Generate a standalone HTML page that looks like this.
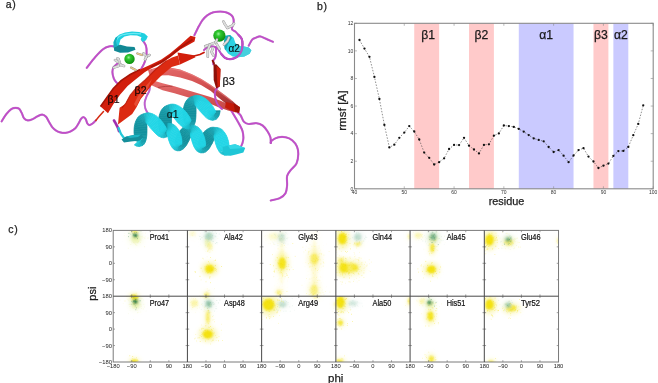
<!DOCTYPE html>
<html><head><meta charset="utf-8"><title>Figure</title>
<style>html,body{margin:0;padding:0;background:#fff;overflow:hidden}svg{display:block;filter:blur(0.45px)}</style></head>
<body><svg width="658" height="383" viewBox="0 0 658 383">
<rect width="658" height="383" fill="#fff"/>
<defs><linearGradient id="bru" x1="0" y1="0" x2="0.35" y2="1"><stop offset="0" stop-color="#e46a6a"/><stop offset="0.55" stop-color="#d45252"/><stop offset="1" stop-color="#a83434"/></linearGradient><linearGradient id="brl" x1="0" y1="0" x2="0.2" y2="1"><stop offset="0" stop-color="#e87070"/><stop offset="1" stop-color="#c84848"/></linearGradient></defs>
<polygon points="150.00,79.50 162.60,83.20 174.40,86.20 186.10,89.70 197.90,93.20 209.60,96.80 220.00,100.50 230.00,105.00 238.00,108.50 236.00,112.50 228.00,110.50 218.00,107.00 209.60,103.50 197.90,100.30 186.10,96.80 174.40,93.20 162.60,90.30 152.00,85.50" fill="url(#brl)" />
<path d="M158,87.5 C163,86.5 168,86 172.5,86.3" stroke="#9c3030" stroke-width="0.9" fill="none" opacity="0.7"/>
<polygon points="148.00,70.00 156.70,67.40 168.50,67.20 180.20,69.50 192.00,74.20 201.40,79.00 210.80,85.00 218.00,90.00 226.00,96.00 233.00,101.50 238.00,106.00 236.00,110.00 229.00,106.00 222.00,100.50 216.00,95.50 210.80,91.00 201.40,85.20 192.00,81.00 180.20,77.40 168.50,75.20 156.00,75.50 150.00,77.00" fill="url(#bru)" />
<path d="M152,70 C160,68 170,68 180,70.3 C190,73.5 200,78.5 210,85 L232,101" stroke="#ec8888" stroke-width="1.2" fill="none" opacity="0.6"/>
<path d="M1.60,121.40 C2.38,120.18 4.65,116.18 6.30,114.10 C7.95,112.02 9.93,109.95 11.50,108.90 C13.07,107.85 14.40,107.80 15.70,107.80 C17.00,107.80 18.25,107.93 19.30,108.90 C20.35,109.87 21.22,112.03 22.00,113.60 C22.78,115.17 23.05,117.17 24.00,118.30 C24.95,119.43 26.30,120.23 27.70,120.40 C29.10,120.57 30.75,120.00 32.40,119.30 C34.05,118.60 35.95,116.98 37.60,116.20 C39.25,115.42 40.90,114.52 42.30,114.60 C43.70,114.68 44.87,115.47 46.00,116.70 C47.13,117.93 48.05,120.25 49.10,122.00 C50.15,123.75 51.08,125.73 52.30,127.20 C53.52,128.67 55.08,129.93 56.40,130.80 C57.72,131.67 58.68,132.05 60.20,132.40 C61.72,132.75 63.75,133.07 65.50,132.90 C67.25,132.73 69.05,132.18 70.70,131.40 C72.35,130.62 74.10,129.52 75.40,128.20 C76.70,126.88 77.55,125.07 78.50,123.50 C79.45,121.93 80.23,119.85 81.10,118.80 C81.97,117.75 82.92,117.12 83.70,117.20 C84.48,117.28 85.18,118.25 85.80,119.30 C86.42,120.35 86.78,122.53 87.40,123.50 C88.02,124.47 88.63,125.10 89.50,125.10 C90.37,125.10 91.55,124.28 92.60,123.50 C93.65,122.72 95.27,120.92 95.80,120.40" fill="none" stroke="#8c2a9c" stroke-width="2.15" stroke-linecap="round" stroke-linejoin="round" opacity="0.45"/>
<path d="M1.60,121.40 C2.38,120.18 4.65,116.18 6.30,114.10 C7.95,112.02 9.93,109.95 11.50,108.90 C13.07,107.85 14.40,107.80 15.70,107.80 C17.00,107.80 18.25,107.93 19.30,108.90 C20.35,109.87 21.22,112.03 22.00,113.60 C22.78,115.17 23.05,117.17 24.00,118.30 C24.95,119.43 26.30,120.23 27.70,120.40 C29.10,120.57 30.75,120.00 32.40,119.30 C34.05,118.60 35.95,116.98 37.60,116.20 C39.25,115.42 40.90,114.52 42.30,114.60 C43.70,114.68 44.87,115.47 46.00,116.70 C47.13,117.93 48.05,120.25 49.10,122.00 C50.15,123.75 51.08,125.73 52.30,127.20 C53.52,128.67 55.08,129.93 56.40,130.80 C57.72,131.67 58.68,132.05 60.20,132.40 C61.72,132.75 63.75,133.07 65.50,132.90 C67.25,132.73 69.05,132.18 70.70,131.40 C72.35,130.62 74.10,129.52 75.40,128.20 C76.70,126.88 77.55,125.07 78.50,123.50 C79.45,121.93 80.23,119.85 81.10,118.80 C81.97,117.75 82.92,117.12 83.70,117.20 C84.48,117.28 85.18,118.25 85.80,119.30 C86.42,120.35 86.78,122.53 87.40,123.50 C88.02,124.47 88.63,125.10 89.50,125.10 C90.37,125.10 91.55,124.28 92.60,123.50 C93.65,122.72 95.27,120.92 95.80,120.40" fill="none" stroke="#c04ec8" stroke-width="1.75" stroke-linecap="round" stroke-linejoin="round"/>
<path d="M95.8,120.4 L99,116.6 L103.5,111.6" stroke="#d42a10" stroke-width="1.5" fill="none" stroke-linecap="round"/>
<path d="M86.70,67.90 C88.15,66.07 92.65,60.03 95.40,56.90 C98.15,53.77 100.85,50.87 103.20,49.10 C105.55,47.33 107.37,46.72 109.50,46.30 C111.63,45.88 114.92,46.55 116.00,46.60" fill="none" stroke="#8c2a9c" stroke-width="2.15" stroke-linecap="round" stroke-linejoin="round" opacity="0.45"/>
<path d="M86.70,67.90 C88.15,66.07 92.65,60.03 95.40,56.90 C98.15,53.77 100.85,50.87 103.20,49.10 C105.55,47.33 107.37,46.72 109.50,46.30 C111.63,45.88 114.92,46.55 116.00,46.60" fill="none" stroke="#c04ec8" stroke-width="1.75" stroke-linecap="round" stroke-linejoin="round"/>
<path d="M117.50,63.50 C116.83,64.17 114.35,66.08 113.50,67.50 C112.65,68.92 112.35,70.17 112.40,72.00 C112.45,73.83 113.12,76.75 113.80,78.50 C114.48,80.25 115.47,81.33 116.50,82.50 C117.53,83.67 119.42,85.00 120.00,85.50" fill="none" stroke="#8c2a9c" stroke-width="2.15" stroke-linecap="round" stroke-linejoin="round" opacity="0.45"/>
<path d="M117.50,63.50 C116.83,64.17 114.35,66.08 113.50,67.50 C112.65,68.92 112.35,70.17 112.40,72.00 C112.45,73.83 113.12,76.75 113.80,78.50 C114.48,80.25 115.47,81.33 116.50,82.50 C117.53,83.67 119.42,85.00 120.00,85.50" fill="none" stroke="#c04ec8" stroke-width="1.75" stroke-linecap="round" stroke-linejoin="round"/>
<path d="M142.00,39.40 C142.65,40.43 145.13,43.25 145.90,45.60 C146.67,47.95 146.75,50.88 146.60,53.50 C146.45,56.12 145.77,58.95 145.00,61.30 C144.23,63.65 143.03,65.77 142.00,67.60 C140.97,69.43 139.72,71.07 138.80,72.30 C137.88,73.53 136.88,74.55 136.50,75.00" fill="none" stroke="#8c2a9c" stroke-width="2.15" stroke-linecap="round" stroke-linejoin="round" opacity="0.45"/>
<path d="M142.00,39.40 C142.65,40.43 145.13,43.25 145.90,45.60 C146.67,47.95 146.75,50.88 146.60,53.50 C146.45,56.12 145.77,58.95 145.00,61.30 C144.23,63.65 143.03,65.77 142.00,67.60 C140.97,69.43 139.72,71.07 138.80,72.30 C137.88,73.53 136.88,74.55 136.50,75.00" fill="none" stroke="#c04ec8" stroke-width="1.75" stroke-linecap="round" stroke-linejoin="round"/>
<path d="M194.40,35.20 C194.78,34.42 195.92,32.07 196.70,30.50 C197.48,28.93 198.12,27.55 199.10,25.80 C200.08,24.05 201.23,21.75 202.60,20.00 C203.97,18.25 205.53,16.58 207.30,15.30 C209.07,14.02 211.05,12.93 213.20,12.30 C215.35,11.67 218.05,11.50 220.20,11.50 C222.35,11.50 224.33,11.77 226.10,12.30 C227.87,12.83 229.63,13.82 230.80,14.70 C231.97,15.58 232.62,16.33 233.10,17.60 C233.58,18.87 233.78,20.93 233.70,22.30 C233.62,23.67 232.88,24.62 232.60,25.80 C232.32,26.98 231.52,28.42 232.00,29.40 C232.48,30.38 234.40,30.77 235.50,31.70 C236.60,32.63 237.58,33.83 238.60,35.00 C239.62,36.17 240.95,37.18 241.60,38.70 C242.25,40.22 242.50,42.13 242.50,44.10 C242.50,46.07 242.20,48.67 241.60,50.50 C241.00,52.33 240.12,53.80 238.90,55.10 C237.68,56.40 235.83,57.62 234.30,58.30 C232.77,58.98 231.22,59.27 229.70,59.20 C228.18,59.13 226.57,58.73 225.20,57.90 C223.83,57.07 222.42,55.27 221.50,54.20 C220.58,53.13 220.30,52.42 219.70,51.50 C219.10,50.58 218.67,49.47 217.90,48.70 C217.13,47.93 216.17,47.28 215.10,46.90 C214.03,46.52 212.87,46.25 211.50,46.40 C210.13,46.55 208.15,47.20 206.90,47.80 C205.65,48.40 204.48,49.63 204.00,50.00" fill="none" stroke="#8c2a9c" stroke-width="2.15" stroke-linecap="round" stroke-linejoin="round" opacity="0.45"/>
<path d="M194.40,35.20 C194.78,34.42 195.92,32.07 196.70,30.50 C197.48,28.93 198.12,27.55 199.10,25.80 C200.08,24.05 201.23,21.75 202.60,20.00 C203.97,18.25 205.53,16.58 207.30,15.30 C209.07,14.02 211.05,12.93 213.20,12.30 C215.35,11.67 218.05,11.50 220.20,11.50 C222.35,11.50 224.33,11.77 226.10,12.30 C227.87,12.83 229.63,13.82 230.80,14.70 C231.97,15.58 232.62,16.33 233.10,17.60 C233.58,18.87 233.78,20.93 233.70,22.30 C233.62,23.67 232.88,24.62 232.60,25.80 C232.32,26.98 231.52,28.42 232.00,29.40 C232.48,30.38 234.40,30.77 235.50,31.70 C236.60,32.63 237.58,33.83 238.60,35.00 C239.62,36.17 240.95,37.18 241.60,38.70 C242.25,40.22 242.50,42.13 242.50,44.10 C242.50,46.07 242.20,48.67 241.60,50.50 C241.00,52.33 240.12,53.80 238.90,55.10 C237.68,56.40 235.83,57.62 234.30,58.30 C232.77,58.98 231.22,59.27 229.70,59.20 C228.18,59.13 226.57,58.73 225.20,57.90 C223.83,57.07 222.42,55.27 221.50,54.20 C220.58,53.13 220.30,52.42 219.70,51.50 C219.10,50.58 218.67,49.47 217.90,48.70 C217.13,47.93 216.17,47.28 215.10,46.90 C214.03,46.52 212.87,46.25 211.50,46.40 C210.13,46.55 208.15,47.20 206.90,47.80 C205.65,48.40 204.48,49.63 204.00,50.00" fill="none" stroke="#c04ec8" stroke-width="1.75" stroke-linecap="round" stroke-linejoin="round"/>
<path d="M216.00,47.80 C216.00,48.72 216.15,51.62 216.00,53.30 C215.85,54.98 215.55,56.68 215.10,57.90 C214.65,59.12 213.60,59.53 213.30,60.60 C213.00,61.67 213.30,63.68 213.30,64.30" fill="none" stroke="#8c2a9c" stroke-width="2.15" stroke-linecap="round" stroke-linejoin="round" opacity="0.45"/>
<path d="M216.00,47.80 C216.00,48.72 216.15,51.62 216.00,53.30 C215.85,54.98 215.55,56.68 215.10,57.90 C214.65,59.12 213.60,59.53 213.30,60.60 C213.00,61.67 213.30,63.68 213.30,64.30" fill="none" stroke="#c04ec8" stroke-width="1.75" stroke-linecap="round" stroke-linejoin="round"/>
<path d="M237.50,112.20 C238.02,112.72 239.55,113.73 240.60,115.30 C241.65,116.87 242.48,120.15 243.80,121.60 C245.12,123.05 246.42,123.73 248.50,124.00 C250.58,124.27 253.95,122.95 256.30,123.20 C258.65,123.45 260.77,124.20 262.60,125.50 C264.43,126.80 266.00,129.03 267.30,131.00 C268.60,132.97 269.83,135.30 270.40,137.30 C270.97,139.30 270.65,142.05 270.70,143.00" fill="none" stroke="#8c2a9c" stroke-width="2.15" stroke-linecap="round" stroke-linejoin="round" opacity="0.45"/>
<path d="M237.50,112.20 C238.02,112.72 239.55,113.73 240.60,115.30 C241.65,116.87 242.48,120.15 243.80,121.60 C245.12,123.05 246.42,123.73 248.50,124.00 C250.58,124.27 253.95,122.95 256.30,123.20 C258.65,123.45 260.77,124.20 262.60,125.50 C264.43,126.80 266.00,129.03 267.30,131.00 C268.60,132.97 269.83,135.30 270.40,137.30 C270.97,139.30 270.65,142.05 270.70,143.00" fill="none" stroke="#c04ec8" stroke-width="1.75" stroke-linecap="round" stroke-linejoin="round"/>
<path d="M270.70,143.00 C270.92,142.57 270.75,141.35 272.00,140.40 C273.25,139.45 275.87,137.82 278.20,137.30 C280.53,136.78 283.65,136.78 286.00,137.30 C288.35,137.82 290.47,138.85 292.30,140.40 C294.13,141.95 296.00,144.32 297.00,146.60 C298.00,148.88 298.38,151.28 298.30,154.10 C298.22,156.92 297.72,160.88 296.50,163.50 C295.28,166.12 292.57,167.72 291.00,169.80 C289.43,171.88 287.75,173.40 287.10,176.00 C286.45,178.60 287.37,182.52 287.10,185.40 C286.83,188.28 286.68,191.20 285.50,193.30 C284.32,195.40 282.47,196.80 280.00,198.00 C277.53,199.20 272.25,200.08 270.70,200.50" fill="none" stroke="#8c2a9c" stroke-width="2.15" stroke-linecap="round" stroke-linejoin="round" opacity="0.45"/>
<path d="M270.70,143.00 C270.92,142.57 270.75,141.35 272.00,140.40 C273.25,139.45 275.87,137.82 278.20,137.30 C280.53,136.78 283.65,136.78 286.00,137.30 C288.35,137.82 290.47,138.85 292.30,140.40 C294.13,141.95 296.00,144.32 297.00,146.60 C298.00,148.88 298.38,151.28 298.30,154.10 C298.22,156.92 297.72,160.88 296.50,163.50 C295.28,166.12 292.57,167.72 291.00,169.80 C289.43,171.88 287.75,173.40 287.10,176.00 C286.45,178.60 287.37,182.52 287.10,185.40 C286.83,188.28 286.68,191.20 285.50,193.30 C284.32,195.40 282.47,196.80 280.00,198.00 C277.53,199.20 272.25,200.08 270.70,200.50" fill="none" stroke="#c04ec8" stroke-width="1.75" stroke-linecap="round" stroke-linejoin="round"/>
<path d="M217.50,87.50 C217.08,88.25 215.33,90.08 215.00,92.00 C214.67,93.92 215.00,96.83 215.50,99.00 C216.00,101.17 216.92,103.33 218.00,105.00 C219.08,106.67 221.33,108.33 222.00,109.00" fill="none" stroke="#8c2a9c" stroke-width="2.15" stroke-linecap="round" stroke-linejoin="round" opacity="0.45"/>
<path d="M217.50,87.50 C217.08,88.25 215.33,90.08 215.00,92.00 C214.67,93.92 215.00,96.83 215.50,99.00 C216.00,101.17 216.92,103.33 218.00,105.00 C219.08,106.67 221.33,108.33 222.00,109.00" fill="none" stroke="#c04ec8" stroke-width="1.75" stroke-linecap="round" stroke-linejoin="round"/>
<path d="M231.30,110.60 C232.08,111.92 234.60,116.10 236.00,118.50 C237.40,120.90 238.62,122.92 239.70,125.00 C240.78,127.08 241.88,128.87 242.50,131.00 C243.12,133.13 243.40,135.80 243.40,137.80 C243.40,139.80 242.90,141.55 242.50,143.00 C242.10,144.45 241.25,145.92 241.00,146.50" fill="none" stroke="#8c2a9c" stroke-width="2.15" stroke-linecap="round" stroke-linejoin="round" opacity="0.45"/>
<path d="M231.30,110.60 C232.08,111.92 234.60,116.10 236.00,118.50 C237.40,120.90 238.62,122.92 239.70,125.00 C240.78,127.08 241.88,128.87 242.50,131.00 C243.12,133.13 243.40,135.80 243.40,137.80 C243.40,139.80 242.90,141.55 242.50,143.00 C242.10,144.45 241.25,145.92 241.00,146.50" fill="none" stroke="#c04ec8" stroke-width="1.75" stroke-linecap="round" stroke-linejoin="round"/>
<path d="M150.00,84.70 C149.90,85.68 149.98,88.63 149.40,90.60 C148.82,92.57 147.28,94.53 146.50,96.50 C145.72,98.47 144.90,100.45 144.70,102.40 C144.50,104.35 144.82,106.45 145.30,108.20 C145.78,109.95 147.22,112.12 147.60,112.90" fill="none" stroke="#8c2a9c" stroke-width="2.0" stroke-linecap="round" stroke-linejoin="round" opacity="0.45"/>
<path d="M150.00,84.70 C149.90,85.68 149.98,88.63 149.40,90.60 C148.82,92.57 147.28,94.53 146.50,96.50 C145.72,98.47 144.90,100.45 144.70,102.40 C144.50,104.35 144.82,106.45 145.30,108.20 C145.78,109.95 147.22,112.12 147.60,112.90" fill="none" stroke="#c060d0" stroke-width="1.6" stroke-linecap="round" stroke-linejoin="round"/>
<path d="M114.00,120.50 C114.33,121.08 115.33,122.75 116.00,124.00 C116.67,125.25 117.50,126.83 118.00,128.00 C118.50,129.17 118.83,130.50 119.00,131.00" fill="none" stroke="#8c2a9c" stroke-width="2.8" stroke-linecap="round" stroke-linejoin="round" opacity="0.45"/>
<path d="M114.00,120.50 C114.33,121.08 115.33,122.75 116.00,124.00 C116.67,125.25 117.50,126.83 118.00,128.00 C118.50,129.17 118.83,130.50 119.00,131.00" fill="none" stroke="#a02cb0" stroke-width="2.4" stroke-linecap="round" stroke-linejoin="round"/>
<polygon points="188.70,141.11 189.33,139.83 177.89,133.75 177.06,135.33" fill="#13909c" stroke="#13909c" stroke-width="0.7"/>
<polygon points="212.25,143.19 212.88,141.90 201.44,135.83 200.60,137.41" fill="#13909c" stroke="#13909c" stroke-width="0.7"/>
<polygon points="188.02,142.41 188.70,141.11 177.06,135.33 176.35,136.89" fill="#13909c" stroke="#13909c" stroke-width="0.7"/>
<polygon points="211.57,144.48 212.25,143.19 200.60,137.41 199.90,138.97" fill="#13909c" stroke="#13909c" stroke-width="0.7"/>
<polygon points="212.88,141.90 213.46,140.67 202.40,134.27 201.44,135.83" fill="#13919d" stroke="#13919d" stroke-width="0.7"/>
<polygon points="189.33,139.83 189.91,138.59 178.85,132.20 177.89,133.75" fill="#13919d" stroke="#13919d" stroke-width="0.7"/>
<polygon points="187.31,143.68 188.02,142.41 176.35,136.89 175.78,138.39" fill="#13919d" stroke="#13919d" stroke-width="0.7"/>
<polygon points="210.85,145.76 211.57,144.48 199.90,138.97 199.33,140.47" fill="#13919d" stroke="#13919d" stroke-width="0.7"/>
<polygon points="213.46,140.67 213.98,139.51 203.49,132.78 202.40,134.27" fill="#13929e" stroke="#13929e" stroke-width="0.7"/>
<polygon points="189.91,138.59 190.44,137.44 179.95,130.70 178.85,132.20" fill="#13929e" stroke="#13929e" stroke-width="0.7"/>
<polygon points="186.55,144.91 187.31,143.68 175.78,138.39 175.33,139.80" fill="#14929f" stroke="#14929f" stroke-width="0.7"/>
<polygon points="210.10,146.98 210.85,145.76 199.33,140.47 198.88,141.87" fill="#14929f" stroke="#14929f" stroke-width="0.7"/>
<polygon points="213.98,139.51 214.43,138.47 204.71,131.37 203.49,132.78" fill="#1494a0" stroke="#1494a0" stroke-width="0.7"/>
<polygon points="190.44,137.44 190.88,136.40 181.17,129.30 179.95,130.70" fill="#1494a0" stroke="#1494a0" stroke-width="0.7"/>
<polygon points="185.77,146.05 186.55,144.91 175.33,139.80 175.01,141.06" fill="#1494a1" stroke="#1494a1" stroke-width="0.7"/>
<polygon points="209.32,148.13 210.10,146.98 198.88,141.87 198.56,143.14" fill="#1494a1" stroke="#1494a1" stroke-width="0.7"/>
<polygon points="214.43,138.47 214.79,137.58 206.07,130.09 204.71,131.37" fill="#1596a2" stroke="#1596a2" stroke-width="0.7"/>
<polygon points="190.88,136.40 191.24,135.50 182.52,128.02 181.17,129.30" fill="#1596a2" stroke="#1596a2" stroke-width="0.7"/>
<polygon points="184.95,147.11 185.77,146.05 175.01,141.06 174.82,142.14" fill="#1597a3" stroke="#1597a3" stroke-width="0.7"/>
<polygon points="208.50,149.18 209.32,148.13 198.56,143.14 198.37,144.21" fill="#1597a3" stroke="#1597a3" stroke-width="0.7"/>
<polygon points="214.79,137.58 215.04,136.85 207.57,128.97 206.07,130.09" fill="#1599a5" stroke="#1599a5" stroke-width="0.7"/>
<polygon points="167.70,133.43 167.95,132.69 160.48,124.82 158.98,125.94" fill="#1599a5" stroke="#1599a5" stroke-width="0.7"/>
<polygon points="191.24,135.50 191.49,134.77 184.03,126.90 182.52,128.02" fill="#1599a5" stroke="#1599a5" stroke-width="0.7"/>
<polygon points="184.08,148.07 184.95,147.11 174.82,142.14 174.77,142.98" fill="#169aa6" stroke="#169aa6" stroke-width="0.7"/>
<polygon points="207.62,150.14 208.50,149.18 198.37,144.21 198.31,145.05" fill="#169aa6" stroke="#169aa6" stroke-width="0.7"/>
<polygon points="167.95,132.69 168.05,132.13 162.14,123.91 160.48,124.82" fill="#169ca9" stroke="#169ca9" stroke-width="0.7"/>
<polygon points="215.04,136.85 215.15,136.28 209.23,128.06 207.57,128.97" fill="#169ca9" stroke="#169ca9" stroke-width="0.7"/>
<polygon points="191.49,134.77 191.60,134.21 185.69,125.98 184.03,126.90" fill="#169ca9" stroke="#169ca9" stroke-width="0.7"/>
<polygon points="183.11,148.96 184.08,148.07 174.77,142.98 174.89,143.51" fill="#179daa" stroke="#179daa" stroke-width="0.7"/>
<polygon points="206.66,151.03 207.62,150.14 198.31,145.05 198.43,145.58" fill="#179daa" stroke="#179daa" stroke-width="0.7"/>
<polygon points="215.15,136.28 215.09,135.85 211.06,127.43 209.23,128.06" fill="#179fad" stroke="#179fad" stroke-width="0.7"/>
<polygon points="168.05,132.13 168.00,131.70 163.97,123.27 162.14,123.91" fill="#179fad" stroke="#179fad" stroke-width="0.7"/>
<polygon points="191.60,134.21 191.54,133.78 187.51,125.35 185.69,125.98" fill="#179fad" stroke="#179fad" stroke-width="0.7"/>
<polygon points="181.91,149.84 183.11,148.96 174.89,143.51 175.32,143.63" fill="#18a1ae" stroke="#18a1ae" stroke-width="0.7"/>
<polygon points="205.46,151.92 206.66,151.03 198.43,145.58 198.86,145.70" fill="#18a1ae" stroke="#18a1ae" stroke-width="0.7"/>
<polygon points="215.09,135.85 214.89,135.48 213.02,127.18 211.06,127.43" fill="#18a3b1" stroke="#18a3b1" stroke-width="0.7"/>
<polygon points="168.00,131.70 167.80,131.33 165.93,123.03 163.97,123.27" fill="#18a3b1" stroke="#18a3b1" stroke-width="0.7"/>
<polygon points="191.54,133.78 191.34,133.40 189.48,125.10 187.51,125.35" fill="#18a3b1" stroke="#18a3b1" stroke-width="0.7"/>
<polygon points="180.04,150.71 181.91,149.84 175.32,143.63 176.47,143.31" fill="#19a5b2" stroke="#19a5b2" stroke-width="0.7"/>
<polygon points="203.59,152.79 205.46,151.92 198.86,145.70 200.02,145.39" fill="#19a5b2" stroke="#19a5b2" stroke-width="0.7"/>
<polygon points="214.89,135.48 214.67,135.07 214.98,127.43 213.02,127.18" fill="#19a7b5" stroke="#19a7b5" stroke-width="0.7"/>
<polygon points="167.80,131.33 167.57,130.92 167.89,123.27 165.93,123.03" fill="#19a7b5" stroke="#19a7b5" stroke-width="0.7"/>
<polygon points="191.34,133.40 191.12,132.99 191.44,125.35 189.48,125.10" fill="#19a7b5" stroke="#19a7b5" stroke-width="0.7"/>
<polygon points="177.12,150.80 180.04,150.71 176.47,143.31 178.73,143.32" fill="#1aa9b7" stroke="#1aa9b7" stroke-width="0.7"/>
<polygon points="200.67,152.88 203.59,152.79 200.02,145.39 202.28,145.40" fill="#1aa9b7" stroke="#1aa9b7" stroke-width="0.7"/>
<polygon points="224.22,154.95 227.13,154.87 223.58,147.46 225.83,147.47" fill="#1aa9b7" stroke="#1aa9b7" stroke-width="0.7"/>
<polygon points="146.97,131.88 147.00,130.19 134.02,129.83 133.99,131.83" fill="#13909c" stroke="#13909c" stroke-width="0.7"/>
<polygon points="171.49,123.14 171.52,121.45 158.54,121.09 158.52,123.09" fill="#13909c" stroke="#13909c" stroke-width="0.7"/>
<polygon points="196.01,114.40 196.05,112.71 183.06,112.35 183.04,114.35" fill="#13909c" stroke="#13909c" stroke-width="0.7"/>
<polygon points="147.00,130.19 147.01,128.55 134.16,127.78 134.02,129.83" fill="#13909c" stroke="#13909c" stroke-width="0.7"/>
<polygon points="171.52,121.45 171.54,119.81 158.68,119.05 158.54,121.09" fill="#13909c" stroke="#13909c" stroke-width="0.7"/>
<polygon points="196.05,112.71 196.06,111.07 183.21,110.31 183.06,112.35" fill="#13909c" stroke="#13909c" stroke-width="0.7"/>
<polygon points="171.42,124.83 171.49,123.14 158.52,123.09 158.60,124.99" fill="#13909d" stroke="#13909d" stroke-width="0.7"/>
<polygon points="146.90,133.57 146.97,131.88 133.99,131.83 134.08,133.73" fill="#13909d" stroke="#13909d" stroke-width="0.7"/>
<polygon points="195.95,116.09 196.01,114.40 183.04,114.35 183.13,116.26" fill="#13909d" stroke="#13909d" stroke-width="0.7"/>
<polygon points="196.06,111.07 196.06,109.52 183.50,108.25 183.21,110.31" fill="#13919d" stroke="#13919d" stroke-width="0.7"/>
<polygon points="147.01,128.55 147.01,127.00 134.45,125.73 134.16,127.78" fill="#13919d" stroke="#13919d" stroke-width="0.7"/>
<polygon points="171.54,119.81 171.53,118.26 158.97,116.99 158.68,119.05" fill="#13919d" stroke="#13919d" stroke-width="0.7"/>
<polygon points="171.31,126.50 171.42,124.83 158.60,124.99 158.78,126.77" fill="#13929e" stroke="#13929e" stroke-width="0.7"/>
<polygon points="195.83,117.76 195.95,116.09 183.13,116.26 183.30,118.03" fill="#13929e" stroke="#13929e" stroke-width="0.7"/>
<polygon points="146.79,135.24 146.90,133.57 134.08,133.73 134.25,135.51" fill="#13929e" stroke="#13929e" stroke-width="0.7"/>
<polygon points="196.06,109.52 196.05,108.09 183.94,106.22 183.50,108.25" fill="#14939f" stroke="#14939f" stroke-width="0.7"/>
<polygon points="147.01,127.00 147.00,125.57 134.90,123.69 134.45,125.73" fill="#14939f" stroke="#14939f" stroke-width="0.7"/>
<polygon points="171.53,118.26 171.52,116.83 159.42,114.96 158.97,116.99" fill="#14939f" stroke="#14939f" stroke-width="0.7"/>
<polygon points="171.14,128.10 171.31,126.50 158.78,126.77 159.02,128.37" fill="#14939f" stroke="#14939f" stroke-width="0.7"/>
<polygon points="146.62,136.84 146.79,135.24 134.25,135.51 134.49,137.10" fill="#14939f" stroke="#14939f" stroke-width="0.7"/>
<polygon points="195.67,119.36 195.83,117.76 183.30,118.03 183.54,119.63" fill="#14939f" stroke="#14939f" stroke-width="0.7"/>
<polygon points="147.00,125.57 146.99,124.32 135.52,121.72 134.90,123.69" fill="#1495a1" stroke="#1495a1" stroke-width="0.7"/>
<polygon points="196.05,108.09 196.03,106.84 184.57,104.24 183.94,106.22" fill="#1495a1" stroke="#1495a1" stroke-width="0.7"/>
<polygon points="171.52,116.83 171.51,115.58 160.04,112.98 159.42,114.96" fill="#1495a1" stroke="#1495a1" stroke-width="0.7"/>
<polygon points="170.91,129.62 171.14,128.10 159.02,128.37 159.30,129.75" fill="#1495a2" stroke="#1495a2" stroke-width="0.7"/>
<polygon points="219.95,112.15 220.19,110.63 208.06,110.89 208.35,112.27" fill="#1495a2" stroke="#1495a2" stroke-width="0.7"/>
<polygon points="146.38,138.36 146.62,136.84 134.49,137.10 134.78,138.49" fill="#1495a2" stroke="#1495a2" stroke-width="0.7"/>
<polygon points="195.43,120.88 195.67,119.36 183.54,119.63 183.83,121.01" fill="#1495a2" stroke="#1495a2" stroke-width="0.7"/>
<polygon points="146.99,124.32 146.96,123.27 136.34,119.84 135.52,121.72" fill="#1597a4" stroke="#1597a4" stroke-width="0.7"/>
<polygon points="171.51,115.58 171.48,114.53 160.87,111.10 160.04,112.98" fill="#1597a4" stroke="#1597a4" stroke-width="0.7"/>
<polygon points="196.03,106.84 196.01,105.80 185.39,102.36 184.57,104.24" fill="#1597a4" stroke="#1597a4" stroke-width="0.7"/>
<polygon points="219.64,113.57 219.95,112.15 208.35,112.27 208.66,113.39" fill="#1598a5" stroke="#1598a5" stroke-width="0.7"/>
<polygon points="195.12,122.30 195.43,120.88 183.83,121.01 184.14,122.13" fill="#1598a5" stroke="#1598a5" stroke-width="0.7"/>
<polygon points="170.59,131.04 170.91,129.62 159.30,129.75 159.61,130.86" fill="#1598a5" stroke="#1598a5" stroke-width="0.7"/>
<polygon points="146.07,139.78 146.38,138.36 134.78,138.49 135.09,139.60" fill="#1598a5" stroke="#1598a5" stroke-width="0.7"/>
<polygon points="146.96,123.27 146.90,122.46 137.39,118.08 136.34,119.84" fill="#169aa7" stroke="#169aa7" stroke-width="0.7"/>
<polygon points="171.48,114.53 171.43,113.72 161.91,109.34 160.87,111.10" fill="#169aa7" stroke="#169aa7" stroke-width="0.7"/>
<polygon points="196.01,105.80 195.95,104.98 186.44,100.60 185.39,102.36" fill="#169aa7" stroke="#169aa7" stroke-width="0.7"/>
<polygon points="219.23,114.90 219.64,113.57 208.66,113.39 208.98,114.17" fill="#169ba8" stroke="#169ba8" stroke-width="0.7"/>
<polygon points="194.71,123.64 195.12,122.30 184.14,122.13 184.46,122.91" fill="#169ba8" stroke="#169ba8" stroke-width="0.7"/>
<polygon points="170.19,132.38 170.59,131.04 159.61,130.86 159.94,131.65" fill="#169ba8" stroke="#169ba8" stroke-width="0.7"/>
<polygon points="145.66,141.12 146.07,139.78 135.09,139.60 135.41,140.39" fill="#169ba8" stroke="#169ba8" stroke-width="0.7"/>
<polygon points="146.90,122.46 146.78,121.89 138.71,116.49 137.39,118.08" fill="#179eab" stroke="#179eab" stroke-width="0.7"/>
<polygon points="171.43,113.72 171.30,113.15 163.23,107.75 161.91,109.34" fill="#179eab" stroke="#179eab" stroke-width="0.7"/>
<polygon points="195.95,104.98 195.83,104.42 187.76,99.01 186.44,100.60" fill="#179eab" stroke="#179eab" stroke-width="0.7"/>
<polygon points="218.68,116.22 219.23,114.90 208.98,114.17 209.34,114.52" fill="#179fac" stroke="#179fac" stroke-width="0.7"/>
<polygon points="169.64,133.70 170.19,132.38 159.94,131.65 160.29,132.00" fill="#179fac" stroke="#179fac" stroke-width="0.7"/>
<polygon points="145.11,142.43 145.66,141.12 135.41,140.39 135.77,140.74" fill="#179fac" stroke="#179fac" stroke-width="0.7"/>
<polygon points="194.16,124.96 194.71,123.64 184.46,122.91 184.82,123.26" fill="#179fac" stroke="#179fac" stroke-width="0.7"/>
<polygon points="146.78,121.89 146.55,121.52 140.33,115.16 138.71,116.49" fill="#18a1af" stroke="#18a1af" stroke-width="0.7"/>
<polygon points="195.83,104.42 195.60,104.04 189.38,97.68 187.76,99.01" fill="#18a1af" stroke="#18a1af" stroke-width="0.7"/>
<polygon points="171.30,113.15 171.08,112.78 164.86,106.42 163.23,107.75" fill="#18a1af" stroke="#18a1af" stroke-width="0.7"/>
<polygon points="168.77,135.18 169.64,133.70 160.29,132.00 160.83,131.69" fill="#18a3b0" stroke="#18a3b0" stroke-width="0.7"/>
<polygon points="217.81,117.70 218.68,116.22 209.34,114.52 209.88,114.22" fill="#18a3b0" stroke="#18a3b0" stroke-width="0.7"/>
<polygon points="144.25,143.92 145.11,142.43 135.77,140.74 136.31,140.43" fill="#18a3b0" stroke="#18a3b0" stroke-width="0.7"/>
<polygon points="193.29,126.44 194.16,124.96 184.82,123.26 185.35,122.95" fill="#18a3b0" stroke="#18a3b0" stroke-width="0.7"/>
<polygon points="195.60,104.04 195.28,103.75 191.29,96.76 189.38,97.68" fill="#19a5b3" stroke="#19a5b3" stroke-width="0.7"/>
<polygon points="146.55,121.52 146.24,121.22 142.24,114.24 140.33,115.16" fill="#19a5b3" stroke="#19a5b3" stroke-width="0.7"/>
<polygon points="171.08,112.78 170.76,112.49 166.77,105.50 164.86,106.42" fill="#19a5b3" stroke="#19a5b3" stroke-width="0.7"/>
<polygon points="215.89,119.46 217.81,117.70 209.88,114.22 211.31,113.13" fill="#19a6b4" stroke="#19a6b4" stroke-width="0.7"/>
<polygon points="191.37,128.20 193.29,126.44 185.35,122.95 186.79,121.87" fill="#19a6b4" stroke="#19a6b4" stroke-width="0.7"/>
<polygon points="166.85,136.94 168.77,135.18 160.83,131.69 162.26,130.60" fill="#19a6b4" stroke="#19a6b4" stroke-width="0.7"/>
<polygon points="142.32,145.68 144.25,143.92 136.31,140.43 137.74,139.34" fill="#19a6b4" stroke="#19a6b4" stroke-width="0.7"/>
<polygon points="146.24,121.22 146.06,121.17 144.21,113.58 142.24,114.24" fill="#1aa9b7" stroke="#1aa9b7" stroke-width="0.7"/>
<polygon points="195.28,103.75 195.11,103.69 193.25,96.10 191.29,96.76" fill="#1aa9b7" stroke="#1aa9b7" stroke-width="0.7"/>
<polygon points="170.76,112.49 170.58,112.43 168.73,104.84 166.77,105.50" fill="#1aa9b7" stroke="#1aa9b7" stroke-width="0.7"/>
<polygon points="191.12,132.99 190.87,133.23 193.38,125.41 191.44,125.35" fill="#1bb6c4" stroke="#1bb6c4" stroke-width="0.7"/>
<polygon points="214.67,135.07 214.42,135.31 216.93,127.49 214.98,127.43" fill="#1bb6c4" stroke="#1bb6c4" stroke-width="0.7"/>
<polygon points="167.57,130.92 167.33,131.16 169.83,123.34 167.89,123.27" fill="#1bb6c4" stroke="#1bb6c4" stroke-width="0.7"/>
<polygon points="174.62,149.89 177.12,150.80 178.73,143.32 180.62,143.86" fill="#1bb9c7" stroke="#1bb9c7" stroke-width="0.7"/>
<polygon points="198.16,151.96 200.67,152.88 202.28,145.40 204.17,145.94" fill="#1bb9c7" stroke="#1bb9c7" stroke-width="0.7"/>
<polygon points="221.71,154.04 224.22,154.95 225.83,147.47 227.72,148.02" fill="#1bb9c7" stroke="#1bb9c7" stroke-width="0.7"/>
<polygon points="214.42,135.31 214.13,135.64 218.86,127.92 216.93,127.49" fill="#1cbdcc" stroke="#1cbdcc" stroke-width="0.7"/>
<polygon points="190.87,133.23 190.58,133.57 195.32,125.84 193.38,125.41" fill="#1cbdcc" stroke="#1cbdcc" stroke-width="0.7"/>
<polygon points="167.33,131.16 167.04,131.49 171.77,123.77 169.83,123.34" fill="#1cbdcc" stroke="#1cbdcc" stroke-width="0.7"/>
<polygon points="173.24,148.73 174.62,149.89 180.62,143.86 181.41,144.19" fill="#1dbfce" stroke="#1dbfce" stroke-width="0.7"/>
<polygon points="196.79,150.80 198.16,151.96 204.17,145.94 204.95,146.27" fill="#1dbfce" stroke="#1dbfce" stroke-width="0.7"/>
<polygon points="220.34,152.88 221.71,154.04 227.72,148.02 228.50,148.35" fill="#1dbfce" stroke="#1dbfce" stroke-width="0.7"/>
<polygon points="214.13,135.64 213.95,136.02 220.63,128.76 218.86,127.92" fill="#1ec4d3" stroke="#1ec4d3" stroke-width="0.7"/>
<polygon points="190.58,133.57 190.40,133.94 197.08,126.68 195.32,125.84" fill="#1ec4d3" stroke="#1ec4d3" stroke-width="0.7"/>
<polygon points="167.04,131.49 166.86,131.86 173.53,124.61 171.77,123.77" fill="#1ec4d3" stroke="#1ec4d3" stroke-width="0.7"/>
<polygon points="172.32,147.68 173.24,148.73 181.41,144.19 181.75,143.98" fill="#1ec6d5" stroke="#1ec6d5" stroke-width="0.7"/>
<polygon points="195.87,149.75 196.79,150.80 204.95,146.27 205.29,146.05" fill="#1ec6d5" stroke="#1ec6d5" stroke-width="0.7"/>
<polygon points="219.41,151.83 220.34,152.88 228.50,148.35 228.84,148.13" fill="#1ec6d5" stroke="#1ec6d5" stroke-width="0.7"/>
<polygon points="213.95,136.02 213.91,136.53 222.18,129.87 220.63,128.76" fill="#1fcad9" stroke="#1fcad9" stroke-width="0.7"/>
<polygon points="190.40,133.94 190.37,134.45 198.63,127.79 197.08,126.68" fill="#1fcad9" stroke="#1fcad9" stroke-width="0.7"/>
<polygon points="166.86,131.86 166.82,132.38 175.08,125.72 173.53,124.61" fill="#1fcad9" stroke="#1fcad9" stroke-width="0.7"/>
<polygon points="171.57,146.62 172.32,147.68 181.75,143.98 181.91,143.35" fill="#20ccdb" stroke="#20ccdb" stroke-width="0.7"/>
<polygon points="195.11,148.69 195.87,149.75 205.29,146.05 205.46,145.43" fill="#20ccdb" stroke="#20ccdb" stroke-width="0.7"/>
<polygon points="218.66,150.77 219.41,151.83 228.84,148.13 229.01,147.50" fill="#20ccdb" stroke="#20ccdb" stroke-width="0.7"/>
<polygon points="213.91,136.53 214.00,137.23 223.52,131.18 222.18,129.87" fill="#21d0df" stroke="#21d0df" stroke-width="0.7"/>
<polygon points="190.37,134.45 190.45,135.15 199.97,129.10 198.63,127.79" fill="#21d0df" stroke="#21d0df" stroke-width="0.7"/>
<polygon points="166.82,132.38 166.90,133.08 176.43,127.03 175.08,125.72" fill="#21d0df" stroke="#21d0df" stroke-width="0.7"/>
<polygon points="170.90,145.49 171.57,146.62 181.91,143.35 181.97,142.42" fill="#21d2e1" stroke="#21d2e1" stroke-width="0.7"/>
<polygon points="194.45,147.57 195.11,148.69 205.46,145.43 205.52,144.49" fill="#21d2e1" stroke="#21d2e1" stroke-width="0.7"/>
<polygon points="217.99,149.64 218.66,150.77 229.01,147.50 229.07,146.57" fill="#21d2e1" stroke="#21d2e1" stroke-width="0.7"/>
<polygon points="214.00,137.23 214.17,138.11 224.69,132.64 223.52,131.18" fill="#22d5e5" stroke="#22d5e5" stroke-width="0.7"/>
<polygon points="190.45,135.15 190.62,136.04 201.14,130.56 199.97,129.10" fill="#22d5e5" stroke="#22d5e5" stroke-width="0.7"/>
<polygon points="166.90,133.08 167.07,133.96 177.59,128.49 176.43,127.03" fill="#22d5e5" stroke="#22d5e5" stroke-width="0.7"/>
<polygon points="170.29,144.28 170.90,145.49 181.97,142.42 181.94,141.25" fill="#22d6e6" stroke="#22d6e6" stroke-width="0.7"/>
<polygon points="193.84,146.36 194.45,147.57 205.52,144.49 205.49,143.32" fill="#22d6e6" stroke="#22d6e6" stroke-width="0.7"/>
<polygon points="217.39,148.43 217.99,149.64 229.07,146.57 229.04,145.40" fill="#22d6e6" stroke="#22d6e6" stroke-width="0.7"/>
<polygon points="214.17,138.11 214.41,139.16 225.70,134.20 224.69,132.64" fill="#22d6e6" stroke="#22d6e6" stroke-width="0.7"/>
<polygon points="167.07,133.96 167.31,135.01 178.60,130.05 177.59,128.49" fill="#22d6e6" stroke="#22d6e6" stroke-width="0.7"/>
<polygon points="190.62,136.04 190.86,137.09 202.15,132.13 201.14,130.56" fill="#22d6e6" stroke="#22d6e6" stroke-width="0.7"/>
<polygon points="169.74,142.99 170.29,144.28 181.94,141.25 181.81,139.89" fill="#22d6e6" stroke="#22d6e6" stroke-width="0.7"/>
<polygon points="193.29,145.06 193.84,146.36 205.49,143.32 205.36,141.96" fill="#22d6e6" stroke="#22d6e6" stroke-width="0.7"/>
<polygon points="216.83,147.14 217.39,148.43 229.04,145.40 228.91,144.04" fill="#22d6e6" stroke="#22d6e6" stroke-width="0.7"/>
<polygon points="214.41,139.16 214.70,140.35 226.56,135.85 225.70,134.20" fill="#22d6e6" stroke="#22d6e6" stroke-width="0.7"/>
<polygon points="167.31,135.01 167.61,136.20 179.47,131.70 178.60,130.05" fill="#22d6e6" stroke="#22d6e6" stroke-width="0.7"/>
<polygon points="190.86,137.09 191.16,138.28 203.01,133.77 202.15,132.13" fill="#22d6e6" stroke="#22d6e6" stroke-width="0.7"/>
<polygon points="169.23,141.63 169.74,142.99 181.81,139.89 181.58,138.38" fill="#22d6e6" stroke="#22d6e6" stroke-width="0.7"/>
<polygon points="192.78,143.71 193.29,145.06 205.36,141.96 205.13,140.46" fill="#22d6e6" stroke="#22d6e6" stroke-width="0.7"/>
<polygon points="216.32,145.78 216.83,147.14 228.91,144.04 228.68,142.53" fill="#22d6e6" stroke="#22d6e6" stroke-width="0.7"/>
<polygon points="214.70,140.35 215.04,141.64 227.28,137.54 226.56,135.85" fill="#22d6e6" stroke="#22d6e6" stroke-width="0.7"/>
<polygon points="191.16,138.28 191.50,139.57 203.73,135.47 203.01,133.77" fill="#22d6e6" stroke="#22d6e6" stroke-width="0.7"/>
<polygon points="167.61,136.20 167.95,137.49 180.19,133.39 179.47,131.70" fill="#22d6e6" stroke="#22d6e6" stroke-width="0.7"/>
<polygon points="168.76,140.24 169.23,141.63 181.58,138.38 181.24,136.77" fill="#22d6e6" stroke="#22d6e6" stroke-width="0.7"/>
<polygon points="192.31,142.32 192.78,143.71 205.13,140.46 204.79,138.84" fill="#22d6e6" stroke="#22d6e6" stroke-width="0.7"/>
<polygon points="215.85,144.40 216.32,145.78 228.68,142.53 228.33,140.92" fill="#22d6e6" stroke="#22d6e6" stroke-width="0.7"/>
<polygon points="215.04,141.64 215.43,143.00 227.87,139.24 227.28,137.54" fill="#22d6e6" stroke="#22d6e6" stroke-width="0.7"/>
<polygon points="191.50,139.57 191.88,140.93 204.32,137.17 203.73,135.47" fill="#22d6e6" stroke="#22d6e6" stroke-width="0.7"/>
<polygon points="167.95,137.49 168.33,138.85 180.78,135.09 180.19,133.39" fill="#22d6e6" stroke="#22d6e6" stroke-width="0.7"/>
<polygon points="168.33,138.85 168.76,140.24 181.24,136.77 180.78,135.09" fill="#22d6e6" stroke="#22d6e6" stroke-width="0.7"/>
<polygon points="191.88,140.93 192.31,142.32 204.79,138.84 204.32,137.17" fill="#22d6e6" stroke="#22d6e6" stroke-width="0.7"/>
<polygon points="215.43,143.00 215.85,144.40 228.33,140.92 227.87,139.24" fill="#22d6e6" stroke="#22d6e6" stroke-width="0.7"/>
<polygon points="222.50,147.00 228.00,145.50 235.20,144.20 245.20,147.90 243.40,152.40 236.00,154.50 230.60,155.80 224.00,155.50" fill="#1fc6d6" />
<polygon points="228.00,145.50 235.20,144.20 245.20,147.90 238.00,148.50 230.00,149.00" fill="#34d8e6" />
<polygon points="212.77,120.37 215.89,119.46 211.31,113.13 213.76,112.38" fill="#1ab5c3" stroke="#1ab5c3" stroke-width="0.7"/>
<polygon points="188.25,129.10 191.37,128.20 186.79,121.87 189.24,121.12" fill="#1ab5c3" stroke="#1ab5c3" stroke-width="0.7"/>
<polygon points="163.72,137.84 166.85,136.94 162.26,130.60 164.72,129.86" fill="#1ab5c3" stroke="#1ab5c3" stroke-width="0.7"/>
<polygon points="139.20,146.58 142.32,145.68 137.74,139.34 140.20,138.60" fill="#1ab5c3" stroke="#1ab5c3" stroke-width="0.7"/>
<polygon points="146.06,121.17 146.01,121.61 146.23,112.94 144.21,113.58" fill="#1bbac8" stroke="#1bbac8" stroke-width="0.7"/>
<polygon points="170.58,112.43 170.53,112.87 170.75,104.20 168.73,104.84" fill="#1bbac8" stroke="#1bbac8" stroke-width="0.7"/>
<polygon points="195.11,103.69 195.05,104.13 195.27,95.46 193.25,96.10" fill="#1bbac8" stroke="#1bbac8" stroke-width="0.7"/>
<polygon points="210.50,119.98 212.77,120.37 213.76,112.38 215.18,112.42" fill="#1cbcca" stroke="#1cbcca" stroke-width="0.7"/>
<polygon points="161.45,137.46 163.72,137.84 164.72,129.86 166.14,129.90" fill="#1cbcca" stroke="#1cbcca" stroke-width="0.7"/>
<polygon points="136.93,146.20 139.20,146.58 140.20,138.60 141.61,138.64" fill="#1cbcca" stroke="#1cbcca" stroke-width="0.7"/>
<polygon points="185.97,128.72 188.25,129.10 189.24,121.12 190.66,121.16" fill="#1cbcca" stroke="#1cbcca" stroke-width="0.7"/>
<polygon points="170.53,112.87 170.54,113.29 172.86,104.08 170.75,104.20" fill="#1dc1cf" stroke="#1dc1cf" stroke-width="0.7"/>
<polygon points="195.05,104.13 195.07,104.55 197.38,95.34 195.27,95.46" fill="#1dc1cf" stroke="#1dc1cf" stroke-width="0.7"/>
<polygon points="146.01,121.61 146.02,122.03 148.33,112.82 146.23,112.94" fill="#1dc1cf" stroke="#1dc1cf" stroke-width="0.7"/>
<polygon points="209.03,119.36 210.50,119.98 215.18,112.42 215.60,112.21" fill="#1dc2d1" stroke="#1dc2d1" stroke-width="0.7"/>
<polygon points="159.98,136.84 161.45,137.46 166.14,129.90 166.55,129.69" fill="#1dc2d1" stroke="#1dc2d1" stroke-width="0.7"/>
<polygon points="135.46,145.58 136.93,146.20 141.61,138.64 142.03,138.43" fill="#1dc2d1" stroke="#1dc2d1" stroke-width="0.7"/>
<polygon points="184.50,128.10 185.97,128.72 190.66,121.16 191.08,120.95" fill="#1dc2d1" stroke="#1dc2d1" stroke-width="0.7"/>
<polygon points="170.54,113.29 170.75,113.78 174.91,104.38 172.86,104.08" fill="#1fc7d6" stroke="#1fc7d6" stroke-width="0.7"/>
<polygon points="195.07,104.55 195.27,105.04 199.43,95.64 197.38,95.34" fill="#1fc7d6" stroke="#1fc7d6" stroke-width="0.7"/>
<polygon points="146.02,122.03 146.23,122.52 150.38,113.12 148.33,112.82" fill="#1fc7d6" stroke="#1fc7d6" stroke-width="0.7"/>
<polygon points="207.81,118.66 209.03,119.36 215.60,112.21 215.56,111.62" fill="#1fc9d8" stroke="#1fc9d8" stroke-width="0.7"/>
<polygon points="183.28,127.40 184.50,128.10 191.08,120.95 191.04,120.36" fill="#1fc9d8" stroke="#1fc9d8" stroke-width="0.7"/>
<polygon points="158.76,136.14 159.98,136.84 166.55,129.69 166.51,129.10" fill="#1fc9d8" stroke="#1fc9d8" stroke-width="0.7"/>
<polygon points="134.24,144.88 135.46,145.58 142.03,138.43 141.99,137.84" fill="#1fc9d8" stroke="#1fc9d8" stroke-width="0.7"/>
<polygon points="170.75,113.78 171.17,114.40 176.86,105.01 174.91,104.38" fill="#20cddd" stroke="#20cddd" stroke-width="0.7"/>
<polygon points="195.27,105.04 195.69,105.66 201.38,96.27 199.43,95.64" fill="#20cddd" stroke="#20cddd" stroke-width="0.7"/>
<polygon points="146.23,122.52 146.64,123.14 152.34,113.75 150.38,113.12" fill="#20cddd" stroke="#20cddd" stroke-width="0.7"/>
<polygon points="206.66,117.86 207.81,118.66 215.56,111.62 215.25,110.74" fill="#20cfde" stroke="#20cfde" stroke-width="0.7"/>
<polygon points="182.13,126.59 183.28,127.40 191.04,120.36 190.73,119.48" fill="#20cfde" stroke="#20cfde" stroke-width="0.7"/>
<polygon points="157.61,135.33 158.76,136.14 166.51,129.10 166.21,128.22" fill="#20cfde" stroke="#20cfde" stroke-width="0.7"/>
<polygon points="146.64,123.14 147.24,123.92 154.19,114.63 152.34,113.75" fill="#21d2e2" stroke="#21d2e2" stroke-width="0.7"/>
<polygon points="171.17,114.40 171.76,115.19 178.71,105.89 176.86,105.01" fill="#21d2e2" stroke="#21d2e2" stroke-width="0.7"/>
<polygon points="195.69,105.66 196.29,106.45 203.23,97.15 201.38,96.27" fill="#21d2e2" stroke="#21d2e2" stroke-width="0.7"/>
<polygon points="205.52,116.92 206.66,117.86 215.25,110.74 214.73,109.62" fill="#21d4e4" stroke="#21d4e4" stroke-width="0.7"/>
<polygon points="156.47,134.39 157.61,135.33 166.21,128.22 165.69,127.10" fill="#21d4e4" stroke="#21d4e4" stroke-width="0.7"/>
<polygon points="180.99,125.66 182.13,126.59 190.73,119.48 190.21,118.36" fill="#21d4e4" stroke="#21d4e4" stroke-width="0.7"/>
<polygon points="171.76,115.19 172.51,116.13 180.47,106.97 178.71,105.89" fill="#22d6e6" stroke="#22d6e6" stroke-width="0.7"/>
<polygon points="147.24,123.92 147.99,124.87 155.95,115.71 154.19,114.63" fill="#22d6e6" stroke="#22d6e6" stroke-width="0.7"/>
<polygon points="196.29,106.45 197.03,107.39 204.99,98.23 203.23,97.15" fill="#22d6e6" stroke="#22d6e6" stroke-width="0.7"/>
<polygon points="204.37,115.86 205.52,116.92 214.73,109.62 214.03,108.33" fill="#22d6e6" stroke="#22d6e6" stroke-width="0.7"/>
<polygon points="155.33,133.34 156.47,134.39 165.69,127.10 164.99,125.81" fill="#22d6e6" stroke="#22d6e6" stroke-width="0.7"/>
<polygon points="179.85,124.60 180.99,125.66 190.21,118.36 189.51,117.07" fill="#22d6e6" stroke="#22d6e6" stroke-width="0.7"/>
<polygon points="172.51,116.13 173.38,117.20 182.13,108.23 180.47,106.97" fill="#22d6e6" stroke="#22d6e6" stroke-width="0.7"/>
<polygon points="197.03,107.39 197.90,108.47 206.65,99.49 204.99,98.23" fill="#22d6e6" stroke="#22d6e6" stroke-width="0.7"/>
<polygon points="147.99,124.87 148.85,125.94 157.60,116.96 155.95,115.71" fill="#22d6e6" stroke="#22d6e6" stroke-width="0.7"/>
<polygon points="203.23,114.70 204.37,115.86 214.03,108.33 213.16,106.91" fill="#22d6e6" stroke="#22d6e6" stroke-width="0.7"/>
<polygon points="178.70,123.43 179.85,124.60 189.51,117.07 188.64,115.65" fill="#22d6e6" stroke="#22d6e6" stroke-width="0.7"/>
<polygon points="154.18,132.17 155.33,133.34 164.99,125.81 164.12,124.39" fill="#22d6e6" stroke="#22d6e6" stroke-width="0.7"/>
<polygon points="173.38,117.20 174.34,118.39 183.68,109.61 182.13,108.23" fill="#22d6e6" stroke="#22d6e6" stroke-width="0.7"/>
<polygon points="197.90,108.47 198.86,109.65 208.20,100.87 206.65,99.49" fill="#22d6e6" stroke="#22d6e6" stroke-width="0.7"/>
<polygon points="148.85,125.94 149.81,127.12 159.16,118.35 157.60,116.96" fill="#22d6e6" stroke="#22d6e6" stroke-width="0.7"/>
<polygon points="202.09,113.46 203.23,114.70 213.16,106.91 212.14,105.41" fill="#22d6e6" stroke="#22d6e6" stroke-width="0.7"/>
<polygon points="153.04,130.94 154.18,132.17 164.12,124.39 163.09,122.89" fill="#22d6e6" stroke="#22d6e6" stroke-width="0.7"/>
<polygon points="177.57,122.20 178.70,123.43 188.64,115.65 187.61,114.15" fill="#22d6e6" stroke="#22d6e6" stroke-width="0.7"/>
<polygon points="149.81,127.12 150.84,128.38 160.60,119.82 159.16,118.35" fill="#22d6e6" stroke="#22d6e6" stroke-width="0.7"/>
<polygon points="174.34,118.39 175.37,119.64 185.12,111.08 183.68,109.61" fill="#22d6e6" stroke="#22d6e6" stroke-width="0.7"/>
<polygon points="198.86,109.65 199.89,110.90 209.64,102.35 208.20,100.87" fill="#22d6e6" stroke="#22d6e6" stroke-width="0.7"/>
<polygon points="151.93,129.66 153.04,130.94 163.09,122.89 161.91,121.35" fill="#22d6e6" stroke="#22d6e6" stroke-width="0.7"/>
<polygon points="176.45,120.92 177.57,122.20 187.61,114.15 186.44,112.61" fill="#22d6e6" stroke="#22d6e6" stroke-width="0.7"/>
<polygon points="200.97,112.18 202.09,113.46 212.14,105.41 210.96,103.87" fill="#22d6e6" stroke="#22d6e6" stroke-width="0.7"/>
<polygon points="150.84,128.38 151.93,129.66 161.91,121.35 160.60,119.82" fill="#22d6e6" stroke="#22d6e6" stroke-width="0.7"/>
<polygon points="199.89,110.90 200.97,112.18 210.96,103.87 209.64,102.35" fill="#22d6e6" stroke="#22d6e6" stroke-width="0.7"/>
<polygon points="175.37,119.64 176.45,120.92 186.44,112.61 185.12,111.08" fill="#22d6e6" stroke="#22d6e6" stroke-width="0.7"/>
<path d="M118.5,128 L121,134 L124,138" stroke="#22c8d8" stroke-width="2.2" fill="none" stroke-linecap="round"/>
<polygon points="121.50,139.50 126.00,136.50 134.00,135.00 141.00,134.50 143.50,137.00 140.00,140.50 131.00,141.50 124.00,142.50" fill="#158e9a" />
<polygon points="126.00,136.50 134.00,135.00 141.00,134.50 138.00,137.00 130.00,138.00" fill="#1cb4c2" />
<polygon points="226.00,102.00 235.00,104.00 240.00,107.50 239.00,113.00 231.00,110.80 225.00,107.50" fill="#c41a0a" />
<polygon points="233.50,103.60 240.00,107.00 239.20,112.80 235.00,111.50" fill="#a01206" />
<polygon points="125.00,104.20 130.20,95.00 136.80,87.20 145.00,80.00 156.00,69.00 166.50,60.50 172.00,57.50 178.00,55.50 180.00,64.50 171.60,66.90 160.70,76.30 151.30,85.70 145.00,93.70 140.70,99.00 136.80,106.80 132.20,114.00 118.00,124.50 119.60,107.80" fill="#dc2a12" />
<path d="M122,108 L126,103 L130.2,95 L136.8,87.2 L145,80 L156,69 L166.5,60.5" stroke="#b81808" stroke-width="1.1" fill="none" opacity="0.8"/>
<polygon points="134.00,104.00 138.00,96.00 144.00,88.00 152.00,79.00 148.00,88.00 141.00,97.00 136.00,107.00" fill="#f26a50" opacity="0.55"/>
<polygon points="177.50,52.50 194.00,55.20 195.50,57.20 180.00,64.50" fill="#d21e0c" />
<path d="M194,56 L200,54.5 L204,52.5" stroke="#c81a0a" stroke-width="1.8" fill="none" stroke-linecap="round"/>
<polygon points="100.50,106.50 106.70,97.60 113.30,88.50 121.10,80.70 130.20,74.50 140.00,69.50 151.00,64.50 161.30,59.50 170.00,53.50 180.20,45.00 190.50,35.80 195.50,37.00 194.50,41.50 180.20,49.50 170.00,57.50 161.30,63.60 151.00,68.50 145.00,72.00 135.50,79.40 127.60,85.90 119.80,95.00 113.30,104.20 108.00,113.30" fill="#d21e0c" />
<path d="M100.5,106.5 L106.7,97.6 L113.3,88.5 L121.1,80.7 L130.2,74.5 L140,69.5" stroke="#a81406" stroke-width="1.6" fill="none"/>
<path d="M151,67 L161.3,62 L170,56 L180.2,47.8 L192.5,39.5" stroke="#a01206" stroke-width="1.8" fill="none" opacity="0.8"/>
<polygon points="213.50,64.00 216.50,64.50 220.50,69.00 219.80,86.50 216.20,88.50 213.70,80.00" fill="#8e1008" />
<polygon points="216.50,66.00 220.50,69.00 219.80,86.50 217.50,87.00" fill="#d01e0c" />
<path d="M212.3,60 L214.3,64" stroke="#8e1008" stroke-width="1.8" fill="none"/>
<polygon points="113.60,45.50 120.30,44.80 127.00,46.50 134.50,47.00 135.50,49.80 128.00,52.60 120.00,52.80 114.20,50.80" fill="#118894" />
<polygon points="113.80,47.50 113.60,42.00 115.50,37.80 119.50,34.60 125.00,32.40 132.00,31.60 139.00,32.00 144.50,33.60 147.80,36.40 146.00,40.20 142.50,42.00 140.60,39.20 141.50,37.20 137.00,35.40 130.50,35.30 124.50,36.60 120.50,39.60 119.00,45.00" fill="#1fd0e0" />
<path d="M116,44 C115.5,39.5 118,36.5 122,35 C127,33.3 134,33 141,33.8" stroke="#7ff0f7" stroke-width="1.3" fill="none" opacity="0.8"/>
<polygon points="113.80,47.50 113.60,42.00 115.50,37.80 117.50,36.50 116.50,41.00 117.00,46.50" fill="#17aebd" />
<polygon points="224.80,36.00 230.10,35.10 233.60,37.80 235.40,43.10 239.80,46.60 244.30,46.60 248.70,47.50 251.40,50.20 249.60,53.70 244.30,56.40 238.10,57.30 232.70,56.40 228.30,53.70 224.80,49.30 223.90,43.10" fill="#2ed2e2" />
<polygon points="237.00,46.00 244.30,46.60 248.70,47.50 251.40,50.20 249.60,53.70 244.30,56.40 238.10,57.30 236.00,52.00" fill="#45cfdd" />
<polygon points="224.80,36.00 230.10,35.10 232.00,38.00 228.00,44.00 226.00,50.00 224.80,49.30 223.90,43.10" fill="#18a8b6" />
<path d="M238.60,35.00 C239.10,35.62 240.95,37.18 241.60,38.70 C242.25,40.22 242.50,42.13 242.50,44.10 C242.50,46.07 242.20,48.67 241.60,50.50 C241.00,52.33 240.12,53.80 238.90,55.10 C237.68,56.40 235.83,57.62 234.30,58.30 C232.77,58.98 231.22,59.27 229.70,59.20 C228.18,59.13 226.57,58.73 225.20,57.90 C223.83,57.07 222.12,54.82 221.50,54.20" fill="none" stroke="#8c2a9c" stroke-width="2.15" stroke-linecap="round" stroke-linejoin="round" opacity="0.45"/>
<path d="M238.60,35.00 C239.10,35.62 240.95,37.18 241.60,38.70 C242.25,40.22 242.50,42.13 242.50,44.10 C242.50,46.07 242.20,48.67 241.60,50.50 C241.00,52.33 240.12,53.80 238.90,55.10 C237.68,56.40 235.83,57.62 234.30,58.30 C232.77,58.98 231.22,59.27 229.70,59.20 C228.18,59.13 226.57,58.73 225.20,57.90 C223.83,57.07 222.12,54.82 221.50,54.20" fill="none" stroke="#c04ec8" stroke-width="1.75" stroke-linecap="round" stroke-linejoin="round"/>
<path d="M248.70,45.70 C249.30,44.67 251.12,40.82 252.30,39.50 C253.48,38.18 254.52,38.32 255.80,37.80 C257.08,37.28 258.37,36.27 260.00,36.40 C261.63,36.53 263.45,37.70 265.60,38.60 C267.75,39.50 271.68,41.27 272.90,41.80" fill="none" stroke="#8c2a9c" stroke-width="2.15" stroke-linecap="round" stroke-linejoin="round" opacity="0.45"/>
<path d="M248.70,45.70 C249.30,44.67 251.12,40.82 252.30,39.50 C253.48,38.18 254.52,38.32 255.80,37.80 C257.08,37.28 258.37,36.27 260.00,36.40 C261.63,36.53 263.45,37.70 265.60,38.60 C267.75,39.50 271.68,41.27 272.90,41.80" fill="none" stroke="#c04ec8" stroke-width="1.75" stroke-linecap="round" stroke-linejoin="round"/>
<defs><radialGradient id="zn" cx="0.42" cy="0.36" r="0.62"><stop offset="0" stop-color="#9af09a"/><stop offset="0.3" stop-color="#30c830"/><stop offset="1" stop-color="#0e900e"/></radialGradient></defs>
<circle cx="129.5" cy="58.9" r="5.2" fill="url(#zn)"/>
<circle cx="219.4" cy="35.6" r="6.1" fill="url(#zn)"/>
<path d="M113.8,67.6 L118.5,66 L120.4,64.8 L118.5,59 L117.3,58.5" stroke="#8c8c8c" stroke-width="2.5999999999999996" fill="none" stroke-linecap="round" stroke-linejoin="round"/>
<path d="M113.8,67.6 L118.5,66 L120.4,64.8 L118.5,59 L117.3,58.5" stroke="#dcdcdc" stroke-width="1.9" fill="none" stroke-linecap="round" stroke-linejoin="round"/>
<path d="M120.4,64.8 L124,66" stroke="#8c8c8c" stroke-width="2.5999999999999996" fill="none" stroke-linecap="round" stroke-linejoin="round"/>
<path d="M120.4,64.8 L124,66" stroke="#dcdcdc" stroke-width="1.9" fill="none" stroke-linecap="round" stroke-linejoin="round"/>
<path d="M143.5,53.5 L146.6,56.6 L149.5,55" stroke="#8c8c8c" stroke-width="2.5999999999999996" fill="none" stroke-linecap="round" stroke-linejoin="round"/>
<path d="M143.5,53.5 L146.6,56.6 L149.5,55" stroke="#dcdcdc" stroke-width="1.9" fill="none" stroke-linecap="round" stroke-linejoin="round"/>
<path d="M146.6,56.6 L145,59.5" stroke="#8c8c8c" stroke-width="2.5999999999999996" fill="none" stroke-linecap="round" stroke-linejoin="round"/>
<path d="M146.6,56.6 L145,59.5" stroke="#dcdcdc" stroke-width="1.9" fill="none" stroke-linecap="round" stroke-linejoin="round"/>
<path d="M137.3,53.5 L142,55" stroke="#8c8c8c" stroke-width="2.2" fill="none" stroke-linecap="round" stroke-linejoin="round"/>
<path d="M137.3,53.5 L142,55" stroke="#e8c888" stroke-width="1.5" fill="none" stroke-linecap="round" stroke-linejoin="round"/>
<path d="M131,67.6 L135.7,70" stroke="#8c8c8c" stroke-width="2.2" fill="none" stroke-linecap="round" stroke-linejoin="round"/>
<path d="M131,67.6 L135.7,70" stroke="#e8c888" stroke-width="1.5" fill="none" stroke-linecap="round" stroke-linejoin="round"/>
<path d="M223.5,21.5 L224.8,24.1 L227.4,28 L232.6,25.4 L234,23.5" stroke="#8c8c8c" stroke-width="2.5999999999999996" fill="none" stroke-linecap="round" stroke-linejoin="round"/>
<path d="M223.5,21.5 L224.8,24.1 L227.4,28 L232.6,25.4 L234,23.5" stroke="#dcdcdc" stroke-width="1.9" fill="none" stroke-linecap="round" stroke-linejoin="round"/>
<path d="M205.2,46.3 L210,44.5 L215.6,42.4 L219.6,48.9" stroke="#8c8c8c" stroke-width="2.5999999999999996" fill="none" stroke-linecap="round" stroke-linejoin="round"/>
<path d="M205.2,46.3 L210,44.5 L215.6,42.4 L219.6,48.9" stroke="#dcdcdc" stroke-width="1.9" fill="none" stroke-linecap="round" stroke-linejoin="round"/>
<path d="M210,44.5 L207.8,50 L207.8,56.7" stroke="#8c8c8c" stroke-width="2.5999999999999996" fill="none" stroke-linecap="round" stroke-linejoin="round"/>
<path d="M210,44.5 L207.8,50 L207.8,56.7" stroke="#dcdcdc" stroke-width="1.9" fill="none" stroke-linecap="round" stroke-linejoin="round"/>
<path d="M215.6,42.4 L217,39.5" stroke="#8c8c8c" stroke-width="2.5999999999999996" fill="none" stroke-linecap="round" stroke-linejoin="round"/>
<path d="M215.6,42.4 L217,39.5" stroke="#dcdcdc" stroke-width="1.9" fill="none" stroke-linecap="round" stroke-linejoin="round"/>
<path d="M213,48 L211.5,52 L213.5,55.5" stroke="#8c8c8c" stroke-width="2.5999999999999996" fill="none" stroke-linecap="round" stroke-linejoin="round"/>
<path d="M213,48 L211.5,52 L213.5,55.5" stroke="#dcdcdc" stroke-width="1.9" fill="none" stroke-linecap="round" stroke-linejoin="round"/>
<path d="M224,44.5 L227.5,41 L229,37.5" stroke="#8c8c8c" stroke-width="2.5999999999999996" fill="none" stroke-linecap="round" stroke-linejoin="round"/>
<path d="M224,44.5 L227.5,41 L229,37.5" stroke="#dcdcdc" stroke-width="1.9" fill="none" stroke-linecap="round" stroke-linejoin="round"/>
<path d="M115,60 L118,62" stroke="#8c8c8c" stroke-width="2.5999999999999996" fill="none" stroke-linecap="round" stroke-linejoin="round"/>
<path d="M115,60 L118,62" stroke="#dcdcdc" stroke-width="1.9" fill="none" stroke-linecap="round" stroke-linejoin="round"/>
<text x="107.6" y="103.3" font-family="Liberation Sans, sans-serif" font-size="10.5" fill="#1a0606" stroke="#1a0606" stroke-width="0.2">β1</text>
<text x="134.6" y="94.3" font-family="Liberation Sans, sans-serif" font-size="10.5" fill="#1a0606" stroke="#1a0606" stroke-width="0.2">β2</text>
<text x="222.4" y="84.8" font-family="Liberation Sans, sans-serif" font-size="11" fill="#111" stroke="#111" stroke-width="0.2">β3</text>
<text x="166.8" y="117.8" font-family="Liberation Sans, sans-serif" font-size="10.5" fill="#0a1a1a" stroke="#0a1a1a" stroke-width="0.2">α1</text>
<text x="228.4" y="52.4" font-family="Liberation Sans, sans-serif" font-size="10" fill="#0a1a1a" stroke="#0a1a1a" stroke-width="0.2">α2</text>
<text x="5.8" y="8.3" font-family="Liberation Sans, sans-serif" font-size="10.5" fill="#222" stroke="#222" stroke-width="0.25" letter-spacing="0.6">a)</text>
<text x="317" y="10.4" font-family="Liberation Sans, sans-serif" font-size="10.5" fill="#222" stroke="#222" stroke-width="0.25" letter-spacing="0.6">b)</text>
<text x="8.2" y="233.2" font-family="Liberation Sans, sans-serif" font-size="10.5" fill="#222" stroke="#222" stroke-width="0.25" letter-spacing="0.8">c)</text>
<rect x="414.24" y="23.30" width="24.89" height="165.50" fill="#ffcaca"/>
<rect x="469.00" y="23.30" width="24.89" height="165.50" fill="#ffcaca"/>
<rect x="518.79" y="23.30" width="54.76" height="165.50" fill="#cacaff"/>
<rect x="593.46" y="23.30" width="14.93" height="165.50" fill="#ffcaca"/>
<rect x="613.37" y="23.30" width="14.94" height="165.50" fill="#cacaff"/>
<text x="428.19" y="39.2" font-family="Liberation Sans, sans-serif" font-size="12.2" fill="#1a1a1a" stroke="#1a1a1a" stroke-width="0.25" text-anchor="middle">β1</text>
<text x="481.45" y="39.2" font-family="Liberation Sans, sans-serif" font-size="12.2" fill="#1a1a1a" stroke="#1a1a1a" stroke-width="0.25" text-anchor="middle">β2</text>
<text x="546.17" y="39.2" font-family="Liberation Sans, sans-serif" font-size="12.2" fill="#1a1a1a" stroke="#1a1a1a" stroke-width="0.25" text-anchor="middle">α1</text>
<text x="600.93" y="39.2" font-family="Liberation Sans, sans-serif" font-size="12.2" fill="#1a1a1a" stroke="#1a1a1a" stroke-width="0.25" text-anchor="middle">β3</text>
<text x="620.84" y="39.2" font-family="Liberation Sans, sans-serif" font-size="12.2" fill="#1a1a1a" stroke="#1a1a1a" stroke-width="0.25" text-anchor="middle">α2</text>
<path d="M359.48,40.00 L364.46,48.60 L369.44,56.80 L374.41,76.90 L379.39,99.00 L384.37,124.90 L389.35,147.40 L394.33,144.70 L399.31,137.80 L404.28,132.60 L409.26,126.10 L414.24,131.50 L419.22,139.50 L424.20,152.60 L429.18,157.80 L434.15,164.50 L439.13,162.20 L444.11,158.30 L449.09,149.00 L454.07,144.90 L459.05,145.10 L464.02,137.80 L469.00,145.70 L473.98,149.50 L478.96,153.40 L483.94,144.90 L488.92,144.30 L493.89,135.70 L498.87,133.40 L503.85,125.50 L508.83,126.10 L513.81,126.90 L518.79,128.90 L523.76,131.70 L528.74,135.10 L533.72,138.40 L538.70,139.90 L543.68,141.30 L548.65,147.00 L553.63,152.00 L558.61,150.10 L563.59,155.70 L568.57,162.20 L573.55,155.50 L578.53,150.10 L583.50,148.20 L588.48,156.60 L593.46,161.50 L598.44,168.00 L603.42,165.70 L608.39,163.60 L613.37,155.90 L618.35,151.10 L623.33,150.90 L628.31,146.90 L633.29,135.20 L638.27,123.90 L643.24,105.30" fill="none" stroke="#444" stroke-width="0.6" stroke-dasharray="1.5,1.5"/>
<circle cx="359.48" cy="40.00" r="1.15" fill="#111"/>
<circle cx="364.46" cy="48.60" r="1.15" fill="#111"/>
<circle cx="369.44" cy="56.80" r="1.15" fill="#111"/>
<circle cx="374.41" cy="76.90" r="1.15" fill="#111"/>
<circle cx="379.39" cy="99.00" r="1.15" fill="#111"/>
<circle cx="384.37" cy="124.90" r="1.15" fill="#111"/>
<circle cx="389.35" cy="147.40" r="1.15" fill="#111"/>
<circle cx="394.33" cy="144.70" r="1.15" fill="#111"/>
<circle cx="399.31" cy="137.80" r="1.15" fill="#111"/>
<circle cx="404.28" cy="132.60" r="1.15" fill="#111"/>
<circle cx="409.26" cy="126.10" r="1.15" fill="#111"/>
<circle cx="414.24" cy="131.50" r="1.15" fill="#111"/>
<circle cx="419.22" cy="139.50" r="1.15" fill="#111"/>
<circle cx="424.20" cy="152.60" r="1.15" fill="#111"/>
<circle cx="429.18" cy="157.80" r="1.15" fill="#111"/>
<circle cx="434.15" cy="164.50" r="1.15" fill="#111"/>
<circle cx="439.13" cy="162.20" r="1.15" fill="#111"/>
<circle cx="444.11" cy="158.30" r="1.15" fill="#111"/>
<circle cx="449.09" cy="149.00" r="1.15" fill="#111"/>
<circle cx="454.07" cy="144.90" r="1.15" fill="#111"/>
<circle cx="459.05" cy="145.10" r="1.15" fill="#111"/>
<circle cx="464.02" cy="137.80" r="1.15" fill="#111"/>
<circle cx="469.00" cy="145.70" r="1.15" fill="#111"/>
<circle cx="473.98" cy="149.50" r="1.15" fill="#111"/>
<circle cx="478.96" cy="153.40" r="1.15" fill="#111"/>
<circle cx="483.94" cy="144.90" r="1.15" fill="#111"/>
<circle cx="488.92" cy="144.30" r="1.15" fill="#111"/>
<circle cx="493.89" cy="135.70" r="1.15" fill="#111"/>
<circle cx="498.87" cy="133.40" r="1.15" fill="#111"/>
<circle cx="503.85" cy="125.50" r="1.15" fill="#111"/>
<circle cx="508.83" cy="126.10" r="1.15" fill="#111"/>
<circle cx="513.81" cy="126.90" r="1.15" fill="#111"/>
<circle cx="518.79" cy="128.90" r="1.15" fill="#111"/>
<circle cx="523.76" cy="131.70" r="1.15" fill="#111"/>
<circle cx="528.74" cy="135.10" r="1.15" fill="#111"/>
<circle cx="533.72" cy="138.40" r="1.15" fill="#111"/>
<circle cx="538.70" cy="139.90" r="1.15" fill="#111"/>
<circle cx="543.68" cy="141.30" r="1.15" fill="#111"/>
<circle cx="548.65" cy="147.00" r="1.15" fill="#111"/>
<circle cx="553.63" cy="152.00" r="1.15" fill="#111"/>
<circle cx="558.61" cy="150.10" r="1.15" fill="#111"/>
<circle cx="563.59" cy="155.70" r="1.15" fill="#111"/>
<circle cx="568.57" cy="162.20" r="1.15" fill="#111"/>
<circle cx="573.55" cy="155.50" r="1.15" fill="#111"/>
<circle cx="578.53" cy="150.10" r="1.15" fill="#111"/>
<circle cx="583.50" cy="148.20" r="1.15" fill="#111"/>
<circle cx="588.48" cy="156.60" r="1.15" fill="#111"/>
<circle cx="593.46" cy="161.50" r="1.15" fill="#111"/>
<circle cx="598.44" cy="168.00" r="1.15" fill="#111"/>
<circle cx="603.42" cy="165.70" r="1.15" fill="#111"/>
<circle cx="608.39" cy="163.60" r="1.15" fill="#111"/>
<circle cx="613.37" cy="155.90" r="1.15" fill="#111"/>
<circle cx="618.35" cy="151.10" r="1.15" fill="#111"/>
<circle cx="623.33" cy="150.90" r="1.15" fill="#111"/>
<circle cx="628.31" cy="146.90" r="1.15" fill="#111"/>
<circle cx="633.29" cy="135.20" r="1.15" fill="#111"/>
<circle cx="638.27" cy="123.90" r="1.15" fill="#111"/>
<circle cx="643.24" cy="105.30" r="1.15" fill="#111"/>
<rect x="354.50" y="23.30" width="298.70" height="165.50" fill="none" stroke="#8a8a8a" stroke-width="1.1"/>
<line x1="354.5" y1="188.80" x2="357.0" y2="188.80" stroke="#8a8a8a" stroke-width="0.6"/>
<line x1="653.2" y1="188.80" x2="650.7" y2="188.80" stroke="#8a8a8a" stroke-width="0.6"/>
<text x="353.20" y="190.60" font-family="Liberation Sans, sans-serif" font-size="5" fill="#333" text-anchor="end">0</text>
<line x1="354.5" y1="161.22" x2="357.0" y2="161.22" stroke="#8a8a8a" stroke-width="0.6"/>
<line x1="653.2" y1="161.22" x2="650.7" y2="161.22" stroke="#8a8a8a" stroke-width="0.6"/>
<text x="353.20" y="163.02" font-family="Liberation Sans, sans-serif" font-size="5" fill="#333" text-anchor="end">2</text>
<line x1="354.5" y1="133.63" x2="357.0" y2="133.63" stroke="#8a8a8a" stroke-width="0.6"/>
<line x1="653.2" y1="133.63" x2="650.7" y2="133.63" stroke="#8a8a8a" stroke-width="0.6"/>
<text x="353.20" y="135.43" font-family="Liberation Sans, sans-serif" font-size="5" fill="#333" text-anchor="end">4</text>
<line x1="354.5" y1="106.05" x2="357.0" y2="106.05" stroke="#8a8a8a" stroke-width="0.6"/>
<line x1="653.2" y1="106.05" x2="650.7" y2="106.05" stroke="#8a8a8a" stroke-width="0.6"/>
<text x="353.20" y="107.85" font-family="Liberation Sans, sans-serif" font-size="5" fill="#333" text-anchor="end">6</text>
<line x1="354.5" y1="78.47" x2="357.0" y2="78.47" stroke="#8a8a8a" stroke-width="0.6"/>
<line x1="653.2" y1="78.47" x2="650.7" y2="78.47" stroke="#8a8a8a" stroke-width="0.6"/>
<text x="353.20" y="80.27" font-family="Liberation Sans, sans-serif" font-size="5" fill="#333" text-anchor="end">8</text>
<line x1="354.5" y1="50.88" x2="357.0" y2="50.88" stroke="#8a8a8a" stroke-width="0.6"/>
<line x1="653.2" y1="50.88" x2="650.7" y2="50.88" stroke="#8a8a8a" stroke-width="0.6"/>
<text x="353.20" y="52.68" font-family="Liberation Sans, sans-serif" font-size="5" fill="#333" text-anchor="end">10</text>
<line x1="354.5" y1="23.30" x2="357.0" y2="23.30" stroke="#8a8a8a" stroke-width="0.6"/>
<line x1="653.2" y1="23.30" x2="650.7" y2="23.30" stroke="#8a8a8a" stroke-width="0.6"/>
<text x="353.20" y="25.10" font-family="Liberation Sans, sans-serif" font-size="5" fill="#333" text-anchor="end">12</text>
<line x1="354.50" y1="188.8" x2="354.50" y2="186.3" stroke="#8a8a8a" stroke-width="0.6"/>
<line x1="354.50" y1="23.3" x2="354.50" y2="25.8" stroke="#8a8a8a" stroke-width="0.6"/>
<text x="354.50" y="194.00" font-family="Liberation Sans, sans-serif" font-size="5" fill="#333" text-anchor="middle">40</text>
<line x1="404.28" y1="188.8" x2="404.28" y2="186.3" stroke="#8a8a8a" stroke-width="0.6"/>
<line x1="404.28" y1="23.3" x2="404.28" y2="25.8" stroke="#8a8a8a" stroke-width="0.6"/>
<text x="404.28" y="194.00" font-family="Liberation Sans, sans-serif" font-size="5" fill="#333" text-anchor="middle">50</text>
<line x1="454.07" y1="188.8" x2="454.07" y2="186.3" stroke="#8a8a8a" stroke-width="0.6"/>
<line x1="454.07" y1="23.3" x2="454.07" y2="25.8" stroke="#8a8a8a" stroke-width="0.6"/>
<text x="454.07" y="194.00" font-family="Liberation Sans, sans-serif" font-size="5" fill="#333" text-anchor="middle">60</text>
<line x1="503.85" y1="188.8" x2="503.85" y2="186.3" stroke="#8a8a8a" stroke-width="0.6"/>
<line x1="503.85" y1="23.3" x2="503.85" y2="25.8" stroke="#8a8a8a" stroke-width="0.6"/>
<text x="503.85" y="194.00" font-family="Liberation Sans, sans-serif" font-size="5" fill="#333" text-anchor="middle">70</text>
<line x1="553.63" y1="188.8" x2="553.63" y2="186.3" stroke="#8a8a8a" stroke-width="0.6"/>
<line x1="553.63" y1="23.3" x2="553.63" y2="25.8" stroke="#8a8a8a" stroke-width="0.6"/>
<text x="553.63" y="194.00" font-family="Liberation Sans, sans-serif" font-size="5" fill="#333" text-anchor="middle">80</text>
<line x1="603.42" y1="188.8" x2="603.42" y2="186.3" stroke="#8a8a8a" stroke-width="0.6"/>
<line x1="603.42" y1="23.3" x2="603.42" y2="25.8" stroke="#8a8a8a" stroke-width="0.6"/>
<text x="603.42" y="194.00" font-family="Liberation Sans, sans-serif" font-size="5" fill="#333" text-anchor="middle">90</text>
<line x1="653.20" y1="188.8" x2="653.20" y2="186.3" stroke="#8a8a8a" stroke-width="0.6"/>
<line x1="653.20" y1="23.3" x2="653.20" y2="25.8" stroke="#8a8a8a" stroke-width="0.6"/>
<text x="653.20" y="194.00" font-family="Liberation Sans, sans-serif" font-size="5" fill="#333" text-anchor="middle">100</text>
<text x="506.5" y="204.6" font-family="Liberation Sans, sans-serif" font-size="10.4" fill="#222" stroke="#222" stroke-width="0.25" text-anchor="middle" textLength="35.7" lengthAdjust="spacingAndGlyphs">residue</text>
<text transform="translate(345.6,110.7) rotate(-90)" font-family="Liberation Sans, sans-serif" font-size="10.4" fill="#222" stroke="#222" stroke-width="0.25" text-anchor="middle" textLength="40.2" lengthAdjust="spacingAndGlyphs">rmsf [A]</text>
<defs><filter id="bl" x="-50%" y="-50%" width="200%" height="200%"><feGaussianBlur stdDeviation="1.1"/></filter>
<filter id="bl2" x="-50%" y="-50%" width="200%" height="200%"><feGaussianBlur stdDeviation="2.2"/></filter>
<clipPath id="cp00"><rect x="113.20" y="230.40" width="74.22" height="65.80"/></clipPath>
<clipPath id="cp01"><rect x="187.42" y="230.40" width="74.22" height="65.80"/></clipPath>
<clipPath id="cp02"><rect x="261.64" y="230.40" width="74.22" height="65.80"/></clipPath>
<clipPath id="cp03"><rect x="335.86" y="230.40" width="74.22" height="65.80"/></clipPath>
<clipPath id="cp04"><rect x="410.08" y="230.40" width="74.22" height="65.80"/></clipPath>
<clipPath id="cp05"><rect x="484.30" y="230.40" width="74.22" height="65.80"/></clipPath>
<clipPath id="cp10"><rect x="113.20" y="296.20" width="74.22" height="65.80"/></clipPath>
<clipPath id="cp11"><rect x="187.42" y="296.20" width="74.22" height="65.80"/></clipPath>
<clipPath id="cp12"><rect x="261.64" y="296.20" width="74.22" height="65.80"/></clipPath>
<clipPath id="cp13"><rect x="335.86" y="296.20" width="74.22" height="65.80"/></clipPath>
<clipPath id="cp14"><rect x="410.08" y="296.20" width="74.22" height="65.80"/></clipPath>
<clipPath id="cp15"><rect x="484.30" y="296.20" width="74.22" height="65.80"/></clipPath>
</defs>
<g clip-path="url(#cp00)">
<g filter="url(#bl2)">
<ellipse cx="134.20" cy="296.90" rx="5.60" ry="4.00" fill="#f7ee70" opacity="0.45"/>
<ellipse cx="134.70" cy="230.90" rx="5.60" ry="2.88" fill="#f7ee70" opacity="0.27"/>
<ellipse cx="135.70" cy="238.90" rx="8.80" ry="8.00" fill="#f4f8c8" opacity="0.27"/>
<ellipse cx="135.40" cy="235.40" rx="4.48" ry="4.16" fill="#b4dca0" opacity="0.45"/>
</g><g filter="url(#bl)">
<ellipse cx="134.20" cy="296.90" rx="2.98" ry="2.12" fill="#f3e000" opacity="0.90"/>
<ellipse cx="134.70" cy="230.90" rx="2.98" ry="1.53" fill="#f3e000" opacity="0.54"/>
<ellipse cx="135.70" cy="238.90" rx="4.67" ry="4.25" fill="#e8f090" opacity="0.54"/>
<ellipse cx="135.40" cy="235.40" rx="2.38" ry="2.21" fill="#1f7a44" opacity="0.90"/>
</g>
<rect x="133.2" y="298.3" width="0.8" height="0.8" fill="#f3e000" opacity="0.46"/>
<rect x="138.5" y="298.4" width="0.8" height="0.8" fill="#f3e000" opacity="0.35"/>
<rect x="138.5" y="298.1" width="0.8" height="0.8" fill="#f3e000" opacity="0.21"/>
<rect x="132.9" y="297.3" width="0.8" height="0.8" fill="#f3e000" opacity="0.24"/>
<rect x="127.8" y="299.3" width="0.8" height="0.8" fill="#f3e000" opacity="0.25"/>
<rect x="135.1" y="300.7" width="0.8" height="0.8" fill="#f3e000" opacity="0.58"/>
<rect x="130.8" y="295.6" width="0.8" height="0.8" fill="#f3e000" opacity="0.59"/>
<rect x="141.5" y="298.5" width="0.8" height="0.8" fill="#f3e000" opacity="0.32"/>
<rect x="135.4" y="298.0" width="0.8" height="0.8" fill="#f3e000" opacity="0.32"/>
<rect x="135.2" y="295.3" width="0.8" height="0.8" fill="#f3e000" opacity="0.43"/>
<rect x="131.8" y="294.9" width="0.8" height="0.8" fill="#f3e000" opacity="0.42"/>
<rect x="135.4" y="297.3" width="0.8" height="0.8" fill="#f3e000" opacity="0.28"/>
<rect x="132.5" y="294.3" width="0.8" height="0.8" fill="#f3e000" opacity="0.33"/>
<rect x="130.6" y="295.4" width="0.8" height="0.8" fill="#f3e000" opacity="0.32"/>
<rect x="135.8" y="292.8" width="0.8" height="0.8" fill="#f3e000" opacity="0.30"/>
<rect x="130.0" y="295.4" width="0.8" height="0.8" fill="#f3e000" opacity="0.55"/>
<rect x="133.8" y="294.7" width="0.8" height="0.8" fill="#f3e000" opacity="0.59"/>
<rect x="137.7" y="232.3" width="0.8" height="0.8" fill="#f3e000" opacity="0.30"/>
<rect x="137.3" y="232.8" width="0.8" height="0.8" fill="#f3e000" opacity="0.13"/>
<rect x="131.5" y="228.0" width="0.8" height="0.8" fill="#f3e000" opacity="0.26"/>
<rect x="137.1" y="229.7" width="0.8" height="0.8" fill="#f3e000" opacity="0.29"/>
<rect x="130.5" y="229.4" width="0.8" height="0.8" fill="#f3e000" opacity="0.23"/>
<rect x="139.7" y="226.9" width="0.8" height="0.8" fill="#f3e000" opacity="0.23"/>
<rect x="134.0" y="230.3" width="0.8" height="0.8" fill="#f3e000" opacity="0.29"/>
<rect x="127.4" y="225.9" width="0.8" height="0.8" fill="#f3e000" opacity="0.32"/>
<rect x="133.9" y="232.8" width="0.8" height="0.8" fill="#f3e000" opacity="0.28"/>
<rect x="138.9" y="231.2" width="0.8" height="0.8" fill="#f3e000" opacity="0.16"/>
<rect x="135.7" y="231.4" width="0.8" height="0.8" fill="#f3e000" opacity="0.30"/>
<rect x="136.7" y="232.0" width="0.8" height="0.8" fill="#f3e000" opacity="0.21"/>
<rect x="137.4" y="237.3" width="0.8" height="0.8" fill="#e8f090" opacity="0.23"/>
<rect x="123.8" y="235.4" width="0.8" height="0.8" fill="#e8f090" opacity="0.32"/>
<rect x="138.9" y="235.5" width="0.8" height="0.8" fill="#e8f090" opacity="0.22"/>
<rect x="127.8" y="247.8" width="0.8" height="0.8" fill="#e8f090" opacity="0.35"/>
<rect x="137.9" y="241.7" width="0.8" height="0.8" fill="#e8f090" opacity="0.18"/>
<rect x="136.4" y="245.2" width="0.8" height="0.8" fill="#e8f090" opacity="0.26"/>
<rect x="135.7" y="239.4" width="0.8" height="0.8" fill="#e8f090" opacity="0.22"/>
<rect x="130.4" y="244.1" width="0.8" height="0.8" fill="#e8f090" opacity="0.35"/>
<rect x="133.0" y="232.7" width="0.8" height="0.8" fill="#e8f090" opacity="0.27"/>
<rect x="134.8" y="237.3" width="0.8" height="0.8" fill="#e8f090" opacity="0.34"/>
<rect x="138.0" y="227.9" width="0.8" height="0.8" fill="#e8f090" opacity="0.31"/>
<rect x="130.9" y="242.4" width="0.8" height="0.8" fill="#e8f090" opacity="0.14"/>
<rect x="134.3" y="237.4" width="0.8" height="0.8" fill="#e8f090" opacity="0.14"/>
<rect x="136.6" y="242.1" width="0.8" height="0.8" fill="#e8f090" opacity="0.20"/>
<rect x="135.8" y="238.9" width="0.8" height="0.8" fill="#e8f090" opacity="0.16"/>
<rect x="140.3" y="242.0" width="0.8" height="0.8" fill="#e8f090" opacity="0.13"/>
<rect x="141.6" y="233.5" width="0.8" height="0.8" fill="#e8f090" opacity="0.16"/>
<rect x="135.6" y="244.0" width="0.8" height="0.8" fill="#e8f090" opacity="0.21"/>
<rect x="144.1" y="246.4" width="0.8" height="0.8" fill="#e8f090" opacity="0.36"/>
<rect x="128.9" y="240.2" width="0.8" height="0.8" fill="#e8f090" opacity="0.14"/>
<rect x="140.1" y="241.9" width="0.8" height="0.8" fill="#e8f090" opacity="0.18"/>
<rect x="137.4" y="236.0" width="0.8" height="0.8" fill="#e8f090" opacity="0.13"/>
<rect x="142.8" y="236.9" width="0.8" height="0.8" fill="#e8f090" opacity="0.16"/>
<rect x="134.3" y="238.6" width="0.8" height="0.8" fill="#e8f090" opacity="0.25"/>
<rect x="147.7" y="237.4" width="0.8" height="0.8" fill="#e8f090" opacity="0.29"/>
<rect x="135.3" y="244.1" width="0.8" height="0.8" fill="#e8f090" opacity="0.16"/>
<rect x="136.7" y="232.2" width="0.8" height="0.8" fill="#e8f090" opacity="0.31"/>
<rect x="133.6" y="242.3" width="0.8" height="0.8" fill="#e8f090" opacity="0.31"/>
<rect x="147.5" y="237.9" width="0.8" height="0.8" fill="#e8f090" opacity="0.31"/>
<rect x="139.8" y="230.7" width="0.8" height="0.8" fill="#e8f090" opacity="0.17"/>
<rect x="130.1" y="238.3" width="0.8" height="0.8" fill="#e8f090" opacity="0.13"/>
<rect x="140.5" y="239.7" width="0.8" height="0.8" fill="#e8f090" opacity="0.18"/>
<rect x="130.3" y="226.0" width="0.8" height="0.8" fill="#e8f090" opacity="0.23"/>
<rect x="152.3" y="232.6" width="0.8" height="0.8" fill="#e8f090" opacity="0.35"/>
<rect x="132.9" y="241.8" width="0.8" height="0.8" fill="#e8f090" opacity="0.17"/>
<rect x="137.0" y="242.4" width="0.8" height="0.8" fill="#e8f090" opacity="0.27"/>
<rect x="145.1" y="232.7" width="0.8" height="0.8" fill="#e8f090" opacity="0.24"/>
<rect x="129.5" y="230.8" width="0.8" height="0.8" fill="#e8f090" opacity="0.14"/>
<rect x="128.6" y="228.7" width="0.8" height="0.8" fill="#e8f090" opacity="0.31"/>
<rect x="135.7" y="232.6" width="0.8" height="0.8" fill="#e8f090" opacity="0.16"/>
<rect x="137.0" y="234.1" width="0.8" height="0.8" fill="#e8f090" opacity="0.31"/>
<rect x="141.7" y="237.9" width="0.8" height="0.8" fill="#e8f090" opacity="0.22"/>
<rect x="144.9" y="236.0" width="0.8" height="0.8" fill="#e8f090" opacity="0.16"/>
<rect x="138.1" y="241.2" width="0.8" height="0.8" fill="#e8f090" opacity="0.34"/>
<rect x="136.9" y="236.0" width="0.8" height="0.8" fill="#e8f090" opacity="0.32"/>
<rect x="144.5" y="237.9" width="0.8" height="0.8" fill="#e8f090" opacity="0.20"/>
<rect x="132.6" y="238.0" width="0.8" height="0.8" fill="#e8f090" opacity="0.12"/>
<rect x="144.3" y="237.5" width="0.8" height="0.8" fill="#e8f090" opacity="0.25"/>
<rect x="141.6" y="236.5" width="0.8" height="0.8" fill="#e8f090" opacity="0.33"/>
<rect x="137.6" y="235.5" width="0.8" height="0.8" fill="#e8f090" opacity="0.18"/>
<rect x="134.5" y="242.8" width="0.8" height="0.8" fill="#e8f090" opacity="0.26"/>
<rect x="135.3" y="244.6" width="0.8" height="0.8" fill="#e8f090" opacity="0.15"/>
<rect x="140.5" y="236.1" width="0.8" height="0.8" fill="#e8f090" opacity="0.23"/>
<rect x="124.4" y="232.9" width="0.8" height="0.8" fill="#e8f090" opacity="0.22"/>
<rect x="141.9" y="235.7" width="0.8" height="0.8" fill="#e8f090" opacity="0.25"/>
<rect x="134.8" y="235.3" width="0.8" height="0.8" fill="#1f7a44" opacity="0.38"/>
<rect x="135.5" y="235.6" width="0.8" height="0.8" fill="#1f7a44" opacity="0.52"/>
<rect x="137.0" y="238.3" width="0.8" height="0.8" fill="#1f7a44" opacity="0.49"/>
<rect x="132.8" y="234.5" width="0.8" height="0.8" fill="#1f7a44" opacity="0.41"/>
<rect x="130.3" y="233.7" width="0.8" height="0.8" fill="#1f7a44" opacity="0.24"/>
<rect x="133.2" y="234.6" width="0.8" height="0.8" fill="#1f7a44" opacity="0.31"/>
<rect x="135.9" y="232.0" width="0.8" height="0.8" fill="#1f7a44" opacity="0.42"/>
<rect x="135.8" y="229.1" width="0.8" height="0.8" fill="#1f7a44" opacity="0.38"/>
<rect x="132.6" y="233.2" width="0.8" height="0.8" fill="#1f7a44" opacity="0.40"/>
<rect x="134.2" y="232.5" width="0.8" height="0.8" fill="#1f7a44" opacity="0.41"/>
<rect x="128.1" y="236.3" width="0.8" height="0.8" fill="#1f7a44" opacity="0.48"/>
<rect x="140.6" y="230.6" width="0.8" height="0.8" fill="#1f7a44" opacity="0.30"/>
<rect x="128.5" y="232.9" width="0.8" height="0.8" fill="#1f7a44" opacity="0.54"/>
<rect x="136.4" y="236.5" width="0.8" height="0.8" fill="#1f7a44" opacity="0.38"/>
</g>
<text x="149.80" y="240.30" font-family="Liberation Sans, sans-serif" font-size="8.6" fill="#111" stroke="#111" stroke-width="0.2" textLength="19.27" lengthAdjust="spacingAndGlyphs">Pro41</text>
<g clip-path="url(#cp01)">
<g filter="url(#bl2)">
<ellipse cx="192.42" cy="233.40" rx="6.40" ry="4.80" fill="#f7ee70" opacity="0.06"/>
<ellipse cx="207.42" cy="242.40" rx="4.80" ry="8.00" fill="#f4f8c8" opacity="0.23"/>
<ellipse cx="208.92" cy="236.40" rx="7.20" ry="7.20" fill="#d4eadc" opacity="0.36"/>
<ellipse cx="209.72" cy="246.40" rx="4.00" ry="6.40" fill="#f7ee70" opacity="0.14"/>
<ellipse cx="209.72" cy="268.90" rx="8.80" ry="7.68" fill="#f7ee70" opacity="0.45"/>
<ellipse cx="206.92" cy="294.90" rx="4.80" ry="4.80" fill="#f7ee70" opacity="0.20"/>
</g><g filter="url(#bl)">
<ellipse cx="192.42" cy="233.40" rx="3.40" ry="2.55" fill="#f3e000" opacity="0.13"/>
<ellipse cx="207.42" cy="242.40" rx="2.55" ry="4.25" fill="#e8f090" opacity="0.45"/>
<ellipse cx="208.92" cy="236.40" rx="3.82" ry="3.82" fill="#9ccab4" opacity="0.72"/>
<ellipse cx="209.72" cy="246.40" rx="2.12" ry="3.40" fill="#f3e000" opacity="0.27"/>
<ellipse cx="209.72" cy="268.90" rx="4.67" ry="4.08" fill="#f3e000" opacity="0.90"/>
<ellipse cx="206.92" cy="294.90" rx="2.55" ry="2.55" fill="#f3e000" opacity="0.41"/>
</g>
<rect x="195.4" y="234.5" width="0.8" height="0.8" fill="#f3e000" opacity="0.03"/>
<rect x="188.7" y="228.3" width="0.8" height="0.8" fill="#f3e000" opacity="0.08"/>
<rect x="196.4" y="237.7" width="0.8" height="0.8" fill="#f3e000" opacity="0.06"/>
<rect x="198.1" y="238.7" width="0.8" height="0.8" fill="#f3e000" opacity="0.08"/>
<rect x="194.5" y="241.4" width="0.8" height="0.8" fill="#f3e000" opacity="0.05"/>
<rect x="179.1" y="234.2" width="0.8" height="0.8" fill="#f3e000" opacity="0.07"/>
<rect x="194.9" y="236.4" width="0.8" height="0.8" fill="#f3e000" opacity="0.06"/>
<rect x="190.9" y="235.2" width="0.8" height="0.8" fill="#f3e000" opacity="0.05"/>
<rect x="192.3" y="232.8" width="0.8" height="0.8" fill="#f3e000" opacity="0.06"/>
<rect x="191.6" y="233.6" width="0.8" height="0.8" fill="#f3e000" opacity="0.05"/>
<rect x="188.7" y="230.6" width="0.8" height="0.8" fill="#f3e000" opacity="0.03"/>
<rect x="200.1" y="232.9" width="0.8" height="0.8" fill="#f3e000" opacity="0.08"/>
<rect x="195.2" y="235.0" width="0.8" height="0.8" fill="#f3e000" opacity="0.03"/>
<rect x="193.1" y="230.8" width="0.8" height="0.8" fill="#f3e000" opacity="0.04"/>
<rect x="183.9" y="236.8" width="0.8" height="0.8" fill="#f3e000" opacity="0.07"/>
<rect x="192.3" y="235.3" width="0.8" height="0.8" fill="#f3e000" opacity="0.08"/>
<rect x="186.2" y="231.2" width="0.8" height="0.8" fill="#f3e000" opacity="0.03"/>
<rect x="198.7" y="235.2" width="0.8" height="0.8" fill="#f3e000" opacity="0.05"/>
<rect x="201.8" y="236.8" width="0.8" height="0.8" fill="#f3e000" opacity="0.06"/>
<rect x="193.0" y="232.1" width="0.8" height="0.8" fill="#f3e000" opacity="0.08"/>
<rect x="200.4" y="236.1" width="0.8" height="0.8" fill="#f3e000" opacity="0.05"/>
<rect x="189.5" y="236.9" width="0.8" height="0.8" fill="#f3e000" opacity="0.08"/>
<rect x="192.2" y="235.1" width="0.8" height="0.8" fill="#f3e000" opacity="0.06"/>
<rect x="192.6" y="235.0" width="0.8" height="0.8" fill="#f3e000" opacity="0.04"/>
<rect x="209.5" y="243.5" width="0.8" height="0.8" fill="#e8f090" opacity="0.16"/>
<rect x="205.5" y="251.1" width="0.8" height="0.8" fill="#e8f090" opacity="0.16"/>
<rect x="205.4" y="242.4" width="0.8" height="0.8" fill="#e8f090" opacity="0.17"/>
<rect x="209.9" y="242.9" width="0.8" height="0.8" fill="#e8f090" opacity="0.10"/>
<rect x="207.0" y="235.5" width="0.8" height="0.8" fill="#e8f090" opacity="0.14"/>
<rect x="199.8" y="244.4" width="0.8" height="0.8" fill="#e8f090" opacity="0.12"/>
<rect x="208.9" y="237.1" width="0.8" height="0.8" fill="#e8f090" opacity="0.20"/>
<rect x="209.1" y="237.7" width="0.8" height="0.8" fill="#e8f090" opacity="0.20"/>
<rect x="203.8" y="227.9" width="0.8" height="0.8" fill="#e8f090" opacity="0.17"/>
<rect x="210.0" y="234.9" width="0.8" height="0.8" fill="#e8f090" opacity="0.23"/>
<rect x="204.9" y="245.3" width="0.8" height="0.8" fill="#e8f090" opacity="0.11"/>
<rect x="208.3" y="243.9" width="0.8" height="0.8" fill="#e8f090" opacity="0.25"/>
<rect x="207.4" y="245.7" width="0.8" height="0.8" fill="#e8f090" opacity="0.12"/>
<rect x="211.0" y="233.1" width="0.8" height="0.8" fill="#e8f090" opacity="0.23"/>
<rect x="206.9" y="246.4" width="0.8" height="0.8" fill="#e8f090" opacity="0.16"/>
<rect x="205.6" y="243.2" width="0.8" height="0.8" fill="#e8f090" opacity="0.19"/>
<rect x="206.7" y="256.4" width="0.8" height="0.8" fill="#e8f090" opacity="0.29"/>
<rect x="205.1" y="241.2" width="0.8" height="0.8" fill="#e8f090" opacity="0.29"/>
<rect x="206.3" y="247.2" width="0.8" height="0.8" fill="#e8f090" opacity="0.10"/>
<rect x="204.7" y="246.6" width="0.8" height="0.8" fill="#e8f090" opacity="0.20"/>
<rect x="208.6" y="248.6" width="0.8" height="0.8" fill="#e8f090" opacity="0.10"/>
<rect x="207.3" y="244.8" width="0.8" height="0.8" fill="#e8f090" opacity="0.18"/>
<rect x="208.1" y="242.7" width="0.8" height="0.8" fill="#e8f090" opacity="0.16"/>
<rect x="207.9" y="249.7" width="0.8" height="0.8" fill="#e8f090" opacity="0.21"/>
<rect x="207.4" y="234.3" width="0.8" height="0.8" fill="#e8f090" opacity="0.24"/>
<rect x="209.8" y="238.6" width="0.8" height="0.8" fill="#e8f090" opacity="0.17"/>
<rect x="209.3" y="242.1" width="0.8" height="0.8" fill="#e8f090" opacity="0.24"/>
<rect x="206.8" y="241.1" width="0.8" height="0.8" fill="#e8f090" opacity="0.27"/>
<rect x="211.0" y="237.5" width="0.8" height="0.8" fill="#e8f090" opacity="0.25"/>
<rect x="208.1" y="239.6" width="0.8" height="0.8" fill="#e8f090" opacity="0.20"/>
<rect x="199.5" y="236.1" width="0.8" height="0.8" fill="#9ccab4" opacity="0.42"/>
<rect x="211.9" y="230.6" width="0.8" height="0.8" fill="#9ccab4" opacity="0.45"/>
<rect x="205.8" y="229.5" width="0.8" height="0.8" fill="#9ccab4" opacity="0.23"/>
<rect x="211.5" y="236.9" width="0.8" height="0.8" fill="#9ccab4" opacity="0.28"/>
<rect x="216.4" y="242.2" width="0.8" height="0.8" fill="#9ccab4" opacity="0.34"/>
<rect x="204.1" y="231.4" width="0.8" height="0.8" fill="#9ccab4" opacity="0.38"/>
<rect x="208.5" y="236.4" width="0.8" height="0.8" fill="#9ccab4" opacity="0.42"/>
<rect x="208.9" y="230.5" width="0.8" height="0.8" fill="#9ccab4" opacity="0.33"/>
<rect x="207.9" y="234.9" width="0.8" height="0.8" fill="#9ccab4" opacity="0.40"/>
<rect x="208.9" y="238.3" width="0.8" height="0.8" fill="#9ccab4" opacity="0.24"/>
<rect x="208.5" y="233.1" width="0.8" height="0.8" fill="#9ccab4" opacity="0.40"/>
<rect x="214.6" y="235.5" width="0.8" height="0.8" fill="#9ccab4" opacity="0.28"/>
<rect x="201.5" y="237.4" width="0.8" height="0.8" fill="#9ccab4" opacity="0.41"/>
<rect x="203.7" y="231.6" width="0.8" height="0.8" fill="#9ccab4" opacity="0.18"/>
<rect x="211.2" y="239.4" width="0.8" height="0.8" fill="#9ccab4" opacity="0.40"/>
<rect x="206.8" y="242.4" width="0.8" height="0.8" fill="#9ccab4" opacity="0.16"/>
<rect x="212.6" y="237.9" width="0.8" height="0.8" fill="#9ccab4" opacity="0.38"/>
<rect x="206.3" y="229.5" width="0.8" height="0.8" fill="#9ccab4" opacity="0.25"/>
<rect x="203.4" y="235.8" width="0.8" height="0.8" fill="#9ccab4" opacity="0.31"/>
<rect x="216.6" y="243.5" width="0.8" height="0.8" fill="#9ccab4" opacity="0.22"/>
<rect x="220.4" y="234.8" width="0.8" height="0.8" fill="#9ccab4" opacity="0.17"/>
<rect x="200.1" y="238.7" width="0.8" height="0.8" fill="#9ccab4" opacity="0.47"/>
<rect x="205.2" y="237.6" width="0.8" height="0.8" fill="#9ccab4" opacity="0.23"/>
<rect x="212.1" y="235.3" width="0.8" height="0.8" fill="#9ccab4" opacity="0.35"/>
<rect x="212.7" y="241.1" width="0.8" height="0.8" fill="#9ccab4" opacity="0.46"/>
<rect x="215.1" y="243.2" width="0.8" height="0.8" fill="#9ccab4" opacity="0.32"/>
<rect x="214.8" y="231.4" width="0.8" height="0.8" fill="#9ccab4" opacity="0.23"/>
<rect x="213.5" y="233.0" width="0.8" height="0.8" fill="#9ccab4" opacity="0.17"/>
<rect x="214.7" y="236.5" width="0.8" height="0.8" fill="#9ccab4" opacity="0.30"/>
<rect x="208.0" y="239.0" width="0.8" height="0.8" fill="#9ccab4" opacity="0.27"/>
<rect x="205.1" y="245.1" width="0.8" height="0.8" fill="#9ccab4" opacity="0.16"/>
<rect x="209.0" y="226.9" width="0.8" height="0.8" fill="#9ccab4" opacity="0.20"/>
<rect x="215.9" y="232.9" width="0.8" height="0.8" fill="#9ccab4" opacity="0.45"/>
<rect x="207.7" y="241.0" width="0.8" height="0.8" fill="#9ccab4" opacity="0.29"/>
<rect x="215.5" y="236.3" width="0.8" height="0.8" fill="#9ccab4" opacity="0.28"/>
<rect x="205.3" y="238.1" width="0.8" height="0.8" fill="#9ccab4" opacity="0.18"/>
<rect x="216.5" y="242.0" width="0.8" height="0.8" fill="#9ccab4" opacity="0.25"/>
<rect x="212.4" y="234.9" width="0.8" height="0.8" fill="#9ccab4" opacity="0.25"/>
<rect x="205.7" y="236.2" width="0.8" height="0.8" fill="#9ccab4" opacity="0.28"/>
<rect x="218.8" y="233.6" width="0.8" height="0.8" fill="#9ccab4" opacity="0.42"/>
<rect x="205.6" y="239.3" width="0.8" height="0.8" fill="#f3e000" opacity="0.17"/>
<rect x="205.5" y="244.3" width="0.8" height="0.8" fill="#f3e000" opacity="0.07"/>
<rect x="209.4" y="241.6" width="0.8" height="0.8" fill="#f3e000" opacity="0.15"/>
<rect x="208.3" y="243.6" width="0.8" height="0.8" fill="#f3e000" opacity="0.07"/>
<rect x="211.0" y="245.4" width="0.8" height="0.8" fill="#f3e000" opacity="0.12"/>
<rect x="208.4" y="249.5" width="0.8" height="0.8" fill="#f3e000" opacity="0.15"/>
<rect x="211.8" y="245.9" width="0.8" height="0.8" fill="#f3e000" opacity="0.14"/>
<rect x="208.6" y="251.7" width="0.8" height="0.8" fill="#f3e000" opacity="0.11"/>
<rect x="210.5" y="248.7" width="0.8" height="0.8" fill="#f3e000" opacity="0.08"/>
<rect x="212.4" y="243.5" width="0.8" height="0.8" fill="#f3e000" opacity="0.09"/>
<rect x="217.4" y="238.2" width="0.8" height="0.8" fill="#f3e000" opacity="0.11"/>
<rect x="210.9" y="248.6" width="0.8" height="0.8" fill="#f3e000" opacity="0.07"/>
<rect x="209.1" y="248.0" width="0.8" height="0.8" fill="#f3e000" opacity="0.09"/>
<rect x="209.5" y="252.1" width="0.8" height="0.8" fill="#f3e000" opacity="0.17"/>
<rect x="209.7" y="241.9" width="0.8" height="0.8" fill="#f3e000" opacity="0.11"/>
<rect x="207.1" y="245.8" width="0.8" height="0.8" fill="#f3e000" opacity="0.10"/>
<rect x="211.8" y="247.7" width="0.8" height="0.8" fill="#f3e000" opacity="0.18"/>
<rect x="212.0" y="250.1" width="0.8" height="0.8" fill="#f3e000" opacity="0.14"/>
<rect x="211.0" y="244.1" width="0.8" height="0.8" fill="#f3e000" opacity="0.09"/>
<rect x="209.7" y="250.8" width="0.8" height="0.8" fill="#f3e000" opacity="0.11"/>
<rect x="221.0" y="266.0" width="0.8" height="0.8" fill="#f3e000" opacity="0.55"/>
<rect x="211.3" y="269.1" width="0.8" height="0.8" fill="#f3e000" opacity="0.48"/>
<rect x="215.2" y="265.3" width="0.8" height="0.8" fill="#f3e000" opacity="0.43"/>
<rect x="215.8" y="268.9" width="0.8" height="0.8" fill="#f3e000" opacity="0.57"/>
<rect x="215.2" y="259.7" width="0.8" height="0.8" fill="#f3e000" opacity="0.59"/>
<rect x="209.7" y="271.4" width="0.8" height="0.8" fill="#f3e000" opacity="0.26"/>
<rect x="200.7" y="267.8" width="0.8" height="0.8" fill="#f3e000" opacity="0.58"/>
<rect x="208.2" y="261.4" width="0.8" height="0.8" fill="#f3e000" opacity="0.51"/>
<rect x="202.3" y="270.7" width="0.8" height="0.8" fill="#f3e000" opacity="0.22"/>
<rect x="210.6" y="265.1" width="0.8" height="0.8" fill="#f3e000" opacity="0.57"/>
<rect x="206.6" y="265.3" width="0.8" height="0.8" fill="#f3e000" opacity="0.25"/>
<rect x="209.6" y="276.4" width="0.8" height="0.8" fill="#f3e000" opacity="0.48"/>
<rect x="211.5" y="270.2" width="0.8" height="0.8" fill="#f3e000" opacity="0.41"/>
<rect x="204.5" y="266.3" width="0.8" height="0.8" fill="#f3e000" opacity="0.29"/>
<rect x="209.0" y="268.4" width="0.8" height="0.8" fill="#f3e000" opacity="0.32"/>
<rect x="194.9" y="272.2" width="0.8" height="0.8" fill="#f3e000" opacity="0.46"/>
<rect x="214.8" y="264.9" width="0.8" height="0.8" fill="#f3e000" opacity="0.29"/>
<rect x="210.0" y="282.3" width="0.8" height="0.8" fill="#f3e000" opacity="0.48"/>
<rect x="209.3" y="269.9" width="0.8" height="0.8" fill="#f3e000" opacity="0.40"/>
<rect x="206.8" y="264.0" width="0.8" height="0.8" fill="#f3e000" opacity="0.30"/>
<rect x="202.9" y="258.5" width="0.8" height="0.8" fill="#f3e000" opacity="0.29"/>
<rect x="215.1" y="269.9" width="0.8" height="0.8" fill="#f3e000" opacity="0.37"/>
<rect x="208.1" y="265.7" width="0.8" height="0.8" fill="#f3e000" opacity="0.52"/>
<rect x="209.2" y="262.7" width="0.8" height="0.8" fill="#f3e000" opacity="0.28"/>
<rect x="214.9" y="268.0" width="0.8" height="0.8" fill="#f3e000" opacity="0.53"/>
<rect x="210.2" y="272.6" width="0.8" height="0.8" fill="#f3e000" opacity="0.50"/>
<rect x="205.6" y="281.4" width="0.8" height="0.8" fill="#f3e000" opacity="0.40"/>
<rect x="211.4" y="272.4" width="0.8" height="0.8" fill="#f3e000" opacity="0.37"/>
<rect x="202.2" y="257.8" width="0.8" height="0.8" fill="#f3e000" opacity="0.26"/>
<rect x="206.4" y="271.2" width="0.8" height="0.8" fill="#f3e000" opacity="0.59"/>
<rect x="211.0" y="270.2" width="0.8" height="0.8" fill="#f3e000" opacity="0.22"/>
<rect x="199.6" y="275.9" width="0.8" height="0.8" fill="#f3e000" opacity="0.55"/>
<rect x="207.4" y="250.7" width="0.8" height="0.8" fill="#f3e000" opacity="0.57"/>
<rect x="207.9" y="271.9" width="0.8" height="0.8" fill="#f3e000" opacity="0.57"/>
<rect x="209.7" y="267.6" width="0.8" height="0.8" fill="#f3e000" opacity="0.47"/>
<rect x="205.5" y="272.4" width="0.8" height="0.8" fill="#f3e000" opacity="0.33"/>
<rect x="209.9" y="269.2" width="0.8" height="0.8" fill="#f3e000" opacity="0.31"/>
<rect x="200.7" y="279.5" width="0.8" height="0.8" fill="#f3e000" opacity="0.25"/>
<rect x="213.7" y="268.1" width="0.8" height="0.8" fill="#f3e000" opacity="0.34"/>
<rect x="214.6" y="260.1" width="0.8" height="0.8" fill="#f3e000" opacity="0.37"/>
<rect x="216.2" y="270.7" width="0.8" height="0.8" fill="#f3e000" opacity="0.35"/>
<rect x="213.2" y="267.2" width="0.8" height="0.8" fill="#f3e000" opacity="0.35"/>
<rect x="210.9" y="268.1" width="0.8" height="0.8" fill="#f3e000" opacity="0.36"/>
<rect x="213.6" y="260.6" width="0.8" height="0.8" fill="#f3e000" opacity="0.22"/>
<rect x="211.8" y="269.3" width="0.8" height="0.8" fill="#f3e000" opacity="0.57"/>
<rect x="209.3" y="277.6" width="0.8" height="0.8" fill="#f3e000" opacity="0.56"/>
<rect x="207.2" y="272.5" width="0.8" height="0.8" fill="#f3e000" opacity="0.58"/>
<rect x="206.2" y="266.1" width="0.8" height="0.8" fill="#f3e000" opacity="0.49"/>
<rect x="207.7" y="272.8" width="0.8" height="0.8" fill="#f3e000" opacity="0.20"/>
<rect x="210.2" y="257.1" width="0.8" height="0.8" fill="#f3e000" opacity="0.45"/>
<rect x="211.0" y="268.5" width="0.8" height="0.8" fill="#f3e000" opacity="0.29"/>
<rect x="194.7" y="271.0" width="0.8" height="0.8" fill="#f3e000" opacity="0.58"/>
<rect x="205.0" y="296.5" width="0.8" height="0.8" fill="#f3e000" opacity="0.17"/>
<rect x="199.4" y="295.2" width="0.8" height="0.8" fill="#f3e000" opacity="0.12"/>
<rect x="208.7" y="289.8" width="0.8" height="0.8" fill="#f3e000" opacity="0.24"/>
<rect x="207.6" y="290.4" width="0.8" height="0.8" fill="#f3e000" opacity="0.15"/>
<rect x="205.6" y="297.7" width="0.8" height="0.8" fill="#f3e000" opacity="0.23"/>
<rect x="208.8" y="295.9" width="0.8" height="0.8" fill="#f3e000" opacity="0.23"/>
<rect x="206.9" y="296.1" width="0.8" height="0.8" fill="#f3e000" opacity="0.10"/>
<rect x="204.1" y="293.9" width="0.8" height="0.8" fill="#f3e000" opacity="0.27"/>
<rect x="214.2" y="288.3" width="0.8" height="0.8" fill="#f3e000" opacity="0.14"/>
<rect x="208.2" y="295.6" width="0.8" height="0.8" fill="#f3e000" opacity="0.18"/>
<rect x="206.0" y="291.4" width="0.8" height="0.8" fill="#f3e000" opacity="0.13"/>
<rect x="202.9" y="297.2" width="0.8" height="0.8" fill="#f3e000" opacity="0.21"/>
<rect x="206.8" y="288.5" width="0.8" height="0.8" fill="#f3e000" opacity="0.21"/>
<rect x="211.5" y="299.3" width="0.8" height="0.8" fill="#f3e000" opacity="0.14"/>
<rect x="204.0" y="293.6" width="0.8" height="0.8" fill="#f3e000" opacity="0.22"/>
<rect x="207.7" y="297.3" width="0.8" height="0.8" fill="#f3e000" opacity="0.13"/>
<rect x="210.8" y="300.5" width="0.8" height="0.8" fill="#f3e000" opacity="0.19"/>
<rect x="205.4" y="297.8" width="0.8" height="0.8" fill="#f3e000" opacity="0.27"/>
</g>
<text x="224.02" y="240.30" font-family="Liberation Sans, sans-serif" font-size="8.6" fill="#111" stroke="#111" stroke-width="0.2" textLength="18.93" lengthAdjust="spacingAndGlyphs">Ala42</text>
<g clip-path="url(#cp02)">
<g filter="url(#bl2)">
<ellipse cx="282.14" cy="263.20" rx="7.20" ry="11.20" fill="#f7ee70" opacity="0.41"/>
<ellipse cx="281.64" cy="260.40" rx="4.80" ry="44.80" fill="#f7ee70" opacity="0.05"/>
<ellipse cx="314.44" cy="258.90" rx="8.00" ry="10.40" fill="#f7ee70" opacity="0.23"/>
<ellipse cx="314.44" cy="265.40" rx="5.60" ry="48.00" fill="#f7ee70" opacity="0.06"/>
<ellipse cx="314.14" cy="290.20" rx="7.20" ry="10.40" fill="#f7ee70" opacity="0.19"/>
<ellipse cx="278.94" cy="292.40" rx="4.80" ry="4.80" fill="#f7ee70" opacity="0.18"/>
<ellipse cx="281.54" cy="237.40" rx="6.40" ry="8.00" fill="#d4eadc" opacity="0.20"/>
<ellipse cx="273.64" cy="236.40" rx="9.60" ry="6.40" fill="#f7ee70" opacity="0.07"/>
</g><g filter="url(#bl)">
<ellipse cx="282.14" cy="263.20" rx="3.82" ry="5.95" fill="#f3e000" opacity="0.81"/>
<ellipse cx="281.64" cy="260.40" rx="2.55" ry="23.80" fill="#f3e000" opacity="0.11"/>
<ellipse cx="314.44" cy="258.90" rx="4.25" ry="5.52" fill="#f3e000" opacity="0.45"/>
<ellipse cx="314.44" cy="265.40" rx="2.98" ry="25.50" fill="#f3e000" opacity="0.12"/>
<ellipse cx="314.14" cy="290.20" rx="3.82" ry="5.52" fill="#f3e000" opacity="0.38"/>
<ellipse cx="278.94" cy="292.40" rx="2.55" ry="2.55" fill="#f3e000" opacity="0.36"/>
<ellipse cx="281.54" cy="237.40" rx="3.40" ry="4.25" fill="#9ccab4" opacity="0.41"/>
<ellipse cx="273.64" cy="236.40" rx="5.10" ry="3.40" fill="#f3e000" opacity="0.14"/>
</g>
<rect x="278.6" y="262.9" width="0.8" height="0.8" fill="#f3e000" opacity="0.47"/>
<rect x="273.5" y="243.8" width="0.8" height="0.8" fill="#f3e000" opacity="0.22"/>
<rect x="273.1" y="265.4" width="0.8" height="0.8" fill="#f3e000" opacity="0.48"/>
<rect x="283.4" y="262.1" width="0.8" height="0.8" fill="#f3e000" opacity="0.29"/>
<rect x="284.5" y="266.6" width="0.8" height="0.8" fill="#f3e000" opacity="0.53"/>
<rect x="272.2" y="254.3" width="0.8" height="0.8" fill="#f3e000" opacity="0.31"/>
<rect x="285.7" y="256.9" width="0.8" height="0.8" fill="#f3e000" opacity="0.27"/>
<rect x="284.2" y="244.9" width="0.8" height="0.8" fill="#f3e000" opacity="0.22"/>
<rect x="276.5" y="257.1" width="0.8" height="0.8" fill="#f3e000" opacity="0.26"/>
<rect x="280.3" y="266.3" width="0.8" height="0.8" fill="#f3e000" opacity="0.25"/>
<rect x="281.9" y="273.6" width="0.8" height="0.8" fill="#f3e000" opacity="0.41"/>
<rect x="282.4" y="264.3" width="0.8" height="0.8" fill="#f3e000" opacity="0.30"/>
<rect x="280.8" y="258.8" width="0.8" height="0.8" fill="#f3e000" opacity="0.29"/>
<rect x="284.7" y="276.3" width="0.8" height="0.8" fill="#f3e000" opacity="0.38"/>
<rect x="284.3" y="264.6" width="0.8" height="0.8" fill="#f3e000" opacity="0.32"/>
<rect x="275.4" y="259.8" width="0.8" height="0.8" fill="#f3e000" opacity="0.21"/>
<rect x="286.1" y="273.4" width="0.8" height="0.8" fill="#f3e000" opacity="0.33"/>
<rect x="281.3" y="269.7" width="0.8" height="0.8" fill="#f3e000" opacity="0.52"/>
<rect x="279.7" y="272.4" width="0.8" height="0.8" fill="#f3e000" opacity="0.31"/>
<rect x="273.6" y="270.9" width="0.8" height="0.8" fill="#f3e000" opacity="0.54"/>
<rect x="280.0" y="267.1" width="0.8" height="0.8" fill="#f3e000" opacity="0.44"/>
<rect x="282.3" y="264.0" width="0.8" height="0.8" fill="#f3e000" opacity="0.50"/>
<rect x="274.0" y="269.8" width="0.8" height="0.8" fill="#f3e000" opacity="0.33"/>
<rect x="286.2" y="257.5" width="0.8" height="0.8" fill="#f3e000" opacity="0.24"/>
<rect x="288.4" y="264.1" width="0.8" height="0.8" fill="#f3e000" opacity="0.41"/>
<rect x="283.9" y="261.4" width="0.8" height="0.8" fill="#f3e000" opacity="0.40"/>
<rect x="278.1" y="269.8" width="0.8" height="0.8" fill="#f3e000" opacity="0.23"/>
<rect x="280.9" y="272.3" width="0.8" height="0.8" fill="#f3e000" opacity="0.51"/>
<rect x="286.6" y="268.8" width="0.8" height="0.8" fill="#f3e000" opacity="0.47"/>
<rect x="285.4" y="262.1" width="0.8" height="0.8" fill="#f3e000" opacity="0.23"/>
<rect x="294.8" y="255.9" width="0.8" height="0.8" fill="#f3e000" opacity="0.35"/>
<rect x="292.8" y="269.0" width="0.8" height="0.8" fill="#f3e000" opacity="0.32"/>
<rect x="287.8" y="257.1" width="0.8" height="0.8" fill="#f3e000" opacity="0.48"/>
<rect x="286.8" y="274.6" width="0.8" height="0.8" fill="#f3e000" opacity="0.26"/>
<rect x="274.2" y="271.6" width="0.8" height="0.8" fill="#f3e000" opacity="0.48"/>
<rect x="283.6" y="268.1" width="0.8" height="0.8" fill="#f3e000" opacity="0.32"/>
<rect x="277.3" y="262.4" width="0.8" height="0.8" fill="#f3e000" opacity="0.22"/>
<rect x="282.3" y="275.6" width="0.8" height="0.8" fill="#f3e000" opacity="0.50"/>
<rect x="288.3" y="265.7" width="0.8" height="0.8" fill="#f3e000" opacity="0.45"/>
<rect x="291.3" y="266.7" width="0.8" height="0.8" fill="#f3e000" opacity="0.22"/>
<rect x="277.1" y="257.5" width="0.8" height="0.8" fill="#f3e000" opacity="0.41"/>
<rect x="280.4" y="270.7" width="0.8" height="0.8" fill="#f3e000" opacity="0.39"/>
<rect x="275.7" y="268.3" width="0.8" height="0.8" fill="#f3e000" opacity="0.34"/>
<rect x="281.1" y="263.8" width="0.8" height="0.8" fill="#f3e000" opacity="0.40"/>
<rect x="278.5" y="263.6" width="0.8" height="0.8" fill="#f3e000" opacity="0.45"/>
<rect x="283.2" y="254.8" width="0.8" height="0.8" fill="#f3e000" opacity="0.24"/>
<rect x="279.8" y="263.8" width="0.8" height="0.8" fill="#f3e000" opacity="0.23"/>
<rect x="280.2" y="264.6" width="0.8" height="0.8" fill="#f3e000" opacity="0.34"/>
<rect x="280.7" y="263.1" width="0.8" height="0.8" fill="#f3e000" opacity="0.41"/>
<rect x="289.1" y="269.4" width="0.8" height="0.8" fill="#f3e000" opacity="0.46"/>
<rect x="280.5" y="263.0" width="0.8" height="0.8" fill="#f3e000" opacity="0.36"/>
<rect x="273.4" y="276.3" width="0.8" height="0.8" fill="#f3e000" opacity="0.23"/>
<rect x="292.4" y="243.1" width="0.8" height="0.8" fill="#f3e000" opacity="0.44"/>
<rect x="283.4" y="258.6" width="0.8" height="0.8" fill="#f3e000" opacity="0.53"/>
<rect x="269.8" y="264.2" width="0.8" height="0.8" fill="#f3e000" opacity="0.51"/>
<rect x="286.6" y="274.9" width="0.8" height="0.8" fill="#f3e000" opacity="0.52"/>
<rect x="286.4" y="266.1" width="0.8" height="0.8" fill="#f3e000" opacity="0.45"/>
<rect x="287.9" y="277.0" width="0.8" height="0.8" fill="#f3e000" opacity="0.28"/>
<rect x="283.2" y="259.3" width="0.8" height="0.8" fill="#f3e000" opacity="0.36"/>
<rect x="285.1" y="260.7" width="0.8" height="0.8" fill="#f3e000" opacity="0.27"/>
<rect x="277.8" y="262.9" width="0.8" height="0.8" fill="#f3e000" opacity="0.19"/>
<rect x="283.4" y="267.4" width="0.8" height="0.8" fill="#f3e000" opacity="0.52"/>
<rect x="277.6" y="248.4" width="0.8" height="0.8" fill="#f3e000" opacity="0.24"/>
<rect x="282.0" y="245.5" width="0.8" height="0.8" fill="#f3e000" opacity="0.05"/>
<rect x="279.6" y="238.4" width="0.8" height="0.8" fill="#f3e000" opacity="0.07"/>
<rect x="277.6" y="246.6" width="0.8" height="0.8" fill="#f3e000" opacity="0.07"/>
<rect x="289.9" y="319.6" width="0.8" height="0.8" fill="#f3e000" opacity="0.05"/>
<rect x="277.0" y="294.3" width="0.8" height="0.8" fill="#f3e000" opacity="0.04"/>
<rect x="286.0" y="258.0" width="0.8" height="0.8" fill="#f3e000" opacity="0.04"/>
<rect x="282.0" y="227.3" width="0.8" height="0.8" fill="#f3e000" opacity="0.03"/>
<rect x="281.6" y="250.7" width="0.8" height="0.8" fill="#f3e000" opacity="0.06"/>
<rect x="281.5" y="304.4" width="0.8" height="0.8" fill="#f3e000" opacity="0.07"/>
<rect x="277.5" y="237.0" width="0.8" height="0.8" fill="#f3e000" opacity="0.04"/>
<rect x="282.5" y="260.5" width="0.8" height="0.8" fill="#f3e000" opacity="0.03"/>
<rect x="279.0" y="238.6" width="0.8" height="0.8" fill="#f3e000" opacity="0.05"/>
<rect x="283.0" y="250.4" width="0.8" height="0.8" fill="#f3e000" opacity="0.03"/>
<rect x="281.2" y="255.0" width="0.8" height="0.8" fill="#f3e000" opacity="0.02"/>
<rect x="280.7" y="271.9" width="0.8" height="0.8" fill="#f3e000" opacity="0.04"/>
<rect x="282.3" y="300.6" width="0.8" height="0.8" fill="#f3e000" opacity="0.05"/>
<rect x="283.0" y="301.7" width="0.8" height="0.8" fill="#f3e000" opacity="0.05"/>
<rect x="286.8" y="314.6" width="0.8" height="0.8" fill="#f3e000" opacity="0.04"/>
<rect x="282.5" y="271.5" width="0.8" height="0.8" fill="#f3e000" opacity="0.05"/>
<rect x="285.6" y="221.5" width="0.8" height="0.8" fill="#f3e000" opacity="0.04"/>
<rect x="281.6" y="265.1" width="0.8" height="0.8" fill="#f3e000" opacity="0.05"/>
<rect x="278.8" y="249.5" width="0.8" height="0.8" fill="#f3e000" opacity="0.05"/>
<rect x="274.4" y="285.5" width="0.8" height="0.8" fill="#f3e000" opacity="0.06"/>
<rect x="281.7" y="327.0" width="0.8" height="0.8" fill="#f3e000" opacity="0.03"/>
<rect x="278.3" y="254.2" width="0.8" height="0.8" fill="#f3e000" opacity="0.04"/>
<rect x="287.0" y="279.6" width="0.8" height="0.8" fill="#f3e000" opacity="0.02"/>
<rect x="274.2" y="237.4" width="0.8" height="0.8" fill="#f3e000" opacity="0.03"/>
<rect x="283.0" y="300.5" width="0.8" height="0.8" fill="#f3e000" opacity="0.05"/>
<rect x="277.8" y="216.6" width="0.8" height="0.8" fill="#f3e000" opacity="0.03"/>
<rect x="280.6" y="284.6" width="0.8" height="0.8" fill="#f3e000" opacity="0.03"/>
<rect x="286.1" y="225.9" width="0.8" height="0.8" fill="#f3e000" opacity="0.06"/>
<rect x="288.0" y="262.8" width="0.8" height="0.8" fill="#f3e000" opacity="0.06"/>
<rect x="276.3" y="271.4" width="0.8" height="0.8" fill="#f3e000" opacity="0.05"/>
<rect x="281.9" y="274.8" width="0.8" height="0.8" fill="#f3e000" opacity="0.04"/>
<rect x="284.5" y="267.1" width="0.8" height="0.8" fill="#f3e000" opacity="0.06"/>
<rect x="279.5" y="204.4" width="0.8" height="0.8" fill="#f3e000" opacity="0.06"/>
<rect x="281.2" y="299.3" width="0.8" height="0.8" fill="#f3e000" opacity="0.04"/>
<rect x="282.6" y="224.0" width="0.8" height="0.8" fill="#f3e000" opacity="0.04"/>
<rect x="276.3" y="198.3" width="0.8" height="0.8" fill="#f3e000" opacity="0.03"/>
<rect x="282.1" y="256.7" width="0.8" height="0.8" fill="#f3e000" opacity="0.04"/>
<rect x="282.1" y="311.0" width="0.8" height="0.8" fill="#f3e000" opacity="0.07"/>
<rect x="281.6" y="233.0" width="0.8" height="0.8" fill="#f3e000" opacity="0.07"/>
<rect x="280.5" y="280.5" width="0.8" height="0.8" fill="#f3e000" opacity="0.07"/>
<rect x="278.2" y="225.8" width="0.8" height="0.8" fill="#f3e000" opacity="0.06"/>
<rect x="285.3" y="255.8" width="0.8" height="0.8" fill="#f3e000" opacity="0.06"/>
<rect x="279.5" y="202.9" width="0.8" height="0.8" fill="#f3e000" opacity="0.04"/>
<rect x="281.0" y="220.9" width="0.8" height="0.8" fill="#f3e000" opacity="0.04"/>
<rect x="282.7" y="302.2" width="0.8" height="0.8" fill="#f3e000" opacity="0.03"/>
<rect x="283.2" y="251.2" width="0.8" height="0.8" fill="#f3e000" opacity="0.03"/>
<rect x="287.6" y="304.4" width="0.8" height="0.8" fill="#f3e000" opacity="0.04"/>
<rect x="282.1" y="266.2" width="0.8" height="0.8" fill="#f3e000" opacity="0.03"/>
<rect x="280.0" y="219.5" width="0.8" height="0.8" fill="#f3e000" opacity="0.06"/>
<rect x="281.5" y="249.1" width="0.8" height="0.8" fill="#f3e000" opacity="0.05"/>
<rect x="277.7" y="303.4" width="0.8" height="0.8" fill="#f3e000" opacity="0.06"/>
<rect x="282.6" y="253.2" width="0.8" height="0.8" fill="#f3e000" opacity="0.07"/>
<rect x="288.5" y="222.5" width="0.8" height="0.8" fill="#f3e000" opacity="0.03"/>
<rect x="282.1" y="274.8" width="0.8" height="0.8" fill="#f3e000" opacity="0.03"/>
<rect x="285.1" y="214.4" width="0.8" height="0.8" fill="#f3e000" opacity="0.05"/>
<rect x="283.8" y="221.6" width="0.8" height="0.8" fill="#f3e000" opacity="0.04"/>
<rect x="282.9" y="268.6" width="0.8" height="0.8" fill="#f3e000" opacity="0.06"/>
<rect x="282.4" y="286.3" width="0.8" height="0.8" fill="#f3e000" opacity="0.04"/>
<rect x="284.2" y="263.5" width="0.8" height="0.8" fill="#f3e000" opacity="0.04"/>
<rect x="281.0" y="231.6" width="0.8" height="0.8" fill="#f3e000" opacity="0.04"/>
<rect x="285.4" y="252.2" width="0.8" height="0.8" fill="#f3e000" opacity="0.06"/>
<rect x="281.0" y="255.2" width="0.8" height="0.8" fill="#f3e000" opacity="0.04"/>
<rect x="276.4" y="281.0" width="0.8" height="0.8" fill="#f3e000" opacity="0.04"/>
<rect x="280.5" y="223.7" width="0.8" height="0.8" fill="#f3e000" opacity="0.03"/>
<rect x="282.6" y="250.2" width="0.8" height="0.8" fill="#f3e000" opacity="0.06"/>
<rect x="281.7" y="261.8" width="0.8" height="0.8" fill="#f3e000" opacity="0.03"/>
<rect x="282.3" y="175.6" width="0.8" height="0.8" fill="#f3e000" opacity="0.02"/>
<rect x="277.8" y="262.5" width="0.8" height="0.8" fill="#f3e000" opacity="0.06"/>
<rect x="283.2" y="293.4" width="0.8" height="0.8" fill="#f3e000" opacity="0.04"/>
<rect x="282.9" y="239.6" width="0.8" height="0.8" fill="#f3e000" opacity="0.07"/>
<rect x="281.2" y="281.3" width="0.8" height="0.8" fill="#f3e000" opacity="0.06"/>
<rect x="280.0" y="260.6" width="0.8" height="0.8" fill="#f3e000" opacity="0.05"/>
<rect x="286.7" y="286.8" width="0.8" height="0.8" fill="#f3e000" opacity="0.06"/>
<rect x="282.7" y="218.3" width="0.8" height="0.8" fill="#f3e000" opacity="0.04"/>
<rect x="278.9" y="278.3" width="0.8" height="0.8" fill="#f3e000" opacity="0.07"/>
<rect x="287.6" y="293.6" width="0.8" height="0.8" fill="#f3e000" opacity="0.03"/>
<rect x="282.3" y="283.6" width="0.8" height="0.8" fill="#f3e000" opacity="0.07"/>
<rect x="278.4" y="260.2" width="0.8" height="0.8" fill="#f3e000" opacity="0.07"/>
<rect x="282.0" y="294.5" width="0.8" height="0.8" fill="#f3e000" opacity="0.05"/>
<rect x="281.8" y="208.9" width="0.8" height="0.8" fill="#f3e000" opacity="0.06"/>
<rect x="279.9" y="282.7" width="0.8" height="0.8" fill="#f3e000" opacity="0.03"/>
<rect x="284.3" y="222.6" width="0.8" height="0.8" fill="#f3e000" opacity="0.06"/>
<rect x="283.4" y="289.4" width="0.8" height="0.8" fill="#f3e000" opacity="0.06"/>
<rect x="280.1" y="252.8" width="0.8" height="0.8" fill="#f3e000" opacity="0.05"/>
<rect x="283.5" y="245.4" width="0.8" height="0.8" fill="#f3e000" opacity="0.03"/>
<rect x="280.0" y="305.9" width="0.8" height="0.8" fill="#f3e000" opacity="0.06"/>
<rect x="282.7" y="275.2" width="0.8" height="0.8" fill="#f3e000" opacity="0.04"/>
<rect x="279.8" y="293.6" width="0.8" height="0.8" fill="#f3e000" opacity="0.03"/>
<rect x="280.6" y="278.0" width="0.8" height="0.8" fill="#f3e000" opacity="0.07"/>
<rect x="281.4" y="246.3" width="0.8" height="0.8" fill="#f3e000" opacity="0.07"/>
<rect x="284.2" y="278.5" width="0.8" height="0.8" fill="#f3e000" opacity="0.07"/>
<rect x="283.1" y="212.3" width="0.8" height="0.8" fill="#f3e000" opacity="0.04"/>
<rect x="283.2" y="301.8" width="0.8" height="0.8" fill="#f3e000" opacity="0.03"/>
<rect x="282.5" y="289.8" width="0.8" height="0.8" fill="#f3e000" opacity="0.03"/>
<rect x="276.9" y="292.7" width="0.8" height="0.8" fill="#f3e000" opacity="0.06"/>
<rect x="277.0" y="260.3" width="0.8" height="0.8" fill="#f3e000" opacity="0.05"/>
<rect x="284.5" y="293.0" width="0.8" height="0.8" fill="#f3e000" opacity="0.04"/>
<rect x="281.2" y="193.2" width="0.8" height="0.8" fill="#f3e000" opacity="0.04"/>
<rect x="276.7" y="237.4" width="0.8" height="0.8" fill="#f3e000" opacity="0.04"/>
<rect x="282.3" y="309.3" width="0.8" height="0.8" fill="#f3e000" opacity="0.07"/>
<rect x="282.4" y="213.1" width="0.8" height="0.8" fill="#f3e000" opacity="0.06"/>
<rect x="279.6" y="220.5" width="0.8" height="0.8" fill="#f3e000" opacity="0.05"/>
<rect x="279.8" y="300.4" width="0.8" height="0.8" fill="#f3e000" opacity="0.03"/>
<rect x="276.6" y="286.4" width="0.8" height="0.8" fill="#f3e000" opacity="0.06"/>
<rect x="279.9" y="243.4" width="0.8" height="0.8" fill="#f3e000" opacity="0.04"/>
<rect x="277.2" y="272.3" width="0.8" height="0.8" fill="#f3e000" opacity="0.04"/>
<rect x="278.2" y="197.0" width="0.8" height="0.8" fill="#f3e000" opacity="0.03"/>
<rect x="278.4" y="216.3" width="0.8" height="0.8" fill="#f3e000" opacity="0.04"/>
<rect x="272.7" y="265.7" width="0.8" height="0.8" fill="#f3e000" opacity="0.03"/>
<rect x="279.8" y="255.5" width="0.8" height="0.8" fill="#f3e000" opacity="0.06"/>
<rect x="285.4" y="246.8" width="0.8" height="0.8" fill="#f3e000" opacity="0.03"/>
<rect x="278.0" y="243.0" width="0.8" height="0.8" fill="#f3e000" opacity="0.06"/>
<rect x="276.9" y="257.0" width="0.8" height="0.8" fill="#f3e000" opacity="0.06"/>
<rect x="278.3" y="256.1" width="0.8" height="0.8" fill="#f3e000" opacity="0.07"/>
<rect x="282.9" y="305.7" width="0.8" height="0.8" fill="#f3e000" opacity="0.04"/>
<rect x="281.8" y="244.7" width="0.8" height="0.8" fill="#f3e000" opacity="0.07"/>
<rect x="280.9" y="268.7" width="0.8" height="0.8" fill="#f3e000" opacity="0.04"/>
<rect x="281.2" y="263.4" width="0.8" height="0.8" fill="#f3e000" opacity="0.04"/>
<rect x="277.2" y="283.2" width="0.8" height="0.8" fill="#f3e000" opacity="0.04"/>
<rect x="281.4" y="282.3" width="0.8" height="0.8" fill="#f3e000" opacity="0.06"/>
<rect x="285.4" y="246.5" width="0.8" height="0.8" fill="#f3e000" opacity="0.03"/>
<rect x="282.7" y="231.3" width="0.8" height="0.8" fill="#f3e000" opacity="0.03"/>
<rect x="285.6" y="299.1" width="0.8" height="0.8" fill="#f3e000" opacity="0.06"/>
<rect x="279.2" y="234.5" width="0.8" height="0.8" fill="#f3e000" opacity="0.05"/>
<rect x="282.9" y="338.9" width="0.8" height="0.8" fill="#f3e000" opacity="0.04"/>
<rect x="277.7" y="216.8" width="0.8" height="0.8" fill="#f3e000" opacity="0.06"/>
<rect x="278.9" y="265.5" width="0.8" height="0.8" fill="#f3e000" opacity="0.05"/>
<rect x="286.1" y="301.7" width="0.8" height="0.8" fill="#f3e000" opacity="0.04"/>
<rect x="283.2" y="240.8" width="0.8" height="0.8" fill="#f3e000" opacity="0.04"/>
<rect x="281.6" y="292.9" width="0.8" height="0.8" fill="#f3e000" opacity="0.03"/>
<rect x="286.9" y="261.2" width="0.8" height="0.8" fill="#f3e000" opacity="0.04"/>
<rect x="281.7" y="286.5" width="0.8" height="0.8" fill="#f3e000" opacity="0.05"/>
<rect x="277.4" y="279.5" width="0.8" height="0.8" fill="#f3e000" opacity="0.06"/>
<rect x="276.7" y="314.2" width="0.8" height="0.8" fill="#f3e000" opacity="0.07"/>
<rect x="287.4" y="280.7" width="0.8" height="0.8" fill="#f3e000" opacity="0.07"/>
<rect x="282.0" y="243.8" width="0.8" height="0.8" fill="#f3e000" opacity="0.06"/>
<rect x="281.3" y="256.4" width="0.8" height="0.8" fill="#f3e000" opacity="0.02"/>
<rect x="286.2" y="247.0" width="0.8" height="0.8" fill="#f3e000" opacity="0.04"/>
<rect x="283.1" y="270.6" width="0.8" height="0.8" fill="#f3e000" opacity="0.04"/>
<rect x="282.1" y="232.4" width="0.8" height="0.8" fill="#f3e000" opacity="0.03"/>
<rect x="286.5" y="229.5" width="0.8" height="0.8" fill="#f3e000" opacity="0.03"/>
<rect x="285.1" y="233.8" width="0.8" height="0.8" fill="#f3e000" opacity="0.06"/>
<rect x="278.2" y="203.5" width="0.8" height="0.8" fill="#f3e000" opacity="0.06"/>
<rect x="282.8" y="243.1" width="0.8" height="0.8" fill="#f3e000" opacity="0.06"/>
<rect x="276.3" y="250.7" width="0.8" height="0.8" fill="#f3e000" opacity="0.05"/>
<rect x="284.7" y="234.1" width="0.8" height="0.8" fill="#f3e000" opacity="0.04"/>
<rect x="281.8" y="277.2" width="0.8" height="0.8" fill="#f3e000" opacity="0.05"/>
<rect x="285.1" y="272.8" width="0.8" height="0.8" fill="#f3e000" opacity="0.03"/>
<rect x="277.8" y="262.4" width="0.8" height="0.8" fill="#f3e000" opacity="0.05"/>
<rect x="281.9" y="257.7" width="0.8" height="0.8" fill="#f3e000" opacity="0.06"/>
<rect x="277.5" y="268.3" width="0.8" height="0.8" fill="#f3e000" opacity="0.06"/>
<rect x="283.4" y="235.2" width="0.8" height="0.8" fill="#f3e000" opacity="0.04"/>
<rect x="282.9" y="257.4" width="0.8" height="0.8" fill="#f3e000" opacity="0.05"/>
<rect x="281.1" y="254.8" width="0.8" height="0.8" fill="#f3e000" opacity="0.05"/>
<rect x="278.5" y="195.4" width="0.8" height="0.8" fill="#f3e000" opacity="0.04"/>
<rect x="285.6" y="256.2" width="0.8" height="0.8" fill="#f3e000" opacity="0.05"/>
<rect x="282.3" y="255.5" width="0.8" height="0.8" fill="#f3e000" opacity="0.06"/>
<rect x="279.5" y="240.6" width="0.8" height="0.8" fill="#f3e000" opacity="0.07"/>
<rect x="279.1" y="286.4" width="0.8" height="0.8" fill="#f3e000" opacity="0.05"/>
<rect x="281.9" y="239.4" width="0.8" height="0.8" fill="#f3e000" opacity="0.04"/>
<rect x="277.9" y="278.7" width="0.8" height="0.8" fill="#f3e000" opacity="0.06"/>
<rect x="280.0" y="316.1" width="0.8" height="0.8" fill="#f3e000" opacity="0.04"/>
<rect x="279.0" y="259.8" width="0.8" height="0.8" fill="#f3e000" opacity="0.05"/>
<rect x="286.4" y="253.4" width="0.8" height="0.8" fill="#f3e000" opacity="0.06"/>
<rect x="280.2" y="283.9" width="0.8" height="0.8" fill="#f3e000" opacity="0.04"/>
<rect x="307.8" y="253.7" width="0.8" height="0.8" fill="#f3e000" opacity="0.26"/>
<rect x="323.0" y="261.8" width="0.8" height="0.8" fill="#f3e000" opacity="0.28"/>
<rect x="312.8" y="258.3" width="0.8" height="0.8" fill="#f3e000" opacity="0.16"/>
<rect x="318.0" y="259.1" width="0.8" height="0.8" fill="#f3e000" opacity="0.28"/>
<rect x="308.2" y="252.3" width="0.8" height="0.8" fill="#f3e000" opacity="0.26"/>
<rect x="320.8" y="253.6" width="0.8" height="0.8" fill="#f3e000" opacity="0.22"/>
<rect x="308.5" y="251.0" width="0.8" height="0.8" fill="#f3e000" opacity="0.22"/>
<rect x="312.8" y="254.4" width="0.8" height="0.8" fill="#f3e000" opacity="0.23"/>
<rect x="305.4" y="262.1" width="0.8" height="0.8" fill="#f3e000" opacity="0.12"/>
<rect x="315.1" y="260.7" width="0.8" height="0.8" fill="#f3e000" opacity="0.25"/>
<rect x="321.3" y="253.5" width="0.8" height="0.8" fill="#f3e000" opacity="0.17"/>
<rect x="318.7" y="247.6" width="0.8" height="0.8" fill="#f3e000" opacity="0.21"/>
<rect x="314.2" y="265.0" width="0.8" height="0.8" fill="#f3e000" opacity="0.18"/>
<rect x="312.0" y="265.8" width="0.8" height="0.8" fill="#f3e000" opacity="0.23"/>
<rect x="316.1" y="257.9" width="0.8" height="0.8" fill="#f3e000" opacity="0.21"/>
<rect x="317.1" y="259.8" width="0.8" height="0.8" fill="#f3e000" opacity="0.26"/>
<rect x="303.5" y="251.6" width="0.8" height="0.8" fill="#f3e000" opacity="0.19"/>
<rect x="319.9" y="259.5" width="0.8" height="0.8" fill="#f3e000" opacity="0.22"/>
<rect x="328.7" y="251.2" width="0.8" height="0.8" fill="#f3e000" opacity="0.20"/>
<rect x="312.3" y="260.6" width="0.8" height="0.8" fill="#f3e000" opacity="0.23"/>
<rect x="315.2" y="262.9" width="0.8" height="0.8" fill="#f3e000" opacity="0.10"/>
<rect x="322.8" y="259.2" width="0.8" height="0.8" fill="#f3e000" opacity="0.12"/>
<rect x="316.8" y="258.3" width="0.8" height="0.8" fill="#f3e000" opacity="0.27"/>
<rect x="315.2" y="259.9" width="0.8" height="0.8" fill="#f3e000" opacity="0.24"/>
<rect x="314.9" y="270.5" width="0.8" height="0.8" fill="#f3e000" opacity="0.14"/>
<rect x="323.5" y="262.7" width="0.8" height="0.8" fill="#f3e000" opacity="0.24"/>
<rect x="319.9" y="249.8" width="0.8" height="0.8" fill="#f3e000" opacity="0.12"/>
<rect x="308.5" y="250.8" width="0.8" height="0.8" fill="#f3e000" opacity="0.19"/>
<rect x="318.3" y="256.6" width="0.8" height="0.8" fill="#f3e000" opacity="0.29"/>
<rect x="314.3" y="257.8" width="0.8" height="0.8" fill="#f3e000" opacity="0.10"/>
<rect x="308.5" y="248.2" width="0.8" height="0.8" fill="#f3e000" opacity="0.12"/>
<rect x="311.1" y="269.6" width="0.8" height="0.8" fill="#f3e000" opacity="0.13"/>
<rect x="318.5" y="252.6" width="0.8" height="0.8" fill="#f3e000" opacity="0.11"/>
<rect x="309.6" y="265.8" width="0.8" height="0.8" fill="#f3e000" opacity="0.19"/>
<rect x="313.1" y="255.3" width="0.8" height="0.8" fill="#f3e000" opacity="0.26"/>
<rect x="309.3" y="266.7" width="0.8" height="0.8" fill="#f3e000" opacity="0.23"/>
<rect x="309.7" y="262.4" width="0.8" height="0.8" fill="#f3e000" opacity="0.26"/>
<rect x="323.5" y="254.7" width="0.8" height="0.8" fill="#f3e000" opacity="0.21"/>
<rect x="313.9" y="261.3" width="0.8" height="0.8" fill="#f3e000" opacity="0.29"/>
<rect x="311.5" y="246.1" width="0.8" height="0.8" fill="#f3e000" opacity="0.17"/>
<rect x="302.5" y="246.8" width="0.8" height="0.8" fill="#f3e000" opacity="0.27"/>
<rect x="310.6" y="255.3" width="0.8" height="0.8" fill="#f3e000" opacity="0.19"/>
<rect x="318.5" y="254.4" width="0.8" height="0.8" fill="#f3e000" opacity="0.24"/>
<rect x="305.0" y="249.8" width="0.8" height="0.8" fill="#f3e000" opacity="0.26"/>
<rect x="314.4" y="259.3" width="0.8" height="0.8" fill="#f3e000" opacity="0.15"/>
<rect x="308.0" y="263.3" width="0.8" height="0.8" fill="#f3e000" opacity="0.26"/>
<rect x="315.7" y="257.5" width="0.8" height="0.8" fill="#f3e000" opacity="0.27"/>
<rect x="318.6" y="245.6" width="0.8" height="0.8" fill="#f3e000" opacity="0.21"/>
<rect x="312.8" y="272.7" width="0.8" height="0.8" fill="#f3e000" opacity="0.26"/>
<rect x="309.6" y="244.4" width="0.8" height="0.8" fill="#f3e000" opacity="0.17"/>
<rect x="320.5" y="263.5" width="0.8" height="0.8" fill="#f3e000" opacity="0.26"/>
<rect x="317.2" y="270.2" width="0.8" height="0.8" fill="#f3e000" opacity="0.29"/>
<rect x="315.2" y="268.6" width="0.8" height="0.8" fill="#f3e000" opacity="0.24"/>
<rect x="310.8" y="260.0" width="0.8" height="0.8" fill="#f3e000" opacity="0.15"/>
<rect x="314.5" y="246.2" width="0.8" height="0.8" fill="#f3e000" opacity="0.19"/>
<rect x="322.9" y="265.7" width="0.8" height="0.8" fill="#f3e000" opacity="0.25"/>
<rect x="315.2" y="268.3" width="0.8" height="0.8" fill="#f3e000" opacity="0.28"/>
<rect x="319.5" y="253.2" width="0.8" height="0.8" fill="#f3e000" opacity="0.20"/>
<rect x="311.4" y="256.4" width="0.8" height="0.8" fill="#f3e000" opacity="0.14"/>
<rect x="318.0" y="269.0" width="0.8" height="0.8" fill="#f3e000" opacity="0.17"/>
<rect x="309.3" y="256.0" width="0.8" height="0.8" fill="#f3e000" opacity="0.20"/>
<rect x="315.4" y="260.6" width="0.8" height="0.8" fill="#f3e000" opacity="0.30"/>
<rect x="312.6" y="261.3" width="0.8" height="0.8" fill="#f3e000" opacity="0.23"/>
<rect x="315.2" y="254.8" width="0.8" height="0.8" fill="#f3e000" opacity="0.22"/>
<rect x="310.7" y="266.1" width="0.8" height="0.8" fill="#f3e000" opacity="0.10"/>
<rect x="325.9" y="286.5" width="0.8" height="0.8" fill="#f3e000" opacity="0.07"/>
<rect x="309.5" y="269.1" width="0.8" height="0.8" fill="#f3e000" opacity="0.04"/>
<rect x="315.2" y="231.2" width="0.8" height="0.8" fill="#f3e000" opacity="0.08"/>
<rect x="315.2" y="204.8" width="0.8" height="0.8" fill="#f3e000" opacity="0.08"/>
<rect x="314.4" y="274.6" width="0.8" height="0.8" fill="#f3e000" opacity="0.04"/>
<rect x="315.1" y="277.9" width="0.8" height="0.8" fill="#f3e000" opacity="0.03"/>
<rect x="307.2" y="241.9" width="0.8" height="0.8" fill="#f3e000" opacity="0.05"/>
<rect x="322.4" y="241.8" width="0.8" height="0.8" fill="#f3e000" opacity="0.03"/>
<rect x="311.3" y="246.2" width="0.8" height="0.8" fill="#f3e000" opacity="0.03"/>
<rect x="317.3" y="259.0" width="0.8" height="0.8" fill="#f3e000" opacity="0.06"/>
<rect x="308.3" y="201.5" width="0.8" height="0.8" fill="#f3e000" opacity="0.06"/>
<rect x="311.2" y="287.8" width="0.8" height="0.8" fill="#f3e000" opacity="0.03"/>
<rect x="326.1" y="243.6" width="0.8" height="0.8" fill="#f3e000" opacity="0.04"/>
<rect x="317.3" y="271.5" width="0.8" height="0.8" fill="#f3e000" opacity="0.04"/>
<rect x="321.3" y="224.4" width="0.8" height="0.8" fill="#f3e000" opacity="0.07"/>
<rect x="320.9" y="282.3" width="0.8" height="0.8" fill="#f3e000" opacity="0.06"/>
<rect x="307.7" y="189.0" width="0.8" height="0.8" fill="#f3e000" opacity="0.03"/>
<rect x="318.4" y="309.1" width="0.8" height="0.8" fill="#f3e000" opacity="0.07"/>
<rect x="313.0" y="240.5" width="0.8" height="0.8" fill="#f3e000" opacity="0.06"/>
<rect x="314.5" y="249.8" width="0.8" height="0.8" fill="#f3e000" opacity="0.04"/>
<rect x="314.4" y="282.4" width="0.8" height="0.8" fill="#f3e000" opacity="0.05"/>
<rect x="315.8" y="286.6" width="0.8" height="0.8" fill="#f3e000" opacity="0.03"/>
<rect x="314.2" y="260.7" width="0.8" height="0.8" fill="#f3e000" opacity="0.06"/>
<rect x="314.8" y="273.8" width="0.8" height="0.8" fill="#f3e000" opacity="0.07"/>
<rect x="316.1" y="341.0" width="0.8" height="0.8" fill="#f3e000" opacity="0.07"/>
<rect x="316.1" y="253.7" width="0.8" height="0.8" fill="#f3e000" opacity="0.05"/>
<rect x="321.7" y="308.8" width="0.8" height="0.8" fill="#f3e000" opacity="0.07"/>
<rect x="311.5" y="239.3" width="0.8" height="0.8" fill="#f3e000" opacity="0.04"/>
<rect x="316.4" y="231.7" width="0.8" height="0.8" fill="#f3e000" opacity="0.06"/>
<rect x="316.1" y="283.7" width="0.8" height="0.8" fill="#f3e000" opacity="0.03"/>
<rect x="313.3" y="224.6" width="0.8" height="0.8" fill="#f3e000" opacity="0.03"/>
<rect x="316.5" y="246.5" width="0.8" height="0.8" fill="#f3e000" opacity="0.05"/>
<rect x="316.2" y="287.2" width="0.8" height="0.8" fill="#f3e000" opacity="0.07"/>
<rect x="313.3" y="282.6" width="0.8" height="0.8" fill="#f3e000" opacity="0.05"/>
<rect x="311.0" y="330.3" width="0.8" height="0.8" fill="#f3e000" opacity="0.03"/>
<rect x="315.7" y="263.9" width="0.8" height="0.8" fill="#f3e000" opacity="0.07"/>
<rect x="313.1" y="245.6" width="0.8" height="0.8" fill="#f3e000" opacity="0.05"/>
<rect x="313.8" y="290.2" width="0.8" height="0.8" fill="#f3e000" opacity="0.04"/>
<rect x="306.7" y="341.7" width="0.8" height="0.8" fill="#f3e000" opacity="0.08"/>
<rect x="316.0" y="258.6" width="0.8" height="0.8" fill="#f3e000" opacity="0.04"/>
<rect x="315.5" y="258.5" width="0.8" height="0.8" fill="#f3e000" opacity="0.06"/>
<rect x="311.6" y="353.5" width="0.8" height="0.8" fill="#f3e000" opacity="0.03"/>
<rect x="315.7" y="237.2" width="0.8" height="0.8" fill="#f3e000" opacity="0.03"/>
<rect x="321.7" y="266.2" width="0.8" height="0.8" fill="#f3e000" opacity="0.05"/>
<rect x="316.1" y="297.8" width="0.8" height="0.8" fill="#f3e000" opacity="0.07"/>
<rect x="315.4" y="307.5" width="0.8" height="0.8" fill="#f3e000" opacity="0.03"/>
<rect x="317.2" y="316.6" width="0.8" height="0.8" fill="#f3e000" opacity="0.06"/>
<rect x="315.0" y="278.1" width="0.8" height="0.8" fill="#f3e000" opacity="0.03"/>
<rect x="310.9" y="241.1" width="0.8" height="0.8" fill="#f3e000" opacity="0.04"/>
<rect x="315.9" y="309.1" width="0.8" height="0.8" fill="#f3e000" opacity="0.06"/>
<rect x="316.4" y="225.0" width="0.8" height="0.8" fill="#f3e000" opacity="0.04"/>
<rect x="320.2" y="286.9" width="0.8" height="0.8" fill="#f3e000" opacity="0.05"/>
<rect x="314.2" y="254.4" width="0.8" height="0.8" fill="#f3e000" opacity="0.07"/>
<rect x="310.7" y="319.9" width="0.8" height="0.8" fill="#f3e000" opacity="0.07"/>
<rect x="313.8" y="265.7" width="0.8" height="0.8" fill="#f3e000" opacity="0.07"/>
<rect x="306.7" y="275.2" width="0.8" height="0.8" fill="#f3e000" opacity="0.04"/>
<rect x="317.3" y="322.7" width="0.8" height="0.8" fill="#f3e000" opacity="0.05"/>
<rect x="316.4" y="292.6" width="0.8" height="0.8" fill="#f3e000" opacity="0.06"/>
<rect x="319.1" y="266.6" width="0.8" height="0.8" fill="#f3e000" opacity="0.05"/>
<rect x="312.5" y="263.8" width="0.8" height="0.8" fill="#f3e000" opacity="0.06"/>
<rect x="317.6" y="205.0" width="0.8" height="0.8" fill="#f3e000" opacity="0.04"/>
<rect x="313.5" y="234.0" width="0.8" height="0.8" fill="#f3e000" opacity="0.07"/>
<rect x="321.7" y="290.5" width="0.8" height="0.8" fill="#f3e000" opacity="0.08"/>
<rect x="309.8" y="266.7" width="0.8" height="0.8" fill="#f3e000" opacity="0.05"/>
<rect x="313.7" y="263.8" width="0.8" height="0.8" fill="#f3e000" opacity="0.08"/>
<rect x="314.8" y="286.1" width="0.8" height="0.8" fill="#f3e000" opacity="0.03"/>
<rect x="314.4" y="326.2" width="0.8" height="0.8" fill="#f3e000" opacity="0.03"/>
<rect x="319.3" y="294.5" width="0.8" height="0.8" fill="#f3e000" opacity="0.04"/>
<rect x="319.6" y="270.4" width="0.8" height="0.8" fill="#f3e000" opacity="0.06"/>
<rect x="308.5" y="258.0" width="0.8" height="0.8" fill="#f3e000" opacity="0.03"/>
<rect x="318.6" y="227.1" width="0.8" height="0.8" fill="#f3e000" opacity="0.03"/>
<rect x="317.7" y="292.3" width="0.8" height="0.8" fill="#f3e000" opacity="0.05"/>
<rect x="314.1" y="281.9" width="0.8" height="0.8" fill="#f3e000" opacity="0.05"/>
<rect x="317.8" y="298.9" width="0.8" height="0.8" fill="#f3e000" opacity="0.07"/>
<rect x="317.5" y="299.8" width="0.8" height="0.8" fill="#f3e000" opacity="0.06"/>
<rect x="318.1" y="318.4" width="0.8" height="0.8" fill="#f3e000" opacity="0.07"/>
<rect x="311.4" y="287.6" width="0.8" height="0.8" fill="#f3e000" opacity="0.07"/>
<rect x="310.6" y="260.1" width="0.8" height="0.8" fill="#f3e000" opacity="0.07"/>
<rect x="315.0" y="235.8" width="0.8" height="0.8" fill="#f3e000" opacity="0.04"/>
<rect x="312.3" y="295.8" width="0.8" height="0.8" fill="#f3e000" opacity="0.08"/>
<rect x="317.3" y="196.7" width="0.8" height="0.8" fill="#f3e000" opacity="0.07"/>
<rect x="315.2" y="256.4" width="0.8" height="0.8" fill="#f3e000" opacity="0.05"/>
<rect x="323.1" y="245.2" width="0.8" height="0.8" fill="#f3e000" opacity="0.04"/>
<rect x="309.6" y="287.3" width="0.8" height="0.8" fill="#f3e000" opacity="0.04"/>
<rect x="313.0" y="263.0" width="0.8" height="0.8" fill="#f3e000" opacity="0.05"/>
<rect x="313.7" y="265.2" width="0.8" height="0.8" fill="#f3e000" opacity="0.03"/>
<rect x="321.0" y="254.6" width="0.8" height="0.8" fill="#f3e000" opacity="0.07"/>
<rect x="309.7" y="220.8" width="0.8" height="0.8" fill="#f3e000" opacity="0.07"/>
<rect x="315.2" y="259.6" width="0.8" height="0.8" fill="#f3e000" opacity="0.06"/>
<rect x="313.9" y="314.9" width="0.8" height="0.8" fill="#f3e000" opacity="0.04"/>
<rect x="306.0" y="245.7" width="0.8" height="0.8" fill="#f3e000" opacity="0.06"/>
<rect x="314.4" y="305.4" width="0.8" height="0.8" fill="#f3e000" opacity="0.05"/>
<rect x="317.5" y="257.1" width="0.8" height="0.8" fill="#f3e000" opacity="0.04"/>
<rect x="313.3" y="252.0" width="0.8" height="0.8" fill="#f3e000" opacity="0.06"/>
<rect x="318.9" y="254.6" width="0.8" height="0.8" fill="#f3e000" opacity="0.04"/>
<rect x="309.8" y="273.9" width="0.8" height="0.8" fill="#f3e000" opacity="0.03"/>
<rect x="315.9" y="277.7" width="0.8" height="0.8" fill="#f3e000" opacity="0.04"/>
<rect x="311.8" y="280.5" width="0.8" height="0.8" fill="#f3e000" opacity="0.04"/>
<rect x="318.6" y="287.2" width="0.8" height="0.8" fill="#f3e000" opacity="0.07"/>
<rect x="310.6" y="238.1" width="0.8" height="0.8" fill="#f3e000" opacity="0.06"/>
<rect x="316.3" y="314.9" width="0.8" height="0.8" fill="#f3e000" opacity="0.05"/>
<rect x="309.4" y="251.9" width="0.8" height="0.8" fill="#f3e000" opacity="0.05"/>
<rect x="313.4" y="288.2" width="0.8" height="0.8" fill="#f3e000" opacity="0.04"/>
<rect x="310.7" y="262.9" width="0.8" height="0.8" fill="#f3e000" opacity="0.06"/>
<rect x="318.0" y="267.7" width="0.8" height="0.8" fill="#f3e000" opacity="0.07"/>
<rect x="314.8" y="307.4" width="0.8" height="0.8" fill="#f3e000" opacity="0.05"/>
<rect x="312.0" y="360.8" width="0.8" height="0.8" fill="#f3e000" opacity="0.04"/>
<rect x="314.8" y="246.2" width="0.8" height="0.8" fill="#f3e000" opacity="0.03"/>
<rect x="317.3" y="239.7" width="0.8" height="0.8" fill="#f3e000" opacity="0.03"/>
<rect x="311.3" y="288.4" width="0.8" height="0.8" fill="#f3e000" opacity="0.06"/>
<rect x="316.6" y="280.3" width="0.8" height="0.8" fill="#f3e000" opacity="0.08"/>
<rect x="314.3" y="246.3" width="0.8" height="0.8" fill="#f3e000" opacity="0.04"/>
<rect x="311.0" y="305.0" width="0.8" height="0.8" fill="#f3e000" opacity="0.06"/>
<rect x="318.6" y="215.9" width="0.8" height="0.8" fill="#f3e000" opacity="0.05"/>
<rect x="314.0" y="211.1" width="0.8" height="0.8" fill="#f3e000" opacity="0.07"/>
<rect x="307.8" y="274.4" width="0.8" height="0.8" fill="#f3e000" opacity="0.06"/>
<rect x="316.2" y="256.6" width="0.8" height="0.8" fill="#f3e000" opacity="0.07"/>
<rect x="321.0" y="266.9" width="0.8" height="0.8" fill="#f3e000" opacity="0.06"/>
<rect x="304.6" y="266.5" width="0.8" height="0.8" fill="#f3e000" opacity="0.06"/>
<rect x="308.6" y="293.9" width="0.8" height="0.8" fill="#f3e000" opacity="0.07"/>
<rect x="311.5" y="245.3" width="0.8" height="0.8" fill="#f3e000" opacity="0.05"/>
<rect x="308.5" y="279.2" width="0.8" height="0.8" fill="#f3e000" opacity="0.04"/>
<rect x="310.6" y="292.0" width="0.8" height="0.8" fill="#f3e000" opacity="0.05"/>
<rect x="311.5" y="317.6" width="0.8" height="0.8" fill="#f3e000" opacity="0.07"/>
<rect x="310.3" y="265.5" width="0.8" height="0.8" fill="#f3e000" opacity="0.04"/>
<rect x="313.7" y="282.8" width="0.8" height="0.8" fill="#f3e000" opacity="0.06"/>
<rect x="313.0" y="258.5" width="0.8" height="0.8" fill="#f3e000" opacity="0.07"/>
<rect x="311.1" y="322.2" width="0.8" height="0.8" fill="#f3e000" opacity="0.07"/>
<rect x="317.0" y="259.7" width="0.8" height="0.8" fill="#f3e000" opacity="0.05"/>
<rect x="314.9" y="262.8" width="0.8" height="0.8" fill="#f3e000" opacity="0.03"/>
<rect x="310.3" y="250.0" width="0.8" height="0.8" fill="#f3e000" opacity="0.07"/>
<rect x="315.1" y="224.8" width="0.8" height="0.8" fill="#f3e000" opacity="0.08"/>
<rect x="309.8" y="261.0" width="0.8" height="0.8" fill="#f3e000" opacity="0.06"/>
<rect x="311.7" y="285.3" width="0.8" height="0.8" fill="#f3e000" opacity="0.06"/>
<rect x="308.9" y="330.0" width="0.8" height="0.8" fill="#f3e000" opacity="0.06"/>
<rect x="312.7" y="263.0" width="0.8" height="0.8" fill="#f3e000" opacity="0.05"/>
<rect x="310.4" y="290.1" width="0.8" height="0.8" fill="#f3e000" opacity="0.06"/>
<rect x="321.7" y="207.0" width="0.8" height="0.8" fill="#f3e000" opacity="0.05"/>
<rect x="309.4" y="282.4" width="0.8" height="0.8" fill="#f3e000" opacity="0.08"/>
<rect x="311.8" y="299.2" width="0.8" height="0.8" fill="#f3e000" opacity="0.07"/>
<rect x="316.0" y="290.8" width="0.8" height="0.8" fill="#f3e000" opacity="0.08"/>
<rect x="316.6" y="230.3" width="0.8" height="0.8" fill="#f3e000" opacity="0.03"/>
<rect x="319.1" y="234.3" width="0.8" height="0.8" fill="#f3e000" opacity="0.07"/>
<rect x="322.5" y="261.2" width="0.8" height="0.8" fill="#f3e000" opacity="0.05"/>
<rect x="316.2" y="288.1" width="0.8" height="0.8" fill="#f3e000" opacity="0.05"/>
<rect x="312.0" y="264.7" width="0.8" height="0.8" fill="#f3e000" opacity="0.04"/>
<rect x="310.9" y="232.7" width="0.8" height="0.8" fill="#f3e000" opacity="0.04"/>
<rect x="319.9" y="263.6" width="0.8" height="0.8" fill="#f3e000" opacity="0.03"/>
<rect x="308.7" y="296.1" width="0.8" height="0.8" fill="#f3e000" opacity="0.04"/>
<rect x="314.3" y="262.7" width="0.8" height="0.8" fill="#f3e000" opacity="0.04"/>
<rect x="317.2" y="228.7" width="0.8" height="0.8" fill="#f3e000" opacity="0.06"/>
<rect x="315.9" y="302.0" width="0.8" height="0.8" fill="#f3e000" opacity="0.05"/>
<rect x="313.9" y="312.8" width="0.8" height="0.8" fill="#f3e000" opacity="0.05"/>
<rect x="319.5" y="264.6" width="0.8" height="0.8" fill="#f3e000" opacity="0.05"/>
<rect x="316.1" y="278.7" width="0.8" height="0.8" fill="#f3e000" opacity="0.07"/>
<rect x="315.8" y="274.8" width="0.8" height="0.8" fill="#f3e000" opacity="0.03"/>
<rect x="307.3" y="256.7" width="0.8" height="0.8" fill="#f3e000" opacity="0.06"/>
<rect x="314.9" y="254.3" width="0.8" height="0.8" fill="#f3e000" opacity="0.03"/>
<rect x="314.9" y="236.5" width="0.8" height="0.8" fill="#f3e000" opacity="0.06"/>
<rect x="313.0" y="281.4" width="0.8" height="0.8" fill="#f3e000" opacity="0.04"/>
<rect x="321.2" y="307.2" width="0.8" height="0.8" fill="#f3e000" opacity="0.06"/>
<rect x="312.0" y="294.7" width="0.8" height="0.8" fill="#f3e000" opacity="0.05"/>
<rect x="322.1" y="288.8" width="0.8" height="0.8" fill="#f3e000" opacity="0.06"/>
<rect x="318.5" y="256.5" width="0.8" height="0.8" fill="#f3e000" opacity="0.06"/>
<rect x="314.4" y="275.3" width="0.8" height="0.8" fill="#f3e000" opacity="0.07"/>
<rect x="316.5" y="242.7" width="0.8" height="0.8" fill="#f3e000" opacity="0.07"/>
<rect x="315.8" y="239.7" width="0.8" height="0.8" fill="#f3e000" opacity="0.06"/>
<rect x="318.8" y="255.8" width="0.8" height="0.8" fill="#f3e000" opacity="0.08"/>
<rect x="314.6" y="298.2" width="0.8" height="0.8" fill="#f3e000" opacity="0.06"/>
<rect x="315.0" y="293.3" width="0.8" height="0.8" fill="#f3e000" opacity="0.07"/>
<rect x="307.6" y="271.1" width="0.8" height="0.8" fill="#f3e000" opacity="0.04"/>
<rect x="316.1" y="293.0" width="0.8" height="0.8" fill="#f3e000" opacity="0.04"/>
<rect x="317.6" y="260.5" width="0.8" height="0.8" fill="#f3e000" opacity="0.06"/>
<rect x="318.0" y="292.3" width="0.8" height="0.8" fill="#f3e000" opacity="0.05"/>
<rect x="313.3" y="272.3" width="0.8" height="0.8" fill="#f3e000" opacity="0.03"/>
<rect x="316.1" y="238.1" width="0.8" height="0.8" fill="#f3e000" opacity="0.04"/>
<rect x="315.6" y="290.5" width="0.8" height="0.8" fill="#f3e000" opacity="0.04"/>
<rect x="320.0" y="276.0" width="0.8" height="0.8" fill="#f3e000" opacity="0.04"/>
<rect x="317.8" y="308.3" width="0.8" height="0.8" fill="#f3e000" opacity="0.03"/>
<rect x="313.5" y="327.6" width="0.8" height="0.8" fill="#f3e000" opacity="0.03"/>
<rect x="307.6" y="287.3" width="0.8" height="0.8" fill="#f3e000" opacity="0.07"/>
<rect x="316.4" y="291.3" width="0.8" height="0.8" fill="#f3e000" opacity="0.06"/>
<rect x="307.5" y="323.5" width="0.8" height="0.8" fill="#f3e000" opacity="0.04"/>
<rect x="318.8" y="253.5" width="0.8" height="0.8" fill="#f3e000" opacity="0.04"/>
<rect x="312.5" y="270.5" width="0.8" height="0.8" fill="#f3e000" opacity="0.06"/>
<rect x="313.9" y="336.0" width="0.8" height="0.8" fill="#f3e000" opacity="0.06"/>
<rect x="312.5" y="283.7" width="0.8" height="0.8" fill="#f3e000" opacity="0.06"/>
<rect x="316.3" y="330.5" width="0.8" height="0.8" fill="#f3e000" opacity="0.03"/>
<rect x="309.6" y="262.0" width="0.8" height="0.8" fill="#f3e000" opacity="0.04"/>
<rect x="315.0" y="233.2" width="0.8" height="0.8" fill="#f3e000" opacity="0.06"/>
<rect x="311.4" y="253.7" width="0.8" height="0.8" fill="#f3e000" opacity="0.05"/>
<rect x="316.5" y="276.0" width="0.8" height="0.8" fill="#f3e000" opacity="0.07"/>
<rect x="312.0" y="309.3" width="0.8" height="0.8" fill="#f3e000" opacity="0.03"/>
<rect x="311.1" y="253.5" width="0.8" height="0.8" fill="#f3e000" opacity="0.05"/>
<rect x="314.0" y="277.1" width="0.8" height="0.8" fill="#f3e000" opacity="0.04"/>
<rect x="314.7" y="282.3" width="0.8" height="0.8" fill="#f3e000" opacity="0.06"/>
<rect x="313.6" y="298.2" width="0.8" height="0.8" fill="#f3e000" opacity="0.07"/>
<rect x="315.7" y="197.9" width="0.8" height="0.8" fill="#f3e000" opacity="0.07"/>
<rect x="316.5" y="285.0" width="0.8" height="0.8" fill="#f3e000" opacity="0.03"/>
<rect x="312.0" y="221.4" width="0.8" height="0.8" fill="#f3e000" opacity="0.04"/>
<rect x="309.6" y="290.7" width="0.8" height="0.8" fill="#f3e000" opacity="0.06"/>
<rect x="314.5" y="329.3" width="0.8" height="0.8" fill="#f3e000" opacity="0.04"/>
<rect x="312.8" y="250.3" width="0.8" height="0.8" fill="#f3e000" opacity="0.03"/>
<rect x="319.8" y="237.4" width="0.8" height="0.8" fill="#f3e000" opacity="0.06"/>
<rect x="315.5" y="267.8" width="0.8" height="0.8" fill="#f3e000" opacity="0.03"/>
<rect x="315.5" y="292.0" width="0.8" height="0.8" fill="#f3e000" opacity="0.05"/>
<rect x="317.7" y="272.3" width="0.8" height="0.8" fill="#f3e000" opacity="0.06"/>
<rect x="317.6" y="322.5" width="0.8" height="0.8" fill="#f3e000" opacity="0.06"/>
<rect x="313.8" y="240.7" width="0.8" height="0.8" fill="#f3e000" opacity="0.05"/>
<rect x="313.0" y="237.4" width="0.8" height="0.8" fill="#f3e000" opacity="0.03"/>
<rect x="318.5" y="279.5" width="0.8" height="0.8" fill="#f3e000" opacity="0.13"/>
<rect x="323.5" y="293.9" width="0.8" height="0.8" fill="#f3e000" opacity="0.19"/>
<rect x="317.7" y="291.8" width="0.8" height="0.8" fill="#f3e000" opacity="0.10"/>
<rect x="315.0" y="285.5" width="0.8" height="0.8" fill="#f3e000" opacity="0.24"/>
<rect x="314.1" y="287.2" width="0.8" height="0.8" fill="#f3e000" opacity="0.20"/>
<rect x="307.7" y="297.6" width="0.8" height="0.8" fill="#f3e000" opacity="0.22"/>
<rect x="313.7" y="293.2" width="0.8" height="0.8" fill="#f3e000" opacity="0.24"/>
<rect x="304.0" y="297.8" width="0.8" height="0.8" fill="#f3e000" opacity="0.20"/>
<rect x="313.5" y="276.8" width="0.8" height="0.8" fill="#f3e000" opacity="0.19"/>
<rect x="312.6" y="290.9" width="0.8" height="0.8" fill="#f3e000" opacity="0.20"/>
<rect x="308.8" y="293.9" width="0.8" height="0.8" fill="#f3e000" opacity="0.24"/>
<rect x="320.0" y="298.9" width="0.8" height="0.8" fill="#f3e000" opacity="0.09"/>
<rect x="311.5" y="277.8" width="0.8" height="0.8" fill="#f3e000" opacity="0.13"/>
<rect x="301.6" y="284.8" width="0.8" height="0.8" fill="#f3e000" opacity="0.19"/>
<rect x="310.5" y="288.7" width="0.8" height="0.8" fill="#f3e000" opacity="0.09"/>
<rect x="310.9" y="295.9" width="0.8" height="0.8" fill="#f3e000" opacity="0.12"/>
<rect x="313.1" y="293.8" width="0.8" height="0.8" fill="#f3e000" opacity="0.20"/>
<rect x="312.4" y="285.6" width="0.8" height="0.8" fill="#f3e000" opacity="0.12"/>
<rect x="308.8" y="289.5" width="0.8" height="0.8" fill="#f3e000" opacity="0.24"/>
<rect x="311.7" y="295.0" width="0.8" height="0.8" fill="#f3e000" opacity="0.23"/>
<rect x="318.1" y="297.4" width="0.8" height="0.8" fill="#f3e000" opacity="0.14"/>
<rect x="316.6" y="281.9" width="0.8" height="0.8" fill="#f3e000" opacity="0.21"/>
<rect x="317.7" y="299.5" width="0.8" height="0.8" fill="#f3e000" opacity="0.18"/>
<rect x="306.0" y="293.1" width="0.8" height="0.8" fill="#f3e000" opacity="0.22"/>
<rect x="317.2" y="294.1" width="0.8" height="0.8" fill="#f3e000" opacity="0.14"/>
<rect x="314.6" y="292.6" width="0.8" height="0.8" fill="#f3e000" opacity="0.13"/>
<rect x="316.7" y="300.7" width="0.8" height="0.8" fill="#f3e000" opacity="0.16"/>
<rect x="317.5" y="294.3" width="0.8" height="0.8" fill="#f3e000" opacity="0.16"/>
<rect x="312.2" y="293.5" width="0.8" height="0.8" fill="#f3e000" opacity="0.10"/>
<rect x="329.5" y="291.7" width="0.8" height="0.8" fill="#f3e000" opacity="0.21"/>
<rect x="320.9" y="295.9" width="0.8" height="0.8" fill="#f3e000" opacity="0.25"/>
<rect x="312.0" y="288.9" width="0.8" height="0.8" fill="#f3e000" opacity="0.17"/>
<rect x="311.2" y="292.1" width="0.8" height="0.8" fill="#f3e000" opacity="0.18"/>
<rect x="325.2" y="291.0" width="0.8" height="0.8" fill="#f3e000" opacity="0.19"/>
<rect x="306.1" y="278.2" width="0.8" height="0.8" fill="#f3e000" opacity="0.19"/>
<rect x="314.1" y="295.6" width="0.8" height="0.8" fill="#f3e000" opacity="0.11"/>
<rect x="322.6" y="292.3" width="0.8" height="0.8" fill="#f3e000" opacity="0.23"/>
<rect x="313.2" y="294.6" width="0.8" height="0.8" fill="#f3e000" opacity="0.19"/>
<rect x="320.5" y="276.7" width="0.8" height="0.8" fill="#f3e000" opacity="0.11"/>
<rect x="316.2" y="277.0" width="0.8" height="0.8" fill="#f3e000" opacity="0.21"/>
<rect x="312.7" y="294.2" width="0.8" height="0.8" fill="#f3e000" opacity="0.22"/>
<rect x="312.1" y="296.4" width="0.8" height="0.8" fill="#f3e000" opacity="0.18"/>
<rect x="307.8" y="300.1" width="0.8" height="0.8" fill="#f3e000" opacity="0.12"/>
<rect x="320.3" y="292.6" width="0.8" height="0.8" fill="#f3e000" opacity="0.19"/>
<rect x="317.4" y="280.1" width="0.8" height="0.8" fill="#f3e000" opacity="0.24"/>
<rect x="319.6" y="287.4" width="0.8" height="0.8" fill="#f3e000" opacity="0.17"/>
<rect x="316.4" y="295.2" width="0.8" height="0.8" fill="#f3e000" opacity="0.18"/>
<rect x="320.8" y="295.5" width="0.8" height="0.8" fill="#f3e000" opacity="0.11"/>
<rect x="301.9" y="296.8" width="0.8" height="0.8" fill="#f3e000" opacity="0.10"/>
<rect x="319.3" y="292.1" width="0.8" height="0.8" fill="#f3e000" opacity="0.12"/>
<rect x="314.1" y="289.7" width="0.8" height="0.8" fill="#f3e000" opacity="0.23"/>
<rect x="319.5" y="280.3" width="0.8" height="0.8" fill="#f3e000" opacity="0.16"/>
<rect x="312.6" y="300.5" width="0.8" height="0.8" fill="#f3e000" opacity="0.17"/>
<rect x="310.2" y="293.3" width="0.8" height="0.8" fill="#f3e000" opacity="0.16"/>
<rect x="309.5" y="278.6" width="0.8" height="0.8" fill="#f3e000" opacity="0.24"/>
<rect x="316.3" y="295.3" width="0.8" height="0.8" fill="#f3e000" opacity="0.16"/>
<rect x="309.9" y="287.6" width="0.8" height="0.8" fill="#f3e000" opacity="0.12"/>
<rect x="317.9" y="293.4" width="0.8" height="0.8" fill="#f3e000" opacity="0.16"/>
<rect x="286.0" y="291.1" width="0.8" height="0.8" fill="#f3e000" opacity="0.22"/>
<rect x="287.3" y="291.0" width="0.8" height="0.8" fill="#f3e000" opacity="0.18"/>
<rect x="279.4" y="291.3" width="0.8" height="0.8" fill="#f3e000" opacity="0.19"/>
<rect x="276.8" y="290.6" width="0.8" height="0.8" fill="#f3e000" opacity="0.17"/>
<rect x="282.6" y="291.3" width="0.8" height="0.8" fill="#f3e000" opacity="0.18"/>
<rect x="278.0" y="295.3" width="0.8" height="0.8" fill="#f3e000" opacity="0.22"/>
<rect x="281.0" y="292.8" width="0.8" height="0.8" fill="#f3e000" opacity="0.19"/>
<rect x="277.6" y="292.9" width="0.8" height="0.8" fill="#f3e000" opacity="0.19"/>
<rect x="275.9" y="295.5" width="0.8" height="0.8" fill="#f3e000" opacity="0.15"/>
<rect x="274.8" y="291.6" width="0.8" height="0.8" fill="#f3e000" opacity="0.14"/>
<rect x="280.5" y="293.8" width="0.8" height="0.8" fill="#f3e000" opacity="0.22"/>
<rect x="277.4" y="291.9" width="0.8" height="0.8" fill="#f3e000" opacity="0.22"/>
<rect x="278.9" y="293.9" width="0.8" height="0.8" fill="#f3e000" opacity="0.16"/>
<rect x="278.9" y="296.2" width="0.8" height="0.8" fill="#f3e000" opacity="0.17"/>
<rect x="279.6" y="296.7" width="0.8" height="0.8" fill="#f3e000" opacity="0.10"/>
<rect x="274.6" y="292.0" width="0.8" height="0.8" fill="#f3e000" opacity="0.09"/>
<rect x="277.9" y="293.1" width="0.8" height="0.8" fill="#f3e000" opacity="0.15"/>
<rect x="281.7" y="289.2" width="0.8" height="0.8" fill="#f3e000" opacity="0.19"/>
<rect x="281.6" y="234.7" width="0.8" height="0.8" fill="#9ccab4" opacity="0.27"/>
<rect x="281.2" y="234.9" width="0.8" height="0.8" fill="#9ccab4" opacity="0.24"/>
<rect x="279.4" y="239.5" width="0.8" height="0.8" fill="#9ccab4" opacity="0.26"/>
<rect x="274.5" y="233.7" width="0.8" height="0.8" fill="#9ccab4" opacity="0.11"/>
<rect x="281.8" y="235.5" width="0.8" height="0.8" fill="#9ccab4" opacity="0.13"/>
<rect x="281.0" y="238.1" width="0.8" height="0.8" fill="#9ccab4" opacity="0.20"/>
<rect x="282.4" y="241.9" width="0.8" height="0.8" fill="#9ccab4" opacity="0.22"/>
<rect x="273.3" y="242.6" width="0.8" height="0.8" fill="#9ccab4" opacity="0.20"/>
<rect x="285.5" y="232.3" width="0.8" height="0.8" fill="#9ccab4" opacity="0.26"/>
<rect x="283.4" y="235.0" width="0.8" height="0.8" fill="#9ccab4" opacity="0.22"/>
<rect x="277.5" y="245.2" width="0.8" height="0.8" fill="#9ccab4" opacity="0.21"/>
<rect x="282.6" y="234.9" width="0.8" height="0.8" fill="#9ccab4" opacity="0.16"/>
<rect x="280.7" y="224.1" width="0.8" height="0.8" fill="#9ccab4" opacity="0.22"/>
<rect x="287.3" y="239.4" width="0.8" height="0.8" fill="#9ccab4" opacity="0.11"/>
<rect x="274.0" y="234.4" width="0.8" height="0.8" fill="#9ccab4" opacity="0.11"/>
<rect x="287.4" y="233.7" width="0.8" height="0.8" fill="#9ccab4" opacity="0.14"/>
<rect x="283.2" y="243.0" width="0.8" height="0.8" fill="#9ccab4" opacity="0.24"/>
<rect x="279.7" y="236.1" width="0.8" height="0.8" fill="#9ccab4" opacity="0.09"/>
<rect x="287.6" y="243.7" width="0.8" height="0.8" fill="#9ccab4" opacity="0.12"/>
<rect x="278.1" y="235.9" width="0.8" height="0.8" fill="#9ccab4" opacity="0.21"/>
<rect x="279.7" y="239.5" width="0.8" height="0.8" fill="#9ccab4" opacity="0.25"/>
<rect x="275.0" y="235.4" width="0.8" height="0.8" fill="#9ccab4" opacity="0.24"/>
<rect x="282.2" y="237.1" width="0.8" height="0.8" fill="#9ccab4" opacity="0.15"/>
<rect x="284.6" y="242.7" width="0.8" height="0.8" fill="#9ccab4" opacity="0.25"/>
<rect x="281.9" y="236.0" width="0.8" height="0.8" fill="#9ccab4" opacity="0.12"/>
<rect x="284.3" y="229.9" width="0.8" height="0.8" fill="#9ccab4" opacity="0.16"/>
<rect x="279.0" y="237.9" width="0.8" height="0.8" fill="#9ccab4" opacity="0.24"/>
<rect x="274.5" y="244.3" width="0.8" height="0.8" fill="#9ccab4" opacity="0.20"/>
<rect x="285.0" y="239.7" width="0.8" height="0.8" fill="#9ccab4" opacity="0.13"/>
<rect x="286.2" y="232.9" width="0.8" height="0.8" fill="#9ccab4" opacity="0.10"/>
<rect x="283.6" y="242.0" width="0.8" height="0.8" fill="#9ccab4" opacity="0.17"/>
<rect x="277.7" y="234.9" width="0.8" height="0.8" fill="#9ccab4" opacity="0.15"/>
<rect x="287.3" y="237.7" width="0.8" height="0.8" fill="#9ccab4" opacity="0.15"/>
<rect x="286.4" y="238.2" width="0.8" height="0.8" fill="#9ccab4" opacity="0.27"/>
<rect x="283.9" y="238.3" width="0.8" height="0.8" fill="#9ccab4" opacity="0.21"/>
<rect x="281.0" y="241.8" width="0.8" height="0.8" fill="#9ccab4" opacity="0.18"/>
<rect x="281.1" y="244.5" width="0.8" height="0.8" fill="#9ccab4" opacity="0.19"/>
<rect x="294.7" y="232.8" width="0.8" height="0.8" fill="#9ccab4" opacity="0.10"/>
<rect x="274.5" y="233.9" width="0.8" height="0.8" fill="#9ccab4" opacity="0.25"/>
<rect x="282.5" y="229.7" width="0.8" height="0.8" fill="#9ccab4" opacity="0.20"/>
<rect x="270.1" y="239.1" width="0.8" height="0.8" fill="#f3e000" opacity="0.08"/>
<rect x="284.5" y="228.9" width="0.8" height="0.8" fill="#f3e000" opacity="0.07"/>
<rect x="269.9" y="243.4" width="0.8" height="0.8" fill="#f3e000" opacity="0.07"/>
<rect x="264.3" y="236.1" width="0.8" height="0.8" fill="#f3e000" opacity="0.05"/>
<rect x="267.2" y="235.0" width="0.8" height="0.8" fill="#f3e000" opacity="0.03"/>
<rect x="270.6" y="239.7" width="0.8" height="0.8" fill="#f3e000" opacity="0.09"/>
<rect x="267.4" y="236.9" width="0.8" height="0.8" fill="#f3e000" opacity="0.04"/>
<rect x="274.2" y="240.5" width="0.8" height="0.8" fill="#f3e000" opacity="0.04"/>
<rect x="287.0" y="236.8" width="0.8" height="0.8" fill="#f3e000" opacity="0.06"/>
<rect x="265.6" y="238.3" width="0.8" height="0.8" fill="#f3e000" opacity="0.05"/>
<rect x="274.8" y="237.8" width="0.8" height="0.8" fill="#f3e000" opacity="0.05"/>
<rect x="269.8" y="243.0" width="0.8" height="0.8" fill="#f3e000" opacity="0.06"/>
<rect x="279.2" y="234.9" width="0.8" height="0.8" fill="#f3e000" opacity="0.09"/>
<rect x="271.3" y="235.5" width="0.8" height="0.8" fill="#f3e000" opacity="0.04"/>
<rect x="256.6" y="230.1" width="0.8" height="0.8" fill="#f3e000" opacity="0.05"/>
<rect x="274.7" y="231.8" width="0.8" height="0.8" fill="#f3e000" opacity="0.08"/>
<rect x="280.6" y="238.5" width="0.8" height="0.8" fill="#f3e000" opacity="0.08"/>
<rect x="272.8" y="239.8" width="0.8" height="0.8" fill="#f3e000" opacity="0.03"/>
<rect x="276.3" y="239.4" width="0.8" height="0.8" fill="#f3e000" opacity="0.07"/>
<rect x="275.0" y="240.8" width="0.8" height="0.8" fill="#f3e000" opacity="0.04"/>
<rect x="263.1" y="231.1" width="0.8" height="0.8" fill="#f3e000" opacity="0.07"/>
<rect x="277.2" y="243.2" width="0.8" height="0.8" fill="#f3e000" opacity="0.09"/>
<rect x="271.5" y="235.3" width="0.8" height="0.8" fill="#f3e000" opacity="0.08"/>
<rect x="277.9" y="233.6" width="0.8" height="0.8" fill="#f3e000" opacity="0.04"/>
<rect x="276.7" y="241.5" width="0.8" height="0.8" fill="#f3e000" opacity="0.08"/>
<rect x="264.1" y="228.7" width="0.8" height="0.8" fill="#f3e000" opacity="0.04"/>
<rect x="268.5" y="242.9" width="0.8" height="0.8" fill="#f3e000" opacity="0.07"/>
<rect x="265.4" y="240.1" width="0.8" height="0.8" fill="#f3e000" opacity="0.05"/>
<rect x="280.0" y="238.0" width="0.8" height="0.8" fill="#f3e000" opacity="0.03"/>
<rect x="269.5" y="233.6" width="0.8" height="0.8" fill="#f3e000" opacity="0.06"/>
<rect x="269.5" y="234.4" width="0.8" height="0.8" fill="#f3e000" opacity="0.06"/>
<rect x="288.6" y="237.3" width="0.8" height="0.8" fill="#f3e000" opacity="0.06"/>
<rect x="275.9" y="236.3" width="0.8" height="0.8" fill="#f3e000" opacity="0.07"/>
<rect x="272.7" y="232.5" width="0.8" height="0.8" fill="#f3e000" opacity="0.04"/>
<rect x="275.7" y="238.4" width="0.8" height="0.8" fill="#f3e000" opacity="0.08"/>
<rect x="283.9" y="240.7" width="0.8" height="0.8" fill="#f3e000" opacity="0.06"/>
<rect x="265.1" y="235.0" width="0.8" height="0.8" fill="#f3e000" opacity="0.06"/>
<rect x="268.7" y="231.4" width="0.8" height="0.8" fill="#f3e000" opacity="0.05"/>
<rect x="273.4" y="233.0" width="0.8" height="0.8" fill="#f3e000" opacity="0.07"/>
<rect x="274.6" y="228.8" width="0.8" height="0.8" fill="#f3e000" opacity="0.05"/>
<rect x="276.2" y="224.4" width="0.8" height="0.8" fill="#f3e000" opacity="0.06"/>
<rect x="272.2" y="241.7" width="0.8" height="0.8" fill="#f3e000" opacity="0.09"/>
<rect x="274.2" y="236.8" width="0.8" height="0.8" fill="#f3e000" opacity="0.06"/>
<rect x="267.3" y="230.1" width="0.8" height="0.8" fill="#f3e000" opacity="0.05"/>
<rect x="278.4" y="236.2" width="0.8" height="0.8" fill="#f3e000" opacity="0.08"/>
<rect x="275.0" y="237.0" width="0.8" height="0.8" fill="#f3e000" opacity="0.04"/>
<rect x="280.9" y="238.3" width="0.8" height="0.8" fill="#f3e000" opacity="0.06"/>
<rect x="280.1" y="245.9" width="0.8" height="0.8" fill="#f3e000" opacity="0.05"/>
</g>
<text x="298.24" y="240.30" font-family="Liberation Sans, sans-serif" font-size="8.6" fill="#111" stroke="#111" stroke-width="0.2" textLength="19.40" lengthAdjust="spacingAndGlyphs">Gly43</text>
<g clip-path="url(#cp03)">
<g filter="url(#bl2)">
<ellipse cx="342.36" cy="238.60" rx="8.00" ry="11.20" fill="#f7ee70" opacity="0.45"/>
<ellipse cx="357.86" cy="237.00" rx="6.72" ry="6.72" fill="#d4eadc" opacity="0.27"/>
<ellipse cx="357.86" cy="243.90" rx="5.60" ry="3.52" fill="#f7ee70" opacity="0.23"/>
<ellipse cx="343.36" cy="267.90" rx="8.00" ry="9.60" fill="#f7ee70" opacity="0.38"/>
<ellipse cx="349.86" cy="267.80" rx="16.00" ry="9.60" fill="#f7ee70" opacity="0.23"/>
<ellipse cx="354.86" cy="267.40" rx="6.40" ry="6.40" fill="#f7ee70" opacity="0.20"/>
<ellipse cx="340.86" cy="260.40" rx="4.80" ry="4.80" fill="#f7ee70" opacity="0.18"/>
<ellipse cx="409.36" cy="236.40" rx="2.40" ry="4.80" fill="#f7ee70" opacity="0.16"/>
</g><g filter="url(#bl)">
<ellipse cx="342.36" cy="238.60" rx="4.25" ry="5.95" fill="#f3e000" opacity="0.90"/>
<ellipse cx="357.86" cy="237.00" rx="3.57" ry="3.57" fill="#9ccab4" opacity="0.54"/>
<ellipse cx="357.86" cy="243.90" rx="2.98" ry="1.87" fill="#f3e000" opacity="0.45"/>
<ellipse cx="343.36" cy="267.90" rx="4.25" ry="5.10" fill="#f3e000" opacity="0.77"/>
<ellipse cx="349.86" cy="267.80" rx="8.50" ry="5.10" fill="#f3e000" opacity="0.45"/>
<ellipse cx="354.86" cy="267.40" rx="3.40" ry="3.40" fill="#f3e000" opacity="0.41"/>
<ellipse cx="340.86" cy="260.40" rx="2.55" ry="2.55" fill="#f3e000" opacity="0.36"/>
<ellipse cx="409.36" cy="236.40" rx="1.27" ry="2.55" fill="#f3e000" opacity="0.32"/>
</g>
<rect x="344.4" y="242.5" width="0.8" height="0.8" fill="#f3e000" opacity="0.50"/>
<rect x="345.2" y="236.4" width="0.8" height="0.8" fill="#f3e000" opacity="0.21"/>
<rect x="343.1" y="232.9" width="0.8" height="0.8" fill="#f3e000" opacity="0.59"/>
<rect x="334.5" y="238.7" width="0.8" height="0.8" fill="#f3e000" opacity="0.34"/>
<rect x="344.3" y="230.5" width="0.8" height="0.8" fill="#f3e000" opacity="0.33"/>
<rect x="344.5" y="236.5" width="0.8" height="0.8" fill="#f3e000" opacity="0.49"/>
<rect x="349.6" y="243.0" width="0.8" height="0.8" fill="#f3e000" opacity="0.36"/>
<rect x="343.6" y="236.6" width="0.8" height="0.8" fill="#f3e000" opacity="0.43"/>
<rect x="331.9" y="247.9" width="0.8" height="0.8" fill="#f3e000" opacity="0.58"/>
<rect x="339.6" y="234.7" width="0.8" height="0.8" fill="#f3e000" opacity="0.30"/>
<rect x="341.9" y="246.8" width="0.8" height="0.8" fill="#f3e000" opacity="0.29"/>
<rect x="345.0" y="251.0" width="0.8" height="0.8" fill="#f3e000" opacity="0.46"/>
<rect x="337.1" y="262.2" width="0.8" height="0.8" fill="#f3e000" opacity="0.29"/>
<rect x="339.5" y="236.7" width="0.8" height="0.8" fill="#f3e000" opacity="0.55"/>
<rect x="345.3" y="234.2" width="0.8" height="0.8" fill="#f3e000" opacity="0.50"/>
<rect x="344.3" y="233.0" width="0.8" height="0.8" fill="#f3e000" opacity="0.33"/>
<rect x="330.8" y="240.1" width="0.8" height="0.8" fill="#f3e000" opacity="0.26"/>
<rect x="339.3" y="229.1" width="0.8" height="0.8" fill="#f3e000" opacity="0.38"/>
<rect x="332.4" y="231.0" width="0.8" height="0.8" fill="#f3e000" opacity="0.28"/>
<rect x="346.2" y="233.7" width="0.8" height="0.8" fill="#f3e000" opacity="0.51"/>
<rect x="344.6" y="234.9" width="0.8" height="0.8" fill="#f3e000" opacity="0.55"/>
<rect x="347.0" y="238.4" width="0.8" height="0.8" fill="#f3e000" opacity="0.21"/>
<rect x="353.7" y="252.0" width="0.8" height="0.8" fill="#f3e000" opacity="0.20"/>
<rect x="345.0" y="236.3" width="0.8" height="0.8" fill="#f3e000" opacity="0.49"/>
<rect x="345.1" y="241.3" width="0.8" height="0.8" fill="#f3e000" opacity="0.47"/>
<rect x="346.6" y="242.4" width="0.8" height="0.8" fill="#f3e000" opacity="0.57"/>
<rect x="340.0" y="223.0" width="0.8" height="0.8" fill="#f3e000" opacity="0.59"/>
<rect x="346.3" y="239.8" width="0.8" height="0.8" fill="#f3e000" opacity="0.52"/>
<rect x="341.8" y="236.6" width="0.8" height="0.8" fill="#f3e000" opacity="0.40"/>
<rect x="343.0" y="246.7" width="0.8" height="0.8" fill="#f3e000" opacity="0.24"/>
<rect x="359.1" y="241.5" width="0.8" height="0.8" fill="#f3e000" opacity="0.33"/>
<rect x="344.4" y="235.9" width="0.8" height="0.8" fill="#f3e000" opacity="0.39"/>
<rect x="346.2" y="244.7" width="0.8" height="0.8" fill="#f3e000" opacity="0.27"/>
<rect x="341.1" y="234.6" width="0.8" height="0.8" fill="#f3e000" opacity="0.50"/>
<rect x="339.7" y="238.6" width="0.8" height="0.8" fill="#f3e000" opacity="0.34"/>
<rect x="330.0" y="239.0" width="0.8" height="0.8" fill="#f3e000" opacity="0.34"/>
<rect x="345.5" y="258.3" width="0.8" height="0.8" fill="#f3e000" opacity="0.55"/>
<rect x="341.8" y="232.5" width="0.8" height="0.8" fill="#f3e000" opacity="0.27"/>
<rect x="342.2" y="241.5" width="0.8" height="0.8" fill="#f3e000" opacity="0.22"/>
<rect x="336.7" y="238.2" width="0.8" height="0.8" fill="#f3e000" opacity="0.42"/>
<rect x="341.8" y="239.5" width="0.8" height="0.8" fill="#f3e000" opacity="0.48"/>
<rect x="338.4" y="230.7" width="0.8" height="0.8" fill="#f3e000" opacity="0.42"/>
<rect x="336.6" y="218.2" width="0.8" height="0.8" fill="#f3e000" opacity="0.55"/>
<rect x="341.2" y="231.0" width="0.8" height="0.8" fill="#f3e000" opacity="0.33"/>
<rect x="329.4" y="248.7" width="0.8" height="0.8" fill="#f3e000" opacity="0.35"/>
<rect x="338.1" y="243.8" width="0.8" height="0.8" fill="#f3e000" opacity="0.26"/>
<rect x="342.9" y="238.6" width="0.8" height="0.8" fill="#f3e000" opacity="0.44"/>
<rect x="346.1" y="236.0" width="0.8" height="0.8" fill="#f3e000" opacity="0.44"/>
<rect x="339.4" y="242.6" width="0.8" height="0.8" fill="#f3e000" opacity="0.28"/>
<rect x="350.2" y="248.5" width="0.8" height="0.8" fill="#f3e000" opacity="0.51"/>
<rect x="343.8" y="237.3" width="0.8" height="0.8" fill="#f3e000" opacity="0.48"/>
<rect x="338.8" y="248.5" width="0.8" height="0.8" fill="#f3e000" opacity="0.42"/>
<rect x="336.5" y="257.4" width="0.8" height="0.8" fill="#f3e000" opacity="0.20"/>
<rect x="342.1" y="223.5" width="0.8" height="0.8" fill="#f3e000" opacity="0.40"/>
<rect x="327.5" y="224.9" width="0.8" height="0.8" fill="#f3e000" opacity="0.29"/>
<rect x="336.1" y="229.4" width="0.8" height="0.8" fill="#f3e000" opacity="0.35"/>
<rect x="341.1" y="231.1" width="0.8" height="0.8" fill="#f3e000" opacity="0.41"/>
<rect x="336.1" y="231.1" width="0.8" height="0.8" fill="#f3e000" opacity="0.33"/>
<rect x="337.6" y="231.6" width="0.8" height="0.8" fill="#f3e000" opacity="0.29"/>
<rect x="339.1" y="234.7" width="0.8" height="0.8" fill="#f3e000" opacity="0.56"/>
<rect x="333.7" y="240.7" width="0.8" height="0.8" fill="#f3e000" opacity="0.41"/>
<rect x="338.5" y="239.4" width="0.8" height="0.8" fill="#f3e000" opacity="0.26"/>
<rect x="348.4" y="234.4" width="0.8" height="0.8" fill="#f3e000" opacity="0.41"/>
<rect x="332.4" y="236.2" width="0.8" height="0.8" fill="#f3e000" opacity="0.30"/>
<rect x="347.1" y="251.2" width="0.8" height="0.8" fill="#f3e000" opacity="0.38"/>
<rect x="335.8" y="227.4" width="0.8" height="0.8" fill="#f3e000" opacity="0.56"/>
<rect x="343.5" y="236.9" width="0.8" height="0.8" fill="#f3e000" opacity="0.35"/>
<rect x="347.4" y="226.2" width="0.8" height="0.8" fill="#f3e000" opacity="0.25"/>
<rect x="344.7" y="243.4" width="0.8" height="0.8" fill="#f3e000" opacity="0.24"/>
<rect x="336.2" y="249.5" width="0.8" height="0.8" fill="#f3e000" opacity="0.41"/>
<rect x="356.0" y="237.6" width="0.8" height="0.8" fill="#9ccab4" opacity="0.21"/>
<rect x="365.0" y="236.9" width="0.8" height="0.8" fill="#9ccab4" opacity="0.23"/>
<rect x="349.7" y="238.1" width="0.8" height="0.8" fill="#9ccab4" opacity="0.30"/>
<rect x="362.0" y="242.6" width="0.8" height="0.8" fill="#9ccab4" opacity="0.21"/>
<rect x="354.5" y="236.6" width="0.8" height="0.8" fill="#9ccab4" opacity="0.21"/>
<rect x="355.4" y="240.8" width="0.8" height="0.8" fill="#9ccab4" opacity="0.12"/>
<rect x="359.7" y="242.7" width="0.8" height="0.8" fill="#9ccab4" opacity="0.13"/>
<rect x="361.1" y="243.6" width="0.8" height="0.8" fill="#9ccab4" opacity="0.19"/>
<rect x="356.3" y="240.1" width="0.8" height="0.8" fill="#9ccab4" opacity="0.32"/>
<rect x="363.4" y="240.6" width="0.8" height="0.8" fill="#9ccab4" opacity="0.33"/>
<rect x="359.3" y="241.6" width="0.8" height="0.8" fill="#9ccab4" opacity="0.31"/>
<rect x="354.6" y="234.0" width="0.8" height="0.8" fill="#9ccab4" opacity="0.13"/>
<rect x="353.7" y="238.6" width="0.8" height="0.8" fill="#9ccab4" opacity="0.29"/>
<rect x="356.5" y="241.5" width="0.8" height="0.8" fill="#9ccab4" opacity="0.28"/>
<rect x="359.5" y="233.0" width="0.8" height="0.8" fill="#9ccab4" opacity="0.21"/>
<rect x="348.6" y="232.0" width="0.8" height="0.8" fill="#9ccab4" opacity="0.17"/>
<rect x="365.0" y="235.7" width="0.8" height="0.8" fill="#9ccab4" opacity="0.21"/>
<rect x="355.8" y="233.4" width="0.8" height="0.8" fill="#9ccab4" opacity="0.14"/>
<rect x="358.0" y="232.5" width="0.8" height="0.8" fill="#9ccab4" opacity="0.25"/>
<rect x="347.9" y="237.2" width="0.8" height="0.8" fill="#9ccab4" opacity="0.30"/>
<rect x="364.0" y="238.0" width="0.8" height="0.8" fill="#9ccab4" opacity="0.23"/>
<rect x="349.3" y="239.1" width="0.8" height="0.8" fill="#9ccab4" opacity="0.22"/>
<rect x="348.3" y="238.6" width="0.8" height="0.8" fill="#9ccab4" opacity="0.23"/>
<rect x="352.3" y="237.3" width="0.8" height="0.8" fill="#9ccab4" opacity="0.32"/>
<rect x="354.2" y="230.3" width="0.8" height="0.8" fill="#9ccab4" opacity="0.22"/>
<rect x="364.6" y="238.8" width="0.8" height="0.8" fill="#9ccab4" opacity="0.25"/>
<rect x="358.8" y="229.1" width="0.8" height="0.8" fill="#9ccab4" opacity="0.15"/>
<rect x="358.2" y="238.8" width="0.8" height="0.8" fill="#9ccab4" opacity="0.32"/>
<rect x="359.5" y="238.2" width="0.8" height="0.8" fill="#9ccab4" opacity="0.30"/>
<rect x="356.4" y="236.4" width="0.8" height="0.8" fill="#9ccab4" opacity="0.28"/>
<rect x="356.6" y="231.9" width="0.8" height="0.8" fill="#9ccab4" opacity="0.13"/>
<rect x="356.1" y="232.5" width="0.8" height="0.8" fill="#9ccab4" opacity="0.26"/>
<rect x="366.4" y="236.9" width="0.8" height="0.8" fill="#9ccab4" opacity="0.33"/>
<rect x="360.4" y="240.3" width="0.8" height="0.8" fill="#9ccab4" opacity="0.24"/>
<rect x="371.7" y="237.5" width="0.8" height="0.8" fill="#9ccab4" opacity="0.19"/>
<rect x="357.6" y="246.0" width="0.8" height="0.8" fill="#f3e000" opacity="0.15"/>
<rect x="361.0" y="241.5" width="0.8" height="0.8" fill="#f3e000" opacity="0.20"/>
<rect x="356.8" y="244.3" width="0.8" height="0.8" fill="#f3e000" opacity="0.16"/>
<rect x="362.5" y="240.7" width="0.8" height="0.8" fill="#f3e000" opacity="0.27"/>
<rect x="357.7" y="245.5" width="0.8" height="0.8" fill="#f3e000" opacity="0.11"/>
<rect x="354.2" y="243.4" width="0.8" height="0.8" fill="#f3e000" opacity="0.19"/>
<rect x="352.8" y="244.1" width="0.8" height="0.8" fill="#f3e000" opacity="0.17"/>
<rect x="358.7" y="242.4" width="0.8" height="0.8" fill="#f3e000" opacity="0.28"/>
<rect x="356.7" y="243.6" width="0.8" height="0.8" fill="#f3e000" opacity="0.16"/>
<rect x="354.0" y="243.4" width="0.8" height="0.8" fill="#f3e000" opacity="0.21"/>
<rect x="356.5" y="245.6" width="0.8" height="0.8" fill="#f3e000" opacity="0.26"/>
<rect x="356.3" y="247.6" width="0.8" height="0.8" fill="#f3e000" opacity="0.26"/>
<rect x="354.3" y="242.4" width="0.8" height="0.8" fill="#f3e000" opacity="0.29"/>
<rect x="350.4" y="245.6" width="0.8" height="0.8" fill="#f3e000" opacity="0.11"/>
<rect x="352.8" y="245.3" width="0.8" height="0.8" fill="#f3e000" opacity="0.11"/>
<rect x="344.7" y="266.0" width="0.8" height="0.8" fill="#f3e000" opacity="0.37"/>
<rect x="348.6" y="281.4" width="0.8" height="0.8" fill="#f3e000" opacity="0.36"/>
<rect x="345.4" y="260.5" width="0.8" height="0.8" fill="#f3e000" opacity="0.40"/>
<rect x="341.3" y="263.0" width="0.8" height="0.8" fill="#f3e000" opacity="0.24"/>
<rect x="345.0" y="264.8" width="0.8" height="0.8" fill="#f3e000" opacity="0.48"/>
<rect x="344.0" y="270.8" width="0.8" height="0.8" fill="#f3e000" opacity="0.20"/>
<rect x="346.2" y="252.1" width="0.8" height="0.8" fill="#f3e000" opacity="0.31"/>
<rect x="341.1" y="263.6" width="0.8" height="0.8" fill="#f3e000" opacity="0.48"/>
<rect x="342.1" y="264.4" width="0.8" height="0.8" fill="#f3e000" opacity="0.19"/>
<rect x="342.8" y="266.1" width="0.8" height="0.8" fill="#f3e000" opacity="0.45"/>
<rect x="342.3" y="272.5" width="0.8" height="0.8" fill="#f3e000" opacity="0.37"/>
<rect x="340.4" y="275.6" width="0.8" height="0.8" fill="#f3e000" opacity="0.22"/>
<rect x="347.5" y="264.8" width="0.8" height="0.8" fill="#f3e000" opacity="0.46"/>
<rect x="349.1" y="277.6" width="0.8" height="0.8" fill="#f3e000" opacity="0.50"/>
<rect x="342.3" y="269.0" width="0.8" height="0.8" fill="#f3e000" opacity="0.30"/>
<rect x="340.9" y="264.3" width="0.8" height="0.8" fill="#f3e000" opacity="0.36"/>
<rect x="348.5" y="272.0" width="0.8" height="0.8" fill="#f3e000" opacity="0.42"/>
<rect x="335.9" y="272.1" width="0.8" height="0.8" fill="#f3e000" opacity="0.21"/>
<rect x="344.7" y="264.9" width="0.8" height="0.8" fill="#f3e000" opacity="0.48"/>
<rect x="356.4" y="267.5" width="0.8" height="0.8" fill="#f3e000" opacity="0.35"/>
<rect x="342.1" y="273.8" width="0.8" height="0.8" fill="#f3e000" opacity="0.43"/>
<rect x="330.7" y="268.2" width="0.8" height="0.8" fill="#f3e000" opacity="0.20"/>
<rect x="332.4" y="269.2" width="0.8" height="0.8" fill="#f3e000" opacity="0.37"/>
<rect x="341.1" y="267.2" width="0.8" height="0.8" fill="#f3e000" opacity="0.22"/>
<rect x="341.8" y="281.7" width="0.8" height="0.8" fill="#f3e000" opacity="0.46"/>
<rect x="345.1" y="282.8" width="0.8" height="0.8" fill="#f3e000" opacity="0.18"/>
<rect x="331.7" y="257.9" width="0.8" height="0.8" fill="#f3e000" opacity="0.29"/>
<rect x="350.9" y="264.6" width="0.8" height="0.8" fill="#f3e000" opacity="0.19"/>
<rect x="340.4" y="274.2" width="0.8" height="0.8" fill="#f3e000" opacity="0.25"/>
<rect x="343.2" y="263.8" width="0.8" height="0.8" fill="#f3e000" opacity="0.44"/>
<rect x="342.7" y="270.3" width="0.8" height="0.8" fill="#f3e000" opacity="0.36"/>
<rect x="349.1" y="272.6" width="0.8" height="0.8" fill="#f3e000" opacity="0.44"/>
<rect x="338.3" y="263.8" width="0.8" height="0.8" fill="#f3e000" opacity="0.18"/>
<rect x="340.9" y="267.6" width="0.8" height="0.8" fill="#f3e000" opacity="0.39"/>
<rect x="348.2" y="274.3" width="0.8" height="0.8" fill="#f3e000" opacity="0.29"/>
<rect x="337.6" y="274.8" width="0.8" height="0.8" fill="#f3e000" opacity="0.23"/>
<rect x="349.7" y="281.7" width="0.8" height="0.8" fill="#f3e000" opacity="0.28"/>
<rect x="349.5" y="256.7" width="0.8" height="0.8" fill="#f3e000" opacity="0.33"/>
<rect x="344.8" y="270.3" width="0.8" height="0.8" fill="#f3e000" opacity="0.47"/>
<rect x="348.1" y="273.1" width="0.8" height="0.8" fill="#f3e000" opacity="0.35"/>
<rect x="347.9" y="272.9" width="0.8" height="0.8" fill="#f3e000" opacity="0.23"/>
<rect x="337.0" y="266.2" width="0.8" height="0.8" fill="#f3e000" opacity="0.29"/>
<rect x="345.2" y="274.3" width="0.8" height="0.8" fill="#f3e000" opacity="0.24"/>
<rect x="346.2" y="271.4" width="0.8" height="0.8" fill="#f3e000" opacity="0.47"/>
<rect x="331.8" y="267.7" width="0.8" height="0.8" fill="#f3e000" opacity="0.18"/>
<rect x="349.3" y="265.2" width="0.8" height="0.8" fill="#f3e000" opacity="0.44"/>
<rect x="335.8" y="263.6" width="0.8" height="0.8" fill="#f3e000" opacity="0.25"/>
<rect x="343.4" y="264.1" width="0.8" height="0.8" fill="#f3e000" opacity="0.26"/>
<rect x="348.8" y="269.2" width="0.8" height="0.8" fill="#f3e000" opacity="0.35"/>
<rect x="340.3" y="281.3" width="0.8" height="0.8" fill="#f3e000" opacity="0.20"/>
<rect x="339.8" y="265.6" width="0.8" height="0.8" fill="#f3e000" opacity="0.37"/>
<rect x="345.2" y="257.7" width="0.8" height="0.8" fill="#f3e000" opacity="0.19"/>
<rect x="343.6" y="276.8" width="0.8" height="0.8" fill="#f3e000" opacity="0.50"/>
<rect x="350.7" y="270.2" width="0.8" height="0.8" fill="#f3e000" opacity="0.41"/>
<rect x="345.3" y="262.4" width="0.8" height="0.8" fill="#f3e000" opacity="0.45"/>
<rect x="331.3" y="271.4" width="0.8" height="0.8" fill="#f3e000" opacity="0.17"/>
<rect x="348.6" y="265.4" width="0.8" height="0.8" fill="#f3e000" opacity="0.31"/>
<rect x="346.9" y="270.5" width="0.8" height="0.8" fill="#f3e000" opacity="0.42"/>
<rect x="342.0" y="264.5" width="0.8" height="0.8" fill="#f3e000" opacity="0.29"/>
<rect x="345.7" y="271.3" width="0.8" height="0.8" fill="#f3e000" opacity="0.24"/>
<rect x="335.2" y="283.5" width="0.8" height="0.8" fill="#f3e000" opacity="0.30"/>
<rect x="353.1" y="260.5" width="0.8" height="0.8" fill="#f3e000" opacity="0.20"/>
<rect x="354.3" y="253.6" width="0.8" height="0.8" fill="#f3e000" opacity="0.25"/>
<rect x="345.1" y="264.5" width="0.8" height="0.8" fill="#f3e000" opacity="0.23"/>
<rect x="360.8" y="258.2" width="0.8" height="0.8" fill="#f3e000" opacity="0.12"/>
<rect x="347.8" y="261.8" width="0.8" height="0.8" fill="#f3e000" opacity="0.13"/>
<rect x="365.9" y="265.7" width="0.8" height="0.8" fill="#f3e000" opacity="0.25"/>
<rect x="363.5" y="277.1" width="0.8" height="0.8" fill="#f3e000" opacity="0.29"/>
<rect x="364.9" y="261.7" width="0.8" height="0.8" fill="#f3e000" opacity="0.27"/>
<rect x="354.6" y="259.5" width="0.8" height="0.8" fill="#f3e000" opacity="0.19"/>
<rect x="358.6" y="257.5" width="0.8" height="0.8" fill="#f3e000" opacity="0.27"/>
<rect x="341.4" y="283.8" width="0.8" height="0.8" fill="#f3e000" opacity="0.21"/>
<rect x="355.0" y="266.7" width="0.8" height="0.8" fill="#f3e000" opacity="0.29"/>
<rect x="351.8" y="262.9" width="0.8" height="0.8" fill="#f3e000" opacity="0.27"/>
<rect x="350.7" y="272.2" width="0.8" height="0.8" fill="#f3e000" opacity="0.19"/>
<rect x="350.9" y="275.5" width="0.8" height="0.8" fill="#f3e000" opacity="0.28"/>
<rect x="343.0" y="258.3" width="0.8" height="0.8" fill="#f3e000" opacity="0.18"/>
<rect x="354.0" y="256.3" width="0.8" height="0.8" fill="#f3e000" opacity="0.24"/>
<rect x="369.1" y="263.4" width="0.8" height="0.8" fill="#f3e000" opacity="0.18"/>
<rect x="363.5" y="272.8" width="0.8" height="0.8" fill="#f3e000" opacity="0.27"/>
<rect x="342.0" y="275.3" width="0.8" height="0.8" fill="#f3e000" opacity="0.27"/>
<rect x="350.1" y="267.2" width="0.8" height="0.8" fill="#f3e000" opacity="0.20"/>
<rect x="355.2" y="268.1" width="0.8" height="0.8" fill="#f3e000" opacity="0.26"/>
<rect x="336.8" y="272.2" width="0.8" height="0.8" fill="#f3e000" opacity="0.19"/>
<rect x="346.0" y="271.7" width="0.8" height="0.8" fill="#f3e000" opacity="0.17"/>
<rect x="358.4" y="260.2" width="0.8" height="0.8" fill="#f3e000" opacity="0.16"/>
<rect x="357.3" y="270.6" width="0.8" height="0.8" fill="#f3e000" opacity="0.24"/>
<rect x="334.7" y="271.3" width="0.8" height="0.8" fill="#f3e000" opacity="0.26"/>
<rect x="362.0" y="274.7" width="0.8" height="0.8" fill="#f3e000" opacity="0.11"/>
<rect x="353.0" y="264.0" width="0.8" height="0.8" fill="#f3e000" opacity="0.15"/>
<rect x="359.9" y="266.2" width="0.8" height="0.8" fill="#f3e000" opacity="0.14"/>
<rect x="361.5" y="262.0" width="0.8" height="0.8" fill="#f3e000" opacity="0.28"/>
<rect x="339.7" y="272.6" width="0.8" height="0.8" fill="#f3e000" opacity="0.29"/>
<rect x="317.0" y="267.0" width="0.8" height="0.8" fill="#f3e000" opacity="0.14"/>
<rect x="353.0" y="264.4" width="0.8" height="0.8" fill="#f3e000" opacity="0.21"/>
<rect x="356.7" y="267.8" width="0.8" height="0.8" fill="#f3e000" opacity="0.29"/>
<rect x="330.6" y="271.2" width="0.8" height="0.8" fill="#f3e000" opacity="0.15"/>
<rect x="346.8" y="270.2" width="0.8" height="0.8" fill="#f3e000" opacity="0.21"/>
<rect x="358.4" y="261.8" width="0.8" height="0.8" fill="#f3e000" opacity="0.18"/>
<rect x="370.9" y="261.7" width="0.8" height="0.8" fill="#f3e000" opacity="0.23"/>
<rect x="363.5" y="272.0" width="0.8" height="0.8" fill="#f3e000" opacity="0.19"/>
<rect x="359.9" y="266.2" width="0.8" height="0.8" fill="#f3e000" opacity="0.23"/>
<rect x="342.6" y="263.1" width="0.8" height="0.8" fill="#f3e000" opacity="0.20"/>
<rect x="339.2" y="254.9" width="0.8" height="0.8" fill="#f3e000" opacity="0.20"/>
<rect x="330.2" y="281.4" width="0.8" height="0.8" fill="#f3e000" opacity="0.11"/>
<rect x="358.3" y="259.2" width="0.8" height="0.8" fill="#f3e000" opacity="0.21"/>
<rect x="332.5" y="271.3" width="0.8" height="0.8" fill="#f3e000" opacity="0.28"/>
<rect x="347.4" y="256.9" width="0.8" height="0.8" fill="#f3e000" opacity="0.11"/>
<rect x="347.1" y="271.0" width="0.8" height="0.8" fill="#f3e000" opacity="0.29"/>
<rect x="354.6" y="265.5" width="0.8" height="0.8" fill="#f3e000" opacity="0.22"/>
<rect x="346.8" y="266.9" width="0.8" height="0.8" fill="#f3e000" opacity="0.18"/>
<rect x="349.6" y="258.3" width="0.8" height="0.8" fill="#f3e000" opacity="0.16"/>
<rect x="350.6" y="262.3" width="0.8" height="0.8" fill="#f3e000" opacity="0.21"/>
<rect x="323.1" y="276.5" width="0.8" height="0.8" fill="#f3e000" opacity="0.23"/>
<rect x="355.4" y="258.5" width="0.8" height="0.8" fill="#f3e000" opacity="0.18"/>
<rect x="366.7" y="265.4" width="0.8" height="0.8" fill="#f3e000" opacity="0.24"/>
<rect x="348.7" y="271.7" width="0.8" height="0.8" fill="#f3e000" opacity="0.22"/>
<rect x="358.8" y="257.4" width="0.8" height="0.8" fill="#f3e000" opacity="0.17"/>
<rect x="358.3" y="273.9" width="0.8" height="0.8" fill="#f3e000" opacity="0.28"/>
<rect x="359.3" y="277.0" width="0.8" height="0.8" fill="#f3e000" opacity="0.13"/>
<rect x="348.5" y="269.8" width="0.8" height="0.8" fill="#f3e000" opacity="0.16"/>
<rect x="328.6" y="279.4" width="0.8" height="0.8" fill="#f3e000" opacity="0.29"/>
<rect x="353.5" y="273.0" width="0.8" height="0.8" fill="#f3e000" opacity="0.29"/>
<rect x="353.0" y="273.3" width="0.8" height="0.8" fill="#f3e000" opacity="0.19"/>
<rect x="356.5" y="271.0" width="0.8" height="0.8" fill="#f3e000" opacity="0.18"/>
<rect x="328.6" y="279.0" width="0.8" height="0.8" fill="#f3e000" opacity="0.15"/>
<rect x="356.7" y="281.6" width="0.8" height="0.8" fill="#f3e000" opacity="0.19"/>
<rect x="358.0" y="259.8" width="0.8" height="0.8" fill="#f3e000" opacity="0.26"/>
<rect x="347.4" y="271.3" width="0.8" height="0.8" fill="#f3e000" opacity="0.25"/>
<rect x="336.0" y="269.4" width="0.8" height="0.8" fill="#f3e000" opacity="0.23"/>
<rect x="350.0" y="262.5" width="0.8" height="0.8" fill="#f3e000" opacity="0.17"/>
<rect x="361.6" y="263.8" width="0.8" height="0.8" fill="#f3e000" opacity="0.16"/>
<rect x="344.0" y="264.1" width="0.8" height="0.8" fill="#f3e000" opacity="0.25"/>
<rect x="369.8" y="271.0" width="0.8" height="0.8" fill="#f3e000" opacity="0.21"/>
<rect x="334.0" y="280.2" width="0.8" height="0.8" fill="#f3e000" opacity="0.15"/>
<rect x="350.0" y="270.3" width="0.8" height="0.8" fill="#f3e000" opacity="0.21"/>
<rect x="350.2" y="257.9" width="0.8" height="0.8" fill="#f3e000" opacity="0.18"/>
<rect x="351.8" y="264.8" width="0.8" height="0.8" fill="#f3e000" opacity="0.16"/>
<rect x="332.2" y="254.2" width="0.8" height="0.8" fill="#f3e000" opacity="0.23"/>
<rect x="343.1" y="257.2" width="0.8" height="0.8" fill="#f3e000" opacity="0.18"/>
<rect x="366.7" y="263.8" width="0.8" height="0.8" fill="#f3e000" opacity="0.17"/>
<rect x="334.3" y="275.3" width="0.8" height="0.8" fill="#f3e000" opacity="0.17"/>
<rect x="358.6" y="280.1" width="0.8" height="0.8" fill="#f3e000" opacity="0.21"/>
<rect x="333.6" y="266.5" width="0.8" height="0.8" fill="#f3e000" opacity="0.28"/>
<rect x="356.5" y="272.3" width="0.8" height="0.8" fill="#f3e000" opacity="0.11"/>
<rect x="338.8" y="271.8" width="0.8" height="0.8" fill="#f3e000" opacity="0.27"/>
<rect x="342.7" y="260.3" width="0.8" height="0.8" fill="#f3e000" opacity="0.18"/>
<rect x="342.0" y="265.4" width="0.8" height="0.8" fill="#f3e000" opacity="0.27"/>
<rect x="354.9" y="255.6" width="0.8" height="0.8" fill="#f3e000" opacity="0.13"/>
<rect x="341.1" y="258.1" width="0.8" height="0.8" fill="#f3e000" opacity="0.20"/>
<rect x="368.8" y="259.4" width="0.8" height="0.8" fill="#f3e000" opacity="0.25"/>
<rect x="356.7" y="259.2" width="0.8" height="0.8" fill="#f3e000" opacity="0.28"/>
<rect x="361.5" y="275.4" width="0.8" height="0.8" fill="#f3e000" opacity="0.24"/>
<rect x="343.1" y="264.4" width="0.8" height="0.8" fill="#f3e000" opacity="0.11"/>
<rect x="333.5" y="260.4" width="0.8" height="0.8" fill="#f3e000" opacity="0.15"/>
<rect x="351.7" y="272.4" width="0.8" height="0.8" fill="#f3e000" opacity="0.12"/>
<rect x="336.5" y="251.8" width="0.8" height="0.8" fill="#f3e000" opacity="0.26"/>
<rect x="339.0" y="275.7" width="0.8" height="0.8" fill="#f3e000" opacity="0.11"/>
<rect x="355.0" y="262.8" width="0.8" height="0.8" fill="#f3e000" opacity="0.10"/>
<rect x="345.7" y="265.2" width="0.8" height="0.8" fill="#f3e000" opacity="0.16"/>
<rect x="361.0" y="270.4" width="0.8" height="0.8" fill="#f3e000" opacity="0.21"/>
<rect x="351.0" y="266.0" width="0.8" height="0.8" fill="#f3e000" opacity="0.27"/>
<rect x="355.9" y="270.8" width="0.8" height="0.8" fill="#f3e000" opacity="0.23"/>
<rect x="344.6" y="272.8" width="0.8" height="0.8" fill="#f3e000" opacity="0.21"/>
<rect x="353.8" y="279.3" width="0.8" height="0.8" fill="#f3e000" opacity="0.14"/>
<rect x="360.5" y="257.6" width="0.8" height="0.8" fill="#f3e000" opacity="0.21"/>
<rect x="368.6" y="270.0" width="0.8" height="0.8" fill="#f3e000" opacity="0.11"/>
<rect x="338.3" y="267.6" width="0.8" height="0.8" fill="#f3e000" opacity="0.11"/>
<rect x="337.8" y="260.1" width="0.8" height="0.8" fill="#f3e000" opacity="0.22"/>
<rect x="339.2" y="272.4" width="0.8" height="0.8" fill="#f3e000" opacity="0.22"/>
<rect x="353.1" y="280.9" width="0.8" height="0.8" fill="#f3e000" opacity="0.30"/>
<rect x="359.2" y="251.9" width="0.8" height="0.8" fill="#f3e000" opacity="0.17"/>
<rect x="354.1" y="267.6" width="0.8" height="0.8" fill="#f3e000" opacity="0.20"/>
<rect x="357.9" y="273.2" width="0.8" height="0.8" fill="#f3e000" opacity="0.24"/>
<rect x="346.7" y="260.8" width="0.8" height="0.8" fill="#f3e000" opacity="0.17"/>
<rect x="354.0" y="274.0" width="0.8" height="0.8" fill="#f3e000" opacity="0.16"/>
<rect x="356.0" y="277.9" width="0.8" height="0.8" fill="#f3e000" opacity="0.20"/>
<rect x="343.1" y="269.4" width="0.8" height="0.8" fill="#f3e000" opacity="0.24"/>
<rect x="352.7" y="272.7" width="0.8" height="0.8" fill="#f3e000" opacity="0.21"/>
<rect x="340.9" y="250.9" width="0.8" height="0.8" fill="#f3e000" opacity="0.25"/>
<rect x="364.2" y="264.2" width="0.8" height="0.8" fill="#f3e000" opacity="0.22"/>
<rect x="354.6" y="265.8" width="0.8" height="0.8" fill="#f3e000" opacity="0.13"/>
<rect x="363.6" y="268.1" width="0.8" height="0.8" fill="#f3e000" opacity="0.22"/>
<rect x="352.5" y="264.9" width="0.8" height="0.8" fill="#f3e000" opacity="0.15"/>
<rect x="358.1" y="272.7" width="0.8" height="0.8" fill="#f3e000" opacity="0.27"/>
<rect x="354.4" y="268.6" width="0.8" height="0.8" fill="#f3e000" opacity="0.12"/>
<rect x="349.1" y="274.8" width="0.8" height="0.8" fill="#f3e000" opacity="0.23"/>
<rect x="352.9" y="268.0" width="0.8" height="0.8" fill="#f3e000" opacity="0.11"/>
<rect x="359.2" y="273.7" width="0.8" height="0.8" fill="#f3e000" opacity="0.17"/>
<rect x="364.5" y="266.8" width="0.8" height="0.8" fill="#f3e000" opacity="0.23"/>
<rect x="346.8" y="268.6" width="0.8" height="0.8" fill="#f3e000" opacity="0.11"/>
<rect x="359.3" y="271.0" width="0.8" height="0.8" fill="#f3e000" opacity="0.18"/>
<rect x="355.7" y="270.6" width="0.8" height="0.8" fill="#f3e000" opacity="0.09"/>
<rect x="360.7" y="263.6" width="0.8" height="0.8" fill="#f3e000" opacity="0.26"/>
<rect x="359.5" y="266.8" width="0.8" height="0.8" fill="#f3e000" opacity="0.22"/>
<rect x="348.9" y="272.8" width="0.8" height="0.8" fill="#f3e000" opacity="0.24"/>
<rect x="355.3" y="267.9" width="0.8" height="0.8" fill="#f3e000" opacity="0.13"/>
<rect x="351.2" y="265.2" width="0.8" height="0.8" fill="#f3e000" opacity="0.09"/>
<rect x="358.6" y="260.6" width="0.8" height="0.8" fill="#f3e000" opacity="0.17"/>
<rect x="363.7" y="269.9" width="0.8" height="0.8" fill="#f3e000" opacity="0.19"/>
<rect x="358.4" y="269.1" width="0.8" height="0.8" fill="#f3e000" opacity="0.20"/>
<rect x="358.7" y="264.1" width="0.8" height="0.8" fill="#f3e000" opacity="0.21"/>
<rect x="355.8" y="270.6" width="0.8" height="0.8" fill="#f3e000" opacity="0.25"/>
<rect x="353.3" y="268.8" width="0.8" height="0.8" fill="#f3e000" opacity="0.20"/>
<rect x="356.9" y="269.5" width="0.8" height="0.8" fill="#f3e000" opacity="0.17"/>
<rect x="349.5" y="264.2" width="0.8" height="0.8" fill="#f3e000" opacity="0.22"/>
<rect x="353.3" y="268.0" width="0.8" height="0.8" fill="#f3e000" opacity="0.22"/>
<rect x="359.5" y="269.0" width="0.8" height="0.8" fill="#f3e000" opacity="0.16"/>
<rect x="351.6" y="261.2" width="0.8" height="0.8" fill="#f3e000" opacity="0.13"/>
<rect x="350.9" y="261.9" width="0.8" height="0.8" fill="#f3e000" opacity="0.17"/>
<rect x="360.9" y="274.9" width="0.8" height="0.8" fill="#f3e000" opacity="0.20"/>
<rect x="357.9" y="268.6" width="0.8" height="0.8" fill="#f3e000" opacity="0.27"/>
<rect x="341.3" y="263.7" width="0.8" height="0.8" fill="#f3e000" opacity="0.21"/>
<rect x="343.0" y="256.2" width="0.8" height="0.8" fill="#f3e000" opacity="0.20"/>
<rect x="342.3" y="260.7" width="0.8" height="0.8" fill="#f3e000" opacity="0.24"/>
<rect x="341.2" y="259.5" width="0.8" height="0.8" fill="#f3e000" opacity="0.09"/>
<rect x="341.3" y="268.0" width="0.8" height="0.8" fill="#f3e000" opacity="0.12"/>
<rect x="337.3" y="253.7" width="0.8" height="0.8" fill="#f3e000" opacity="0.18"/>
<rect x="343.1" y="259.1" width="0.8" height="0.8" fill="#f3e000" opacity="0.10"/>
<rect x="346.4" y="261.0" width="0.8" height="0.8" fill="#f3e000" opacity="0.10"/>
<rect x="346.0" y="259.5" width="0.8" height="0.8" fill="#f3e000" opacity="0.11"/>
<rect x="341.6" y="258.6" width="0.8" height="0.8" fill="#f3e000" opacity="0.16"/>
<rect x="345.4" y="264.0" width="0.8" height="0.8" fill="#f3e000" opacity="0.22"/>
<rect x="341.1" y="260.3" width="0.8" height="0.8" fill="#f3e000" opacity="0.22"/>
<rect x="335.1" y="258.3" width="0.8" height="0.8" fill="#f3e000" opacity="0.16"/>
<rect x="337.6" y="257.4" width="0.8" height="0.8" fill="#f3e000" opacity="0.21"/>
<rect x="341.8" y="260.9" width="0.8" height="0.8" fill="#f3e000" opacity="0.17"/>
<rect x="340.0" y="263.6" width="0.8" height="0.8" fill="#f3e000" opacity="0.08"/>
<rect x="340.8" y="259.7" width="0.8" height="0.8" fill="#f3e000" opacity="0.21"/>
<rect x="342.2" y="257.0" width="0.8" height="0.8" fill="#f3e000" opacity="0.10"/>
<rect x="408.7" y="234.6" width="0.8" height="0.8" fill="#f3e000" opacity="0.13"/>
<rect x="412.8" y="242.2" width="0.8" height="0.8" fill="#f3e000" opacity="0.15"/>
<rect x="408.9" y="237.6" width="0.8" height="0.8" fill="#f3e000" opacity="0.17"/>
<rect x="411.2" y="231.2" width="0.8" height="0.8" fill="#f3e000" opacity="0.08"/>
<rect x="408.4" y="238.5" width="0.8" height="0.8" fill="#f3e000" opacity="0.18"/>
<rect x="410.7" y="240.0" width="0.8" height="0.8" fill="#f3e000" opacity="0.21"/>
<rect x="409.4" y="236.0" width="0.8" height="0.8" fill="#f3e000" opacity="0.08"/>
<rect x="411.3" y="239.7" width="0.8" height="0.8" fill="#f3e000" opacity="0.15"/>
<rect x="407.6" y="235.9" width="0.8" height="0.8" fill="#f3e000" opacity="0.13"/>
</g>
<text x="372.46" y="240.30" font-family="Liberation Sans, sans-serif" font-size="8.6" fill="#111" stroke="#111" stroke-width="0.2" textLength="19.68" lengthAdjust="spacingAndGlyphs">Gln44</text>
<g clip-path="url(#cp04)">
<g filter="url(#bl2)">
<ellipse cx="418.08" cy="235.40" rx="6.40" ry="4.80" fill="#f7ee70" opacity="0.11"/>
<ellipse cx="432.28" cy="247.90" rx="4.00" ry="8.00" fill="#f7ee70" opacity="0.34"/>
<ellipse cx="431.38" cy="269.40" rx="8.32" ry="7.36" fill="#f7ee70" opacity="0.45"/>
<ellipse cx="433.08" cy="238.40" rx="8.00" ry="8.00" fill="#f4f8c8" opacity="0.25"/>
<ellipse cx="433.18" cy="236.90" rx="5.12" ry="5.60" fill="#b4dca0" opacity="0.34"/>
<ellipse cx="433.18" cy="236.90" rx="7.20" ry="7.20" fill="#d4eadc" opacity="0.23"/>
</g><g filter="url(#bl)">
<ellipse cx="418.08" cy="235.40" rx="3.40" ry="2.55" fill="#f3e000" opacity="0.23"/>
<ellipse cx="432.28" cy="247.90" rx="2.12" ry="4.25" fill="#f3e000" opacity="0.68"/>
<ellipse cx="431.38" cy="269.40" rx="4.42" ry="3.91" fill="#f3e000" opacity="0.90"/>
<ellipse cx="433.08" cy="238.40" rx="4.25" ry="4.25" fill="#e8f090" opacity="0.50"/>
<ellipse cx="433.18" cy="236.90" rx="2.72" ry="2.98" fill="#1f7a44" opacity="0.68"/>
<ellipse cx="433.18" cy="236.90" rx="3.82" ry="3.82" fill="#9ccab4" opacity="0.45"/>
</g>
<rect x="413.2" y="232.3" width="0.8" height="0.8" fill="#f3e000" opacity="0.14"/>
<rect x="417.2" y="229.5" width="0.8" height="0.8" fill="#f3e000" opacity="0.14"/>
<rect x="421.7" y="230.9" width="0.8" height="0.8" fill="#f3e000" opacity="0.05"/>
<rect x="414.5" y="229.6" width="0.8" height="0.8" fill="#f3e000" opacity="0.09"/>
<rect x="420.1" y="234.0" width="0.8" height="0.8" fill="#f3e000" opacity="0.14"/>
<rect x="411.6" y="237.2" width="0.8" height="0.8" fill="#f3e000" opacity="0.08"/>
<rect x="416.8" y="238.3" width="0.8" height="0.8" fill="#f3e000" opacity="0.08"/>
<rect x="422.0" y="237.4" width="0.8" height="0.8" fill="#f3e000" opacity="0.15"/>
<rect x="412.3" y="229.1" width="0.8" height="0.8" fill="#f3e000" opacity="0.13"/>
<rect x="425.4" y="226.3" width="0.8" height="0.8" fill="#f3e000" opacity="0.13"/>
<rect x="417.6" y="237.9" width="0.8" height="0.8" fill="#f3e000" opacity="0.09"/>
<rect x="421.2" y="235.7" width="0.8" height="0.8" fill="#f3e000" opacity="0.14"/>
<rect x="421.5" y="234.0" width="0.8" height="0.8" fill="#f3e000" opacity="0.13"/>
<rect x="419.5" y="228.6" width="0.8" height="0.8" fill="#f3e000" opacity="0.13"/>
<rect x="416.1" y="235.1" width="0.8" height="0.8" fill="#f3e000" opacity="0.13"/>
<rect x="415.7" y="239.7" width="0.8" height="0.8" fill="#f3e000" opacity="0.09"/>
<rect x="407.0" y="233.4" width="0.8" height="0.8" fill="#f3e000" opacity="0.07"/>
<rect x="411.8" y="234.5" width="0.8" height="0.8" fill="#f3e000" opacity="0.10"/>
<rect x="422.2" y="234.1" width="0.8" height="0.8" fill="#f3e000" opacity="0.14"/>
<rect x="413.8" y="227.4" width="0.8" height="0.8" fill="#f3e000" opacity="0.06"/>
<rect x="418.9" y="238.0" width="0.8" height="0.8" fill="#f3e000" opacity="0.14"/>
<rect x="421.5" y="235.6" width="0.8" height="0.8" fill="#f3e000" opacity="0.12"/>
<rect x="420.8" y="235.3" width="0.8" height="0.8" fill="#f3e000" opacity="0.09"/>
<rect x="415.5" y="230.7" width="0.8" height="0.8" fill="#f3e000" opacity="0.12"/>
<rect x="432.3" y="243.7" width="0.8" height="0.8" fill="#f3e000" opacity="0.23"/>
<rect x="436.4" y="249.4" width="0.8" height="0.8" fill="#f3e000" opacity="0.21"/>
<rect x="431.9" y="262.1" width="0.8" height="0.8" fill="#f3e000" opacity="0.34"/>
<rect x="428.9" y="243.5" width="0.8" height="0.8" fill="#f3e000" opacity="0.33"/>
<rect x="431.5" y="243.5" width="0.8" height="0.8" fill="#f3e000" opacity="0.17"/>
<rect x="432.7" y="248.3" width="0.8" height="0.8" fill="#f3e000" opacity="0.26"/>
<rect x="433.1" y="250.0" width="0.8" height="0.8" fill="#f3e000" opacity="0.30"/>
<rect x="436.4" y="246.3" width="0.8" height="0.8" fill="#f3e000" opacity="0.23"/>
<rect x="432.5" y="244.5" width="0.8" height="0.8" fill="#f3e000" opacity="0.18"/>
<rect x="431.4" y="253.2" width="0.8" height="0.8" fill="#f3e000" opacity="0.36"/>
<rect x="428.1" y="250.9" width="0.8" height="0.8" fill="#f3e000" opacity="0.18"/>
<rect x="434.6" y="245.8" width="0.8" height="0.8" fill="#f3e000" opacity="0.40"/>
<rect x="437.4" y="249.9" width="0.8" height="0.8" fill="#f3e000" opacity="0.22"/>
<rect x="435.3" y="240.1" width="0.8" height="0.8" fill="#f3e000" opacity="0.35"/>
<rect x="432.2" y="248.7" width="0.8" height="0.8" fill="#f3e000" opacity="0.21"/>
<rect x="433.6" y="246.1" width="0.8" height="0.8" fill="#f3e000" opacity="0.35"/>
<rect x="428.8" y="243.7" width="0.8" height="0.8" fill="#f3e000" opacity="0.20"/>
<rect x="433.1" y="249.9" width="0.8" height="0.8" fill="#f3e000" opacity="0.44"/>
<rect x="429.3" y="253.3" width="0.8" height="0.8" fill="#f3e000" opacity="0.32"/>
<rect x="432.4" y="249.9" width="0.8" height="0.8" fill="#f3e000" opacity="0.15"/>
<rect x="433.2" y="245.6" width="0.8" height="0.8" fill="#f3e000" opacity="0.44"/>
<rect x="429.4" y="254.6" width="0.8" height="0.8" fill="#f3e000" opacity="0.19"/>
<rect x="432.8" y="243.8" width="0.8" height="0.8" fill="#f3e000" opacity="0.26"/>
<rect x="431.0" y="247.5" width="0.8" height="0.8" fill="#f3e000" opacity="0.22"/>
<rect x="432.9" y="243.6" width="0.8" height="0.8" fill="#f3e000" opacity="0.26"/>
<rect x="431.8" y="265.8" width="0.8" height="0.8" fill="#f3e000" opacity="0.28"/>
<rect x="432.5" y="274.3" width="0.8" height="0.8" fill="#f3e000" opacity="0.35"/>
<rect x="427.3" y="265.0" width="0.8" height="0.8" fill="#f3e000" opacity="0.55"/>
<rect x="439.4" y="271.7" width="0.8" height="0.8" fill="#f3e000" opacity="0.53"/>
<rect x="431.5" y="270.6" width="0.8" height="0.8" fill="#f3e000" opacity="0.38"/>
<rect x="436.1" y="273.1" width="0.8" height="0.8" fill="#f3e000" opacity="0.48"/>
<rect x="433.8" y="270.8" width="0.8" height="0.8" fill="#f3e000" opacity="0.39"/>
<rect x="433.3" y="272.7" width="0.8" height="0.8" fill="#f3e000" opacity="0.38"/>
<rect x="433.0" y="270.7" width="0.8" height="0.8" fill="#f3e000" opacity="0.34"/>
<rect x="418.2" y="271.7" width="0.8" height="0.8" fill="#f3e000" opacity="0.42"/>
<rect x="435.0" y="271.0" width="0.8" height="0.8" fill="#f3e000" opacity="0.50"/>
<rect x="420.7" y="265.5" width="0.8" height="0.8" fill="#f3e000" opacity="0.58"/>
<rect x="433.1" y="267.5" width="0.8" height="0.8" fill="#f3e000" opacity="0.58"/>
<rect x="427.2" y="268.8" width="0.8" height="0.8" fill="#f3e000" opacity="0.27"/>
<rect x="434.0" y="266.8" width="0.8" height="0.8" fill="#f3e000" opacity="0.23"/>
<rect x="430.1" y="280.8" width="0.8" height="0.8" fill="#f3e000" opacity="0.38"/>
<rect x="431.1" y="267.4" width="0.8" height="0.8" fill="#f3e000" opacity="0.38"/>
<rect x="429.8" y="272.5" width="0.8" height="0.8" fill="#f3e000" opacity="0.47"/>
<rect x="429.5" y="271.4" width="0.8" height="0.8" fill="#f3e000" opacity="0.59"/>
<rect x="427.8" y="269.8" width="0.8" height="0.8" fill="#f3e000" opacity="0.20"/>
<rect x="427.4" y="264.4" width="0.8" height="0.8" fill="#f3e000" opacity="0.21"/>
<rect x="422.1" y="270.9" width="0.8" height="0.8" fill="#f3e000" opacity="0.41"/>
<rect x="432.1" y="275.3" width="0.8" height="0.8" fill="#f3e000" opacity="0.44"/>
<rect x="429.5" y="267.1" width="0.8" height="0.8" fill="#f3e000" opacity="0.52"/>
<rect x="440.2" y="266.6" width="0.8" height="0.8" fill="#f3e000" opacity="0.54"/>
<rect x="423.1" y="277.5" width="0.8" height="0.8" fill="#f3e000" opacity="0.27"/>
<rect x="432.5" y="276.2" width="0.8" height="0.8" fill="#f3e000" opacity="0.56"/>
<rect x="434.9" y="271.1" width="0.8" height="0.8" fill="#f3e000" opacity="0.21"/>
<rect x="428.5" y="270.4" width="0.8" height="0.8" fill="#f3e000" opacity="0.28"/>
<rect x="431.3" y="262.7" width="0.8" height="0.8" fill="#f3e000" opacity="0.58"/>
<rect x="424.3" y="273.8" width="0.8" height="0.8" fill="#f3e000" opacity="0.21"/>
<rect x="435.3" y="268.2" width="0.8" height="0.8" fill="#f3e000" opacity="0.39"/>
<rect x="417.5" y="268.5" width="0.8" height="0.8" fill="#f3e000" opacity="0.40"/>
<rect x="439.3" y="269.0" width="0.8" height="0.8" fill="#f3e000" opacity="0.29"/>
<rect x="433.3" y="266.5" width="0.8" height="0.8" fill="#f3e000" opacity="0.60"/>
<rect x="427.4" y="270.4" width="0.8" height="0.8" fill="#f3e000" opacity="0.58"/>
<rect x="428.8" y="274.1" width="0.8" height="0.8" fill="#f3e000" opacity="0.34"/>
<rect x="430.8" y="268.4" width="0.8" height="0.8" fill="#f3e000" opacity="0.35"/>
<rect x="437.0" y="277.5" width="0.8" height="0.8" fill="#f3e000" opacity="0.20"/>
<rect x="427.9" y="267.0" width="0.8" height="0.8" fill="#f3e000" opacity="0.38"/>
<rect x="423.0" y="266.4" width="0.8" height="0.8" fill="#f3e000" opacity="0.26"/>
<rect x="431.6" y="272.0" width="0.8" height="0.8" fill="#f3e000" opacity="0.58"/>
<rect x="433.2" y="271.6" width="0.8" height="0.8" fill="#f3e000" opacity="0.41"/>
<rect x="421.0" y="264.2" width="0.8" height="0.8" fill="#f3e000" opacity="0.22"/>
<rect x="431.7" y="272.4" width="0.8" height="0.8" fill="#f3e000" opacity="0.43"/>
<rect x="425.8" y="270.9" width="0.8" height="0.8" fill="#f3e000" opacity="0.56"/>
<rect x="425.4" y="260.9" width="0.8" height="0.8" fill="#f3e000" opacity="0.58"/>
<rect x="431.5" y="251.4" width="0.8" height="0.8" fill="#e8f090" opacity="0.20"/>
<rect x="444.7" y="242.3" width="0.8" height="0.8" fill="#e8f090" opacity="0.13"/>
<rect x="437.6" y="238.9" width="0.8" height="0.8" fill="#e8f090" opacity="0.17"/>
<rect x="444.0" y="236.1" width="0.8" height="0.8" fill="#e8f090" opacity="0.20"/>
<rect x="422.6" y="236.4" width="0.8" height="0.8" fill="#e8f090" opacity="0.29"/>
<rect x="429.3" y="233.0" width="0.8" height="0.8" fill="#e8f090" opacity="0.14"/>
<rect x="433.4" y="246.5" width="0.8" height="0.8" fill="#e8f090" opacity="0.24"/>
<rect x="436.8" y="227.2" width="0.8" height="0.8" fill="#e8f090" opacity="0.32"/>
<rect x="433.9" y="240.4" width="0.8" height="0.8" fill="#e8f090" opacity="0.31"/>
<rect x="429.9" y="236.9" width="0.8" height="0.8" fill="#e8f090" opacity="0.26"/>
<rect x="432.9" y="242.4" width="0.8" height="0.8" fill="#e8f090" opacity="0.19"/>
<rect x="424.9" y="237.2" width="0.8" height="0.8" fill="#e8f090" opacity="0.13"/>
<rect x="432.7" y="230.7" width="0.8" height="0.8" fill="#e8f090" opacity="0.21"/>
<rect x="428.4" y="229.7" width="0.8" height="0.8" fill="#e8f090" opacity="0.11"/>
<rect x="424.9" y="239.7" width="0.8" height="0.8" fill="#e8f090" opacity="0.27"/>
<rect x="431.0" y="235.6" width="0.8" height="0.8" fill="#e8f090" opacity="0.32"/>
<rect x="434.0" y="234.5" width="0.8" height="0.8" fill="#e8f090" opacity="0.20"/>
<rect x="436.7" y="237.4" width="0.8" height="0.8" fill="#e8f090" opacity="0.20"/>
<rect x="444.5" y="235.6" width="0.8" height="0.8" fill="#e8f090" opacity="0.16"/>
<rect x="432.6" y="233.2" width="0.8" height="0.8" fill="#e8f090" opacity="0.26"/>
<rect x="433.4" y="235.5" width="0.8" height="0.8" fill="#e8f090" opacity="0.16"/>
<rect x="434.0" y="242.6" width="0.8" height="0.8" fill="#e8f090" opacity="0.12"/>
<rect x="436.8" y="242.6" width="0.8" height="0.8" fill="#e8f090" opacity="0.20"/>
<rect x="439.5" y="241.8" width="0.8" height="0.8" fill="#e8f090" opacity="0.32"/>
<rect x="428.5" y="236.0" width="0.8" height="0.8" fill="#e8f090" opacity="0.26"/>
<rect x="429.9" y="239.7" width="0.8" height="0.8" fill="#e8f090" opacity="0.22"/>
<rect x="441.3" y="239.3" width="0.8" height="0.8" fill="#e8f090" opacity="0.15"/>
<rect x="423.5" y="248.7" width="0.8" height="0.8" fill="#e8f090" opacity="0.28"/>
<rect x="437.1" y="231.6" width="0.8" height="0.8" fill="#e8f090" opacity="0.25"/>
<rect x="429.1" y="224.6" width="0.8" height="0.8" fill="#e8f090" opacity="0.15"/>
<rect x="433.6" y="233.8" width="0.8" height="0.8" fill="#e8f090" opacity="0.17"/>
<rect x="436.3" y="231.7" width="0.8" height="0.8" fill="#e8f090" opacity="0.30"/>
<rect x="438.3" y="233.2" width="0.8" height="0.8" fill="#e8f090" opacity="0.15"/>
<rect x="439.9" y="239.0" width="0.8" height="0.8" fill="#e8f090" opacity="0.27"/>
<rect x="432.8" y="240.5" width="0.8" height="0.8" fill="#e8f090" opacity="0.11"/>
<rect x="437.0" y="245.9" width="0.8" height="0.8" fill="#e8f090" opacity="0.11"/>
<rect x="433.6" y="242.7" width="0.8" height="0.8" fill="#e8f090" opacity="0.27"/>
<rect x="434.2" y="238.3" width="0.8" height="0.8" fill="#e8f090" opacity="0.14"/>
<rect x="446.4" y="232.6" width="0.8" height="0.8" fill="#e8f090" opacity="0.14"/>
<rect x="429.7" y="244.1" width="0.8" height="0.8" fill="#e8f090" opacity="0.18"/>
<rect x="427.6" y="241.5" width="0.8" height="0.8" fill="#e8f090" opacity="0.17"/>
<rect x="435.2" y="239.2" width="0.8" height="0.8" fill="#e8f090" opacity="0.15"/>
<rect x="439.5" y="242.6" width="0.8" height="0.8" fill="#e8f090" opacity="0.26"/>
<rect x="432.3" y="248.1" width="0.8" height="0.8" fill="#e8f090" opacity="0.27"/>
<rect x="429.6" y="243.8" width="0.8" height="0.8" fill="#e8f090" opacity="0.15"/>
<rect x="439.4" y="235.4" width="0.8" height="0.8" fill="#e8f090" opacity="0.12"/>
<rect x="437.9" y="245.4" width="0.8" height="0.8" fill="#e8f090" opacity="0.19"/>
<rect x="432.3" y="234.5" width="0.8" height="0.8" fill="#e8f090" opacity="0.29"/>
<rect x="433.9" y="236.1" width="0.8" height="0.8" fill="#e8f090" opacity="0.24"/>
<rect x="436.2" y="246.4" width="0.8" height="0.8" fill="#e8f090" opacity="0.29"/>
<rect x="433.8" y="234.2" width="0.8" height="0.8" fill="#1f7a44" opacity="0.18"/>
<rect x="430.8" y="232.6" width="0.8" height="0.8" fill="#1f7a44" opacity="0.19"/>
<rect x="434.8" y="241.7" width="0.8" height="0.8" fill="#1f7a44" opacity="0.18"/>
<rect x="431.4" y="234.8" width="0.8" height="0.8" fill="#1f7a44" opacity="0.23"/>
<rect x="429.3" y="239.1" width="0.8" height="0.8" fill="#1f7a44" opacity="0.37"/>
<rect x="438.7" y="238.1" width="0.8" height="0.8" fill="#1f7a44" opacity="0.22"/>
<rect x="431.9" y="242.2" width="0.8" height="0.8" fill="#1f7a44" opacity="0.36"/>
<rect x="427.5" y="231.4" width="0.8" height="0.8" fill="#1f7a44" opacity="0.21"/>
<rect x="431.2" y="242.2" width="0.8" height="0.8" fill="#1f7a44" opacity="0.23"/>
<rect x="434.6" y="239.2" width="0.8" height="0.8" fill="#1f7a44" opacity="0.38"/>
<rect x="435.8" y="231.5" width="0.8" height="0.8" fill="#1f7a44" opacity="0.44"/>
<rect x="434.0" y="233.7" width="0.8" height="0.8" fill="#1f7a44" opacity="0.24"/>
<rect x="433.0" y="235.6" width="0.8" height="0.8" fill="#1f7a44" opacity="0.33"/>
<rect x="434.1" y="237.5" width="0.8" height="0.8" fill="#1f7a44" opacity="0.30"/>
<rect x="437.9" y="244.2" width="0.8" height="0.8" fill="#1f7a44" opacity="0.41"/>
<rect x="430.9" y="237.5" width="0.8" height="0.8" fill="#1f7a44" opacity="0.19"/>
<rect x="428.9" y="236.7" width="0.8" height="0.8" fill="#1f7a44" opacity="0.26"/>
<rect x="432.3" y="232.3" width="0.8" height="0.8" fill="#1f7a44" opacity="0.38"/>
<rect x="434.2" y="237.8" width="0.8" height="0.8" fill="#1f7a44" opacity="0.27"/>
<rect x="430.5" y="237.2" width="0.8" height="0.8" fill="#1f7a44" opacity="0.35"/>
<rect x="433.7" y="240.2" width="0.8" height="0.8" fill="#1f7a44" opacity="0.29"/>
<rect x="431.8" y="230.5" width="0.8" height="0.8" fill="#1f7a44" opacity="0.26"/>
<rect x="422.5" y="240.6" width="0.8" height="0.8" fill="#9ccab4" opacity="0.29"/>
<rect x="431.5" y="235.3" width="0.8" height="0.8" fill="#9ccab4" opacity="0.19"/>
<rect x="430.6" y="233.9" width="0.8" height="0.8" fill="#9ccab4" opacity="0.11"/>
<rect x="444.0" y="235.6" width="0.8" height="0.8" fill="#9ccab4" opacity="0.13"/>
<rect x="426.5" y="238.4" width="0.8" height="0.8" fill="#9ccab4" opacity="0.16"/>
<rect x="440.7" y="240.3" width="0.8" height="0.8" fill="#9ccab4" opacity="0.25"/>
<rect x="431.2" y="237.7" width="0.8" height="0.8" fill="#9ccab4" opacity="0.18"/>
<rect x="443.8" y="244.0" width="0.8" height="0.8" fill="#9ccab4" opacity="0.11"/>
<rect x="431.2" y="245.1" width="0.8" height="0.8" fill="#9ccab4" opacity="0.13"/>
<rect x="434.7" y="238.1" width="0.8" height="0.8" fill="#9ccab4" opacity="0.13"/>
<rect x="424.0" y="235.0" width="0.8" height="0.8" fill="#9ccab4" opacity="0.13"/>
<rect x="437.1" y="244.4" width="0.8" height="0.8" fill="#9ccab4" opacity="0.19"/>
<rect x="431.8" y="239.1" width="0.8" height="0.8" fill="#9ccab4" opacity="0.15"/>
<rect x="435.6" y="236.5" width="0.8" height="0.8" fill="#9ccab4" opacity="0.15"/>
<rect x="432.6" y="226.5" width="0.8" height="0.8" fill="#9ccab4" opacity="0.28"/>
<rect x="421.0" y="239.0" width="0.8" height="0.8" fill="#9ccab4" opacity="0.22"/>
<rect x="431.8" y="242.3" width="0.8" height="0.8" fill="#9ccab4" opacity="0.24"/>
<rect x="432.9" y="234.3" width="0.8" height="0.8" fill="#9ccab4" opacity="0.14"/>
<rect x="435.5" y="236.3" width="0.8" height="0.8" fill="#9ccab4" opacity="0.26"/>
<rect x="431.2" y="240.1" width="0.8" height="0.8" fill="#9ccab4" opacity="0.15"/>
<rect x="418.3" y="239.8" width="0.8" height="0.8" fill="#9ccab4" opacity="0.13"/>
<rect x="435.8" y="233.4" width="0.8" height="0.8" fill="#9ccab4" opacity="0.13"/>
<rect x="433.0" y="232.4" width="0.8" height="0.8" fill="#9ccab4" opacity="0.14"/>
<rect x="425.2" y="241.4" width="0.8" height="0.8" fill="#9ccab4" opacity="0.27"/>
<rect x="432.5" y="236.6" width="0.8" height="0.8" fill="#9ccab4" opacity="0.25"/>
<rect x="424.9" y="230.3" width="0.8" height="0.8" fill="#9ccab4" opacity="0.29"/>
<rect x="428.7" y="245.4" width="0.8" height="0.8" fill="#9ccab4" opacity="0.26"/>
<rect x="432.7" y="241.6" width="0.8" height="0.8" fill="#9ccab4" opacity="0.17"/>
<rect x="430.3" y="240.8" width="0.8" height="0.8" fill="#9ccab4" opacity="0.12"/>
<rect x="434.7" y="247.6" width="0.8" height="0.8" fill="#9ccab4" opacity="0.18"/>
<rect x="426.4" y="229.1" width="0.8" height="0.8" fill="#9ccab4" opacity="0.25"/>
<rect x="433.6" y="248.0" width="0.8" height="0.8" fill="#9ccab4" opacity="0.26"/>
<rect x="441.2" y="236.4" width="0.8" height="0.8" fill="#9ccab4" opacity="0.25"/>
<rect x="434.6" y="233.4" width="0.8" height="0.8" fill="#9ccab4" opacity="0.23"/>
<rect x="426.2" y="243.4" width="0.8" height="0.8" fill="#9ccab4" opacity="0.13"/>
<rect x="428.8" y="235.8" width="0.8" height="0.8" fill="#9ccab4" opacity="0.26"/>
<rect x="427.8" y="244.8" width="0.8" height="0.8" fill="#9ccab4" opacity="0.27"/>
<rect x="435.1" y="235.0" width="0.8" height="0.8" fill="#9ccab4" opacity="0.29"/>
<rect x="432.9" y="229.5" width="0.8" height="0.8" fill="#9ccab4" opacity="0.23"/>
<rect x="442.7" y="239.9" width="0.8" height="0.8" fill="#9ccab4" opacity="0.21"/>
</g>
<text x="446.68" y="240.30" font-family="Liberation Sans, sans-serif" font-size="8.6" fill="#111" stroke="#111" stroke-width="0.2" textLength="18.93" lengthAdjust="spacingAndGlyphs">Ala45</text>
<g clip-path="url(#cp05)">
<g filter="url(#bl2)">
<ellipse cx="489.60" cy="239.90" rx="8.00" ry="10.40" fill="#f7ee70" opacity="0.45"/>
<ellipse cx="558.30" cy="240.40" rx="2.40" ry="4.80" fill="#f7ee70" opacity="0.16"/>
<ellipse cx="508.80" cy="241.90" rx="8.00" ry="6.08" fill="#f7ee70" opacity="0.25"/>
<ellipse cx="508.10" cy="239.60" rx="3.68" ry="3.68" fill="#b4dca0" opacity="0.43"/>
<ellipse cx="508.10" cy="239.60" rx="6.40" ry="6.40" fill="#d4eadc" opacity="0.18"/>
</g><g filter="url(#bl)">
<ellipse cx="489.60" cy="239.90" rx="4.25" ry="5.52" fill="#f3e000" opacity="0.90"/>
<ellipse cx="558.30" cy="240.40" rx="1.27" ry="2.55" fill="#f3e000" opacity="0.32"/>
<ellipse cx="508.80" cy="241.90" rx="4.25" ry="3.23" fill="#f3e000" opacity="0.50"/>
<ellipse cx="508.10" cy="239.60" rx="1.95" ry="1.95" fill="#1f7a44" opacity="0.85"/>
<ellipse cx="508.10" cy="239.60" rx="3.40" ry="3.40" fill="#9ccab4" opacity="0.36"/>
</g>
<rect x="484.8" y="241.7" width="0.8" height="0.8" fill="#f3e000" opacity="0.51"/>
<rect x="491.8" y="225.8" width="0.8" height="0.8" fill="#f3e000" opacity="0.29"/>
<rect x="487.4" y="244.5" width="0.8" height="0.8" fill="#f3e000" opacity="0.24"/>
<rect x="489.0" y="241.4" width="0.8" height="0.8" fill="#f3e000" opacity="0.52"/>
<rect x="489.9" y="242.6" width="0.8" height="0.8" fill="#f3e000" opacity="0.23"/>
<rect x="489.4" y="235.2" width="0.8" height="0.8" fill="#f3e000" opacity="0.38"/>
<rect x="481.5" y="247.3" width="0.8" height="0.8" fill="#f3e000" opacity="0.58"/>
<rect x="486.7" y="249.3" width="0.8" height="0.8" fill="#f3e000" opacity="0.56"/>
<rect x="478.0" y="242.7" width="0.8" height="0.8" fill="#f3e000" opacity="0.49"/>
<rect x="485.4" y="253.4" width="0.8" height="0.8" fill="#f3e000" opacity="0.43"/>
<rect x="495.4" y="245.8" width="0.8" height="0.8" fill="#f3e000" opacity="0.53"/>
<rect x="483.3" y="238.9" width="0.8" height="0.8" fill="#f3e000" opacity="0.37"/>
<rect x="495.6" y="232.7" width="0.8" height="0.8" fill="#f3e000" opacity="0.28"/>
<rect x="486.2" y="245.1" width="0.8" height="0.8" fill="#f3e000" opacity="0.58"/>
<rect x="488.7" y="236.4" width="0.8" height="0.8" fill="#f3e000" opacity="0.57"/>
<rect x="496.8" y="242.0" width="0.8" height="0.8" fill="#f3e000" opacity="0.37"/>
<rect x="488.4" y="232.5" width="0.8" height="0.8" fill="#f3e000" opacity="0.24"/>
<rect x="479.5" y="237.9" width="0.8" height="0.8" fill="#f3e000" opacity="0.52"/>
<rect x="487.2" y="243.9" width="0.8" height="0.8" fill="#f3e000" opacity="0.50"/>
<rect x="490.8" y="235.1" width="0.8" height="0.8" fill="#f3e000" opacity="0.55"/>
<rect x="495.5" y="239.5" width="0.8" height="0.8" fill="#f3e000" opacity="0.35"/>
<rect x="486.4" y="223.9" width="0.8" height="0.8" fill="#f3e000" opacity="0.28"/>
<rect x="488.0" y="246.0" width="0.8" height="0.8" fill="#f3e000" opacity="0.49"/>
<rect x="492.3" y="248.2" width="0.8" height="0.8" fill="#f3e000" opacity="0.40"/>
<rect x="488.1" y="236.4" width="0.8" height="0.8" fill="#f3e000" opacity="0.58"/>
<rect x="496.7" y="239.9" width="0.8" height="0.8" fill="#f3e000" opacity="0.52"/>
<rect x="494.5" y="254.2" width="0.8" height="0.8" fill="#f3e000" opacity="0.42"/>
<rect x="490.3" y="225.5" width="0.8" height="0.8" fill="#f3e000" opacity="0.34"/>
<rect x="492.9" y="237.7" width="0.8" height="0.8" fill="#f3e000" opacity="0.21"/>
<rect x="477.8" y="239.7" width="0.8" height="0.8" fill="#f3e000" opacity="0.56"/>
<rect x="495.9" y="237.5" width="0.8" height="0.8" fill="#f3e000" opacity="0.57"/>
<rect x="486.8" y="238.4" width="0.8" height="0.8" fill="#f3e000" opacity="0.45"/>
<rect x="491.5" y="232.8" width="0.8" height="0.8" fill="#f3e000" opacity="0.44"/>
<rect x="489.3" y="245.6" width="0.8" height="0.8" fill="#f3e000" opacity="0.37"/>
<rect x="483.4" y="239.2" width="0.8" height="0.8" fill="#f3e000" opacity="0.24"/>
<rect x="494.6" y="240.1" width="0.8" height="0.8" fill="#f3e000" opacity="0.49"/>
<rect x="489.6" y="234.6" width="0.8" height="0.8" fill="#f3e000" opacity="0.30"/>
<rect x="486.2" y="239.4" width="0.8" height="0.8" fill="#f3e000" opacity="0.44"/>
<rect x="492.6" y="237.2" width="0.8" height="0.8" fill="#f3e000" opacity="0.43"/>
<rect x="487.9" y="228.2" width="0.8" height="0.8" fill="#f3e000" opacity="0.48"/>
<rect x="488.5" y="234.4" width="0.8" height="0.8" fill="#f3e000" opacity="0.54"/>
<rect x="491.2" y="238.8" width="0.8" height="0.8" fill="#f3e000" opacity="0.58"/>
<rect x="487.4" y="241.0" width="0.8" height="0.8" fill="#f3e000" opacity="0.23"/>
<rect x="492.0" y="229.6" width="0.8" height="0.8" fill="#f3e000" opacity="0.26"/>
<rect x="482.0" y="242.4" width="0.8" height="0.8" fill="#f3e000" opacity="0.60"/>
<rect x="484.8" y="250.4" width="0.8" height="0.8" fill="#f3e000" opacity="0.30"/>
<rect x="490.6" y="243.9" width="0.8" height="0.8" fill="#f3e000" opacity="0.36"/>
<rect x="486.2" y="235.8" width="0.8" height="0.8" fill="#f3e000" opacity="0.26"/>
<rect x="490.1" y="242.9" width="0.8" height="0.8" fill="#f3e000" opacity="0.28"/>
<rect x="487.0" y="247.7" width="0.8" height="0.8" fill="#f3e000" opacity="0.27"/>
<rect x="483.7" y="240.9" width="0.8" height="0.8" fill="#f3e000" opacity="0.59"/>
<rect x="476.4" y="241.4" width="0.8" height="0.8" fill="#f3e000" opacity="0.39"/>
<rect x="492.0" y="249.0" width="0.8" height="0.8" fill="#f3e000" opacity="0.26"/>
<rect x="490.6" y="242.3" width="0.8" height="0.8" fill="#f3e000" opacity="0.48"/>
<rect x="495.1" y="238.4" width="0.8" height="0.8" fill="#f3e000" opacity="0.34"/>
<rect x="485.0" y="242.9" width="0.8" height="0.8" fill="#f3e000" opacity="0.48"/>
<rect x="487.1" y="242.5" width="0.8" height="0.8" fill="#f3e000" opacity="0.55"/>
<rect x="489.0" y="239.5" width="0.8" height="0.8" fill="#f3e000" opacity="0.54"/>
<rect x="488.9" y="233.3" width="0.8" height="0.8" fill="#f3e000" opacity="0.45"/>
<rect x="494.5" y="236.4" width="0.8" height="0.8" fill="#f3e000" opacity="0.37"/>
<rect x="487.5" y="248.6" width="0.8" height="0.8" fill="#f3e000" opacity="0.47"/>
<rect x="488.3" y="222.5" width="0.8" height="0.8" fill="#f3e000" opacity="0.26"/>
<rect x="482.5" y="250.3" width="0.8" height="0.8" fill="#f3e000" opacity="0.52"/>
<rect x="482.6" y="234.1" width="0.8" height="0.8" fill="#f3e000" opacity="0.34"/>
<rect x="496.1" y="236.8" width="0.8" height="0.8" fill="#f3e000" opacity="0.36"/>
<rect x="558.6" y="241.9" width="0.8" height="0.8" fill="#f3e000" opacity="0.20"/>
<rect x="558.4" y="239.7" width="0.8" height="0.8" fill="#f3e000" opacity="0.12"/>
<rect x="556.4" y="240.9" width="0.8" height="0.8" fill="#f3e000" opacity="0.12"/>
<rect x="559.5" y="238.5" width="0.8" height="0.8" fill="#f3e000" opacity="0.14"/>
<rect x="560.4" y="238.4" width="0.8" height="0.8" fill="#f3e000" opacity="0.14"/>
<rect x="557.5" y="243.2" width="0.8" height="0.8" fill="#f3e000" opacity="0.16"/>
<rect x="558.6" y="237.9" width="0.8" height="0.8" fill="#f3e000" opacity="0.12"/>
<rect x="557.1" y="242.4" width="0.8" height="0.8" fill="#f3e000" opacity="0.20"/>
<rect x="557.0" y="239.8" width="0.8" height="0.8" fill="#f3e000" opacity="0.12"/>
<rect x="510.2" y="239.7" width="0.8" height="0.8" fill="#f3e000" opacity="0.26"/>
<rect x="512.4" y="242.3" width="0.8" height="0.8" fill="#f3e000" opacity="0.12"/>
<rect x="509.9" y="239.7" width="0.8" height="0.8" fill="#f3e000" opacity="0.16"/>
<rect x="512.8" y="243.1" width="0.8" height="0.8" fill="#f3e000" opacity="0.27"/>
<rect x="506.5" y="232.9" width="0.8" height="0.8" fill="#f3e000" opacity="0.32"/>
<rect x="497.0" y="238.9" width="0.8" height="0.8" fill="#f3e000" opacity="0.13"/>
<rect x="514.0" y="239.9" width="0.8" height="0.8" fill="#f3e000" opacity="0.15"/>
<rect x="508.7" y="233.6" width="0.8" height="0.8" fill="#f3e000" opacity="0.19"/>
<rect x="518.1" y="246.6" width="0.8" height="0.8" fill="#f3e000" opacity="0.28"/>
<rect x="496.4" y="235.3" width="0.8" height="0.8" fill="#f3e000" opacity="0.12"/>
<rect x="511.5" y="242.6" width="0.8" height="0.8" fill="#f3e000" opacity="0.11"/>
<rect x="506.8" y="236.2" width="0.8" height="0.8" fill="#f3e000" opacity="0.13"/>
<rect x="510.6" y="244.1" width="0.8" height="0.8" fill="#f3e000" opacity="0.24"/>
<rect x="502.0" y="232.1" width="0.8" height="0.8" fill="#f3e000" opacity="0.19"/>
<rect x="514.6" y="241.3" width="0.8" height="0.8" fill="#f3e000" opacity="0.20"/>
<rect x="508.7" y="244.9" width="0.8" height="0.8" fill="#f3e000" opacity="0.32"/>
<rect x="517.4" y="241.7" width="0.8" height="0.8" fill="#f3e000" opacity="0.15"/>
<rect x="510.1" y="244.1" width="0.8" height="0.8" fill="#f3e000" opacity="0.19"/>
<rect x="508.6" y="240.4" width="0.8" height="0.8" fill="#f3e000" opacity="0.23"/>
<rect x="508.2" y="240.9" width="0.8" height="0.8" fill="#f3e000" opacity="0.21"/>
<rect x="510.6" y="236.6" width="0.8" height="0.8" fill="#f3e000" opacity="0.21"/>
<rect x="514.3" y="238.1" width="0.8" height="0.8" fill="#f3e000" opacity="0.18"/>
<rect x="498.3" y="248.0" width="0.8" height="0.8" fill="#f3e000" opacity="0.30"/>
<rect x="514.9" y="239.2" width="0.8" height="0.8" fill="#f3e000" opacity="0.14"/>
<rect x="511.3" y="245.6" width="0.8" height="0.8" fill="#f3e000" opacity="0.26"/>
<rect x="518.7" y="242.1" width="0.8" height="0.8" fill="#f3e000" opacity="0.28"/>
<rect x="508.2" y="241.9" width="0.8" height="0.8" fill="#f3e000" opacity="0.29"/>
<rect x="501.8" y="245.1" width="0.8" height="0.8" fill="#f3e000" opacity="0.24"/>
<rect x="508.0" y="237.7" width="0.8" height="0.8" fill="#f3e000" opacity="0.32"/>
<rect x="521.0" y="239.2" width="0.8" height="0.8" fill="#f3e000" opacity="0.25"/>
<rect x="506.6" y="245.6" width="0.8" height="0.8" fill="#f3e000" opacity="0.17"/>
<rect x="516.8" y="237.7" width="0.8" height="0.8" fill="#f3e000" opacity="0.28"/>
<rect x="516.1" y="230.4" width="0.8" height="0.8" fill="#f3e000" opacity="0.26"/>
<rect x="504.9" y="248.3" width="0.8" height="0.8" fill="#f3e000" opacity="0.17"/>
<rect x="506.3" y="240.3" width="0.8" height="0.8" fill="#f3e000" opacity="0.30"/>
<rect x="504.4" y="242.1" width="0.8" height="0.8" fill="#f3e000" opacity="0.31"/>
<rect x="519.8" y="246.7" width="0.8" height="0.8" fill="#f3e000" opacity="0.28"/>
<rect x="514.3" y="247.6" width="0.8" height="0.8" fill="#f3e000" opacity="0.24"/>
<rect x="510.9" y="237.7" width="0.8" height="0.8" fill="#1f7a44" opacity="0.35"/>
<rect x="509.1" y="239.2" width="0.8" height="0.8" fill="#1f7a44" opacity="0.49"/>
<rect x="509.7" y="240.8" width="0.8" height="0.8" fill="#1f7a44" opacity="0.23"/>
<rect x="510.0" y="237.6" width="0.8" height="0.8" fill="#1f7a44" opacity="0.47"/>
<rect x="507.9" y="243.7" width="0.8" height="0.8" fill="#1f7a44" opacity="0.44"/>
<rect x="510.5" y="241.3" width="0.8" height="0.8" fill="#1f7a44" opacity="0.46"/>
<rect x="508.9" y="243.2" width="0.8" height="0.8" fill="#1f7a44" opacity="0.30"/>
<rect x="504.2" y="243.7" width="0.8" height="0.8" fill="#1f7a44" opacity="0.55"/>
<rect x="510.8" y="239.6" width="0.8" height="0.8" fill="#1f7a44" opacity="0.41"/>
<rect x="509.6" y="235.6" width="0.8" height="0.8" fill="#1f7a44" opacity="0.36"/>
<rect x="511.0" y="236.2" width="0.8" height="0.8" fill="#9ccab4" opacity="0.23"/>
<rect x="505.9" y="240.0" width="0.8" height="0.8" fill="#9ccab4" opacity="0.20"/>
<rect x="512.2" y="244.8" width="0.8" height="0.8" fill="#9ccab4" opacity="0.09"/>
<rect x="513.6" y="239.2" width="0.8" height="0.8" fill="#9ccab4" opacity="0.20"/>
<rect x="512.4" y="244.2" width="0.8" height="0.8" fill="#9ccab4" opacity="0.14"/>
<rect x="508.1" y="247.7" width="0.8" height="0.8" fill="#9ccab4" opacity="0.09"/>
<rect x="506.2" y="239.9" width="0.8" height="0.8" fill="#9ccab4" opacity="0.22"/>
<rect x="509.0" y="238.9" width="0.8" height="0.8" fill="#9ccab4" opacity="0.15"/>
<rect x="501.2" y="241.0" width="0.8" height="0.8" fill="#9ccab4" opacity="0.20"/>
<rect x="502.4" y="248.1" width="0.8" height="0.8" fill="#9ccab4" opacity="0.11"/>
<rect x="513.4" y="245.7" width="0.8" height="0.8" fill="#9ccab4" opacity="0.10"/>
<rect x="510.1" y="244.4" width="0.8" height="0.8" fill="#9ccab4" opacity="0.13"/>
<rect x="513.3" y="248.3" width="0.8" height="0.8" fill="#9ccab4" opacity="0.16"/>
<rect x="508.8" y="236.3" width="0.8" height="0.8" fill="#9ccab4" opacity="0.23"/>
<rect x="509.8" y="249.0" width="0.8" height="0.8" fill="#9ccab4" opacity="0.18"/>
<rect x="515.5" y="238.2" width="0.8" height="0.8" fill="#9ccab4" opacity="0.18"/>
<rect x="499.6" y="237.8" width="0.8" height="0.8" fill="#9ccab4" opacity="0.15"/>
<rect x="516.0" y="245.2" width="0.8" height="0.8" fill="#9ccab4" opacity="0.21"/>
<rect x="505.1" y="233.0" width="0.8" height="0.8" fill="#9ccab4" opacity="0.12"/>
<rect x="500.1" y="241.5" width="0.8" height="0.8" fill="#9ccab4" opacity="0.23"/>
<rect x="510.4" y="238.4" width="0.8" height="0.8" fill="#9ccab4" opacity="0.19"/>
<rect x="503.9" y="238.1" width="0.8" height="0.8" fill="#9ccab4" opacity="0.11"/>
<rect x="511.3" y="243.4" width="0.8" height="0.8" fill="#9ccab4" opacity="0.16"/>
<rect x="507.6" y="243.8" width="0.8" height="0.8" fill="#9ccab4" opacity="0.17"/>
<rect x="508.5" y="233.7" width="0.8" height="0.8" fill="#9ccab4" opacity="0.11"/>
<rect x="511.3" y="236.8" width="0.8" height="0.8" fill="#9ccab4" opacity="0.23"/>
<rect x="510.5" y="239.3" width="0.8" height="0.8" fill="#9ccab4" opacity="0.17"/>
<rect x="512.3" y="238.7" width="0.8" height="0.8" fill="#9ccab4" opacity="0.17"/>
<rect x="507.7" y="240.6" width="0.8" height="0.8" fill="#9ccab4" opacity="0.11"/>
<rect x="510.7" y="242.1" width="0.8" height="0.8" fill="#9ccab4" opacity="0.18"/>
<rect x="498.2" y="235.5" width="0.8" height="0.8" fill="#9ccab4" opacity="0.19"/>
<rect x="501.1" y="247.8" width="0.8" height="0.8" fill="#9ccab4" opacity="0.18"/>
</g>
<text x="520.90" y="240.30" font-family="Liberation Sans, sans-serif" font-size="8.6" fill="#111" stroke="#111" stroke-width="0.2" textLength="19.68" lengthAdjust="spacingAndGlyphs">Glu46</text>
<g clip-path="url(#cp10)">
<g filter="url(#bl2)">
<ellipse cx="134.50" cy="297.40" rx="6.08" ry="4.00" fill="#f7ee70" opacity="0.45"/>
<ellipse cx="135.70" cy="304.20" rx="8.00" ry="8.00" fill="#f4f8c8" opacity="0.25"/>
<ellipse cx="135.40" cy="301.40" rx="4.48" ry="5.12" fill="#b4dca0" opacity="0.45"/>
<ellipse cx="134.20" cy="361.70" rx="5.60" ry="4.00" fill="#f7ee70" opacity="0.45"/>
</g><g filter="url(#bl)">
<ellipse cx="134.50" cy="297.40" rx="3.23" ry="2.12" fill="#f3e000" opacity="0.90"/>
<ellipse cx="135.70" cy="304.20" rx="4.25" ry="4.25" fill="#e8f090" opacity="0.50"/>
<ellipse cx="135.40" cy="301.40" rx="2.38" ry="2.72" fill="#1f7a44" opacity="0.90"/>
<ellipse cx="134.20" cy="361.70" rx="2.98" ry="2.12" fill="#f3e000" opacity="0.90"/>
</g>
<rect x="126.5" y="295.9" width="0.8" height="0.8" fill="#f3e000" opacity="0.47"/>
<rect x="130.9" y="300.3" width="0.8" height="0.8" fill="#f3e000" opacity="0.32"/>
<rect x="137.6" y="297.0" width="0.8" height="0.8" fill="#f3e000" opacity="0.59"/>
<rect x="135.0" y="297.6" width="0.8" height="0.8" fill="#f3e000" opacity="0.42"/>
<rect x="135.9" y="300.5" width="0.8" height="0.8" fill="#f3e000" opacity="0.25"/>
<rect x="137.7" y="293.9" width="0.8" height="0.8" fill="#f3e000" opacity="0.47"/>
<rect x="146.2" y="293.6" width="0.8" height="0.8" fill="#f3e000" opacity="0.47"/>
<rect x="134.4" y="297.2" width="0.8" height="0.8" fill="#f3e000" opacity="0.22"/>
<rect x="124.6" y="300.6" width="0.8" height="0.8" fill="#f3e000" opacity="0.33"/>
<rect x="134.0" y="297.2" width="0.8" height="0.8" fill="#f3e000" opacity="0.37"/>
<rect x="139.1" y="295.3" width="0.8" height="0.8" fill="#f3e000" opacity="0.53"/>
<rect x="137.3" y="297.6" width="0.8" height="0.8" fill="#f3e000" opacity="0.27"/>
<rect x="135.5" y="296.3" width="0.8" height="0.8" fill="#f3e000" opacity="0.57"/>
<rect x="133.6" y="303.0" width="0.8" height="0.8" fill="#f3e000" opacity="0.41"/>
<rect x="129.6" y="303.8" width="0.8" height="0.8" fill="#f3e000" opacity="0.36"/>
<rect x="134.0" y="296.4" width="0.8" height="0.8" fill="#f3e000" opacity="0.53"/>
<rect x="136.5" y="297.2" width="0.8" height="0.8" fill="#f3e000" opacity="0.50"/>
<rect x="134.2" y="298.9" width="0.8" height="0.8" fill="#f3e000" opacity="0.35"/>
<rect x="129.1" y="291.6" width="0.8" height="0.8" fill="#f3e000" opacity="0.60"/>
<rect x="143.4" y="303.9" width="0.8" height="0.8" fill="#e8f090" opacity="0.25"/>
<rect x="140.4" y="311.7" width="0.8" height="0.8" fill="#e8f090" opacity="0.23"/>
<rect x="128.2" y="313.3" width="0.8" height="0.8" fill="#e8f090" opacity="0.17"/>
<rect x="137.7" y="306.7" width="0.8" height="0.8" fill="#e8f090" opacity="0.14"/>
<rect x="127.3" y="299.0" width="0.8" height="0.8" fill="#e8f090" opacity="0.15"/>
<rect x="128.5" y="304.1" width="0.8" height="0.8" fill="#e8f090" opacity="0.23"/>
<rect x="129.8" y="307.8" width="0.8" height="0.8" fill="#e8f090" opacity="0.11"/>
<rect x="141.1" y="306.3" width="0.8" height="0.8" fill="#e8f090" opacity="0.16"/>
<rect x="135.9" y="300.1" width="0.8" height="0.8" fill="#e8f090" opacity="0.29"/>
<rect x="135.8" y="306.6" width="0.8" height="0.8" fill="#e8f090" opacity="0.22"/>
<rect x="131.9" y="307.4" width="0.8" height="0.8" fill="#e8f090" opacity="0.28"/>
<rect x="137.1" y="312.3" width="0.8" height="0.8" fill="#e8f090" opacity="0.29"/>
<rect x="129.5" y="306.1" width="0.8" height="0.8" fill="#e8f090" opacity="0.31"/>
<rect x="132.9" y="302.1" width="0.8" height="0.8" fill="#e8f090" opacity="0.13"/>
<rect x="140.0" y="306.6" width="0.8" height="0.8" fill="#e8f090" opacity="0.13"/>
<rect x="132.3" y="299.6" width="0.8" height="0.8" fill="#e8f090" opacity="0.18"/>
<rect x="122.8" y="303.2" width="0.8" height="0.8" fill="#e8f090" opacity="0.16"/>
<rect x="138.3" y="308.1" width="0.8" height="0.8" fill="#e8f090" opacity="0.18"/>
<rect x="143.0" y="299.6" width="0.8" height="0.8" fill="#e8f090" opacity="0.20"/>
<rect x="136.5" y="305.6" width="0.8" height="0.8" fill="#e8f090" opacity="0.14"/>
<rect x="140.3" y="297.7" width="0.8" height="0.8" fill="#e8f090" opacity="0.14"/>
<rect x="134.4" y="302.8" width="0.8" height="0.8" fill="#e8f090" opacity="0.22"/>
<rect x="134.4" y="306.4" width="0.8" height="0.8" fill="#e8f090" opacity="0.27"/>
<rect x="134.3" y="297.8" width="0.8" height="0.8" fill="#e8f090" opacity="0.15"/>
<rect x="132.9" y="299.1" width="0.8" height="0.8" fill="#e8f090" opacity="0.26"/>
<rect x="145.7" y="310.7" width="0.8" height="0.8" fill="#e8f090" opacity="0.11"/>
<rect x="136.6" y="309.7" width="0.8" height="0.8" fill="#e8f090" opacity="0.15"/>
<rect x="142.8" y="308.6" width="0.8" height="0.8" fill="#e8f090" opacity="0.33"/>
<rect x="133.5" y="307.9" width="0.8" height="0.8" fill="#e8f090" opacity="0.26"/>
<rect x="136.7" y="309.7" width="0.8" height="0.8" fill="#e8f090" opacity="0.26"/>
<rect x="132.8" y="305.5" width="0.8" height="0.8" fill="#e8f090" opacity="0.13"/>
<rect x="119.5" y="299.7" width="0.8" height="0.8" fill="#e8f090" opacity="0.31"/>
<rect x="141.0" y="308.0" width="0.8" height="0.8" fill="#e8f090" opacity="0.22"/>
<rect x="138.5" y="311.9" width="0.8" height="0.8" fill="#e8f090" opacity="0.22"/>
<rect x="137.3" y="299.9" width="0.8" height="0.8" fill="#e8f090" opacity="0.32"/>
<rect x="138.2" y="298.5" width="0.8" height="0.8" fill="#e8f090" opacity="0.14"/>
<rect x="132.8" y="304.5" width="0.8" height="0.8" fill="#e8f090" opacity="0.26"/>
<rect x="133.4" y="297.4" width="0.8" height="0.8" fill="#e8f090" opacity="0.32"/>
<rect x="144.1" y="306.6" width="0.8" height="0.8" fill="#e8f090" opacity="0.29"/>
<rect x="139.4" y="307.4" width="0.8" height="0.8" fill="#e8f090" opacity="0.12"/>
<rect x="128.1" y="299.8" width="0.8" height="0.8" fill="#e8f090" opacity="0.19"/>
<rect x="133.9" y="299.2" width="0.8" height="0.8" fill="#e8f090" opacity="0.27"/>
<rect x="133.1" y="319.2" width="0.8" height="0.8" fill="#e8f090" opacity="0.21"/>
<rect x="138.1" y="304.3" width="0.8" height="0.8" fill="#e8f090" opacity="0.27"/>
<rect x="140.9" y="298.3" width="0.8" height="0.8" fill="#e8f090" opacity="0.14"/>
<rect x="141.8" y="297.9" width="0.8" height="0.8" fill="#e8f090" opacity="0.14"/>
<rect x="129.7" y="309.8" width="0.8" height="0.8" fill="#e8f090" opacity="0.11"/>
<rect x="140.7" y="305.6" width="0.8" height="0.8" fill="#e8f090" opacity="0.30"/>
<rect x="140.5" y="304.1" width="0.8" height="0.8" fill="#e8f090" opacity="0.31"/>
<rect x="138.2" y="293.5" width="0.8" height="0.8" fill="#e8f090" opacity="0.24"/>
<rect x="139.7" y="300.4" width="0.8" height="0.8" fill="#1f7a44" opacity="0.58"/>
<rect x="133.5" y="300.5" width="0.8" height="0.8" fill="#1f7a44" opacity="0.41"/>
<rect x="132.6" y="301.7" width="0.8" height="0.8" fill="#1f7a44" opacity="0.35"/>
<rect x="131.3" y="301.1" width="0.8" height="0.8" fill="#1f7a44" opacity="0.29"/>
<rect x="134.8" y="305.5" width="0.8" height="0.8" fill="#1f7a44" opacity="0.40"/>
<rect x="131.4" y="303.9" width="0.8" height="0.8" fill="#1f7a44" opacity="0.27"/>
<rect x="133.0" y="300.8" width="0.8" height="0.8" fill="#1f7a44" opacity="0.51"/>
<rect x="133.9" y="295.5" width="0.8" height="0.8" fill="#1f7a44" opacity="0.41"/>
<rect x="135.4" y="309.4" width="0.8" height="0.8" fill="#1f7a44" opacity="0.40"/>
<rect x="133.6" y="303.5" width="0.8" height="0.8" fill="#1f7a44" opacity="0.36"/>
<rect x="133.9" y="295.1" width="0.8" height="0.8" fill="#1f7a44" opacity="0.39"/>
<rect x="135.1" y="299.0" width="0.8" height="0.8" fill="#1f7a44" opacity="0.38"/>
<rect x="133.7" y="303.7" width="0.8" height="0.8" fill="#1f7a44" opacity="0.34"/>
<rect x="135.5" y="295.7" width="0.8" height="0.8" fill="#1f7a44" opacity="0.28"/>
<rect x="135.9" y="307.5" width="0.8" height="0.8" fill="#1f7a44" opacity="0.46"/>
<rect x="133.4" y="296.9" width="0.8" height="0.8" fill="#1f7a44" opacity="0.48"/>
<rect x="135.2" y="302.6" width="0.8" height="0.8" fill="#1f7a44" opacity="0.34"/>
<rect x="143.8" y="363.1" width="0.8" height="0.8" fill="#f3e000" opacity="0.41"/>
<rect x="129.4" y="355.4" width="0.8" height="0.8" fill="#f3e000" opacity="0.52"/>
<rect x="134.7" y="364.2" width="0.8" height="0.8" fill="#f3e000" opacity="0.24"/>
<rect x="136.0" y="357.4" width="0.8" height="0.8" fill="#f3e000" opacity="0.40"/>
<rect x="132.1" y="363.3" width="0.8" height="0.8" fill="#f3e000" opacity="0.39"/>
<rect x="132.3" y="356.0" width="0.8" height="0.8" fill="#f3e000" opacity="0.54"/>
<rect x="137.0" y="359.5" width="0.8" height="0.8" fill="#f3e000" opacity="0.37"/>
<rect x="130.1" y="368.5" width="0.8" height="0.8" fill="#f3e000" opacity="0.27"/>
<rect x="135.9" y="363.6" width="0.8" height="0.8" fill="#f3e000" opacity="0.57"/>
<rect x="136.3" y="359.7" width="0.8" height="0.8" fill="#f3e000" opacity="0.54"/>
<rect x="137.3" y="359.9" width="0.8" height="0.8" fill="#f3e000" opacity="0.28"/>
<rect x="134.7" y="359.1" width="0.8" height="0.8" fill="#f3e000" opacity="0.25"/>
<rect x="137.6" y="360.0" width="0.8" height="0.8" fill="#f3e000" opacity="0.36"/>
<rect x="131.8" y="360.5" width="0.8" height="0.8" fill="#f3e000" opacity="0.21"/>
<rect x="131.3" y="363.4" width="0.8" height="0.8" fill="#f3e000" opacity="0.20"/>
<rect x="129.7" y="365.1" width="0.8" height="0.8" fill="#f3e000" opacity="0.33"/>
<rect x="131.9" y="358.2" width="0.8" height="0.8" fill="#f3e000" opacity="0.28"/>
</g>
<text x="149.80" y="306.10" font-family="Liberation Sans, sans-serif" font-size="8.6" fill="#111" stroke="#111" stroke-width="0.2" textLength="19.27" lengthAdjust="spacingAndGlyphs">Pro47</text>
<g clip-path="url(#cp11)">
<g filter="url(#bl2)">
<ellipse cx="194.42" cy="303.20" rx="6.40" ry="6.40" fill="#f7ee70" opacity="0.14"/>
<ellipse cx="206.42" cy="296.70" rx="4.80" ry="2.40" fill="#f7ee70" opacity="0.23"/>
<ellipse cx="207.82" cy="317.20" rx="4.00" ry="12.80" fill="#f7ee70" opacity="0.23"/>
<ellipse cx="207.82" cy="334.20" rx="9.60" ry="8.00" fill="#f7ee70" opacity="0.45"/>
<ellipse cx="208.72" cy="303.70" rx="6.40" ry="7.20" fill="#d4eadc" opacity="0.36"/>
<ellipse cx="208.72" cy="303.70" rx="3.20" ry="3.20" fill="#b4dca0" opacity="0.16"/>
</g><g filter="url(#bl)">
<ellipse cx="194.42" cy="303.20" rx="3.40" ry="3.40" fill="#f3e000" opacity="0.27"/>
<ellipse cx="206.42" cy="296.70" rx="2.55" ry="1.27" fill="#f3e000" opacity="0.45"/>
<ellipse cx="207.82" cy="317.20" rx="2.12" ry="6.80" fill="#f3e000" opacity="0.45"/>
<ellipse cx="207.82" cy="334.20" rx="5.10" ry="4.25" fill="#f3e000" opacity="0.90"/>
<ellipse cx="208.72" cy="303.70" rx="3.40" ry="3.82" fill="#9ccab4" opacity="0.72"/>
<ellipse cx="208.72" cy="303.70" rx="1.70" ry="1.70" fill="#1f7a44" opacity="0.32"/>
</g>
<rect x="201.0" y="304.0" width="0.8" height="0.8" fill="#f3e000" opacity="0.13"/>
<rect x="193.6" y="306.0" width="0.8" height="0.8" fill="#f3e000" opacity="0.16"/>
<rect x="197.1" y="301.5" width="0.8" height="0.8" fill="#f3e000" opacity="0.13"/>
<rect x="191.0" y="301.4" width="0.8" height="0.8" fill="#f3e000" opacity="0.06"/>
<rect x="191.5" y="308.8" width="0.8" height="0.8" fill="#f3e000" opacity="0.13"/>
<rect x="192.2" y="303.1" width="0.8" height="0.8" fill="#f3e000" opacity="0.09"/>
<rect x="192.7" y="307.4" width="0.8" height="0.8" fill="#f3e000" opacity="0.10"/>
<rect x="196.2" y="301.9" width="0.8" height="0.8" fill="#f3e000" opacity="0.18"/>
<rect x="194.9" y="311.9" width="0.8" height="0.8" fill="#f3e000" opacity="0.09"/>
<rect x="190.8" y="301.0" width="0.8" height="0.8" fill="#f3e000" opacity="0.06"/>
<rect x="196.7" y="295.5" width="0.8" height="0.8" fill="#f3e000" opacity="0.09"/>
<rect x="195.2" y="298.2" width="0.8" height="0.8" fill="#f3e000" opacity="0.18"/>
<rect x="198.5" y="304.6" width="0.8" height="0.8" fill="#f3e000" opacity="0.09"/>
<rect x="189.0" y="297.8" width="0.8" height="0.8" fill="#f3e000" opacity="0.16"/>
<rect x="190.3" y="301.9" width="0.8" height="0.8" fill="#f3e000" opacity="0.16"/>
<rect x="197.1" y="305.3" width="0.8" height="0.8" fill="#f3e000" opacity="0.15"/>
<rect x="181.5" y="308.3" width="0.8" height="0.8" fill="#f3e000" opacity="0.07"/>
<rect x="191.5" y="303.9" width="0.8" height="0.8" fill="#f3e000" opacity="0.06"/>
<rect x="196.0" y="304.3" width="0.8" height="0.8" fill="#f3e000" opacity="0.10"/>
<rect x="189.6" y="305.4" width="0.8" height="0.8" fill="#f3e000" opacity="0.09"/>
<rect x="192.8" y="298.1" width="0.8" height="0.8" fill="#f3e000" opacity="0.18"/>
<rect x="197.0" y="307.8" width="0.8" height="0.8" fill="#f3e000" opacity="0.12"/>
<rect x="188.4" y="309.5" width="0.8" height="0.8" fill="#f3e000" opacity="0.09"/>
<rect x="197.4" y="300.3" width="0.8" height="0.8" fill="#f3e000" opacity="0.10"/>
<rect x="190.2" y="299.5" width="0.8" height="0.8" fill="#f3e000" opacity="0.09"/>
<rect x="203.9" y="308.8" width="0.8" height="0.8" fill="#f3e000" opacity="0.10"/>
<rect x="199.3" y="307.4" width="0.8" height="0.8" fill="#f3e000" opacity="0.12"/>
<rect x="192.6" y="306.7" width="0.8" height="0.8" fill="#f3e000" opacity="0.16"/>
<rect x="192.0" y="307.1" width="0.8" height="0.8" fill="#f3e000" opacity="0.17"/>
<rect x="191.6" y="306.6" width="0.8" height="0.8" fill="#f3e000" opacity="0.08"/>
<rect x="191.0" y="297.7" width="0.8" height="0.8" fill="#f3e000" opacity="0.11"/>
<rect x="191.8" y="305.0" width="0.8" height="0.8" fill="#f3e000" opacity="0.15"/>
<rect x="200.4" y="297.5" width="0.8" height="0.8" fill="#f3e000" opacity="0.17"/>
<rect x="206.3" y="296.3" width="0.8" height="0.8" fill="#f3e000" opacity="0.14"/>
<rect x="211.3" y="296.1" width="0.8" height="0.8" fill="#f3e000" opacity="0.24"/>
<rect x="202.7" y="296.7" width="0.8" height="0.8" fill="#f3e000" opacity="0.14"/>
<rect x="208.6" y="298.8" width="0.8" height="0.8" fill="#f3e000" opacity="0.24"/>
<rect x="206.2" y="299.1" width="0.8" height="0.8" fill="#f3e000" opacity="0.13"/>
<rect x="204.9" y="296.0" width="0.8" height="0.8" fill="#f3e000" opacity="0.20"/>
<rect x="204.8" y="298.6" width="0.8" height="0.8" fill="#f3e000" opacity="0.13"/>
<rect x="201.9" y="296.9" width="0.8" height="0.8" fill="#f3e000" opacity="0.13"/>
<rect x="206.3" y="329.6" width="0.8" height="0.8" fill="#f3e000" opacity="0.21"/>
<rect x="204.3" y="307.0" width="0.8" height="0.8" fill="#f3e000" opacity="0.21"/>
<rect x="208.3" y="326.6" width="0.8" height="0.8" fill="#f3e000" opacity="0.27"/>
<rect x="203.6" y="311.2" width="0.8" height="0.8" fill="#f3e000" opacity="0.17"/>
<rect x="200.9" y="324.6" width="0.8" height="0.8" fill="#f3e000" opacity="0.26"/>
<rect x="207.1" y="313.8" width="0.8" height="0.8" fill="#f3e000" opacity="0.22"/>
<rect x="214.1" y="321.4" width="0.8" height="0.8" fill="#f3e000" opacity="0.29"/>
<rect x="207.5" y="310.3" width="0.8" height="0.8" fill="#f3e000" opacity="0.27"/>
<rect x="210.1" y="332.0" width="0.8" height="0.8" fill="#f3e000" opacity="0.20"/>
<rect x="213.6" y="319.0" width="0.8" height="0.8" fill="#f3e000" opacity="0.19"/>
<rect x="209.8" y="305.4" width="0.8" height="0.8" fill="#f3e000" opacity="0.21"/>
<rect x="209.0" y="312.7" width="0.8" height="0.8" fill="#f3e000" opacity="0.28"/>
<rect x="207.5" y="318.9" width="0.8" height="0.8" fill="#f3e000" opacity="0.17"/>
<rect x="208.8" y="318.6" width="0.8" height="0.8" fill="#f3e000" opacity="0.22"/>
<rect x="209.0" y="320.8" width="0.8" height="0.8" fill="#f3e000" opacity="0.16"/>
<rect x="206.7" y="336.7" width="0.8" height="0.8" fill="#f3e000" opacity="0.28"/>
<rect x="213.5" y="297.8" width="0.8" height="0.8" fill="#f3e000" opacity="0.19"/>
<rect x="208.5" y="310.3" width="0.8" height="0.8" fill="#f3e000" opacity="0.29"/>
<rect x="209.5" y="303.9" width="0.8" height="0.8" fill="#f3e000" opacity="0.15"/>
<rect x="213.1" y="328.1" width="0.8" height="0.8" fill="#f3e000" opacity="0.21"/>
<rect x="203.7" y="305.8" width="0.8" height="0.8" fill="#f3e000" opacity="0.13"/>
<rect x="206.9" y="307.9" width="0.8" height="0.8" fill="#f3e000" opacity="0.26"/>
<rect x="206.1" y="318.8" width="0.8" height="0.8" fill="#f3e000" opacity="0.29"/>
<rect x="206.9" y="331.5" width="0.8" height="0.8" fill="#f3e000" opacity="0.27"/>
<rect x="207.9" y="330.8" width="0.8" height="0.8" fill="#f3e000" opacity="0.18"/>
<rect x="208.1" y="323.3" width="0.8" height="0.8" fill="#f3e000" opacity="0.29"/>
<rect x="205.6" y="324.9" width="0.8" height="0.8" fill="#f3e000" opacity="0.20"/>
<rect x="212.4" y="319.6" width="0.8" height="0.8" fill="#f3e000" opacity="0.25"/>
<rect x="209.7" y="311.4" width="0.8" height="0.8" fill="#f3e000" opacity="0.14"/>
<rect x="205.3" y="328.9" width="0.8" height="0.8" fill="#f3e000" opacity="0.23"/>
<rect x="205.0" y="323.2" width="0.8" height="0.8" fill="#f3e000" opacity="0.13"/>
<rect x="210.5" y="312.3" width="0.8" height="0.8" fill="#f3e000" opacity="0.20"/>
<rect x="208.2" y="311.5" width="0.8" height="0.8" fill="#f3e000" opacity="0.24"/>
<rect x="204.8" y="330.0" width="0.8" height="0.8" fill="#f3e000" opacity="0.12"/>
<rect x="207.2" y="329.5" width="0.8" height="0.8" fill="#f3e000" opacity="0.20"/>
<rect x="205.2" y="325.3" width="0.8" height="0.8" fill="#f3e000" opacity="0.14"/>
<rect x="207.7" y="317.4" width="0.8" height="0.8" fill="#f3e000" opacity="0.26"/>
<rect x="207.7" y="333.8" width="0.8" height="0.8" fill="#f3e000" opacity="0.21"/>
<rect x="204.7" y="309.9" width="0.8" height="0.8" fill="#f3e000" opacity="0.13"/>
<rect x="208.2" y="310.0" width="0.8" height="0.8" fill="#f3e000" opacity="0.27"/>
<rect x="210.1" y="326.1" width="0.8" height="0.8" fill="#f3e000" opacity="0.53"/>
<rect x="198.7" y="337.4" width="0.8" height="0.8" fill="#f3e000" opacity="0.58"/>
<rect x="209.0" y="336.6" width="0.8" height="0.8" fill="#f3e000" opacity="0.36"/>
<rect x="204.1" y="334.0" width="0.8" height="0.8" fill="#f3e000" opacity="0.29"/>
<rect x="212.2" y="330.1" width="0.8" height="0.8" fill="#f3e000" opacity="0.26"/>
<rect x="211.4" y="340.8" width="0.8" height="0.8" fill="#f3e000" opacity="0.28"/>
<rect x="199.7" y="335.3" width="0.8" height="0.8" fill="#f3e000" opacity="0.38"/>
<rect x="195.3" y="334.0" width="0.8" height="0.8" fill="#f3e000" opacity="0.21"/>
<rect x="211.8" y="332.6" width="0.8" height="0.8" fill="#f3e000" opacity="0.22"/>
<rect x="208.8" y="327.1" width="0.8" height="0.8" fill="#f3e000" opacity="0.42"/>
<rect x="210.1" y="343.6" width="0.8" height="0.8" fill="#f3e000" opacity="0.32"/>
<rect x="207.1" y="330.3" width="0.8" height="0.8" fill="#f3e000" opacity="0.43"/>
<rect x="204.0" y="329.9" width="0.8" height="0.8" fill="#f3e000" opacity="0.39"/>
<rect x="216.5" y="337.3" width="0.8" height="0.8" fill="#f3e000" opacity="0.48"/>
<rect x="212.6" y="339.9" width="0.8" height="0.8" fill="#f3e000" opacity="0.49"/>
<rect x="218.0" y="340.4" width="0.8" height="0.8" fill="#f3e000" opacity="0.55"/>
<rect x="212.6" y="335.5" width="0.8" height="0.8" fill="#f3e000" opacity="0.23"/>
<rect x="207.8" y="336.5" width="0.8" height="0.8" fill="#f3e000" opacity="0.40"/>
<rect x="207.8" y="338.8" width="0.8" height="0.8" fill="#f3e000" opacity="0.38"/>
<rect x="199.8" y="341.2" width="0.8" height="0.8" fill="#f3e000" opacity="0.49"/>
<rect x="211.4" y="336.8" width="0.8" height="0.8" fill="#f3e000" opacity="0.20"/>
<rect x="206.3" y="336.5" width="0.8" height="0.8" fill="#f3e000" opacity="0.48"/>
<rect x="212.0" y="316.3" width="0.8" height="0.8" fill="#f3e000" opacity="0.28"/>
<rect x="218.6" y="336.3" width="0.8" height="0.8" fill="#f3e000" opacity="0.36"/>
<rect x="213.8" y="331.9" width="0.8" height="0.8" fill="#f3e000" opacity="0.32"/>
<rect x="222.2" y="340.1" width="0.8" height="0.8" fill="#f3e000" opacity="0.40"/>
<rect x="201.2" y="336.3" width="0.8" height="0.8" fill="#f3e000" opacity="0.51"/>
<rect x="211.5" y="328.7" width="0.8" height="0.8" fill="#f3e000" opacity="0.27"/>
<rect x="196.3" y="340.6" width="0.8" height="0.8" fill="#f3e000" opacity="0.36"/>
<rect x="203.3" y="328.2" width="0.8" height="0.8" fill="#f3e000" opacity="0.38"/>
<rect x="203.4" y="332.3" width="0.8" height="0.8" fill="#f3e000" opacity="0.42"/>
<rect x="209.6" y="332.5" width="0.8" height="0.8" fill="#f3e000" opacity="0.35"/>
<rect x="221.2" y="323.8" width="0.8" height="0.8" fill="#f3e000" opacity="0.21"/>
<rect x="201.3" y="328.6" width="0.8" height="0.8" fill="#f3e000" opacity="0.54"/>
<rect x="204.4" y="334.7" width="0.8" height="0.8" fill="#f3e000" opacity="0.32"/>
<rect x="205.3" y="325.6" width="0.8" height="0.8" fill="#f3e000" opacity="0.28"/>
<rect x="201.8" y="327.9" width="0.8" height="0.8" fill="#f3e000" opacity="0.46"/>
<rect x="214.9" y="335.0" width="0.8" height="0.8" fill="#f3e000" opacity="0.33"/>
<rect x="202.9" y="331.3" width="0.8" height="0.8" fill="#f3e000" opacity="0.25"/>
<rect x="205.2" y="330.2" width="0.8" height="0.8" fill="#f3e000" opacity="0.52"/>
<rect x="205.0" y="340.7" width="0.8" height="0.8" fill="#f3e000" opacity="0.52"/>
<rect x="215.8" y="340.1" width="0.8" height="0.8" fill="#f3e000" opacity="0.23"/>
<rect x="209.2" y="333.7" width="0.8" height="0.8" fill="#f3e000" opacity="0.49"/>
<rect x="205.0" y="336.7" width="0.8" height="0.8" fill="#f3e000" opacity="0.36"/>
<rect x="201.0" y="334.2" width="0.8" height="0.8" fill="#f3e000" opacity="0.25"/>
<rect x="202.3" y="333.5" width="0.8" height="0.8" fill="#f3e000" opacity="0.59"/>
<rect x="202.6" y="338.1" width="0.8" height="0.8" fill="#f3e000" opacity="0.29"/>
<rect x="213.5" y="333.3" width="0.8" height="0.8" fill="#f3e000" opacity="0.46"/>
<rect x="211.1" y="329.4" width="0.8" height="0.8" fill="#f3e000" opacity="0.50"/>
<rect x="207.2" y="336.8" width="0.8" height="0.8" fill="#f3e000" opacity="0.22"/>
<rect x="195.1" y="337.7" width="0.8" height="0.8" fill="#f3e000" opacity="0.28"/>
<rect x="197.4" y="337.6" width="0.8" height="0.8" fill="#f3e000" opacity="0.31"/>
<rect x="212.4" y="339.6" width="0.8" height="0.8" fill="#f3e000" opacity="0.37"/>
<rect x="220.9" y="329.8" width="0.8" height="0.8" fill="#f3e000" opacity="0.30"/>
<rect x="201.5" y="332.1" width="0.8" height="0.8" fill="#f3e000" opacity="0.21"/>
<rect x="194.0" y="338.4" width="0.8" height="0.8" fill="#f3e000" opacity="0.32"/>
<rect x="198.9" y="329.7" width="0.8" height="0.8" fill="#f3e000" opacity="0.23"/>
<rect x="210.6" y="333.0" width="0.8" height="0.8" fill="#f3e000" opacity="0.32"/>
<rect x="207.5" y="333.1" width="0.8" height="0.8" fill="#f3e000" opacity="0.35"/>
<rect x="213.1" y="338.6" width="0.8" height="0.8" fill="#f3e000" opacity="0.21"/>
<rect x="210.5" y="306.6" width="0.8" height="0.8" fill="#9ccab4" opacity="0.19"/>
<rect x="211.2" y="305.5" width="0.8" height="0.8" fill="#9ccab4" opacity="0.33"/>
<rect x="214.0" y="310.7" width="0.8" height="0.8" fill="#9ccab4" opacity="0.29"/>
<rect x="208.7" y="307.4" width="0.8" height="0.8" fill="#9ccab4" opacity="0.43"/>
<rect x="215.7" y="306.1" width="0.8" height="0.8" fill="#9ccab4" opacity="0.19"/>
<rect x="213.0" y="302.0" width="0.8" height="0.8" fill="#9ccab4" opacity="0.35"/>
<rect x="210.0" y="302.0" width="0.8" height="0.8" fill="#9ccab4" opacity="0.18"/>
<rect x="206.7" y="297.5" width="0.8" height="0.8" fill="#9ccab4" opacity="0.39"/>
<rect x="207.8" y="309.4" width="0.8" height="0.8" fill="#9ccab4" opacity="0.22"/>
<rect x="205.4" y="305.3" width="0.8" height="0.8" fill="#9ccab4" opacity="0.35"/>
<rect x="207.6" y="307.5" width="0.8" height="0.8" fill="#9ccab4" opacity="0.37"/>
<rect x="215.5" y="308.3" width="0.8" height="0.8" fill="#9ccab4" opacity="0.32"/>
<rect x="209.0" y="306.1" width="0.8" height="0.8" fill="#9ccab4" opacity="0.32"/>
<rect x="201.7" y="303.5" width="0.8" height="0.8" fill="#9ccab4" opacity="0.28"/>
<rect x="200.8" y="309.2" width="0.8" height="0.8" fill="#9ccab4" opacity="0.25"/>
<rect x="217.9" y="302.5" width="0.8" height="0.8" fill="#9ccab4" opacity="0.48"/>
<rect x="211.9" y="302.4" width="0.8" height="0.8" fill="#9ccab4" opacity="0.42"/>
<rect x="206.5" y="301.5" width="0.8" height="0.8" fill="#9ccab4" opacity="0.48"/>
<rect x="203.9" y="296.5" width="0.8" height="0.8" fill="#9ccab4" opacity="0.34"/>
<rect x="216.4" y="308.4" width="0.8" height="0.8" fill="#9ccab4" opacity="0.22"/>
<rect x="208.4" y="310.5" width="0.8" height="0.8" fill="#9ccab4" opacity="0.22"/>
<rect x="202.0" y="305.5" width="0.8" height="0.8" fill="#9ccab4" opacity="0.19"/>
<rect x="207.6" y="301.7" width="0.8" height="0.8" fill="#9ccab4" opacity="0.31"/>
<rect x="204.8" y="297.6" width="0.8" height="0.8" fill="#9ccab4" opacity="0.17"/>
<rect x="212.8" y="315.4" width="0.8" height="0.8" fill="#9ccab4" opacity="0.29"/>
<rect x="204.9" y="305.9" width="0.8" height="0.8" fill="#9ccab4" opacity="0.38"/>
<rect x="208.3" y="296.5" width="0.8" height="0.8" fill="#9ccab4" opacity="0.29"/>
<rect x="203.9" y="301.2" width="0.8" height="0.8" fill="#9ccab4" opacity="0.22"/>
<rect x="219.5" y="299.7" width="0.8" height="0.8" fill="#9ccab4" opacity="0.41"/>
<rect x="213.6" y="303.4" width="0.8" height="0.8" fill="#9ccab4" opacity="0.43"/>
<rect x="209.1" y="311.8" width="0.8" height="0.8" fill="#9ccab4" opacity="0.39"/>
<rect x="216.4" y="300.2" width="0.8" height="0.8" fill="#9ccab4" opacity="0.44"/>
<rect x="207.9" y="312.4" width="0.8" height="0.8" fill="#9ccab4" opacity="0.31"/>
<rect x="207.1" y="308.1" width="0.8" height="0.8" fill="#9ccab4" opacity="0.42"/>
<rect x="213.4" y="295.7" width="0.8" height="0.8" fill="#9ccab4" opacity="0.37"/>
<rect x="209.9" y="306.2" width="0.8" height="0.8" fill="#9ccab4" opacity="0.34"/>
<rect x="209.2" y="305.6" width="0.8" height="0.8" fill="#1f7a44" opacity="0.08"/>
<rect x="210.7" y="306.6" width="0.8" height="0.8" fill="#1f7a44" opacity="0.10"/>
<rect x="209.9" y="302.1" width="0.8" height="0.8" fill="#1f7a44" opacity="0.19"/>
<rect x="208.2" y="305.3" width="0.8" height="0.8" fill="#1f7a44" opacity="0.13"/>
<rect x="211.1" y="303.9" width="0.8" height="0.8" fill="#1f7a44" opacity="0.12"/>
<rect x="213.1" y="304.0" width="0.8" height="0.8" fill="#1f7a44" opacity="0.12"/>
<rect x="214.3" y="303.7" width="0.8" height="0.8" fill="#1f7a44" opacity="0.10"/>
<rect x="208.7" y="304.2" width="0.8" height="0.8" fill="#1f7a44" opacity="0.08"/>
</g>
<text x="224.02" y="306.10" font-family="Liberation Sans, sans-serif" font-size="8.6" fill="#111" stroke="#111" stroke-width="0.2" textLength="20.69" lengthAdjust="spacingAndGlyphs">Asp48</text>
<g clip-path="url(#cp12)">
<g filter="url(#bl2)">
<ellipse cx="268.64" cy="304.70" rx="11.20" ry="11.20" fill="#f7ee70" opacity="0.45"/>
<ellipse cx="282.64" cy="304.20" rx="7.20" ry="5.60" fill="#d4eadc" opacity="0.25"/>
<ellipse cx="315.64" cy="296.70" rx="4.80" ry="2.40" fill="#f7ee70" opacity="0.18"/>
<ellipse cx="335.64" cy="304.20" rx="2.40" ry="4.80" fill="#f7ee70" opacity="0.18"/>
</g><g filter="url(#bl)">
<ellipse cx="268.64" cy="304.70" rx="5.95" ry="5.95" fill="#f3e000" opacity="0.90"/>
<ellipse cx="282.64" cy="304.20" rx="3.82" ry="2.98" fill="#9ccab4" opacity="0.50"/>
<ellipse cx="315.64" cy="296.70" rx="2.55" ry="1.27" fill="#f3e000" opacity="0.36"/>
<ellipse cx="335.64" cy="304.20" rx="1.27" ry="2.55" fill="#f3e000" opacity="0.36"/>
</g>
<rect x="266.1" y="294.9" width="0.8" height="0.8" fill="#f3e000" opacity="0.40"/>
<rect x="268.8" y="311.0" width="0.8" height="0.8" fill="#f3e000" opacity="0.59"/>
<rect x="252.5" y="321.4" width="0.8" height="0.8" fill="#f3e000" opacity="0.55"/>
<rect x="279.2" y="315.2" width="0.8" height="0.8" fill="#f3e000" opacity="0.21"/>
<rect x="265.2" y="291.1" width="0.8" height="0.8" fill="#f3e000" opacity="0.48"/>
<rect x="255.2" y="300.4" width="0.8" height="0.8" fill="#f3e000" opacity="0.26"/>
<rect x="262.8" y="303.2" width="0.8" height="0.8" fill="#f3e000" opacity="0.36"/>
<rect x="273.0" y="316.0" width="0.8" height="0.8" fill="#f3e000" opacity="0.43"/>
<rect x="270.6" y="294.1" width="0.8" height="0.8" fill="#f3e000" opacity="0.44"/>
<rect x="281.1" y="298.1" width="0.8" height="0.8" fill="#f3e000" opacity="0.43"/>
<rect x="260.5" y="320.4" width="0.8" height="0.8" fill="#f3e000" opacity="0.35"/>
<rect x="274.2" y="308.8" width="0.8" height="0.8" fill="#f3e000" opacity="0.48"/>
<rect x="278.7" y="300.1" width="0.8" height="0.8" fill="#f3e000" opacity="0.47"/>
<rect x="281.0" y="299.6" width="0.8" height="0.8" fill="#f3e000" opacity="0.38"/>
<rect x="256.0" y="307.8" width="0.8" height="0.8" fill="#f3e000" opacity="0.33"/>
<rect x="276.9" y="311.5" width="0.8" height="0.8" fill="#f3e000" opacity="0.52"/>
<rect x="268.8" y="316.4" width="0.8" height="0.8" fill="#f3e000" opacity="0.56"/>
<rect x="271.5" y="307.7" width="0.8" height="0.8" fill="#f3e000" opacity="0.40"/>
<rect x="259.1" y="320.9" width="0.8" height="0.8" fill="#f3e000" opacity="0.60"/>
<rect x="255.8" y="309.3" width="0.8" height="0.8" fill="#f3e000" opacity="0.45"/>
<rect x="278.2" y="322.9" width="0.8" height="0.8" fill="#f3e000" opacity="0.27"/>
<rect x="276.1" y="308.6" width="0.8" height="0.8" fill="#f3e000" opacity="0.21"/>
<rect x="260.8" y="305.7" width="0.8" height="0.8" fill="#f3e000" opacity="0.58"/>
<rect x="255.8" y="312.4" width="0.8" height="0.8" fill="#f3e000" opacity="0.51"/>
<rect x="263.8" y="301.8" width="0.8" height="0.8" fill="#f3e000" opacity="0.32"/>
<rect x="260.9" y="305.1" width="0.8" height="0.8" fill="#f3e000" opacity="0.46"/>
<rect x="261.8" y="304.5" width="0.8" height="0.8" fill="#f3e000" opacity="0.44"/>
<rect x="273.8" y="304.6" width="0.8" height="0.8" fill="#f3e000" opacity="0.33"/>
<rect x="272.0" y="305.0" width="0.8" height="0.8" fill="#f3e000" opacity="0.22"/>
<rect x="255.7" y="311.5" width="0.8" height="0.8" fill="#f3e000" opacity="0.48"/>
<rect x="283.0" y="301.6" width="0.8" height="0.8" fill="#f3e000" opacity="0.43"/>
<rect x="267.6" y="304.1" width="0.8" height="0.8" fill="#f3e000" opacity="0.35"/>
<rect x="267.9" y="315.4" width="0.8" height="0.8" fill="#f3e000" opacity="0.23"/>
<rect x="261.4" y="302.7" width="0.8" height="0.8" fill="#f3e000" opacity="0.40"/>
<rect x="265.7" y="306.7" width="0.8" height="0.8" fill="#f3e000" opacity="0.49"/>
<rect x="271.9" y="294.8" width="0.8" height="0.8" fill="#f3e000" opacity="0.25"/>
<rect x="256.0" y="295.6" width="0.8" height="0.8" fill="#f3e000" opacity="0.59"/>
<rect x="268.8" y="302.3" width="0.8" height="0.8" fill="#f3e000" opacity="0.55"/>
<rect x="265.5" y="299.4" width="0.8" height="0.8" fill="#f3e000" opacity="0.57"/>
<rect x="276.2" y="290.2" width="0.8" height="0.8" fill="#f3e000" opacity="0.30"/>
<rect x="262.0" y="301.2" width="0.8" height="0.8" fill="#f3e000" opacity="0.32"/>
<rect x="269.4" y="294.1" width="0.8" height="0.8" fill="#f3e000" opacity="0.33"/>
<rect x="251.6" y="300.0" width="0.8" height="0.8" fill="#f3e000" opacity="0.43"/>
<rect x="277.2" y="299.6" width="0.8" height="0.8" fill="#f3e000" opacity="0.60"/>
<rect x="277.0" y="306.3" width="0.8" height="0.8" fill="#f3e000" opacity="0.42"/>
<rect x="265.7" y="284.6" width="0.8" height="0.8" fill="#f3e000" opacity="0.45"/>
<rect x="257.8" y="306.2" width="0.8" height="0.8" fill="#f3e000" opacity="0.41"/>
<rect x="263.4" y="286.8" width="0.8" height="0.8" fill="#f3e000" opacity="0.21"/>
<rect x="261.9" y="318.9" width="0.8" height="0.8" fill="#f3e000" opacity="0.22"/>
<rect x="269.1" y="302.8" width="0.8" height="0.8" fill="#f3e000" opacity="0.46"/>
<rect x="270.4" y="299.3" width="0.8" height="0.8" fill="#f3e000" opacity="0.35"/>
<rect x="270.4" y="316.6" width="0.8" height="0.8" fill="#f3e000" opacity="0.41"/>
<rect x="263.3" y="300.5" width="0.8" height="0.8" fill="#f3e000" opacity="0.43"/>
<rect x="281.5" y="300.9" width="0.8" height="0.8" fill="#f3e000" opacity="0.58"/>
<rect x="268.8" y="314.0" width="0.8" height="0.8" fill="#f3e000" opacity="0.35"/>
<rect x="260.8" y="316.1" width="0.8" height="0.8" fill="#f3e000" opacity="0.27"/>
<rect x="256.2" y="299.9" width="0.8" height="0.8" fill="#f3e000" opacity="0.57"/>
<rect x="274.7" y="305.4" width="0.8" height="0.8" fill="#f3e000" opacity="0.40"/>
<rect x="272.9" y="302.9" width="0.8" height="0.8" fill="#f3e000" opacity="0.54"/>
<rect x="260.9" y="310.5" width="0.8" height="0.8" fill="#f3e000" opacity="0.57"/>
<rect x="275.0" y="307.4" width="0.8" height="0.8" fill="#f3e000" opacity="0.26"/>
<rect x="273.0" y="309.6" width="0.8" height="0.8" fill="#f3e000" opacity="0.48"/>
<rect x="265.2" y="302.8" width="0.8" height="0.8" fill="#f3e000" opacity="0.52"/>
<rect x="264.4" y="304.5" width="0.8" height="0.8" fill="#f3e000" opacity="0.53"/>
<rect x="271.0" y="299.8" width="0.8" height="0.8" fill="#f3e000" opacity="0.58"/>
<rect x="270.7" y="299.5" width="0.8" height="0.8" fill="#f3e000" opacity="0.20"/>
<rect x="278.3" y="294.0" width="0.8" height="0.8" fill="#f3e000" opacity="0.24"/>
<rect x="270.0" y="291.5" width="0.8" height="0.8" fill="#f3e000" opacity="0.45"/>
<rect x="279.7" y="285.3" width="0.8" height="0.8" fill="#f3e000" opacity="0.33"/>
<rect x="277.4" y="289.7" width="0.8" height="0.8" fill="#f3e000" opacity="0.33"/>
<rect x="263.9" y="294.0" width="0.8" height="0.8" fill="#f3e000" opacity="0.54"/>
<rect x="263.0" y="302.2" width="0.8" height="0.8" fill="#f3e000" opacity="0.30"/>
<rect x="264.6" y="303.6" width="0.8" height="0.8" fill="#f3e000" opacity="0.54"/>
<rect x="273.0" y="301.0" width="0.8" height="0.8" fill="#f3e000" opacity="0.48"/>
<rect x="266.8" y="301.2" width="0.8" height="0.8" fill="#f3e000" opacity="0.51"/>
<rect x="269.3" y="298.1" width="0.8" height="0.8" fill="#f3e000" opacity="0.24"/>
<rect x="266.0" y="317.7" width="0.8" height="0.8" fill="#f3e000" opacity="0.39"/>
<rect x="270.5" y="300.5" width="0.8" height="0.8" fill="#f3e000" opacity="0.24"/>
<rect x="259.4" y="317.6" width="0.8" height="0.8" fill="#f3e000" opacity="0.26"/>
<rect x="280.2" y="310.4" width="0.8" height="0.8" fill="#f3e000" opacity="0.24"/>
<rect x="267.1" y="301.9" width="0.8" height="0.8" fill="#f3e000" opacity="0.30"/>
<rect x="260.5" y="291.3" width="0.8" height="0.8" fill="#f3e000" opacity="0.36"/>
<rect x="266.8" y="305.3" width="0.8" height="0.8" fill="#f3e000" opacity="0.34"/>
<rect x="269.3" y="318.3" width="0.8" height="0.8" fill="#f3e000" opacity="0.49"/>
<rect x="270.7" y="295.4" width="0.8" height="0.8" fill="#f3e000" opacity="0.48"/>
<rect x="273.9" y="310.1" width="0.8" height="0.8" fill="#f3e000" opacity="0.32"/>
<rect x="266.1" y="317.1" width="0.8" height="0.8" fill="#f3e000" opacity="0.29"/>
<rect x="265.8" y="310.3" width="0.8" height="0.8" fill="#f3e000" opacity="0.55"/>
<rect x="263.0" y="298.0" width="0.8" height="0.8" fill="#f3e000" opacity="0.35"/>
<rect x="284.7" y="296.1" width="0.8" height="0.8" fill="#f3e000" opacity="0.38"/>
<rect x="254.6" y="298.4" width="0.8" height="0.8" fill="#f3e000" opacity="0.30"/>
<rect x="268.4" y="308.3" width="0.8" height="0.8" fill="#f3e000" opacity="0.40"/>
<rect x="269.2" y="300.2" width="0.8" height="0.8" fill="#f3e000" opacity="0.37"/>
<rect x="277.4" y="304.2" width="0.8" height="0.8" fill="#f3e000" opacity="0.35"/>
<rect x="277.3" y="290.9" width="0.8" height="0.8" fill="#f3e000" opacity="0.35"/>
<rect x="276.5" y="312.4" width="0.8" height="0.8" fill="#f3e000" opacity="0.50"/>
<rect x="278.7" y="299.5" width="0.8" height="0.8" fill="#f3e000" opacity="0.32"/>
<rect x="262.3" y="304.1" width="0.8" height="0.8" fill="#f3e000" opacity="0.38"/>
<rect x="271.9" y="305.9" width="0.8" height="0.8" fill="#9ccab4" opacity="0.31"/>
<rect x="287.7" y="302.2" width="0.8" height="0.8" fill="#9ccab4" opacity="0.32"/>
<rect x="289.8" y="310.8" width="0.8" height="0.8" fill="#9ccab4" opacity="0.25"/>
<rect x="286.2" y="301.3" width="0.8" height="0.8" fill="#9ccab4" opacity="0.33"/>
<rect x="292.1" y="305.4" width="0.8" height="0.8" fill="#9ccab4" opacity="0.29"/>
<rect x="276.1" y="309.3" width="0.8" height="0.8" fill="#9ccab4" opacity="0.16"/>
<rect x="282.7" y="299.9" width="0.8" height="0.8" fill="#9ccab4" opacity="0.20"/>
<rect x="285.6" y="310.7" width="0.8" height="0.8" fill="#9ccab4" opacity="0.27"/>
<rect x="294.2" y="309.8" width="0.8" height="0.8" fill="#9ccab4" opacity="0.16"/>
<rect x="279.0" y="307.0" width="0.8" height="0.8" fill="#9ccab4" opacity="0.24"/>
<rect x="291.8" y="298.3" width="0.8" height="0.8" fill="#9ccab4" opacity="0.25"/>
<rect x="281.1" y="305.6" width="0.8" height="0.8" fill="#9ccab4" opacity="0.13"/>
<rect x="276.1" y="303.6" width="0.8" height="0.8" fill="#9ccab4" opacity="0.21"/>
<rect x="287.7" y="303.8" width="0.8" height="0.8" fill="#9ccab4" opacity="0.19"/>
<rect x="280.0" y="305.4" width="0.8" height="0.8" fill="#9ccab4" opacity="0.32"/>
<rect x="277.4" y="301.6" width="0.8" height="0.8" fill="#9ccab4" opacity="0.20"/>
<rect x="282.6" y="307.6" width="0.8" height="0.8" fill="#9ccab4" opacity="0.22"/>
<rect x="269.6" y="307.8" width="0.8" height="0.8" fill="#9ccab4" opacity="0.23"/>
<rect x="283.1" y="305.4" width="0.8" height="0.8" fill="#9ccab4" opacity="0.15"/>
<rect x="277.7" y="309.7" width="0.8" height="0.8" fill="#9ccab4" opacity="0.31"/>
<rect x="283.4" y="310.9" width="0.8" height="0.8" fill="#9ccab4" opacity="0.21"/>
<rect x="276.7" y="303.1" width="0.8" height="0.8" fill="#9ccab4" opacity="0.12"/>
<rect x="289.4" y="306.5" width="0.8" height="0.8" fill="#9ccab4" opacity="0.26"/>
<rect x="274.5" y="310.1" width="0.8" height="0.8" fill="#9ccab4" opacity="0.29"/>
<rect x="282.0" y="305.6" width="0.8" height="0.8" fill="#9ccab4" opacity="0.23"/>
<rect x="280.6" y="301.9" width="0.8" height="0.8" fill="#9ccab4" opacity="0.12"/>
<rect x="281.3" y="304.3" width="0.8" height="0.8" fill="#9ccab4" opacity="0.27"/>
<rect x="279.8" y="302.0" width="0.8" height="0.8" fill="#9ccab4" opacity="0.21"/>
<rect x="283.0" y="306.7" width="0.8" height="0.8" fill="#9ccab4" opacity="0.15"/>
<rect x="284.8" y="300.3" width="0.8" height="0.8" fill="#9ccab4" opacity="0.27"/>
<rect x="277.5" y="309.9" width="0.8" height="0.8" fill="#9ccab4" opacity="0.24"/>
<rect x="313.8" y="295.3" width="0.8" height="0.8" fill="#f3e000" opacity="0.17"/>
<rect x="318.9" y="300.8" width="0.8" height="0.8" fill="#f3e000" opacity="0.19"/>
<rect x="311.0" y="296.2" width="0.8" height="0.8" fill="#f3e000" opacity="0.10"/>
<rect x="314.4" y="297.7" width="0.8" height="0.8" fill="#f3e000" opacity="0.21"/>
<rect x="319.2" y="296.8" width="0.8" height="0.8" fill="#f3e000" opacity="0.22"/>
<rect x="316.7" y="294.1" width="0.8" height="0.8" fill="#f3e000" opacity="0.13"/>
<rect x="316.2" y="299.3" width="0.8" height="0.8" fill="#f3e000" opacity="0.13"/>
<rect x="315.1" y="295.2" width="0.8" height="0.8" fill="#f3e000" opacity="0.20"/>
<rect x="310.2" y="295.4" width="0.8" height="0.8" fill="#f3e000" opacity="0.24"/>
<rect x="332.1" y="310.9" width="0.8" height="0.8" fill="#f3e000" opacity="0.08"/>
<rect x="335.9" y="303.6" width="0.8" height="0.8" fill="#f3e000" opacity="0.17"/>
<rect x="333.5" y="307.9" width="0.8" height="0.8" fill="#f3e000" opacity="0.13"/>
<rect x="336.4" y="309.8" width="0.8" height="0.8" fill="#f3e000" opacity="0.17"/>
<rect x="335.7" y="300.4" width="0.8" height="0.8" fill="#f3e000" opacity="0.09"/>
<rect x="335.8" y="301.9" width="0.8" height="0.8" fill="#f3e000" opacity="0.16"/>
<rect x="336.9" y="304.2" width="0.8" height="0.8" fill="#f3e000" opacity="0.19"/>
<rect x="335.8" y="299.5" width="0.8" height="0.8" fill="#f3e000" opacity="0.15"/>
<rect x="335.4" y="299.3" width="0.8" height="0.8" fill="#f3e000" opacity="0.11"/>
</g>
<text x="298.24" y="306.10" font-family="Liberation Sans, sans-serif" font-size="8.6" fill="#111" stroke="#111" stroke-width="0.2" textLength="19.96" lengthAdjust="spacingAndGlyphs">Arg49</text>
<g clip-path="url(#cp13)">
<g filter="url(#bl2)">
<ellipse cx="340.36" cy="302.20" rx="8.00" ry="11.20" fill="#f7ee70" opacity="0.45"/>
<ellipse cx="340.36" cy="322.70" rx="4.80" ry="4.80" fill="#f7ee70" opacity="0.36"/>
<ellipse cx="352.86" cy="303.20" rx="8.00" ry="4.80" fill="#d4eadc" opacity="0.18"/>
<ellipse cx="339.86" cy="361.20" rx="6.40" ry="3.20" fill="#f7ee70" opacity="0.36"/>
<ellipse cx="409.86" cy="301.20" rx="3.20" ry="6.40" fill="#f7ee70" opacity="0.27"/>
</g><g filter="url(#bl)">
<ellipse cx="340.36" cy="302.20" rx="4.25" ry="5.95" fill="#f3e000" opacity="0.90"/>
<ellipse cx="340.36" cy="322.70" rx="2.55" ry="2.55" fill="#f3e000" opacity="0.72"/>
<ellipse cx="352.86" cy="303.20" rx="4.25" ry="2.55" fill="#9ccab4" opacity="0.36"/>
<ellipse cx="339.86" cy="361.20" rx="3.40" ry="1.70" fill="#f3e000" opacity="0.72"/>
<ellipse cx="409.86" cy="301.20" rx="1.70" ry="3.40" fill="#f3e000" opacity="0.54"/>
</g>
<rect x="333.1" y="299.9" width="0.8" height="0.8" fill="#f3e000" opacity="0.49"/>
<rect x="341.9" y="308.5" width="0.8" height="0.8" fill="#f3e000" opacity="0.34"/>
<rect x="344.6" y="306.2" width="0.8" height="0.8" fill="#f3e000" opacity="0.49"/>
<rect x="337.4" y="300.0" width="0.8" height="0.8" fill="#f3e000" opacity="0.49"/>
<rect x="347.2" y="310.8" width="0.8" height="0.8" fill="#f3e000" opacity="0.26"/>
<rect x="343.8" y="305.5" width="0.8" height="0.8" fill="#f3e000" opacity="0.41"/>
<rect x="338.9" y="318.1" width="0.8" height="0.8" fill="#f3e000" opacity="0.58"/>
<rect x="338.5" y="314.7" width="0.8" height="0.8" fill="#f3e000" opacity="0.48"/>
<rect x="336.4" y="300.0" width="0.8" height="0.8" fill="#f3e000" opacity="0.58"/>
<rect x="341.2" y="301.9" width="0.8" height="0.8" fill="#f3e000" opacity="0.33"/>
<rect x="338.8" y="306.8" width="0.8" height="0.8" fill="#f3e000" opacity="0.37"/>
<rect x="341.3" y="301.2" width="0.8" height="0.8" fill="#f3e000" opacity="0.53"/>
<rect x="340.0" y="303.4" width="0.8" height="0.8" fill="#f3e000" opacity="0.56"/>
<rect x="339.8" y="307.5" width="0.8" height="0.8" fill="#f3e000" opacity="0.25"/>
<rect x="338.5" y="305.1" width="0.8" height="0.8" fill="#f3e000" opacity="0.27"/>
<rect x="340.4" y="312.3" width="0.8" height="0.8" fill="#f3e000" opacity="0.38"/>
<rect x="338.1" y="311.1" width="0.8" height="0.8" fill="#f3e000" opacity="0.51"/>
<rect x="339.5" y="295.2" width="0.8" height="0.8" fill="#f3e000" opacity="0.57"/>
<rect x="342.2" y="292.6" width="0.8" height="0.8" fill="#f3e000" opacity="0.39"/>
<rect x="338.9" y="305.8" width="0.8" height="0.8" fill="#f3e000" opacity="0.55"/>
<rect x="338.4" y="300.0" width="0.8" height="0.8" fill="#f3e000" opacity="0.57"/>
<rect x="341.5" y="300.9" width="0.8" height="0.8" fill="#f3e000" opacity="0.48"/>
<rect x="340.9" y="311.7" width="0.8" height="0.8" fill="#f3e000" opacity="0.53"/>
<rect x="336.5" y="309.5" width="0.8" height="0.8" fill="#f3e000" opacity="0.47"/>
<rect x="343.1" y="312.3" width="0.8" height="0.8" fill="#f3e000" opacity="0.37"/>
<rect x="343.9" y="301.7" width="0.8" height="0.8" fill="#f3e000" opacity="0.48"/>
<rect x="344.6" y="303.8" width="0.8" height="0.8" fill="#f3e000" opacity="0.25"/>
<rect x="344.4" y="309.8" width="0.8" height="0.8" fill="#f3e000" opacity="0.27"/>
<rect x="341.0" y="298.9" width="0.8" height="0.8" fill="#f3e000" opacity="0.45"/>
<rect x="342.2" y="299.1" width="0.8" height="0.8" fill="#f3e000" opacity="0.29"/>
<rect x="340.9" y="293.6" width="0.8" height="0.8" fill="#f3e000" opacity="0.57"/>
<rect x="337.5" y="308.8" width="0.8" height="0.8" fill="#f3e000" opacity="0.58"/>
<rect x="332.4" y="318.9" width="0.8" height="0.8" fill="#f3e000" opacity="0.56"/>
<rect x="342.5" y="311.4" width="0.8" height="0.8" fill="#f3e000" opacity="0.58"/>
<rect x="348.3" y="312.3" width="0.8" height="0.8" fill="#f3e000" opacity="0.51"/>
<rect x="340.3" y="291.8" width="0.8" height="0.8" fill="#f3e000" opacity="0.24"/>
<rect x="342.8" y="301.3" width="0.8" height="0.8" fill="#f3e000" opacity="0.51"/>
<rect x="339.6" y="295.6" width="0.8" height="0.8" fill="#f3e000" opacity="0.47"/>
<rect x="332.6" y="309.0" width="0.8" height="0.8" fill="#f3e000" opacity="0.22"/>
<rect x="345.3" y="299.1" width="0.8" height="0.8" fill="#f3e000" opacity="0.52"/>
<rect x="330.5" y="304.7" width="0.8" height="0.8" fill="#f3e000" opacity="0.32"/>
<rect x="339.2" y="301.7" width="0.8" height="0.8" fill="#f3e000" opacity="0.40"/>
<rect x="349.9" y="309.5" width="0.8" height="0.8" fill="#f3e000" opacity="0.47"/>
<rect x="327.1" y="311.7" width="0.8" height="0.8" fill="#f3e000" opacity="0.58"/>
<rect x="342.6" y="301.3" width="0.8" height="0.8" fill="#f3e000" opacity="0.48"/>
<rect x="339.3" y="291.8" width="0.8" height="0.8" fill="#f3e000" opacity="0.21"/>
<rect x="345.6" y="298.4" width="0.8" height="0.8" fill="#f3e000" opacity="0.44"/>
<rect x="342.1" y="296.5" width="0.8" height="0.8" fill="#f3e000" opacity="0.21"/>
<rect x="344.2" y="299.4" width="0.8" height="0.8" fill="#f3e000" opacity="0.22"/>
<rect x="352.0" y="321.1" width="0.8" height="0.8" fill="#f3e000" opacity="0.50"/>
<rect x="341.1" y="306.4" width="0.8" height="0.8" fill="#f3e000" opacity="0.56"/>
<rect x="336.6" y="293.4" width="0.8" height="0.8" fill="#f3e000" opacity="0.25"/>
<rect x="329.0" y="311.9" width="0.8" height="0.8" fill="#f3e000" opacity="0.20"/>
<rect x="338.7" y="303.5" width="0.8" height="0.8" fill="#f3e000" opacity="0.60"/>
<rect x="351.2" y="313.8" width="0.8" height="0.8" fill="#f3e000" opacity="0.54"/>
<rect x="340.2" y="300.0" width="0.8" height="0.8" fill="#f3e000" opacity="0.48"/>
<rect x="334.0" y="302.6" width="0.8" height="0.8" fill="#f3e000" opacity="0.26"/>
<rect x="330.5" y="301.1" width="0.8" height="0.8" fill="#f3e000" opacity="0.25"/>
<rect x="344.4" y="296.6" width="0.8" height="0.8" fill="#f3e000" opacity="0.31"/>
<rect x="340.8" y="310.7" width="0.8" height="0.8" fill="#f3e000" opacity="0.46"/>
<rect x="329.9" y="295.3" width="0.8" height="0.8" fill="#f3e000" opacity="0.40"/>
<rect x="323.9" y="300.4" width="0.8" height="0.8" fill="#f3e000" opacity="0.29"/>
<rect x="345.2" y="302.9" width="0.8" height="0.8" fill="#f3e000" opacity="0.33"/>
<rect x="344.4" y="307.8" width="0.8" height="0.8" fill="#f3e000" opacity="0.21"/>
<rect x="345.9" y="298.0" width="0.8" height="0.8" fill="#f3e000" opacity="0.55"/>
<rect x="337.5" y="290.4" width="0.8" height="0.8" fill="#f3e000" opacity="0.50"/>
<rect x="337.5" y="314.0" width="0.8" height="0.8" fill="#f3e000" opacity="0.28"/>
<rect x="333.4" y="298.7" width="0.8" height="0.8" fill="#f3e000" opacity="0.51"/>
<rect x="342.9" y="308.3" width="0.8" height="0.8" fill="#f3e000" opacity="0.53"/>
<rect x="345.5" y="282.2" width="0.8" height="0.8" fill="#f3e000" opacity="0.25"/>
<rect x="340.7" y="324.2" width="0.8" height="0.8" fill="#f3e000" opacity="0.39"/>
<rect x="340.2" y="317.9" width="0.8" height="0.8" fill="#f3e000" opacity="0.41"/>
<rect x="336.1" y="322.3" width="0.8" height="0.8" fill="#f3e000" opacity="0.45"/>
<rect x="337.5" y="318.8" width="0.8" height="0.8" fill="#f3e000" opacity="0.35"/>
<rect x="334.8" y="322.9" width="0.8" height="0.8" fill="#f3e000" opacity="0.34"/>
<rect x="342.8" y="325.2" width="0.8" height="0.8" fill="#f3e000" opacity="0.29"/>
<rect x="336.5" y="324.4" width="0.8" height="0.8" fill="#f3e000" opacity="0.28"/>
<rect x="337.7" y="324.9" width="0.8" height="0.8" fill="#f3e000" opacity="0.28"/>
<rect x="341.8" y="322.4" width="0.8" height="0.8" fill="#f3e000" opacity="0.17"/>
<rect x="339.8" y="319.4" width="0.8" height="0.8" fill="#f3e000" opacity="0.30"/>
<rect x="337.7" y="321.0" width="0.8" height="0.8" fill="#f3e000" opacity="0.24"/>
<rect x="347.0" y="323.3" width="0.8" height="0.8" fill="#f3e000" opacity="0.46"/>
<rect x="339.5" y="326.3" width="0.8" height="0.8" fill="#f3e000" opacity="0.26"/>
<rect x="346.9" y="325.2" width="0.8" height="0.8" fill="#f3e000" opacity="0.43"/>
<rect x="340.5" y="325.2" width="0.8" height="0.8" fill="#f3e000" opacity="0.38"/>
<rect x="341.4" y="319.1" width="0.8" height="0.8" fill="#f3e000" opacity="0.28"/>
<rect x="341.0" y="328.6" width="0.8" height="0.8" fill="#f3e000" opacity="0.44"/>
<rect x="341.4" y="321.4" width="0.8" height="0.8" fill="#f3e000" opacity="0.35"/>
<rect x="361.5" y="302.7" width="0.8" height="0.8" fill="#9ccab4" opacity="0.15"/>
<rect x="354.0" y="304.1" width="0.8" height="0.8" fill="#9ccab4" opacity="0.20"/>
<rect x="362.0" y="305.7" width="0.8" height="0.8" fill="#9ccab4" opacity="0.19"/>
<rect x="341.4" y="304.4" width="0.8" height="0.8" fill="#9ccab4" opacity="0.23"/>
<rect x="351.0" y="302.2" width="0.8" height="0.8" fill="#9ccab4" opacity="0.17"/>
<rect x="349.2" y="304.4" width="0.8" height="0.8" fill="#9ccab4" opacity="0.23"/>
<rect x="352.5" y="301.5" width="0.8" height="0.8" fill="#9ccab4" opacity="0.12"/>
<rect x="348.9" y="306.8" width="0.8" height="0.8" fill="#9ccab4" opacity="0.13"/>
<rect x="343.5" y="305.4" width="0.8" height="0.8" fill="#9ccab4" opacity="0.11"/>
<rect x="351.9" y="300.3" width="0.8" height="0.8" fill="#9ccab4" opacity="0.23"/>
<rect x="357.5" y="302.3" width="0.8" height="0.8" fill="#9ccab4" opacity="0.18"/>
<rect x="357.2" y="305.4" width="0.8" height="0.8" fill="#9ccab4" opacity="0.18"/>
<rect x="349.6" y="300.9" width="0.8" height="0.8" fill="#9ccab4" opacity="0.09"/>
<rect x="357.9" y="306.2" width="0.8" height="0.8" fill="#9ccab4" opacity="0.11"/>
<rect x="350.2" y="307.5" width="0.8" height="0.8" fill="#9ccab4" opacity="0.22"/>
<rect x="348.7" y="303.0" width="0.8" height="0.8" fill="#9ccab4" opacity="0.17"/>
<rect x="351.3" y="308.9" width="0.8" height="0.8" fill="#9ccab4" opacity="0.10"/>
<rect x="352.4" y="306.7" width="0.8" height="0.8" fill="#9ccab4" opacity="0.23"/>
<rect x="354.7" y="305.1" width="0.8" height="0.8" fill="#9ccab4" opacity="0.10"/>
<rect x="354.0" y="306.1" width="0.8" height="0.8" fill="#9ccab4" opacity="0.14"/>
<rect x="353.2" y="299.8" width="0.8" height="0.8" fill="#9ccab4" opacity="0.16"/>
<rect x="345.3" y="306.6" width="0.8" height="0.8" fill="#9ccab4" opacity="0.22"/>
<rect x="341.8" y="306.6" width="0.8" height="0.8" fill="#9ccab4" opacity="0.12"/>
<rect x="359.5" y="302.6" width="0.8" height="0.8" fill="#9ccab4" opacity="0.19"/>
<rect x="349.6" y="305.0" width="0.8" height="0.8" fill="#9ccab4" opacity="0.10"/>
<rect x="356.8" y="301.1" width="0.8" height="0.8" fill="#9ccab4" opacity="0.19"/>
<rect x="346.3" y="304.2" width="0.8" height="0.8" fill="#9ccab4" opacity="0.11"/>
<rect x="355.1" y="305.9" width="0.8" height="0.8" fill="#9ccab4" opacity="0.19"/>
<rect x="352.5" y="303.1" width="0.8" height="0.8" fill="#9ccab4" opacity="0.19"/>
<rect x="351.0" y="303.7" width="0.8" height="0.8" fill="#9ccab4" opacity="0.12"/>
<rect x="341.8" y="365.2" width="0.8" height="0.8" fill="#f3e000" opacity="0.34"/>
<rect x="338.3" y="362.7" width="0.8" height="0.8" fill="#f3e000" opacity="0.25"/>
<rect x="339.1" y="363.2" width="0.8" height="0.8" fill="#f3e000" opacity="0.41"/>
<rect x="341.5" y="357.9" width="0.8" height="0.8" fill="#f3e000" opacity="0.44"/>
<rect x="338.6" y="360.3" width="0.8" height="0.8" fill="#f3e000" opacity="0.17"/>
<rect x="341.6" y="362.7" width="0.8" height="0.8" fill="#f3e000" opacity="0.33"/>
<rect x="342.4" y="358.6" width="0.8" height="0.8" fill="#f3e000" opacity="0.30"/>
<rect x="340.5" y="367.4" width="0.8" height="0.8" fill="#f3e000" opacity="0.40"/>
<rect x="339.1" y="361.8" width="0.8" height="0.8" fill="#f3e000" opacity="0.47"/>
<rect x="339.5" y="365.5" width="0.8" height="0.8" fill="#f3e000" opacity="0.20"/>
<rect x="337.5" y="359.5" width="0.8" height="0.8" fill="#f3e000" opacity="0.44"/>
<rect x="339.3" y="362.2" width="0.8" height="0.8" fill="#f3e000" opacity="0.22"/>
<rect x="344.0" y="355.5" width="0.8" height="0.8" fill="#f3e000" opacity="0.37"/>
<rect x="338.4" y="359.6" width="0.8" height="0.8" fill="#f3e000" opacity="0.25"/>
<rect x="350.7" y="364.5" width="0.8" height="0.8" fill="#f3e000" opacity="0.17"/>
<rect x="336.8" y="359.9" width="0.8" height="0.8" fill="#f3e000" opacity="0.22"/>
<rect x="405.2" y="305.2" width="0.8" height="0.8" fill="#f3e000" opacity="0.18"/>
<rect x="411.4" y="306.5" width="0.8" height="0.8" fill="#f3e000" opacity="0.28"/>
<rect x="408.5" y="301.0" width="0.8" height="0.8" fill="#f3e000" opacity="0.33"/>
<rect x="410.9" y="302.9" width="0.8" height="0.8" fill="#f3e000" opacity="0.18"/>
<rect x="407.4" y="300.8" width="0.8" height="0.8" fill="#f3e000" opacity="0.25"/>
<rect x="409.2" y="292.0" width="0.8" height="0.8" fill="#f3e000" opacity="0.23"/>
<rect x="413.9" y="303.4" width="0.8" height="0.8" fill="#f3e000" opacity="0.12"/>
<rect x="409.4" y="303.4" width="0.8" height="0.8" fill="#f3e000" opacity="0.26"/>
<rect x="410.1" y="298.9" width="0.8" height="0.8" fill="#f3e000" opacity="0.19"/>
<rect x="411.9" y="295.8" width="0.8" height="0.8" fill="#f3e000" opacity="0.15"/>
<rect x="408.3" y="294.0" width="0.8" height="0.8" fill="#f3e000" opacity="0.22"/>
<rect x="411.7" y="306.5" width="0.8" height="0.8" fill="#f3e000" opacity="0.20"/>
<rect x="410.7" y="303.2" width="0.8" height="0.8" fill="#f3e000" opacity="0.22"/>
<rect x="411.4" y="304.3" width="0.8" height="0.8" fill="#f3e000" opacity="0.25"/>
<rect x="407.7" y="299.8" width="0.8" height="0.8" fill="#f3e000" opacity="0.31"/>
<rect x="411.5" y="303.3" width="0.8" height="0.8" fill="#f3e000" opacity="0.34"/>
</g>
<text x="372.46" y="306.10" font-family="Liberation Sans, sans-serif" font-size="8.6" fill="#111" stroke="#111" stroke-width="0.2" textLength="18.93" lengthAdjust="spacingAndGlyphs">Ala50</text>
<g clip-path="url(#cp14)">
<g filter="url(#bl2)">
<ellipse cx="422.08" cy="301.20" rx="4.80" ry="4.80" fill="#f7ee70" opacity="0.14"/>
<ellipse cx="430.48" cy="316.20" rx="5.60" ry="8.80" fill="#f7ee70" opacity="0.41"/>
<ellipse cx="431.38" cy="359.20" rx="4.80" ry="6.40" fill="#f7ee70" opacity="0.32"/>
<ellipse cx="430.08" cy="304.20" rx="7.20" ry="7.20" fill="#f4f8c8" opacity="0.25"/>
<ellipse cx="429.58" cy="302.70" rx="4.16" ry="4.16" fill="#b4dca0" opacity="0.41"/>
</g><g filter="url(#bl)">
<ellipse cx="422.08" cy="301.20" rx="2.55" ry="2.55" fill="#f3e000" opacity="0.27"/>
<ellipse cx="430.48" cy="316.20" rx="2.98" ry="4.67" fill="#f3e000" opacity="0.81"/>
<ellipse cx="431.38" cy="359.20" rx="2.55" ry="3.40" fill="#f3e000" opacity="0.63"/>
<ellipse cx="430.08" cy="304.20" rx="3.82" ry="3.82" fill="#e8f090" opacity="0.50"/>
<ellipse cx="429.58" cy="302.70" rx="2.21" ry="2.21" fill="#1f7a44" opacity="0.81"/>
</g>
<rect x="427.0" y="295.6" width="0.8" height="0.8" fill="#f3e000" opacity="0.15"/>
<rect x="416.4" y="299.9" width="0.8" height="0.8" fill="#f3e000" opacity="0.13"/>
<rect x="424.0" y="302.9" width="0.8" height="0.8" fill="#f3e000" opacity="0.07"/>
<rect x="424.1" y="299.1" width="0.8" height="0.8" fill="#f3e000" opacity="0.11"/>
<rect x="420.6" y="300.8" width="0.8" height="0.8" fill="#f3e000" opacity="0.14"/>
<rect x="423.7" y="295.6" width="0.8" height="0.8" fill="#f3e000" opacity="0.17"/>
<rect x="421.3" y="302.9" width="0.8" height="0.8" fill="#f3e000" opacity="0.15"/>
<rect x="421.0" y="298.2" width="0.8" height="0.8" fill="#f3e000" opacity="0.10"/>
<rect x="425.6" y="306.3" width="0.8" height="0.8" fill="#f3e000" opacity="0.12"/>
<rect x="423.2" y="298.4" width="0.8" height="0.8" fill="#f3e000" opacity="0.10"/>
<rect x="416.6" y="300.7" width="0.8" height="0.8" fill="#f3e000" opacity="0.17"/>
<rect x="419.0" y="305.2" width="0.8" height="0.8" fill="#f3e000" opacity="0.11"/>
<rect x="425.7" y="296.9" width="0.8" height="0.8" fill="#f3e000" opacity="0.13"/>
<rect x="420.4" y="303.2" width="0.8" height="0.8" fill="#f3e000" opacity="0.17"/>
<rect x="423.0" y="298.5" width="0.8" height="0.8" fill="#f3e000" opacity="0.07"/>
<rect x="425.0" y="309.2" width="0.8" height="0.8" fill="#f3e000" opacity="0.06"/>
<rect x="423.6" y="297.4" width="0.8" height="0.8" fill="#f3e000" opacity="0.13"/>
<rect x="418.8" y="300.4" width="0.8" height="0.8" fill="#f3e000" opacity="0.13"/>
<rect x="437.8" y="323.5" width="0.8" height="0.8" fill="#f3e000" opacity="0.22"/>
<rect x="434.2" y="323.1" width="0.8" height="0.8" fill="#f3e000" opacity="0.41"/>
<rect x="432.5" y="307.5" width="0.8" height="0.8" fill="#f3e000" opacity="0.52"/>
<rect x="431.0" y="316.5" width="0.8" height="0.8" fill="#f3e000" opacity="0.27"/>
<rect x="430.9" y="312.8" width="0.8" height="0.8" fill="#f3e000" opacity="0.37"/>
<rect x="430.8" y="312.7" width="0.8" height="0.8" fill="#f3e000" opacity="0.37"/>
<rect x="435.7" y="310.3" width="0.8" height="0.8" fill="#f3e000" opacity="0.32"/>
<rect x="427.4" y="316.8" width="0.8" height="0.8" fill="#f3e000" opacity="0.53"/>
<rect x="431.7" y="307.3" width="0.8" height="0.8" fill="#f3e000" opacity="0.29"/>
<rect x="430.0" y="309.3" width="0.8" height="0.8" fill="#f3e000" opacity="0.47"/>
<rect x="425.3" y="325.6" width="0.8" height="0.8" fill="#f3e000" opacity="0.43"/>
<rect x="425.8" y="318.6" width="0.8" height="0.8" fill="#f3e000" opacity="0.47"/>
<rect x="420.9" y="313.4" width="0.8" height="0.8" fill="#f3e000" opacity="0.18"/>
<rect x="435.3" y="310.4" width="0.8" height="0.8" fill="#f3e000" opacity="0.36"/>
<rect x="431.8" y="313.4" width="0.8" height="0.8" fill="#f3e000" opacity="0.30"/>
<rect x="428.9" y="305.2" width="0.8" height="0.8" fill="#f3e000" opacity="0.31"/>
<rect x="436.0" y="315.9" width="0.8" height="0.8" fill="#f3e000" opacity="0.20"/>
<rect x="431.6" y="317.9" width="0.8" height="0.8" fill="#f3e000" opacity="0.39"/>
<rect x="429.2" y="320.4" width="0.8" height="0.8" fill="#f3e000" opacity="0.34"/>
<rect x="437.9" y="322.4" width="0.8" height="0.8" fill="#f3e000" opacity="0.48"/>
<rect x="426.6" y="313.8" width="0.8" height="0.8" fill="#f3e000" opacity="0.29"/>
<rect x="427.6" y="312.8" width="0.8" height="0.8" fill="#f3e000" opacity="0.53"/>
<rect x="436.4" y="313.5" width="0.8" height="0.8" fill="#f3e000" opacity="0.48"/>
<rect x="432.2" y="317.6" width="0.8" height="0.8" fill="#f3e000" opacity="0.30"/>
<rect x="433.3" y="320.7" width="0.8" height="0.8" fill="#f3e000" opacity="0.53"/>
<rect x="435.4" y="303.0" width="0.8" height="0.8" fill="#f3e000" opacity="0.26"/>
<rect x="430.6" y="317.5" width="0.8" height="0.8" fill="#f3e000" opacity="0.28"/>
<rect x="434.9" y="318.8" width="0.8" height="0.8" fill="#f3e000" opacity="0.29"/>
<rect x="428.2" y="309.3" width="0.8" height="0.8" fill="#f3e000" opacity="0.40"/>
<rect x="428.5" y="325.6" width="0.8" height="0.8" fill="#f3e000" opacity="0.43"/>
<rect x="429.5" y="309.5" width="0.8" height="0.8" fill="#f3e000" opacity="0.35"/>
<rect x="430.2" y="317.9" width="0.8" height="0.8" fill="#f3e000" opacity="0.35"/>
<rect x="428.6" y="313.6" width="0.8" height="0.8" fill="#f3e000" opacity="0.49"/>
<rect x="435.9" y="308.0" width="0.8" height="0.8" fill="#f3e000" opacity="0.47"/>
<rect x="428.1" y="316.5" width="0.8" height="0.8" fill="#f3e000" opacity="0.28"/>
<rect x="429.6" y="298.8" width="0.8" height="0.8" fill="#f3e000" opacity="0.22"/>
<rect x="434.1" y="316.4" width="0.8" height="0.8" fill="#f3e000" opacity="0.31"/>
<rect x="428.9" y="314.5" width="0.8" height="0.8" fill="#f3e000" opacity="0.48"/>
<rect x="427.6" y="367.4" width="0.8" height="0.8" fill="#f3e000" opacity="0.23"/>
<rect x="430.7" y="361.8" width="0.8" height="0.8" fill="#f3e000" opacity="0.41"/>
<rect x="426.2" y="354.8" width="0.8" height="0.8" fill="#f3e000" opacity="0.16"/>
<rect x="426.2" y="357.3" width="0.8" height="0.8" fill="#f3e000" opacity="0.42"/>
<rect x="432.8" y="358.4" width="0.8" height="0.8" fill="#f3e000" opacity="0.24"/>
<rect x="435.5" y="359.2" width="0.8" height="0.8" fill="#f3e000" opacity="0.41"/>
<rect x="431.4" y="360.2" width="0.8" height="0.8" fill="#f3e000" opacity="0.40"/>
<rect x="431.0" y="364.8" width="0.8" height="0.8" fill="#f3e000" opacity="0.24"/>
<rect x="424.6" y="354.4" width="0.8" height="0.8" fill="#f3e000" opacity="0.41"/>
<rect x="433.2" y="356.8" width="0.8" height="0.8" fill="#f3e000" opacity="0.37"/>
<rect x="434.8" y="359.7" width="0.8" height="0.8" fill="#f3e000" opacity="0.40"/>
<rect x="431.3" y="363.4" width="0.8" height="0.8" fill="#f3e000" opacity="0.30"/>
<rect x="431.8" y="366.1" width="0.8" height="0.8" fill="#f3e000" opacity="0.32"/>
<rect x="437.5" y="364.8" width="0.8" height="0.8" fill="#f3e000" opacity="0.16"/>
<rect x="430.4" y="355.4" width="0.8" height="0.8" fill="#f3e000" opacity="0.18"/>
<rect x="441.5" y="366.4" width="0.8" height="0.8" fill="#f3e000" opacity="0.36"/>
<rect x="425.7" y="361.2" width="0.8" height="0.8" fill="#f3e000" opacity="0.41"/>
<rect x="435.0" y="356.8" width="0.8" height="0.8" fill="#f3e000" opacity="0.22"/>
<rect x="422.1" y="357.8" width="0.8" height="0.8" fill="#f3e000" opacity="0.34"/>
<rect x="428.3" y="351.8" width="0.8" height="0.8" fill="#f3e000" opacity="0.25"/>
<rect x="425.4" y="356.1" width="0.8" height="0.8" fill="#f3e000" opacity="0.20"/>
<rect x="431.8" y="358.4" width="0.8" height="0.8" fill="#f3e000" opacity="0.29"/>
<rect x="429.7" y="358.1" width="0.8" height="0.8" fill="#f3e000" opacity="0.40"/>
<rect x="429.4" y="360.2" width="0.8" height="0.8" fill="#f3e000" opacity="0.26"/>
<rect x="425.7" y="301.4" width="0.8" height="0.8" fill="#e8f090" opacity="0.11"/>
<rect x="436.6" y="308.5" width="0.8" height="0.8" fill="#e8f090" opacity="0.14"/>
<rect x="429.8" y="313.2" width="0.8" height="0.8" fill="#e8f090" opacity="0.30"/>
<rect x="432.3" y="302.1" width="0.8" height="0.8" fill="#e8f090" opacity="0.11"/>
<rect x="430.3" y="297.5" width="0.8" height="0.8" fill="#e8f090" opacity="0.19"/>
<rect x="435.3" y="304.8" width="0.8" height="0.8" fill="#e8f090" opacity="0.16"/>
<rect x="418.2" y="296.9" width="0.8" height="0.8" fill="#e8f090" opacity="0.16"/>
<rect x="436.9" y="307.7" width="0.8" height="0.8" fill="#e8f090" opacity="0.13"/>
<rect x="431.0" y="309.4" width="0.8" height="0.8" fill="#e8f090" opacity="0.33"/>
<rect x="428.1" y="308.1" width="0.8" height="0.8" fill="#e8f090" opacity="0.21"/>
<rect x="432.7" y="308.5" width="0.8" height="0.8" fill="#e8f090" opacity="0.26"/>
<rect x="426.1" y="312.1" width="0.8" height="0.8" fill="#e8f090" opacity="0.15"/>
<rect x="435.7" y="308.3" width="0.8" height="0.8" fill="#e8f090" opacity="0.21"/>
<rect x="432.1" y="303.1" width="0.8" height="0.8" fill="#e8f090" opacity="0.27"/>
<rect x="427.8" y="300.0" width="0.8" height="0.8" fill="#e8f090" opacity="0.14"/>
<rect x="423.7" y="298.8" width="0.8" height="0.8" fill="#e8f090" opacity="0.21"/>
<rect x="422.7" y="305.5" width="0.8" height="0.8" fill="#e8f090" opacity="0.24"/>
<rect x="427.3" y="305.7" width="0.8" height="0.8" fill="#e8f090" opacity="0.21"/>
<rect x="420.0" y="301.0" width="0.8" height="0.8" fill="#e8f090" opacity="0.33"/>
<rect x="425.9" y="302.7" width="0.8" height="0.8" fill="#e8f090" opacity="0.16"/>
<rect x="424.5" y="298.3" width="0.8" height="0.8" fill="#e8f090" opacity="0.16"/>
<rect x="423.2" y="286.8" width="0.8" height="0.8" fill="#e8f090" opacity="0.20"/>
<rect x="435.0" y="302.2" width="0.8" height="0.8" fill="#e8f090" opacity="0.25"/>
<rect x="432.3" y="301.7" width="0.8" height="0.8" fill="#e8f090" opacity="0.19"/>
<rect x="431.9" y="304.0" width="0.8" height="0.8" fill="#e8f090" opacity="0.18"/>
<rect x="422.0" y="305.4" width="0.8" height="0.8" fill="#e8f090" opacity="0.25"/>
<rect x="436.7" y="301.1" width="0.8" height="0.8" fill="#e8f090" opacity="0.11"/>
<rect x="431.3" y="304.8" width="0.8" height="0.8" fill="#e8f090" opacity="0.20"/>
<rect x="436.0" y="305.2" width="0.8" height="0.8" fill="#e8f090" opacity="0.25"/>
<rect x="433.0" y="313.5" width="0.8" height="0.8" fill="#e8f090" opacity="0.20"/>
<rect x="434.6" y="303.0" width="0.8" height="0.8" fill="#e8f090" opacity="0.25"/>
<rect x="426.3" y="303.2" width="0.8" height="0.8" fill="#e8f090" opacity="0.28"/>
<rect x="433.8" y="304.3" width="0.8" height="0.8" fill="#e8f090" opacity="0.18"/>
<rect x="434.4" y="300.3" width="0.8" height="0.8" fill="#e8f090" opacity="0.12"/>
<rect x="428.0" y="310.7" width="0.8" height="0.8" fill="#e8f090" opacity="0.29"/>
<rect x="436.7" y="309.6" width="0.8" height="0.8" fill="#e8f090" opacity="0.20"/>
<rect x="425.0" y="303.4" width="0.8" height="0.8" fill="#e8f090" opacity="0.21"/>
<rect x="441.2" y="303.5" width="0.8" height="0.8" fill="#e8f090" opacity="0.31"/>
<rect x="429.4" y="296.5" width="0.8" height="0.8" fill="#e8f090" opacity="0.14"/>
<rect x="439.2" y="306.3" width="0.8" height="0.8" fill="#e8f090" opacity="0.26"/>
<rect x="427.9" y="300.9" width="0.8" height="0.8" fill="#1f7a44" opacity="0.28"/>
<rect x="432.7" y="301.0" width="0.8" height="0.8" fill="#1f7a44" opacity="0.19"/>
<rect x="428.2" y="304.9" width="0.8" height="0.8" fill="#1f7a44" opacity="0.20"/>
<rect x="435.7" y="301.9" width="0.8" height="0.8" fill="#1f7a44" opacity="0.47"/>
<rect x="432.6" y="302.8" width="0.8" height="0.8" fill="#1f7a44" opacity="0.22"/>
<rect x="428.8" y="297.6" width="0.8" height="0.8" fill="#1f7a44" opacity="0.46"/>
<rect x="430.0" y="301.3" width="0.8" height="0.8" fill="#1f7a44" opacity="0.18"/>
<rect x="434.2" y="305.7" width="0.8" height="0.8" fill="#1f7a44" opacity="0.48"/>
<rect x="427.5" y="302.5" width="0.8" height="0.8" fill="#1f7a44" opacity="0.49"/>
<rect x="431.4" y="304.4" width="0.8" height="0.8" fill="#1f7a44" opacity="0.18"/>
<rect x="432.5" y="302.4" width="0.8" height="0.8" fill="#1f7a44" opacity="0.46"/>
<rect x="430.8" y="299.1" width="0.8" height="0.8" fill="#1f7a44" opacity="0.54"/>
<rect x="430.6" y="296.2" width="0.8" height="0.8" fill="#1f7a44" opacity="0.53"/>
</g>
<text x="446.68" y="306.10" font-family="Liberation Sans, sans-serif" font-size="8.6" fill="#111" stroke="#111" stroke-width="0.2" textLength="18.77" lengthAdjust="spacingAndGlyphs">His51</text>
<g clip-path="url(#cp15)">
<g filter="url(#bl2)">
<ellipse cx="489.60" cy="304.70" rx="8.00" ry="9.60" fill="#f7ee70" opacity="0.45"/>
<ellipse cx="511.30" cy="308.20" rx="9.60" ry="6.40" fill="#f7ee70" opacity="0.34"/>
<ellipse cx="508.30" cy="305.20" rx="5.60" ry="5.60" fill="#d4eadc" opacity="0.32"/>
<ellipse cx="508.30" cy="305.20" rx="2.40" ry="2.40" fill="#b4dca0" opacity="0.14"/>
<ellipse cx="491.30" cy="362.20" rx="4.80" ry="3.20" fill="#f7ee70" opacity="0.32"/>
</g><g filter="url(#bl)">
<ellipse cx="489.60" cy="304.70" rx="4.25" ry="5.10" fill="#f3e000" opacity="0.90"/>
<ellipse cx="511.30" cy="308.20" rx="5.10" ry="3.40" fill="#f3e000" opacity="0.68"/>
<ellipse cx="508.30" cy="305.20" rx="2.98" ry="2.98" fill="#9ccab4" opacity="0.63"/>
<ellipse cx="508.30" cy="305.20" rx="1.27" ry="1.27" fill="#1f7a44" opacity="0.27"/>
<ellipse cx="491.30" cy="362.20" rx="2.55" ry="1.70" fill="#f3e000" opacity="0.63"/>
</g>
<rect x="497.6" y="310.1" width="0.8" height="0.8" fill="#f3e000" opacity="0.29"/>
<rect x="487.3" y="310.1" width="0.8" height="0.8" fill="#f3e000" opacity="0.60"/>
<rect x="495.1" y="307.3" width="0.8" height="0.8" fill="#f3e000" opacity="0.25"/>
<rect x="496.0" y="304.6" width="0.8" height="0.8" fill="#f3e000" opacity="0.48"/>
<rect x="480.3" y="303.3" width="0.8" height="0.8" fill="#f3e000" opacity="0.33"/>
<rect x="481.8" y="310.3" width="0.8" height="0.8" fill="#f3e000" opacity="0.48"/>
<rect x="493.2" y="301.0" width="0.8" height="0.8" fill="#f3e000" opacity="0.54"/>
<rect x="489.0" y="296.1" width="0.8" height="0.8" fill="#f3e000" opacity="0.36"/>
<rect x="487.6" y="303.6" width="0.8" height="0.8" fill="#f3e000" opacity="0.24"/>
<rect x="488.5" y="307.8" width="0.8" height="0.8" fill="#f3e000" opacity="0.22"/>
<rect x="487.8" y="294.2" width="0.8" height="0.8" fill="#f3e000" opacity="0.45"/>
<rect x="492.0" y="314.9" width="0.8" height="0.8" fill="#f3e000" opacity="0.53"/>
<rect x="486.7" y="301.5" width="0.8" height="0.8" fill="#f3e000" opacity="0.43"/>
<rect x="486.2" y="307.9" width="0.8" height="0.8" fill="#f3e000" opacity="0.26"/>
<rect x="494.7" y="297.7" width="0.8" height="0.8" fill="#f3e000" opacity="0.57"/>
<rect x="491.6" y="309.3" width="0.8" height="0.8" fill="#f3e000" opacity="0.40"/>
<rect x="493.9" y="306.7" width="0.8" height="0.8" fill="#f3e000" opacity="0.42"/>
<rect x="477.6" y="306.4" width="0.8" height="0.8" fill="#f3e000" opacity="0.43"/>
<rect x="484.9" y="298.0" width="0.8" height="0.8" fill="#f3e000" opacity="0.51"/>
<rect x="489.5" y="304.9" width="0.8" height="0.8" fill="#f3e000" opacity="0.59"/>
<rect x="490.4" y="301.4" width="0.8" height="0.8" fill="#f3e000" opacity="0.24"/>
<rect x="491.0" y="314.2" width="0.8" height="0.8" fill="#f3e000" opacity="0.25"/>
<rect x="496.0" y="305.7" width="0.8" height="0.8" fill="#f3e000" opacity="0.20"/>
<rect x="489.3" y="311.2" width="0.8" height="0.8" fill="#f3e000" opacity="0.28"/>
<rect x="493.9" y="304.8" width="0.8" height="0.8" fill="#f3e000" opacity="0.30"/>
<rect x="487.0" y="310.8" width="0.8" height="0.8" fill="#f3e000" opacity="0.34"/>
<rect x="489.1" y="305.9" width="0.8" height="0.8" fill="#f3e000" opacity="0.53"/>
<rect x="489.1" y="297.0" width="0.8" height="0.8" fill="#f3e000" opacity="0.20"/>
<rect x="490.8" y="318.8" width="0.8" height="0.8" fill="#f3e000" opacity="0.38"/>
<rect x="492.4" y="316.4" width="0.8" height="0.8" fill="#f3e000" opacity="0.56"/>
<rect x="494.3" y="310.1" width="0.8" height="0.8" fill="#f3e000" opacity="0.42"/>
<rect x="493.2" y="308.6" width="0.8" height="0.8" fill="#f3e000" opacity="0.45"/>
<rect x="486.0" y="296.5" width="0.8" height="0.8" fill="#f3e000" opacity="0.45"/>
<rect x="488.1" y="306.4" width="0.8" height="0.8" fill="#f3e000" opacity="0.21"/>
<rect x="495.4" y="293.4" width="0.8" height="0.8" fill="#f3e000" opacity="0.56"/>
<rect x="498.0" y="309.9" width="0.8" height="0.8" fill="#f3e000" opacity="0.27"/>
<rect x="487.5" y="308.3" width="0.8" height="0.8" fill="#f3e000" opacity="0.54"/>
<rect x="494.0" y="293.4" width="0.8" height="0.8" fill="#f3e000" opacity="0.35"/>
<rect x="493.5" y="302.7" width="0.8" height="0.8" fill="#f3e000" opacity="0.43"/>
<rect x="487.7" y="300.4" width="0.8" height="0.8" fill="#f3e000" opacity="0.35"/>
<rect x="497.5" y="311.6" width="0.8" height="0.8" fill="#f3e000" opacity="0.27"/>
<rect x="492.5" y="308.7" width="0.8" height="0.8" fill="#f3e000" opacity="0.46"/>
<rect x="485.2" y="298.6" width="0.8" height="0.8" fill="#f3e000" opacity="0.54"/>
<rect x="489.7" y="300.2" width="0.8" height="0.8" fill="#f3e000" opacity="0.41"/>
<rect x="491.6" y="309.0" width="0.8" height="0.8" fill="#f3e000" opacity="0.26"/>
<rect x="494.1" y="307.6" width="0.8" height="0.8" fill="#f3e000" opacity="0.55"/>
<rect x="488.3" y="302.3" width="0.8" height="0.8" fill="#f3e000" opacity="0.29"/>
<rect x="483.9" y="300.3" width="0.8" height="0.8" fill="#f3e000" opacity="0.21"/>
<rect x="495.5" y="309.4" width="0.8" height="0.8" fill="#f3e000" opacity="0.44"/>
<rect x="497.9" y="310.2" width="0.8" height="0.8" fill="#f3e000" opacity="0.30"/>
<rect x="483.9" y="300.4" width="0.8" height="0.8" fill="#f3e000" opacity="0.34"/>
<rect x="494.8" y="302.5" width="0.8" height="0.8" fill="#f3e000" opacity="0.37"/>
<rect x="479.4" y="301.5" width="0.8" height="0.8" fill="#f3e000" opacity="0.60"/>
<rect x="490.4" y="296.6" width="0.8" height="0.8" fill="#f3e000" opacity="0.49"/>
<rect x="480.6" y="292.0" width="0.8" height="0.8" fill="#f3e000" opacity="0.59"/>
<rect x="489.8" y="300.1" width="0.8" height="0.8" fill="#f3e000" opacity="0.43"/>
<rect x="485.9" y="306.5" width="0.8" height="0.8" fill="#f3e000" opacity="0.51"/>
<rect x="491.2" y="314.9" width="0.8" height="0.8" fill="#f3e000" opacity="0.40"/>
<rect x="481.9" y="309.3" width="0.8" height="0.8" fill="#f3e000" opacity="0.49"/>
<rect x="509.9" y="303.1" width="0.8" height="0.8" fill="#f3e000" opacity="0.52"/>
<rect x="510.4" y="314.7" width="0.8" height="0.8" fill="#f3e000" opacity="0.30"/>
<rect x="518.0" y="306.4" width="0.8" height="0.8" fill="#f3e000" opacity="0.26"/>
<rect x="518.6" y="309.0" width="0.8" height="0.8" fill="#f3e000" opacity="0.31"/>
<rect x="510.2" y="310.1" width="0.8" height="0.8" fill="#f3e000" opacity="0.30"/>
<rect x="515.0" y="309.4" width="0.8" height="0.8" fill="#f3e000" opacity="0.28"/>
<rect x="506.8" y="312.4" width="0.8" height="0.8" fill="#f3e000" opacity="0.31"/>
<rect x="508.6" y="309.7" width="0.8" height="0.8" fill="#f3e000" opacity="0.16"/>
<rect x="495.0" y="303.9" width="0.8" height="0.8" fill="#f3e000" opacity="0.23"/>
<rect x="507.8" y="311.3" width="0.8" height="0.8" fill="#f3e000" opacity="0.37"/>
<rect x="499.5" y="308.5" width="0.8" height="0.8" fill="#f3e000" opacity="0.15"/>
<rect x="514.3" y="310.4" width="0.8" height="0.8" fill="#f3e000" opacity="0.26"/>
<rect x="506.0" y="310.8" width="0.8" height="0.8" fill="#f3e000" opacity="0.44"/>
<rect x="503.3" y="310.3" width="0.8" height="0.8" fill="#f3e000" opacity="0.44"/>
<rect x="505.7" y="303.6" width="0.8" height="0.8" fill="#f3e000" opacity="0.40"/>
<rect x="510.4" y="309.2" width="0.8" height="0.8" fill="#f3e000" opacity="0.44"/>
<rect x="502.8" y="307.0" width="0.8" height="0.8" fill="#f3e000" opacity="0.17"/>
<rect x="511.1" y="303.9" width="0.8" height="0.8" fill="#f3e000" opacity="0.34"/>
<rect x="508.2" y="317.8" width="0.8" height="0.8" fill="#f3e000" opacity="0.26"/>
<rect x="509.1" y="317.4" width="0.8" height="0.8" fill="#f3e000" opacity="0.22"/>
<rect x="510.3" y="313.2" width="0.8" height="0.8" fill="#f3e000" opacity="0.44"/>
<rect x="514.7" y="310.2" width="0.8" height="0.8" fill="#f3e000" opacity="0.39"/>
<rect x="517.4" y="310.3" width="0.8" height="0.8" fill="#f3e000" opacity="0.38"/>
<rect x="508.6" y="300.6" width="0.8" height="0.8" fill="#f3e000" opacity="0.19"/>
<rect x="516.1" y="305.6" width="0.8" height="0.8" fill="#f3e000" opacity="0.39"/>
<rect x="497.6" y="309.8" width="0.8" height="0.8" fill="#f3e000" opacity="0.29"/>
<rect x="511.1" y="310.7" width="0.8" height="0.8" fill="#f3e000" opacity="0.30"/>
<rect x="515.1" y="309.0" width="0.8" height="0.8" fill="#f3e000" opacity="0.41"/>
<rect x="499.5" y="304.3" width="0.8" height="0.8" fill="#f3e000" opacity="0.20"/>
<rect x="503.9" y="308.8" width="0.8" height="0.8" fill="#f3e000" opacity="0.18"/>
<rect x="510.0" y="318.1" width="0.8" height="0.8" fill="#f3e000" opacity="0.37"/>
<rect x="502.3" y="307.9" width="0.8" height="0.8" fill="#f3e000" opacity="0.41"/>
<rect x="519.8" y="306.5" width="0.8" height="0.8" fill="#f3e000" opacity="0.17"/>
<rect x="514.0" y="306.3" width="0.8" height="0.8" fill="#f3e000" opacity="0.22"/>
<rect x="516.5" y="312.2" width="0.8" height="0.8" fill="#f3e000" opacity="0.32"/>
<rect x="504.1" y="309.4" width="0.8" height="0.8" fill="#f3e000" opacity="0.19"/>
<rect x="509.7" y="302.8" width="0.8" height="0.8" fill="#f3e000" opacity="0.24"/>
<rect x="519.1" y="299.2" width="0.8" height="0.8" fill="#f3e000" opacity="0.43"/>
<rect x="513.8" y="308.0" width="0.8" height="0.8" fill="#f3e000" opacity="0.27"/>
<rect x="506.5" y="309.2" width="0.8" height="0.8" fill="#f3e000" opacity="0.37"/>
<rect x="514.3" y="306.8" width="0.8" height="0.8" fill="#f3e000" opacity="0.30"/>
<rect x="524.8" y="306.3" width="0.8" height="0.8" fill="#f3e000" opacity="0.29"/>
<rect x="517.1" y="311.2" width="0.8" height="0.8" fill="#f3e000" opacity="0.31"/>
<rect x="512.2" y="305.4" width="0.8" height="0.8" fill="#f3e000" opacity="0.23"/>
<rect x="512.3" y="308.1" width="0.8" height="0.8" fill="#f3e000" opacity="0.33"/>
<rect x="520.4" y="312.3" width="0.8" height="0.8" fill="#f3e000" opacity="0.28"/>
<rect x="515.5" y="306.8" width="0.8" height="0.8" fill="#f3e000" opacity="0.41"/>
<rect x="511.6" y="309.6" width="0.8" height="0.8" fill="#f3e000" opacity="0.18"/>
<rect x="517.1" y="310.2" width="0.8" height="0.8" fill="#f3e000" opacity="0.44"/>
<rect x="504.6" y="310.0" width="0.8" height="0.8" fill="#9ccab4" opacity="0.15"/>
<rect x="503.5" y="304.7" width="0.8" height="0.8" fill="#9ccab4" opacity="0.17"/>
<rect x="504.6" y="303.2" width="0.8" height="0.8" fill="#9ccab4" opacity="0.23"/>
<rect x="511.2" y="300.0" width="0.8" height="0.8" fill="#9ccab4" opacity="0.17"/>
<rect x="509.3" y="306.0" width="0.8" height="0.8" fill="#9ccab4" opacity="0.21"/>
<rect x="501.7" y="297.5" width="0.8" height="0.8" fill="#9ccab4" opacity="0.41"/>
<rect x="509.6" y="303.7" width="0.8" height="0.8" fill="#9ccab4" opacity="0.36"/>
<rect x="508.6" y="300.9" width="0.8" height="0.8" fill="#9ccab4" opacity="0.42"/>
<rect x="506.7" y="304.1" width="0.8" height="0.8" fill="#9ccab4" opacity="0.20"/>
<rect x="511.9" y="309.0" width="0.8" height="0.8" fill="#9ccab4" opacity="0.31"/>
<rect x="508.6" y="304.8" width="0.8" height="0.8" fill="#9ccab4" opacity="0.14"/>
<rect x="511.3" y="304.7" width="0.8" height="0.8" fill="#9ccab4" opacity="0.21"/>
<rect x="509.6" y="303.8" width="0.8" height="0.8" fill="#9ccab4" opacity="0.36"/>
<rect x="512.2" y="302.2" width="0.8" height="0.8" fill="#9ccab4" opacity="0.31"/>
<rect x="513.6" y="305.4" width="0.8" height="0.8" fill="#9ccab4" opacity="0.31"/>
<rect x="508.9" y="300.6" width="0.8" height="0.8" fill="#9ccab4" opacity="0.17"/>
<rect x="509.3" y="310.7" width="0.8" height="0.8" fill="#9ccab4" opacity="0.16"/>
<rect x="510.6" y="307.0" width="0.8" height="0.8" fill="#9ccab4" opacity="0.36"/>
<rect x="504.8" y="304.2" width="0.8" height="0.8" fill="#9ccab4" opacity="0.41"/>
<rect x="505.8" y="303.8" width="0.8" height="0.8" fill="#9ccab4" opacity="0.30"/>
<rect x="510.6" y="302.3" width="0.8" height="0.8" fill="#9ccab4" opacity="0.26"/>
<rect x="498.3" y="299.9" width="0.8" height="0.8" fill="#9ccab4" opacity="0.32"/>
<rect x="510.4" y="309.8" width="0.8" height="0.8" fill="#9ccab4" opacity="0.23"/>
<rect x="502.3" y="306.2" width="0.8" height="0.8" fill="#9ccab4" opacity="0.15"/>
<rect x="506.9" y="305.1" width="0.8" height="0.8" fill="#1f7a44" opacity="0.13"/>
<rect x="509.1" y="303.5" width="0.8" height="0.8" fill="#1f7a44" opacity="0.14"/>
<rect x="508.0" y="306.4" width="0.8" height="0.8" fill="#1f7a44" opacity="0.12"/>
<rect x="507.2" y="305.0" width="0.8" height="0.8" fill="#1f7a44" opacity="0.15"/>
<rect x="488.2" y="362.2" width="0.8" height="0.8" fill="#f3e000" opacity="0.21"/>
<rect x="495.0" y="358.1" width="0.8" height="0.8" fill="#f3e000" opacity="0.40"/>
<rect x="491.3" y="363.0" width="0.8" height="0.8" fill="#f3e000" opacity="0.32"/>
<rect x="497.7" y="362.9" width="0.8" height="0.8" fill="#f3e000" opacity="0.33"/>
<rect x="489.5" y="364.2" width="0.8" height="0.8" fill="#f3e000" opacity="0.33"/>
<rect x="493.0" y="364.0" width="0.8" height="0.8" fill="#f3e000" opacity="0.36"/>
<rect x="489.5" y="359.6" width="0.8" height="0.8" fill="#f3e000" opacity="0.17"/>
<rect x="491.8" y="363.9" width="0.8" height="0.8" fill="#f3e000" opacity="0.15"/>
<rect x="488.6" y="360.0" width="0.8" height="0.8" fill="#f3e000" opacity="0.40"/>
<rect x="484.3" y="360.5" width="0.8" height="0.8" fill="#f3e000" opacity="0.27"/>
<rect x="488.6" y="362.0" width="0.8" height="0.8" fill="#f3e000" opacity="0.27"/>
<rect x="494.8" y="361.2" width="0.8" height="0.8" fill="#f3e000" opacity="0.14"/>
</g>
<text x="520.90" y="306.10" font-family="Liberation Sans, sans-serif" font-size="8.6" fill="#111" stroke="#111" stroke-width="0.2" textLength="19.19" lengthAdjust="spacingAndGlyphs">Tyr52</text>
<line x1="131.75" y1="296.20" x2="131.75" y2="294.40" stroke="#555" stroke-width="0.55"/>
<line x1="131.75" y1="230.40" x2="131.75" y2="232.20" stroke="#555" stroke-width="0.55"/>
<line x1="113.20" y1="246.85" x2="115.00" y2="246.85" stroke="#555" stroke-width="0.55"/>
<line x1="187.42" y1="246.85" x2="185.62" y2="246.85" stroke="#555" stroke-width="0.55"/>
<line x1="150.31" y1="296.20" x2="150.31" y2="294.40" stroke="#555" stroke-width="0.55"/>
<line x1="150.31" y1="230.40" x2="150.31" y2="232.20" stroke="#555" stroke-width="0.55"/>
<line x1="113.20" y1="263.30" x2="115.00" y2="263.30" stroke="#555" stroke-width="0.55"/>
<line x1="187.42" y1="263.30" x2="185.62" y2="263.30" stroke="#555" stroke-width="0.55"/>
<line x1="168.87" y1="296.20" x2="168.87" y2="294.40" stroke="#555" stroke-width="0.55"/>
<line x1="168.87" y1="230.40" x2="168.87" y2="232.20" stroke="#555" stroke-width="0.55"/>
<line x1="113.20" y1="279.75" x2="115.00" y2="279.75" stroke="#555" stroke-width="0.55"/>
<line x1="187.42" y1="279.75" x2="185.62" y2="279.75" stroke="#555" stroke-width="0.55"/>
<line x1="205.98" y1="296.20" x2="205.98" y2="294.40" stroke="#555" stroke-width="0.55"/>
<line x1="205.98" y1="230.40" x2="205.98" y2="232.20" stroke="#555" stroke-width="0.55"/>
<line x1="187.42" y1="246.85" x2="189.22" y2="246.85" stroke="#555" stroke-width="0.55"/>
<line x1="261.64" y1="246.85" x2="259.84" y2="246.85" stroke="#555" stroke-width="0.55"/>
<line x1="224.53" y1="296.20" x2="224.53" y2="294.40" stroke="#555" stroke-width="0.55"/>
<line x1="224.53" y1="230.40" x2="224.53" y2="232.20" stroke="#555" stroke-width="0.55"/>
<line x1="187.42" y1="263.30" x2="189.22" y2="263.30" stroke="#555" stroke-width="0.55"/>
<line x1="261.64" y1="263.30" x2="259.84" y2="263.30" stroke="#555" stroke-width="0.55"/>
<line x1="243.09" y1="296.20" x2="243.09" y2="294.40" stroke="#555" stroke-width="0.55"/>
<line x1="243.09" y1="230.40" x2="243.09" y2="232.20" stroke="#555" stroke-width="0.55"/>
<line x1="187.42" y1="279.75" x2="189.22" y2="279.75" stroke="#555" stroke-width="0.55"/>
<line x1="261.64" y1="279.75" x2="259.84" y2="279.75" stroke="#555" stroke-width="0.55"/>
<line x1="280.19" y1="296.20" x2="280.19" y2="294.40" stroke="#555" stroke-width="0.55"/>
<line x1="280.19" y1="230.40" x2="280.19" y2="232.20" stroke="#555" stroke-width="0.55"/>
<line x1="261.64" y1="246.85" x2="263.44" y2="246.85" stroke="#555" stroke-width="0.55"/>
<line x1="335.86" y1="246.85" x2="334.06" y2="246.85" stroke="#555" stroke-width="0.55"/>
<line x1="298.75" y1="296.20" x2="298.75" y2="294.40" stroke="#555" stroke-width="0.55"/>
<line x1="298.75" y1="230.40" x2="298.75" y2="232.20" stroke="#555" stroke-width="0.55"/>
<line x1="261.64" y1="263.30" x2="263.44" y2="263.30" stroke="#555" stroke-width="0.55"/>
<line x1="335.86" y1="263.30" x2="334.06" y2="263.30" stroke="#555" stroke-width="0.55"/>
<line x1="317.31" y1="296.20" x2="317.31" y2="294.40" stroke="#555" stroke-width="0.55"/>
<line x1="317.31" y1="230.40" x2="317.31" y2="232.20" stroke="#555" stroke-width="0.55"/>
<line x1="261.64" y1="279.75" x2="263.44" y2="279.75" stroke="#555" stroke-width="0.55"/>
<line x1="335.86" y1="279.75" x2="334.06" y2="279.75" stroke="#555" stroke-width="0.55"/>
<line x1="354.42" y1="296.20" x2="354.42" y2="294.40" stroke="#555" stroke-width="0.55"/>
<line x1="354.42" y1="230.40" x2="354.42" y2="232.20" stroke="#555" stroke-width="0.55"/>
<line x1="335.86" y1="246.85" x2="337.66" y2="246.85" stroke="#555" stroke-width="0.55"/>
<line x1="410.08" y1="246.85" x2="408.28" y2="246.85" stroke="#555" stroke-width="0.55"/>
<line x1="372.97" y1="296.20" x2="372.97" y2="294.40" stroke="#555" stroke-width="0.55"/>
<line x1="372.97" y1="230.40" x2="372.97" y2="232.20" stroke="#555" stroke-width="0.55"/>
<line x1="335.86" y1="263.30" x2="337.66" y2="263.30" stroke="#555" stroke-width="0.55"/>
<line x1="410.08" y1="263.30" x2="408.28" y2="263.30" stroke="#555" stroke-width="0.55"/>
<line x1="391.53" y1="296.20" x2="391.53" y2="294.40" stroke="#555" stroke-width="0.55"/>
<line x1="391.53" y1="230.40" x2="391.53" y2="232.20" stroke="#555" stroke-width="0.55"/>
<line x1="335.86" y1="279.75" x2="337.66" y2="279.75" stroke="#555" stroke-width="0.55"/>
<line x1="410.08" y1="279.75" x2="408.28" y2="279.75" stroke="#555" stroke-width="0.55"/>
<line x1="428.63" y1="296.20" x2="428.63" y2="294.40" stroke="#555" stroke-width="0.55"/>
<line x1="428.63" y1="230.40" x2="428.63" y2="232.20" stroke="#555" stroke-width="0.55"/>
<line x1="410.08" y1="246.85" x2="411.88" y2="246.85" stroke="#555" stroke-width="0.55"/>
<line x1="484.30" y1="246.85" x2="482.50" y2="246.85" stroke="#555" stroke-width="0.55"/>
<line x1="447.19" y1="296.20" x2="447.19" y2="294.40" stroke="#555" stroke-width="0.55"/>
<line x1="447.19" y1="230.40" x2="447.19" y2="232.20" stroke="#555" stroke-width="0.55"/>
<line x1="410.08" y1="263.30" x2="411.88" y2="263.30" stroke="#555" stroke-width="0.55"/>
<line x1="484.30" y1="263.30" x2="482.50" y2="263.30" stroke="#555" stroke-width="0.55"/>
<line x1="465.75" y1="296.20" x2="465.75" y2="294.40" stroke="#555" stroke-width="0.55"/>
<line x1="465.75" y1="230.40" x2="465.75" y2="232.20" stroke="#555" stroke-width="0.55"/>
<line x1="410.08" y1="279.75" x2="411.88" y2="279.75" stroke="#555" stroke-width="0.55"/>
<line x1="484.30" y1="279.75" x2="482.50" y2="279.75" stroke="#555" stroke-width="0.55"/>
<line x1="502.86" y1="296.20" x2="502.86" y2="294.40" stroke="#555" stroke-width="0.55"/>
<line x1="502.86" y1="230.40" x2="502.86" y2="232.20" stroke="#555" stroke-width="0.55"/>
<line x1="484.30" y1="246.85" x2="486.10" y2="246.85" stroke="#555" stroke-width="0.55"/>
<line x1="558.52" y1="246.85" x2="556.72" y2="246.85" stroke="#555" stroke-width="0.55"/>
<line x1="521.41" y1="296.20" x2="521.41" y2="294.40" stroke="#555" stroke-width="0.55"/>
<line x1="521.41" y1="230.40" x2="521.41" y2="232.20" stroke="#555" stroke-width="0.55"/>
<line x1="484.30" y1="263.30" x2="486.10" y2="263.30" stroke="#555" stroke-width="0.55"/>
<line x1="558.52" y1="263.30" x2="556.72" y2="263.30" stroke="#555" stroke-width="0.55"/>
<line x1="539.97" y1="296.20" x2="539.97" y2="294.40" stroke="#555" stroke-width="0.55"/>
<line x1="539.97" y1="230.40" x2="539.97" y2="232.20" stroke="#555" stroke-width="0.55"/>
<line x1="484.30" y1="279.75" x2="486.10" y2="279.75" stroke="#555" stroke-width="0.55"/>
<line x1="558.52" y1="279.75" x2="556.72" y2="279.75" stroke="#555" stroke-width="0.55"/>
<line x1="131.75" y1="362.00" x2="131.75" y2="360.20" stroke="#555" stroke-width="0.55"/>
<line x1="131.75" y1="296.20" x2="131.75" y2="298.00" stroke="#555" stroke-width="0.55"/>
<line x1="113.20" y1="312.65" x2="115.00" y2="312.65" stroke="#555" stroke-width="0.55"/>
<line x1="187.42" y1="312.65" x2="185.62" y2="312.65" stroke="#555" stroke-width="0.55"/>
<line x1="150.31" y1="362.00" x2="150.31" y2="360.20" stroke="#555" stroke-width="0.55"/>
<line x1="150.31" y1="296.20" x2="150.31" y2="298.00" stroke="#555" stroke-width="0.55"/>
<line x1="113.20" y1="329.10" x2="115.00" y2="329.10" stroke="#555" stroke-width="0.55"/>
<line x1="187.42" y1="329.10" x2="185.62" y2="329.10" stroke="#555" stroke-width="0.55"/>
<line x1="168.87" y1="362.00" x2="168.87" y2="360.20" stroke="#555" stroke-width="0.55"/>
<line x1="168.87" y1="296.20" x2="168.87" y2="298.00" stroke="#555" stroke-width="0.55"/>
<line x1="113.20" y1="345.55" x2="115.00" y2="345.55" stroke="#555" stroke-width="0.55"/>
<line x1="187.42" y1="345.55" x2="185.62" y2="345.55" stroke="#555" stroke-width="0.55"/>
<line x1="205.98" y1="362.00" x2="205.98" y2="360.20" stroke="#555" stroke-width="0.55"/>
<line x1="205.98" y1="296.20" x2="205.98" y2="298.00" stroke="#555" stroke-width="0.55"/>
<line x1="187.42" y1="312.65" x2="189.22" y2="312.65" stroke="#555" stroke-width="0.55"/>
<line x1="261.64" y1="312.65" x2="259.84" y2="312.65" stroke="#555" stroke-width="0.55"/>
<line x1="224.53" y1="362.00" x2="224.53" y2="360.20" stroke="#555" stroke-width="0.55"/>
<line x1="224.53" y1="296.20" x2="224.53" y2="298.00" stroke="#555" stroke-width="0.55"/>
<line x1="187.42" y1="329.10" x2="189.22" y2="329.10" stroke="#555" stroke-width="0.55"/>
<line x1="261.64" y1="329.10" x2="259.84" y2="329.10" stroke="#555" stroke-width="0.55"/>
<line x1="243.09" y1="362.00" x2="243.09" y2="360.20" stroke="#555" stroke-width="0.55"/>
<line x1="243.09" y1="296.20" x2="243.09" y2="298.00" stroke="#555" stroke-width="0.55"/>
<line x1="187.42" y1="345.55" x2="189.22" y2="345.55" stroke="#555" stroke-width="0.55"/>
<line x1="261.64" y1="345.55" x2="259.84" y2="345.55" stroke="#555" stroke-width="0.55"/>
<line x1="280.19" y1="362.00" x2="280.19" y2="360.20" stroke="#555" stroke-width="0.55"/>
<line x1="280.19" y1="296.20" x2="280.19" y2="298.00" stroke="#555" stroke-width="0.55"/>
<line x1="261.64" y1="312.65" x2="263.44" y2="312.65" stroke="#555" stroke-width="0.55"/>
<line x1="335.86" y1="312.65" x2="334.06" y2="312.65" stroke="#555" stroke-width="0.55"/>
<line x1="298.75" y1="362.00" x2="298.75" y2="360.20" stroke="#555" stroke-width="0.55"/>
<line x1="298.75" y1="296.20" x2="298.75" y2="298.00" stroke="#555" stroke-width="0.55"/>
<line x1="261.64" y1="329.10" x2="263.44" y2="329.10" stroke="#555" stroke-width="0.55"/>
<line x1="335.86" y1="329.10" x2="334.06" y2="329.10" stroke="#555" stroke-width="0.55"/>
<line x1="317.31" y1="362.00" x2="317.31" y2="360.20" stroke="#555" stroke-width="0.55"/>
<line x1="317.31" y1="296.20" x2="317.31" y2="298.00" stroke="#555" stroke-width="0.55"/>
<line x1="261.64" y1="345.55" x2="263.44" y2="345.55" stroke="#555" stroke-width="0.55"/>
<line x1="335.86" y1="345.55" x2="334.06" y2="345.55" stroke="#555" stroke-width="0.55"/>
<line x1="354.42" y1="362.00" x2="354.42" y2="360.20" stroke="#555" stroke-width="0.55"/>
<line x1="354.42" y1="296.20" x2="354.42" y2="298.00" stroke="#555" stroke-width="0.55"/>
<line x1="335.86" y1="312.65" x2="337.66" y2="312.65" stroke="#555" stroke-width="0.55"/>
<line x1="410.08" y1="312.65" x2="408.28" y2="312.65" stroke="#555" stroke-width="0.55"/>
<line x1="372.97" y1="362.00" x2="372.97" y2="360.20" stroke="#555" stroke-width="0.55"/>
<line x1="372.97" y1="296.20" x2="372.97" y2="298.00" stroke="#555" stroke-width="0.55"/>
<line x1="335.86" y1="329.10" x2="337.66" y2="329.10" stroke="#555" stroke-width="0.55"/>
<line x1="410.08" y1="329.10" x2="408.28" y2="329.10" stroke="#555" stroke-width="0.55"/>
<line x1="391.53" y1="362.00" x2="391.53" y2="360.20" stroke="#555" stroke-width="0.55"/>
<line x1="391.53" y1="296.20" x2="391.53" y2="298.00" stroke="#555" stroke-width="0.55"/>
<line x1="335.86" y1="345.55" x2="337.66" y2="345.55" stroke="#555" stroke-width="0.55"/>
<line x1="410.08" y1="345.55" x2="408.28" y2="345.55" stroke="#555" stroke-width="0.55"/>
<line x1="428.63" y1="362.00" x2="428.63" y2="360.20" stroke="#555" stroke-width="0.55"/>
<line x1="428.63" y1="296.20" x2="428.63" y2="298.00" stroke="#555" stroke-width="0.55"/>
<line x1="410.08" y1="312.65" x2="411.88" y2="312.65" stroke="#555" stroke-width="0.55"/>
<line x1="484.30" y1="312.65" x2="482.50" y2="312.65" stroke="#555" stroke-width="0.55"/>
<line x1="447.19" y1="362.00" x2="447.19" y2="360.20" stroke="#555" stroke-width="0.55"/>
<line x1="447.19" y1="296.20" x2="447.19" y2="298.00" stroke="#555" stroke-width="0.55"/>
<line x1="410.08" y1="329.10" x2="411.88" y2="329.10" stroke="#555" stroke-width="0.55"/>
<line x1="484.30" y1="329.10" x2="482.50" y2="329.10" stroke="#555" stroke-width="0.55"/>
<line x1="465.75" y1="362.00" x2="465.75" y2="360.20" stroke="#555" stroke-width="0.55"/>
<line x1="465.75" y1="296.20" x2="465.75" y2="298.00" stroke="#555" stroke-width="0.55"/>
<line x1="410.08" y1="345.55" x2="411.88" y2="345.55" stroke="#555" stroke-width="0.55"/>
<line x1="484.30" y1="345.55" x2="482.50" y2="345.55" stroke="#555" stroke-width="0.55"/>
<line x1="502.86" y1="362.00" x2="502.86" y2="360.20" stroke="#555" stroke-width="0.55"/>
<line x1="502.86" y1="296.20" x2="502.86" y2="298.00" stroke="#555" stroke-width="0.55"/>
<line x1="484.30" y1="312.65" x2="486.10" y2="312.65" stroke="#555" stroke-width="0.55"/>
<line x1="558.52" y1="312.65" x2="556.72" y2="312.65" stroke="#555" stroke-width="0.55"/>
<line x1="521.41" y1="362.00" x2="521.41" y2="360.20" stroke="#555" stroke-width="0.55"/>
<line x1="521.41" y1="296.20" x2="521.41" y2="298.00" stroke="#555" stroke-width="0.55"/>
<line x1="484.30" y1="329.10" x2="486.10" y2="329.10" stroke="#555" stroke-width="0.55"/>
<line x1="558.52" y1="329.10" x2="556.72" y2="329.10" stroke="#555" stroke-width="0.55"/>
<line x1="539.97" y1="362.00" x2="539.97" y2="360.20" stroke="#555" stroke-width="0.55"/>
<line x1="539.97" y1="296.20" x2="539.97" y2="298.00" stroke="#555" stroke-width="0.55"/>
<line x1="484.30" y1="345.55" x2="486.10" y2="345.55" stroke="#555" stroke-width="0.55"/>
<line x1="558.52" y1="345.55" x2="556.72" y2="345.55" stroke="#555" stroke-width="0.55"/>
<rect x="113.20" y="230.40" width="445.32" height="131.60" fill="none" stroke="#7a7a7a" stroke-width="1"/>
<line x1="187.42" y1="230.40" x2="187.42" y2="362.00" stroke="#474747" stroke-width="1"/>
<line x1="261.64" y1="230.40" x2="261.64" y2="362.00" stroke="#474747" stroke-width="1"/>
<line x1="335.86" y1="230.40" x2="335.86" y2="362.00" stroke="#474747" stroke-width="1"/>
<line x1="410.08" y1="230.40" x2="410.08" y2="362.00" stroke="#474747" stroke-width="1"/>
<line x1="484.30" y1="230.40" x2="484.30" y2="362.00" stroke="#474747" stroke-width="1"/>
<line x1="113.20" y1="296.20" x2="558.52" y2="296.20" stroke="#474747" stroke-width="1"/>
<text x="111.90" y="232.40" font-family="Liberation Sans, sans-serif" font-size="5.8" fill="#222" text-anchor="end">180</text>
<text x="111.90" y="248.85" font-family="Liberation Sans, sans-serif" font-size="5.8" fill="#222" text-anchor="end">90</text>
<text x="111.90" y="265.30" font-family="Liberation Sans, sans-serif" font-size="5.8" fill="#222" text-anchor="end">0</text>
<text x="111.90" y="281.75" font-family="Liberation Sans, sans-serif" font-size="5.8" fill="#222" text-anchor="end">−90</text>
<text x="111.90" y="298.20" font-family="Liberation Sans, sans-serif" font-size="5.8" fill="#222" text-anchor="end">180</text>
<text x="111.90" y="314.65" font-family="Liberation Sans, sans-serif" font-size="5.8" fill="#222" text-anchor="end">90</text>
<text x="111.90" y="331.10" font-family="Liberation Sans, sans-serif" font-size="5.8" fill="#222" text-anchor="end">0</text>
<text x="111.90" y="347.55" font-family="Liberation Sans, sans-serif" font-size="5.8" fill="#222" text-anchor="end">−90</text>
<text x="111.90" y="364.00" font-family="Liberation Sans, sans-serif" font-size="5.8" fill="#222" text-anchor="end">−180</text>
<text x="113.20" y="367.70" font-family="Liberation Sans, sans-serif" font-size="5.8" fill="#222" text-anchor="middle">−180</text>
<text x="131.75" y="367.70" font-family="Liberation Sans, sans-serif" font-size="5.8" fill="#222" text-anchor="middle">−90</text>
<text x="150.31" y="367.70" font-family="Liberation Sans, sans-serif" font-size="5.8" fill="#222" text-anchor="middle">0</text>
<text x="168.87" y="367.70" font-family="Liberation Sans, sans-serif" font-size="5.8" fill="#222" text-anchor="middle">90</text>
<text x="187.42" y="367.70" font-family="Liberation Sans, sans-serif" font-size="5.8" fill="#222" text-anchor="middle">180</text>
<text x="205.98" y="367.70" font-family="Liberation Sans, sans-serif" font-size="5.8" fill="#222" text-anchor="middle">−90</text>
<text x="224.53" y="367.70" font-family="Liberation Sans, sans-serif" font-size="5.8" fill="#222" text-anchor="middle">0</text>
<text x="243.09" y="367.70" font-family="Liberation Sans, sans-serif" font-size="5.8" fill="#222" text-anchor="middle">90</text>
<text x="261.64" y="367.70" font-family="Liberation Sans, sans-serif" font-size="5.8" fill="#222" text-anchor="middle">180</text>
<text x="280.19" y="367.70" font-family="Liberation Sans, sans-serif" font-size="5.8" fill="#222" text-anchor="middle">−90</text>
<text x="298.75" y="367.70" font-family="Liberation Sans, sans-serif" font-size="5.8" fill="#222" text-anchor="middle">0</text>
<text x="317.31" y="367.70" font-family="Liberation Sans, sans-serif" font-size="5.8" fill="#222" text-anchor="middle">90</text>
<text x="335.86" y="367.70" font-family="Liberation Sans, sans-serif" font-size="5.8" fill="#222" text-anchor="middle">180</text>
<text x="354.42" y="367.70" font-family="Liberation Sans, sans-serif" font-size="5.8" fill="#222" text-anchor="middle">−90</text>
<text x="372.97" y="367.70" font-family="Liberation Sans, sans-serif" font-size="5.8" fill="#222" text-anchor="middle">0</text>
<text x="391.53" y="367.70" font-family="Liberation Sans, sans-serif" font-size="5.8" fill="#222" text-anchor="middle">90</text>
<text x="410.08" y="367.70" font-family="Liberation Sans, sans-serif" font-size="5.8" fill="#222" text-anchor="middle">180</text>
<text x="428.63" y="367.70" font-family="Liberation Sans, sans-serif" font-size="5.8" fill="#222" text-anchor="middle">−90</text>
<text x="447.19" y="367.70" font-family="Liberation Sans, sans-serif" font-size="5.8" fill="#222" text-anchor="middle">0</text>
<text x="465.75" y="367.70" font-family="Liberation Sans, sans-serif" font-size="5.8" fill="#222" text-anchor="middle">90</text>
<text x="484.30" y="367.70" font-family="Liberation Sans, sans-serif" font-size="5.8" fill="#222" text-anchor="middle">180</text>
<text x="502.86" y="367.70" font-family="Liberation Sans, sans-serif" font-size="5.8" fill="#222" text-anchor="middle">−90</text>
<text x="521.41" y="367.70" font-family="Liberation Sans, sans-serif" font-size="5.8" fill="#222" text-anchor="middle">0</text>
<text x="539.97" y="367.70" font-family="Liberation Sans, sans-serif" font-size="5.8" fill="#222" text-anchor="middle">90</text>
<text x="558.52" y="367.70" font-family="Liberation Sans, sans-serif" font-size="5.8" fill="#222" text-anchor="middle">180</text>
<text transform="translate(96.3,293.7) rotate(-90)" font-family="Liberation Sans, sans-serif" font-size="11" fill="#222" stroke="#222" stroke-width="0.25" text-anchor="middle">psi</text>
<text x="335.7" y="381.5" font-family="Liberation Sans, sans-serif" font-size="11.5" fill="#222" stroke="#222" stroke-width="0.25" text-anchor="middle">phi</text>
</svg></body></html>
